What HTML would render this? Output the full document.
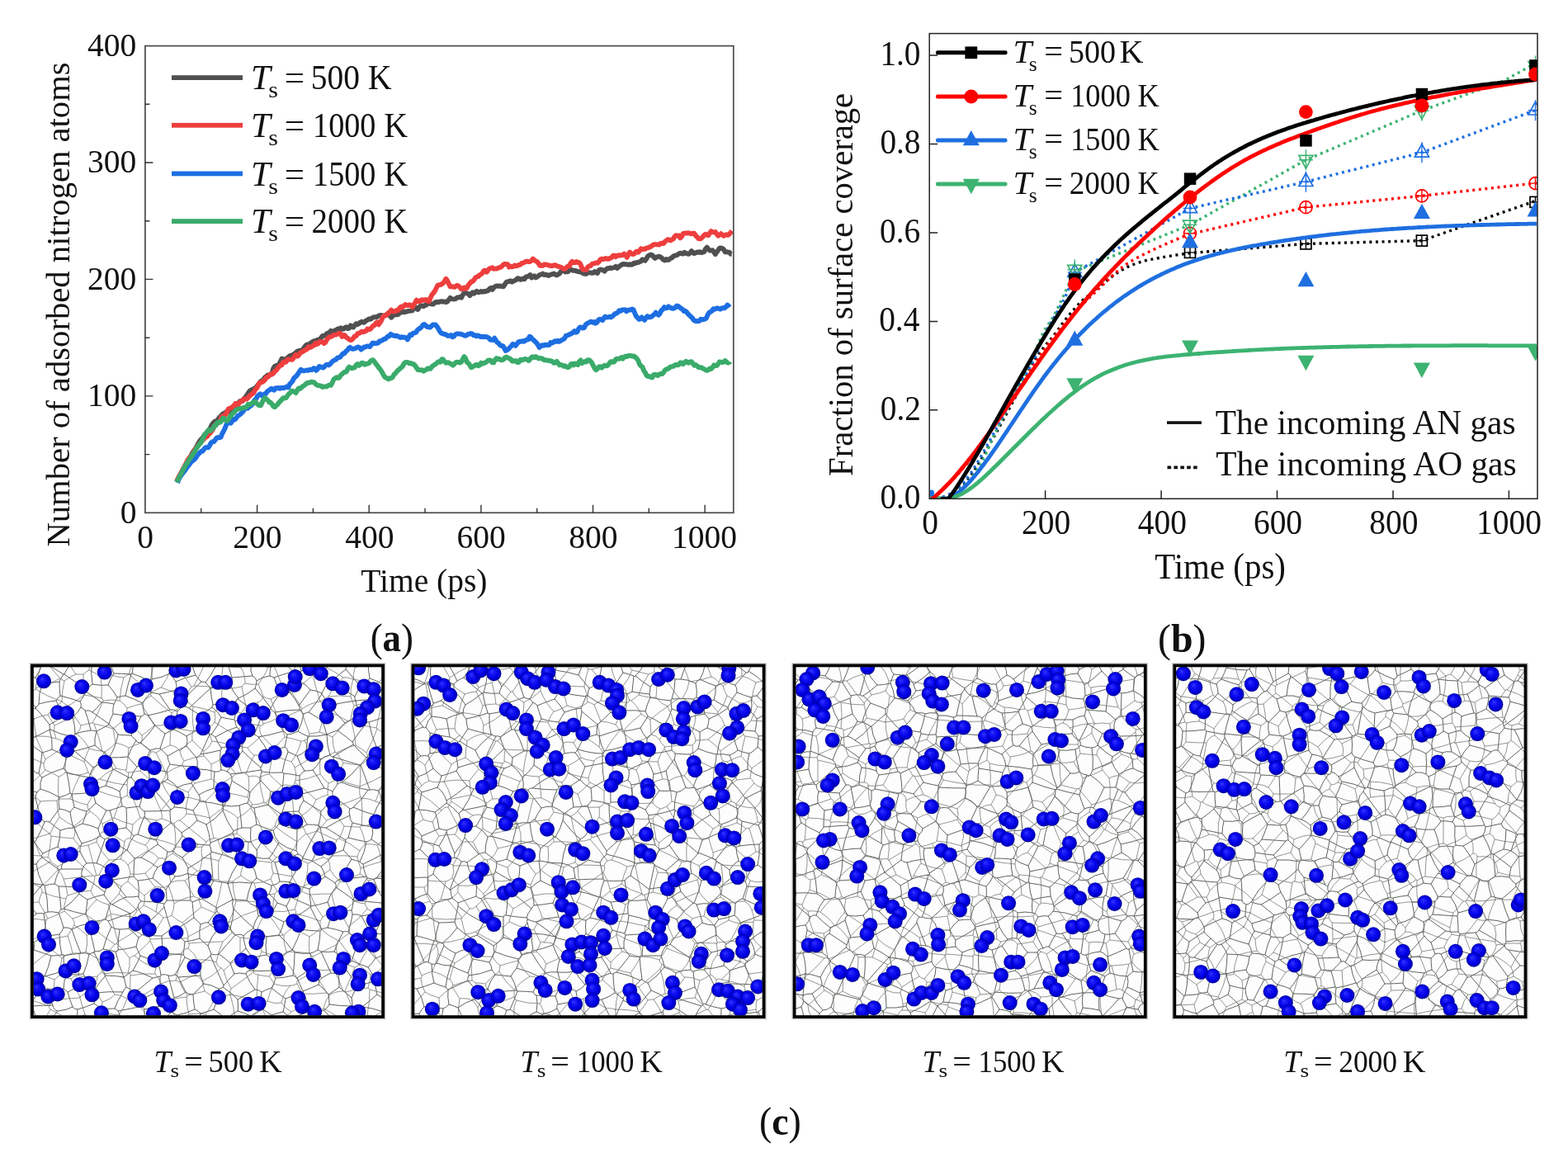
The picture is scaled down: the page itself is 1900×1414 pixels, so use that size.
<!DOCTYPE html><html><head><meta charset="utf-8"><style>
html,body{margin:0;padding:0;background:#fff;width:1900px;height:1414px;overflow:hidden}
svg{display:block}
text{font-family:'Liberation Serif', 'Times New Roman', serif;fill:#111}
.tl{font-size:36px}.al{font-size:38px}.yl{font-size:41px}.lg{font-size:40px}.sub{font-size:28px}
.tlb{font-size:37px}.alb{font-size:39px}.ylb{font-size:40px}.lgb{font-size:38px}.lgb2{font-size:40px}
.lc{font-size:34px}.subc{font-size:24px}.pl{font-size:40px}
</style></head><body>
<svg width="1900" height="1414" viewBox="0 0 1900 1414">
<rect width="1900" height="1414" fill="#fff"/>
<g id="pa">
<path d="M214.0,584.0L215.7,580.8L217.4,577.5L219.1,574.4L220.8,571.3L222.5,567.9L224.2,565.2L225.9,561.9L227.6,558.7L229.3,556.0L231.0,553.4L232.7,549.5L234.4,546.9L236.1,544.6L237.8,542.3L239.5,538.6L241.2,535.7L242.9,533.1L244.6,531.5L246.3,529.4L248.0,526.5L249.7,525.7L251.4,523.8L253.1,521.2L254.8,518.7L256.5,515.1L258.2,512.9L259.9,510.9L261.6,510.1L263.3,509.3L265.0,506.8L266.7,505.0L268.4,503.2L270.1,501.4L271.8,500.6L273.5,499.7L275.2,498.0L276.9,498.4L278.6,499.0L280.3,496.9L282.0,493.9L283.7,491.6L285.4,491.1L287.1,491.7L288.8,488.8L290.5,486.1L292.2,485.9L293.9,486.0L295.6,483.1L297.3,481.1L299.0,479.1L300.7,476.3L302.4,473.8L304.1,472.8L305.8,471.9L307.5,471.3L309.2,470.2L310.9,468.5L312.6,466.3L314.3,464.5L316.0,461.9L317.7,461.6L319.4,459.6L321.1,457.2L322.8,456.0L324.5,454.5L326.2,454.2L327.9,453.8L329.6,451.8L331.3,446.3L333.0,443.7L334.7,443.1L336.4,442.5L338.1,441.3L339.8,438.0L341.5,434.6L343.2,435.2L344.9,435.9L346.6,434.9L348.3,433.9L350.0,432.1L351.7,430.9L353.4,430.5L355.1,429.8L356.8,428.7L358.5,427.2L360.2,425.7L361.9,425.3L363.6,424.6L365.3,424.6L367.0,423.5L368.7,421.0L370.4,418.7L372.1,417.5L373.8,417.5L375.5,416.5L377.2,415.1L378.9,414.2L380.6,413.1L382.3,413.0L384.0,411.9L385.7,412.1L387.4,410.9L389.1,409.3L390.8,407.0L392.5,407.0L394.2,406.6L395.9,404.2L397.6,403.5L399.3,402.7L401.0,400.9L402.7,401.9L404.4,402.0L406.1,400.2L407.8,399.8L409.5,398.4L411.2,398.1L412.9,397.3L414.6,399.0L416.3,398.6L418.0,397.0L419.7,396.3L421.4,398.1L423.1,397.7L424.8,394.3L426.5,396.0L428.2,396.6L429.9,394.2L431.6,392.2L433.3,393.1L435.0,392.0L436.7,390.4L438.4,389.7L440.1,390.8L441.8,390.4L443.5,388.5L445.2,387.9L446.9,386.4L448.6,386.9L450.3,385.9L452.0,384.5L453.7,384.1L455.4,384.4L457.1,383.8L458.8,382.5L460.5,382.0L462.2,382.0L463.9,382.4L465.6,382.4L467.3,382.3L469.0,380.6L470.7,379.1L472.4,382.7L474.1,384.7L475.8,382.9L477.5,381.6L479.2,381.4L480.9,381.4L482.6,380.8L484.3,379.1L486.0,378.5L487.7,378.0L489.4,378.3L491.1,377.8L492.8,377.6L494.5,376.9L496.2,376.9L497.9,376.6L499.6,376.3L501.3,372.2L503.0,372.0L504.7,374.2L506.4,374.9L508.1,371.8L509.8,370.5L511.5,370.5L513.2,371.1L514.9,369.8L516.6,369.5L518.3,368.0L520.0,366.7L521.7,367.9L523.4,368.6L525.1,368.6L526.8,366.7L528.5,365.7L530.2,366.3L531.9,366.0L533.6,365.4L535.3,365.1L537.0,365.7L538.7,365.4L540.4,366.2L542.1,365.3L543.8,363.2L545.5,360.9L547.2,362.1L548.9,362.4L550.6,362.5L552.3,362.0L554.0,360.5L555.7,360.4L557.4,359.9L559.1,360.6L560.8,357.2L562.5,355.1L564.2,355.0L565.9,355.4L567.6,356.1L569.3,358.2L571.0,355.9L572.7,354.3L574.4,355.6L576.1,353.9L577.8,352.8L579.5,354.4L581.2,354.0L582.9,352.9L584.6,353.7L586.3,353.0L588.0,353.3L589.7,352.5L591.4,352.3L593.1,350.0L594.8,348.9L596.5,351.0L598.2,348.6L599.9,347.2L601.6,346.4L603.3,346.5L605.0,346.7L606.7,346.5L608.4,347.0L610.1,347.2L611.8,344.4L613.5,341.9L615.2,341.2L616.9,340.8L618.6,340.2L620.3,341.6L622.0,340.6L623.7,339.8L625.4,339.2L627.1,337.3L628.8,337.4L630.5,338.8L632.2,338.3L633.9,337.5L635.6,338.2L637.3,335.5L639.0,335.2L640.7,334.4L642.4,333.0L644.1,336.5L645.8,335.7L647.5,334.3L649.2,336.4L650.9,335.6L652.6,334.1L654.3,332.8L656.0,332.5L657.7,331.6L659.4,333.1L661.1,332.7L662.8,333.1L664.5,334.0L666.2,333.2L667.9,332.7L669.6,332.2L671.3,331.4L673.0,332.7L674.7,333.4L676.4,332.5L678.1,331.3L679.8,328.9L681.5,327.7L683.2,327.7L684.9,329.5L686.6,329.1L688.3,329.2L690.0,327.1L691.7,326.5L693.4,327.2L695.1,327.9L696.8,327.9L698.5,328.4L700.2,329.0L701.9,329.3L703.6,329.0L705.3,330.5L707.0,331.4L708.7,331.9L710.4,331.8L712.1,330.6L713.8,330.4L715.5,330.4L717.2,330.9L718.9,330.6L720.6,329.0L722.3,330.4L724.0,331.0L725.7,327.4L727.4,326.5L729.1,326.6L730.8,327.4L732.5,328.6L734.2,326.6L735.9,325.1L737.6,325.3L739.3,324.4L741.0,325.0L742.7,324.5L744.4,324.1L746.1,322.9L747.8,324.9L749.5,323.5L751.2,322.2L752.9,321.1L754.6,320.0L756.3,319.9L758.0,320.4L759.7,320.3L761.4,320.9L763.1,320.1L764.8,320.8L766.5,320.4L768.2,318.7L769.9,319.0L771.6,317.9L773.3,318.0L775.0,317.3L776.7,316.6L778.4,314.4L780.1,314.8L781.8,315.8L783.5,313.1L785.2,310.3L786.9,309.3L788.6,308.5L790.3,309.0L792.0,311.4L793.7,312.9L795.4,311.5L797.1,311.2L798.8,310.7L800.5,311.4L802.2,312.9L803.9,314.7L805.6,315.5L807.3,314.0L809.0,315.1L810.7,314.7L812.4,313.0L814.1,312.5L815.8,310.5L817.5,309.6L819.2,309.6L820.9,308.7L822.6,307.4L824.3,306.6L826.0,307.1L827.7,307.6L829.4,305.7L831.1,306.8L832.8,307.3L834.5,307.9L836.2,306.7L837.9,304.0L839.6,306.3L841.3,307.1L843.0,306.2L844.7,305.5L846.4,305.8L848.1,305.1L849.8,306.1L851.5,305.6L853.2,305.2L854.9,301.6L856.6,299.7L858.3,301.7L860.0,303.5L861.7,303.4L863.4,303.2L865.1,305.6L866.8,308.1L868.5,305.5L870.2,303.2L871.9,300.7L873.6,300.4L875.3,301.1L877.0,302.2L878.7,305.4L880.4,305.2L882.1,305.6L883.8,305.8L885.5,307.7L886.8,307.8" fill="none" stroke="#505050" stroke-width="5.9" stroke-linejoin="round" stroke-linecap="butt"/>
<path d="M214.0,583.0L215.7,579.7L217.4,576.4L219.1,573.6L220.8,570.1L222.5,566.9L224.2,564.0L225.9,560.5L227.6,557.1L229.3,554.7L231.0,553.2L232.7,551.5L234.4,548.1L236.1,544.9L237.8,543.0L239.5,540.3L241.2,538.3L242.9,536.9L244.6,534.4L246.3,532.7L248.0,530.8L249.7,529.8L251.4,528.4L253.1,526.0L254.8,524.7L256.5,522.5L258.2,519.5L259.9,516.3L261.6,513.9L263.3,512.9L265.0,511.9L266.7,510.6L268.4,505.0L270.1,504.0L271.8,503.4L273.5,502.1L275.2,498.7L276.9,495.3L278.6,494.7L280.3,494.2L282.0,492.6L283.7,491.3L285.4,488.9L287.1,490.7L288.8,489.9L290.5,487.2L292.2,486.5L293.9,485.1L295.6,483.3L297.3,483.5L299.0,483.5L300.7,481.5L302.4,479.8L304.1,478.3L305.8,477.2L307.5,475.6L309.2,472.1L310.9,470.6L312.6,467.8L314.3,463.8L316.0,463.4L317.7,462.9L319.4,461.9L321.1,460.1L322.8,457.0L324.5,456.9L326.2,455.2L327.9,453.3L329.6,453.6L331.3,452.4L333.0,449.8L334.7,448.8L336.4,446.4L338.1,444.3L339.8,442.5L341.5,442.3L343.2,438.4L344.9,438.9L346.6,438.7L348.3,435.5L350.0,435.5L351.7,435.6L353.4,435.8L355.1,434.9L356.8,431.7L358.5,429.9L360.2,431.6L361.9,430.6L363.6,427.7L365.3,426.8L367.0,425.9L368.7,424.8L370.4,423.8L372.1,423.0L373.8,420.2L375.5,421.1L377.2,420.4L378.9,419.2L380.6,418.4L382.3,415.5L384.0,417.1L385.7,416.2L387.4,413.9L389.1,414.1L390.8,414.1L392.5,416.1L394.2,415.0L395.9,411.9L397.6,409.3L399.3,408.4L401.0,408.0L402.7,407.0L404.4,406.0L406.1,405.7L407.8,405.4L409.5,404.5L411.2,403.4L412.9,404.8L414.6,408.0L416.3,405.9L418.0,406.4L419.7,408.9L421.4,409.8L423.1,411.4L424.8,412.2L426.5,411.7L428.2,409.7L429.9,407.3L431.6,407.0L433.3,404.2L435.0,403.9L436.7,402.9L438.4,401.7L440.1,402.2L441.8,401.6L443.5,400.9L445.2,398.6L446.9,399.3L448.6,398.9L450.3,396.9L452.0,394.7L453.7,394.1L455.4,391.6L457.1,390.4L458.8,393.3L460.5,390.9L462.2,388.0L463.9,384.1L465.6,382.5L467.3,382.1L469.0,381.0L470.7,379.5L472.4,377.6L474.1,375.7L475.8,377.2L477.5,377.6L479.2,377.0L480.9,375.8L482.6,376.0L484.3,373.2L486.0,371.6L487.7,372.5L489.4,370.7L491.1,369.0L492.8,369.8L494.5,370.2L496.2,369.2L497.9,369.9L499.6,372.1L501.3,369.3L503.0,366.8L504.7,363.7L506.4,364.9L508.1,365.6L509.8,364.0L511.5,363.2L513.2,363.9L514.9,363.2L516.6,363.1L518.3,364.8L520.0,365.0L521.7,360.7L523.4,357.0L525.1,355.1L526.8,352.9L528.5,349.5L530.2,346.0L531.9,345.2L533.6,345.1L535.3,344.2L537.0,343.1L538.7,340.8L540.4,337.8L542.1,340.2L543.8,343.8L545.5,347.3L547.2,347.1L548.9,347.4L550.6,347.9L552.3,346.6L554.0,345.8L555.7,346.7L557.4,348.3L559.1,350.4L560.8,349.9L562.5,348.4L564.2,350.0L565.9,348.6L567.6,345.3L569.3,343.5L571.0,341.1L572.7,341.1L574.4,339.2L576.1,336.4L577.8,335.5L579.5,334.9L581.2,333.1L582.9,332.3L584.6,330.8L586.3,327.9L588.0,327.8L589.7,329.6L591.4,327.4L593.1,325.4L594.8,325.0L596.5,324.3L598.2,325.8L599.9,325.6L601.6,325.6L603.3,325.0L605.0,324.1L606.7,323.8L608.4,322.4L610.1,320.5L611.8,319.8L613.5,320.1L615.2,320.3L616.9,323.7L618.6,322.6L620.3,323.3L622.0,322.9L623.7,321.4L625.4,322.3L627.1,321.8L628.8,321.1L630.5,320.6L632.2,318.9L633.9,318.6L635.6,317.8L637.3,316.7L639.0,316.6L640.7,317.2L642.4,316.8L644.1,315.6L645.8,313.5L647.5,315.3L649.2,316.3L650.9,317.2L652.6,319.3L654.3,321.7L656.0,321.5L657.7,321.8L659.4,320.5L661.1,320.4L662.8,320.9L664.5,321.1L666.2,322.0L667.9,321.9L669.6,322.2L671.3,321.2L673.0,321.2L674.7,322.3L676.4,322.7L678.1,323.3L679.8,323.9L681.5,324.8L683.2,325.9L684.9,325.7L686.6,323.9L688.3,322.4L690.0,322.2L691.7,318.5L693.4,316.8L695.1,318.4L696.8,318.1L698.5,317.1L700.2,318.1L701.9,318.1L703.6,320.6L705.3,325.2L707.0,326.9L708.7,326.6L710.4,326.8L712.1,323.6L713.8,322.4L715.5,322.1L717.2,320.0L718.9,319.4L720.6,319.0L722.3,318.4L724.0,318.7L725.7,317.3L727.4,314.5L729.1,313.7L730.8,314.2L732.5,313.7L734.2,312.9L735.9,313.8L737.6,313.9L739.3,312.6L741.0,312.4L742.7,309.9L744.4,309.5L746.1,311.1L747.8,310.0L749.5,309.2L751.2,309.5L752.9,309.3L754.6,309.2L756.3,307.5L758.0,309.0L759.7,311.8L761.4,308.5L763.1,305.5L764.8,307.2L766.5,308.0L768.2,307.9L769.9,305.8L771.6,304.5L773.3,305.7L775.0,304.0L776.7,301.2L778.4,302.1L780.1,301.8L781.8,301.8L783.5,300.4L785.2,300.2L786.9,299.5L788.6,298.8L790.3,297.5L792.0,296.3L793.7,296.3L795.4,296.4L797.1,296.3L798.8,296.5L800.5,295.0L802.2,294.8L803.9,295.1L805.6,292.9L807.3,291.6L809.0,290.1L810.7,290.4L812.4,291.4L814.1,290.4L815.8,289.6L817.5,286.5L819.2,285.2L820.9,285.8L822.6,285.5L824.3,288.3L826.0,286.7L827.7,283.1L829.4,282.7L831.1,282.4L832.8,282.6L834.5,282.2L836.2,282.8L837.9,283.4L839.6,282.6L841.3,282.8L843.0,285.5L844.7,287.1L846.4,289.1L848.1,289.4L849.8,288.7L851.5,287.1L853.2,285.0L854.9,283.8L856.6,284.5L858.3,285.2L860.0,282.4L861.7,280.2L863.4,281.4L865.1,281.4L866.8,281.0L868.5,283.6L870.2,285.7L871.9,284.6L873.6,283.1L875.3,284.6L877.0,285.8L878.7,284.7L880.4,284.3L882.1,284.9L883.8,283.7L885.5,281.5L886.8,279.6" fill="none" stroke="#ee3e3e" stroke-width="5.9" stroke-linejoin="round" stroke-linecap="butt"/>
<path d="M215.0,585.0L216.7,580.3L218.4,577.7L220.1,575.1L221.8,573.0L223.5,570.7L225.2,568.4L226.9,565.9L228.6,563.9L230.3,561.6L232.0,559.4L233.7,558.2L235.4,556.7L237.1,554.9L238.8,552.2L240.5,550.2L242.2,548.4L243.9,546.8L245.6,546.5L247.3,544.1L249.0,542.3L250.7,542.3L252.4,542.3L254.1,539.7L255.8,536.5L257.5,535.3L259.2,535.1L260.9,532.9L262.6,530.6L264.3,529.9L266.0,530.3L267.7,529.5L269.4,525.2L271.1,522.1L272.8,518.5L274.5,514.2L276.2,512.2L277.9,512.1L279.6,512.8L281.3,510.4L283.0,507.9L284.7,508.4L286.4,506.4L288.1,503.7L289.8,503.0L291.5,501.7L293.2,500.0L294.9,498.3L296.6,494.9L298.3,494.7L300.0,494.8L301.7,493.2L303.4,491.9L305.1,490.6L306.8,488.5L308.5,484.8L310.2,483.5L311.9,480.1L313.6,478.5L315.3,477.3L317.0,479.3L318.7,479.1L320.4,477.3L322.1,477.0L323.8,474.2L325.5,473.2L327.2,472.1L328.9,470.7L330.6,472.0L332.3,472.7L334.0,470.1L335.7,470.3L337.4,470.0L339.1,470.8L340.8,470.0L342.5,469.9L344.2,470.1L345.9,469.2L347.6,468.5L349.3,469.5L351.0,465.5L352.7,463.9L354.4,461.9L356.1,458.2L357.8,456.7L359.5,455.2L361.2,452.8L362.9,450.1L364.6,447.7L366.3,448.7L368.0,449.4L369.7,449.0L371.4,448.5L373.1,449.0L374.8,448.0L376.5,448.0L378.2,448.0L379.9,446.2L381.6,446.7L383.3,448.8L385.0,447.0L386.7,444.0L388.4,444.3L390.1,445.3L391.8,445.5L393.5,443.8L395.2,442.0L396.9,441.6L398.6,442.4L400.3,440.9L402.0,438.7L403.7,437.3L405.4,436.3L407.1,435.7L408.8,433.6L410.5,433.2L412.2,432.6L413.9,430.5L415.6,428.4L417.3,428.3L419.0,425.9L420.7,424.6L422.4,422.0L424.1,420.9L425.8,422.5L427.5,422.9L429.2,422.4L430.9,422.1L432.6,420.9L434.3,420.4L436.0,421.5L437.7,423.5L439.4,422.2L441.1,420.5L442.8,420.5L444.5,419.5L446.2,419.4L447.9,420.1L449.6,418.3L451.3,415.8L453.0,415.7L454.7,416.1L456.4,416.0L458.1,415.6L459.8,413.4L461.5,413.3L463.2,412.3L464.9,411.0L466.6,410.8L468.3,409.3L470.0,407.4L471.7,407.3L473.4,404.9L475.1,405.7L476.8,406.7L478.5,407.1L480.2,406.6L481.9,407.2L483.6,408.2L485.3,409.1L487.0,408.2L488.7,408.8L490.4,408.7L492.1,409.3L493.8,411.5L495.5,408.1L497.2,405.4L498.9,406.1L500.6,403.7L502.3,403.4L504.0,402.8L505.7,400.2L507.4,398.6L509.1,397.6L510.8,396.2L512.5,393.7L514.2,392.9L515.9,394.6L517.6,396.0L519.3,396.2L521.0,396.7L522.7,395.3L524.4,393.5L526.1,393.4L527.8,393.5L529.5,395.6L531.2,398.2L532.9,401.5L534.6,403.6L536.3,404.1L538.0,404.9L539.7,405.0L541.4,406.2L543.1,407.0L544.8,406.6L546.5,406.1L548.2,408.3L549.9,407.7L551.6,405.5L553.3,404.4L555.0,404.4L556.7,404.7L558.4,404.7L560.1,405.3L561.8,406.1L563.5,406.8L565.2,406.3L566.9,405.0L568.6,404.8L570.3,404.0L572.0,404.4L573.7,406.3L575.4,405.9L577.1,407.4L578.8,406.4L580.5,407.0L582.2,408.2L583.9,407.9L585.6,408.2L587.3,408.0L589.0,408.0L590.7,408.6L592.4,409.5L594.1,411.7L595.8,411.7L597.5,412.0L599.2,409.7L600.9,412.5L602.6,415.0L604.3,415.9L606.0,418.2L607.7,419.0L609.4,419.2L611.1,421.8L612.8,425.0L614.5,424.1L616.2,422.9L617.9,420.9L619.6,419.4L621.3,417.0L623.0,417.3L624.7,418.8L626.4,416.7L628.1,414.5L629.8,413.7L631.5,413.9L633.2,413.1L634.9,413.7L636.6,412.6L638.3,411.7L640.0,411.4L641.7,407.8L643.4,408.5L645.1,411.1L646.8,412.1L648.5,414.0L650.2,415.5L651.9,418.0L653.6,420.9L655.3,419.3L657.0,418.1L658.7,418.7L660.4,417.7L662.1,418.0L663.8,418.1L665.5,417.9L667.2,415.1L668.9,415.6L670.6,414.6L672.3,413.2L674.0,413.9L675.7,412.8L677.4,413.9L679.1,413.1L680.8,412.0L682.5,411.1L684.2,410.0L685.9,406.7L687.6,406.4L689.3,405.5L691.0,404.9L692.7,403.9L694.4,402.8L696.1,401.2L697.8,402.7L699.5,402.0L701.2,398.2L702.9,396.4L704.6,396.7L706.3,397.6L708.0,396.9L709.7,393.3L711.4,392.0L713.1,391.2L714.8,390.2L716.5,389.7L718.2,390.7L719.9,390.1L721.6,391.8L723.3,390.8L725.0,387.8L726.7,386.7L728.4,387.2L730.1,388.1L731.8,385.4L733.5,383.6L735.2,384.5L736.9,384.4L738.6,383.6L740.3,384.5L742.0,383.2L743.7,381.7L745.4,380.0L747.1,379.7L748.8,378.3L750.5,376.2L752.2,376.8L753.9,375.4L755.6,375.4L757.3,375.1L759.0,377.2L760.7,376.1L762.4,375.4L764.1,375.5L765.8,374.5L767.5,375.2L769.2,379.4L770.9,383.2L772.6,384.9L774.3,387.0L776.0,386.5L777.7,384.5L779.4,386.2L781.1,387.8L782.8,385.0L784.5,383.1L786.2,384.4L787.9,384.2L789.6,383.7L791.3,382.0L793.0,380.8L794.7,378.7L796.4,380.7L798.1,381.7L799.8,379.6L801.5,376.0L803.2,374.8L804.9,372.1L806.6,373.5L808.3,373.0L810.0,371.4L811.7,372.5L813.4,373.2L815.1,373.9L816.8,373.4L818.5,372.5L820.2,370.5L821.9,371.0L823.6,372.5L825.3,373.7L827.0,374.8L828.7,377.1L830.4,376.8L832.1,378.3L833.8,380.5L835.5,382.0L837.2,383.8L838.9,385.2L840.6,387.9L842.3,388.8L844.0,389.4L845.7,389.0L847.4,389.0L849.1,386.8L850.8,387.3L852.5,387.0L854.2,386.7L855.9,385.4L857.6,381.4L859.3,378.7L861.0,377.8L862.7,376.8L864.4,374.2L866.1,374.8L867.8,373.7L869.5,373.3L871.2,374.2L872.9,374.6L874.6,373.4L876.3,373.0L878.0,373.2L879.7,371.8L881.4,369.5L883.1,371.0L884.1,372.3" fill="none" stroke="#1d6ee2" stroke-width="5.9" stroke-linejoin="round" stroke-linecap="butt"/>
<path d="M214.0,584.0L215.7,580.9L217.4,577.7L219.1,574.7L220.8,571.4L222.5,568.0L224.2,565.0L225.9,562.3L227.6,559.6L229.3,556.7L231.0,554.5L232.7,552.0L234.4,549.5L236.1,546.7L237.8,543.5L239.5,541.3L241.2,538.7L242.9,537.1L244.6,534.2L246.3,530.5L248.0,526.9L249.7,524.8L251.4,522.5L253.1,520.9L254.8,522.0L256.5,520.4L258.2,518.9L259.9,515.9L261.6,515.4L263.3,512.0L265.0,511.1L266.7,511.7L268.4,509.9L270.1,506.6L271.8,507.0L273.5,509.3L275.2,510.1L276.9,507.8L278.6,504.9L280.3,503.4L282.0,500.7L283.7,499.6L285.4,497.1L287.1,496.3L288.8,495.5L290.5,495.4L292.2,494.6L293.9,494.8L295.6,493.7L297.3,493.8L299.0,492.7L300.7,489.8L302.4,490.3L304.1,489.7L305.8,488.1L307.5,487.3L309.2,486.5L310.9,488.8L312.6,490.2L314.3,491.4L316.0,491.3L317.7,487.6L319.4,484.1L321.1,481.9L322.8,483.6L324.5,484.8L326.2,487.5L327.9,487.7L329.6,489.6L331.3,492.7L333.0,493.1L334.7,491.4L336.4,490.1L338.1,487.6L339.8,486.0L341.5,484.0L343.2,482.1L344.9,482.5L346.6,482.0L348.3,479.5L350.0,477.3L351.7,476.0L353.4,473.8L355.1,474.0L356.8,474.5L358.5,476.0L360.2,472.9L361.9,470.4L363.6,471.0L365.3,469.5L367.0,468.0L368.7,467.0L370.4,465.5L372.1,464.0L373.8,463.8L375.5,463.5L377.2,462.8L378.9,463.0L380.6,463.3L382.3,465.1L384.0,466.5L385.7,467.1L387.4,467.3L389.1,467.6L390.8,469.1L392.5,468.4L394.2,468.4L395.9,468.5L397.6,467.2L399.3,466.4L401.0,466.8L402.7,463.6L404.4,459.6L406.1,458.4L407.8,457.2L409.5,458.1L411.2,457.4L412.9,454.5L414.6,453.2L416.3,451.5L418.0,450.9L419.7,450.4L421.4,446.7L423.1,444.6L424.8,445.9L426.5,446.0L428.2,445.8L429.9,445.2L431.6,442.4L433.3,441.0L435.0,442.9L436.7,441.6L438.4,439.7L440.1,439.9L441.8,441.7L443.5,441.1L445.2,440.6L446.9,440.2L448.6,438.0L450.3,436.6L452.0,436.2L453.7,438.2L455.4,440.8L457.1,442.7L458.8,445.3L460.5,447.1L462.2,449.6L463.9,452.8L465.6,455.9L467.3,457.7L469.0,458.1L470.7,459.4L472.4,458.2L474.1,458.2L475.8,457.0L477.5,453.7L479.2,452.4L480.9,450.1L482.6,448.4L484.3,447.0L486.0,445.4L487.7,444.1L489.4,440.6L491.1,439.2L492.8,438.8L494.5,439.1L496.2,440.3L497.9,440.0L499.6,441.1L501.3,441.2L503.0,443.0L504.7,445.5L506.4,448.0L508.1,448.2L509.8,448.4L511.5,448.3L513.2,449.8L514.9,448.6L516.6,447.9L518.3,446.3L520.0,446.9L521.7,446.7L523.4,444.2L525.1,442.7L526.8,441.7L528.5,440.7L530.2,439.1L531.9,438.1L533.6,438.7L535.3,435.2L537.0,435.5L538.7,438.3L540.4,439.7L542.1,439.2L543.8,439.5L545.5,440.4L547.2,441.3L548.9,442.6L550.6,441.0L552.3,439.1L554.0,438.7L555.7,438.9L557.4,439.5L559.1,438.6L560.8,435.0L562.5,432.1L564.2,434.1L565.9,439.1L567.6,439.9L569.3,442.4L571.0,445.3L572.7,444.6L574.4,443.4L576.1,442.3L577.8,441.7L579.5,443.2L581.2,442.5L582.9,439.7L584.6,440.7L586.3,440.0L588.0,439.4L589.7,438.5L591.4,436.6L593.1,436.4L594.8,436.6L596.5,439.2L598.2,439.3L599.9,436.0L601.6,434.1L603.3,435.2L605.0,434.8L606.7,436.0L608.4,436.3L610.1,435.6L611.8,433.4L613.5,432.5L615.2,433.4L616.9,434.3L618.6,434.9L620.3,437.3L622.0,437.7L623.7,437.1L625.4,437.3L627.1,439.1L628.8,438.9L630.5,435.8L632.2,436.3L633.9,436.0L635.6,435.0L637.3,435.0L639.0,435.9L640.7,437.0L642.4,435.0L644.1,433.0L645.8,432.2L647.5,433.2L649.2,432.1L650.9,433.0L652.6,434.4L654.3,434.2L656.0,434.0L657.7,434.9L659.4,436.3L661.1,436.2L662.8,436.6L664.5,437.0L666.2,436.9L667.9,437.6L669.6,438.1L671.3,439.8L673.0,439.5L674.7,438.0L676.4,440.1L678.1,442.4L679.8,442.0L681.5,442.5L683.2,443.9L684.9,443.3L686.6,444.7L688.3,445.1L690.0,444.3L691.7,441.4L693.4,440.8L695.1,442.4L696.8,440.4L698.5,440.6L700.2,442.0L701.9,438.3L703.6,436.4L705.3,440.1L707.0,439.0L708.7,437.9L710.4,438.6L712.1,436.2L713.8,436.2L715.5,437.5L717.2,439.6L718.9,443.1L720.6,446.4L722.3,448.2L724.0,446.9L725.7,444.4L727.4,444.3L729.1,445.6L730.8,444.0L732.5,442.7L734.2,443.2L735.9,443.0L737.6,441.5L739.3,438.8L741.0,438.0L742.7,438.9L744.4,438.2L746.1,435.2L747.8,434.6L749.5,434.7L751.2,434.5L752.9,433.1L754.6,434.7L756.3,432.4L758.0,431.7L759.7,432.2L761.4,431.0L763.1,431.0L764.8,431.1L766.5,431.8L768.2,431.5L769.9,432.9L771.6,434.3L773.3,436.8L775.0,441.4L776.7,443.5L778.4,444.5L780.1,448.9L781.8,451.4L783.5,454.9L785.2,456.0L786.9,455.9L788.6,457.1L790.3,457.5L792.0,454.2L793.7,453.8L795.4,454.4L797.1,455.1L798.8,453.4L800.5,453.0L802.2,453.1L803.9,451.4L805.6,448.9L807.3,447.5L809.0,446.9L810.7,446.1L812.4,444.4L814.1,444.2L815.8,443.9L817.5,442.5L819.2,441.9L820.9,442.4L822.6,442.0L824.3,439.4L826.0,439.4L827.7,441.1L829.4,439.6L831.1,437.8L832.8,438.9L834.5,439.8L836.2,438.4L837.9,438.3L839.6,440.4L841.3,442.7L843.0,442.0L844.7,443.4L846.4,445.0L848.1,445.2L849.8,445.1L851.5,446.4L853.2,447.2L854.9,448.4L856.6,448.8L858.3,448.4L860.0,446.4L861.7,447.0L863.4,445.3L865.1,442.4L866.8,443.1L868.5,443.0L870.2,441.0L871.9,438.4L873.6,438.9L875.3,439.1L877.0,438.5L878.7,437.0L880.4,438.8L882.1,439.6L883.8,439.0L884.1,438.1" fill="none" stroke="#3aab6a" stroke-width="5.9" stroke-linejoin="round" stroke-linecap="butt"/>
<rect x="175.9" y="55.6" width="712.9" height="565.7" fill="none" stroke="#4a4a4a" stroke-width="1.7"/>
<path d="M243.7,621.3V615.8M311.6,621.3V611.8M379.4,621.3V615.8M447.2,621.3V611.8M515.0,621.3V615.8M582.9,621.3V611.8M650.7,621.3V615.8M718.5,621.3V611.8M786.3,621.3V615.8M854.1,621.3V611.8M175.9,550.6H181.4M175.9,479.9H185.4M175.9,409.2H181.4M175.9,338.4H185.4M175.9,267.7H181.4M175.9,197.0H185.4M175.9,126.3H181.4" stroke="#333" stroke-width="1.4" fill="none"/>
<text x="166.32" y="664.00" font-size="40.90" textLength="19.75" lengthAdjust="spacingAndGlyphs">0</text>
<text x="282.22" y="664.00" font-size="40.90" textLength="59.26" lengthAdjust="spacingAndGlyphs">200</text>
<text x="418.26" y="664.00" font-size="40.90" textLength="59.26" lengthAdjust="spacingAndGlyphs">400</text>
<text x="553.52" y="664.00" font-size="40.90" textLength="59.26" lengthAdjust="spacingAndGlyphs">600</text>
<text x="689.17" y="664.00" font-size="40.90" textLength="59.26" lengthAdjust="spacingAndGlyphs">800</text>
<text x="813.95" y="664.00" font-size="40.90" textLength="79.02" lengthAdjust="spacingAndGlyphs">1000</text>
<text x="145.63" y="633.60" font-size="40.90" textLength="19.75" lengthAdjust="spacingAndGlyphs">0</text>
<text x="106.12" y="492.18" font-size="40.90" textLength="59.26" lengthAdjust="spacingAndGlyphs">100</text>
<text x="106.12" y="350.75" font-size="40.90" textLength="59.26" lengthAdjust="spacingAndGlyphs">200</text>
<text x="106.12" y="209.33" font-size="40.90" textLength="59.26" lengthAdjust="spacingAndGlyphs">300</text>
<text x="106.12" y="67.90" font-size="40.90" textLength="59.26" lengthAdjust="spacingAndGlyphs">400</text>
<text x="437.31" y="716.70" font-size="41.10" textLength="153.08" lengthAdjust="spacingAndGlyphs">Time (ps)</text>
<text transform="translate(83.60,0) rotate(-90)" x="-662.62" y="0" font-size="40.60" textLength="587.29" lengthAdjust="spacingAndGlyphs">Number of adsorbed nitrogen atoms</text>
<rect x="208" y="91.2" width="86" height="5.8" fill="#505050"/>
<text x="304.01" y="108.40" font-size="41.80" textLength="23.76" lengthAdjust="spacingAndGlyphs" font-style="italic">T</text>
<text x="325.30" y="118.20" font-size="26.70" textLength="11.68" lengthAdjust="spacingAndGlyphs">s</text>
<text x="344.75" y="108.40" font-size="41.80" textLength="24.28" lengthAdjust="spacingAndGlyphs">=</text>
<text x="376.73" y="108.40" font-size="41.80" textLength="59.14" lengthAdjust="spacingAndGlyphs">500</text>
<text x="445.80" y="108.40" font-size="41.80" textLength="28.89" lengthAdjust="spacingAndGlyphs">K</text>
<rect x="208" y="148.9" width="86" height="5.8" fill="#ee3e3e"/>
<text x="304.01" y="166.10" font-size="41.80" textLength="23.76" lengthAdjust="spacingAndGlyphs" font-style="italic">T</text>
<text x="325.30" y="175.90" font-size="26.70" textLength="11.68" lengthAdjust="spacingAndGlyphs">s</text>
<text x="344.75" y="166.10" font-size="41.80" textLength="24.28" lengthAdjust="spacingAndGlyphs">=</text>
<text x="379.07" y="166.10" font-size="41.80" textLength="76.26" lengthAdjust="spacingAndGlyphs">1000</text>
<text x="465.30" y="166.10" font-size="41.80" textLength="28.89" lengthAdjust="spacingAndGlyphs">K</text>
<rect x="208" y="207.5" width="86" height="5.8" fill="#1d6ee2"/>
<text x="304.01" y="224.70" font-size="41.80" textLength="23.76" lengthAdjust="spacingAndGlyphs" font-style="italic">T</text>
<text x="325.30" y="234.50" font-size="26.70" textLength="11.68" lengthAdjust="spacingAndGlyphs">s</text>
<text x="344.75" y="224.70" font-size="41.80" textLength="24.28" lengthAdjust="spacingAndGlyphs">=</text>
<text x="379.07" y="224.70" font-size="41.80" textLength="76.26" lengthAdjust="spacingAndGlyphs">1500</text>
<text x="465.30" y="224.70" font-size="41.80" textLength="28.89" lengthAdjust="spacingAndGlyphs">K</text>
<rect x="208" y="265.2" width="86" height="5.8" fill="#3aab6a"/>
<text x="304.01" y="282.40" font-size="41.80" textLength="23.76" lengthAdjust="spacingAndGlyphs" font-style="italic">T</text>
<text x="325.30" y="292.20" font-size="26.70" textLength="11.68" lengthAdjust="spacingAndGlyphs">s</text>
<text x="344.75" y="282.40" font-size="41.80" textLength="24.28" lengthAdjust="spacingAndGlyphs">=</text>
<text x="377.54" y="282.40" font-size="41.80" textLength="77.81" lengthAdjust="spacingAndGlyphs">2000</text>
<text x="465.30" y="282.40" font-size="41.80" textLength="28.89" lengthAdjust="spacingAndGlyphs">K</text>
</g>
<g id="pb">
<defs><clipPath id="cb"><rect x="1126.9" y="40.6" width="736.1" height="563.7"/></clipPath></defs>
<g clip-path="url(#cb)">
<path d="M1127.0,604.0 C1129.2,603.9 1134.7,604.9 1140.0,603.5 C1145.3,602.1 1152.6,600.5 1159.0,595.5 C1165.4,590.5 1170.8,584.6 1178.2,573.8 C1185.6,563.0 1195.1,545.6 1203.6,530.6 C1212.1,515.6 1220.6,499.4 1229.1,483.5 C1237.6,467.6 1246.6,448.0 1254.6,435.1 C1262.6,422.2 1270.4,415.0 1277.0,406.4 C1283.6,397.8 1288.3,390.4 1294.0,383.5 C1299.7,376.6 1306.0,369.6 1310.9,364.8 C1315.9,360.0 1316.7,360.2 1323.7,354.6 C1330.7,349.0 1343.8,337.0 1353.0,331.0 C1362.2,325.0 1369.5,321.7 1378.8,318.5 C1388.0,315.3 1398.0,313.8 1408.5,311.8 C1419.0,309.8 1436.4,307.5 1442.0,306.6 L1582.4,295.4 L1722.9,291.6 L1862.0,243.0" fill="none" stroke="#000000" stroke-width="3.4" stroke-dasharray="3.0 4.6"/>
<path d="M1127.0,604.0 C1128.8,603.0 1130.9,604.3 1137.9,597.9 C1144.9,591.5 1158.2,578.1 1168.8,565.4 C1179.4,552.7 1190.5,537.2 1201.3,521.5 C1212.1,505.8 1223.0,487.6 1233.8,471.1 C1244.6,454.6 1255.3,437.3 1266.3,422.3 C1277.3,407.3 1287.9,394.2 1300.0,381.0 C1312.1,367.8 1328.0,353.1 1338.7,343.0 C1349.4,332.9 1354.8,327.1 1364.0,320.7 C1373.2,314.3 1383.8,309.3 1393.7,304.4 C1403.6,299.4 1415.4,294.5 1423.4,291.0 C1431.5,287.5 1438.9,284.8 1442.0,283.6 L1582.4,251.2 L1722.9,237.3 L1862.0,221.8" fill="none" stroke="#ff0000" stroke-width="3.4" stroke-dasharray="3.0 4.6"/>
<path d="M1127.0,604.0 C1130.8,603.3 1142.5,603.1 1150.0,600.0 C1157.5,596.9 1165.0,592.4 1171.8,585.3 C1178.6,578.2 1185.6,566.6 1190.9,557.3 C1196.2,548.0 1200.2,536.5 1203.6,529.3 C1207.0,522.1 1206.9,522.5 1211.3,514.0 C1215.7,505.4 1223.5,491.0 1230.0,478.0 C1236.5,465.0 1244.3,448.5 1250.0,436.0 C1255.7,423.5 1259.7,411.9 1264.2,403.0 C1268.7,394.1 1272.8,390.4 1277.0,382.6 C1281.2,374.8 1285.5,365.2 1289.7,356.3 C1293.9,347.4 1300.2,333.6 1302.3,329.0 L1442.0,272.4 L1582.4,193.8 L1722.9,134.0 L1822.0,98.0 L1862.0,76.0" fill="none" stroke="#3cb371" stroke-width="3.4" stroke-dasharray="3.0 4.6"/>
<path d="M1127.0,604.0 C1130.8,603.2 1142.0,603.8 1150.0,599.0 C1158.0,594.2 1165.2,588.7 1175.0,575.0 C1184.8,561.3 1197.6,536.5 1208.7,516.6 C1219.8,496.7 1234.2,469.5 1241.8,455.5 C1249.4,441.5 1250.5,441.1 1254.6,432.5 C1258.7,423.9 1260.4,415.8 1266.3,404.0 C1272.2,392.2 1283.7,374.3 1289.7,362.0 C1295.7,349.7 1300.2,335.3 1302.3,330.0 L1442.0,252.4 L1582.4,220.2 L1722.9,184.8 L1862.0,133.0" fill="none" stroke="#1f6fe0" stroke-width="3.4" stroke-dasharray="3.0 4.6"/>
<rect x="1435.5" y="299.4" width="13.0" height="13.0" fill="#fff" fill-opacity="0" stroke="#000000" stroke-width="1.7"/><path d="M1442.0,299.4V312.4M1435.5,305.9H1448.5" stroke="#000000" stroke-width="1.4"/>
<rect x="1575.9" y="288.9" width="13.0" height="13.0" fill="#fff" fill-opacity="0" stroke="#000000" stroke-width="1.7"/><path d="M1582.4,288.9V301.9M1575.9,295.4H1588.9" stroke="#000000" stroke-width="1.4"/>
<rect x="1716.4" y="285.1" width="13.0" height="13.0" fill="#fff" fill-opacity="0" stroke="#000000" stroke-width="1.7"/><path d="M1722.9,285.1V298.1M1716.4,291.6H1729.4" stroke="#000000" stroke-width="1.4"/>
<rect x="1854.0" y="238.4" width="13.0" height="13.0" fill="#fff" fill-opacity="0" stroke="#000000" stroke-width="1.7"/><path d="M1860.5,238.4V251.4M1854.0,244.9H1867.0" stroke="#000000" stroke-width="1.4"/>
<circle cx="1442.0" cy="282.8" r="7.5" fill="none" stroke="#ff0000" stroke-width="1.7"/><path d="M1442.0,275.3V290.3M1434.5,282.8H1449.5" stroke="#ff0000" stroke-width="1.4"/>
<circle cx="1582.4" cy="251.2" r="7.5" fill="none" stroke="#ff0000" stroke-width="1.7"/><path d="M1582.4,243.7V258.7M1574.9,251.2H1589.9" stroke="#ff0000" stroke-width="1.4"/>
<circle cx="1722.9" cy="237.3" r="7.5" fill="none" stroke="#ff0000" stroke-width="1.7"/><path d="M1722.9,229.8V244.8M1715.4,237.3H1730.4" stroke="#ff0000" stroke-width="1.4"/>
<circle cx="1860.5" cy="222.1" r="7.5" fill="none" stroke="#ff0000" stroke-width="1.7"/><path d="M1860.5,214.6V229.6M1853.0,222.1H1868.0" stroke="#ff0000" stroke-width="1.4"/>
<polygon points="1302.3,319.7 1310.8,335.3 1293.8,335.3" fill="none" stroke="#1f6fe0" stroke-width="1.7"/><path d="M1302.3,317.5V342.5M1293.8,330.0H1310.8" stroke="#1f6fe0" stroke-width="1.4"/>
<polygon points="1442.0,242.1 1450.5,257.7 1433.5,257.7" fill="none" stroke="#1f6fe0" stroke-width="1.7"/><path d="M1442.0,239.9V264.9M1433.5,252.4H1450.5" stroke="#1f6fe0" stroke-width="1.4"/>
<polygon points="1582.4,209.9 1590.9,225.5 1573.9,225.5" fill="none" stroke="#1f6fe0" stroke-width="1.7"/><path d="M1582.4,207.7V232.7M1573.9,220.2H1590.9" stroke="#1f6fe0" stroke-width="1.4"/>
<polygon points="1722.9,174.5 1731.4,190.1 1714.4,190.1" fill="none" stroke="#1f6fe0" stroke-width="1.7"/><path d="M1722.9,172.3V197.3M1714.4,184.8H1731.4" stroke="#1f6fe0" stroke-width="1.4"/>
<polygon points="1860.5,123.4 1869.0,139.0 1852.0,139.0" fill="none" stroke="#1f6fe0" stroke-width="1.7"/><path d="M1860.5,121.2V146.2M1852.0,133.7H1869.0" stroke="#1f6fe0" stroke-width="1.4"/>
<polygon points="1302.3,337.0 1310.8,321.4 1293.8,321.4" fill="none" stroke="#3cb371" stroke-width="1.7"/><path d="M1302.3,314.2V339.2M1293.8,326.7H1310.8" stroke="#3cb371" stroke-width="1.4"/>
<polygon points="1442.0,282.7 1450.5,267.1 1433.5,267.1" fill="none" stroke="#3cb371" stroke-width="1.7"/><path d="M1442.0,259.9V284.9M1433.5,272.4H1450.5" stroke="#3cb371" stroke-width="1.4"/>
<polygon points="1582.4,204.0 1590.9,188.4 1573.9,188.4" fill="none" stroke="#3cb371" stroke-width="1.7"/><path d="M1582.4,181.2V206.2M1573.9,193.7H1590.9" stroke="#3cb371" stroke-width="1.4"/>
<polygon points="1722.9,144.3 1731.4,128.7 1714.4,128.7" fill="none" stroke="#3cb371" stroke-width="1.7"/><path d="M1722.9,121.5V146.5M1714.4,134.0H1731.4" stroke="#3cb371" stroke-width="1.4"/>
<polygon points="1860.5,90.3 1869.0,74.7 1852.0,74.7" fill="none" stroke="#3cb371" stroke-width="1.7"/><path d="M1860.5,67.5V92.5M1852.0,80.0H1869.0" stroke="#3cb371" stroke-width="1.4"/>
<path d="M1135.0,604.3L1152.0,603.6L1154.5,602.0L1157.0,600.2L1159.5,598.3L1162.0,596.2L1164.5,594.1L1167.0,591.8L1169.5,589.3L1172.0,586.8L1174.5,584.1L1177.0,581.3L1179.5,578.5L1182.0,575.5L1184.5,572.5L1187.0,569.3L1189.5,566.1L1192.0,562.8L1194.5,559.4L1197.0,556.0L1199.5,552.5L1202.0,549.0L1204.5,545.4L1207.0,541.8L1209.5,538.2L1212.0,534.5L1214.5,530.8L1217.0,527.0L1219.5,523.3L1222.0,519.6L1224.5,515.8L1227.0,512.0L1229.5,508.3L1232.0,504.5L1234.5,500.8L1237.0,497.0L1239.5,493.3L1242.0,489.6L1244.5,485.9L1247.0,482.2L1249.5,478.6L1252.0,474.9L1254.5,471.4L1257.0,467.8L1259.5,464.3L1262.0,460.8L1264.5,457.4L1267.0,454.0L1269.5,450.7L1272.0,447.4L1274.5,444.2L1277.0,441.0L1279.5,437.9L1282.0,434.8L1284.5,431.8L1287.0,428.8L1289.5,425.9L1292.0,423.0L1294.5,420.1L1297.0,417.3L1299.5,414.6L1302.0,411.9L1304.5,409.2L1307.0,406.6L1309.5,404.0L1312.0,401.5L1314.5,399.0L1317.0,396.5L1319.5,394.1L1322.0,391.8L1324.5,389.4L1327.0,387.2L1329.5,384.9L1332.0,382.7L1334.5,380.5L1337.0,378.4L1339.5,376.3L1342.0,374.3L1344.5,372.2L1347.0,370.3L1349.5,368.3L1352.0,366.4L1354.5,364.5L1357.0,362.7L1359.5,360.9L1362.0,359.1L1364.5,357.4L1367.0,355.7L1369.5,354.0L1372.0,352.4L1374.5,350.8L1377.0,349.2L1379.5,347.6L1382.0,346.1L1384.5,344.6L1387.0,343.2L1389.5,341.7L1392.0,340.3L1394.5,339.0L1397.0,337.6L1399.5,336.3L1402.0,335.0L1404.5,333.8L1407.0,332.5L1409.5,331.3L1412.0,330.1L1414.5,329.0L1417.0,327.9L1419.5,326.7L1422.0,325.7L1424.5,324.6L1427.0,323.6L1429.5,322.6L1432.0,321.6L1434.5,320.6L1437.0,319.6L1439.5,318.7L1442.0,317.8L1444.5,316.9L1447.0,316.1L1449.5,315.2L1452.0,314.4L1454.5,313.6L1457.0,312.8L1459.5,312.0L1462.0,311.2L1464.5,310.5L1467.0,309.8L1469.5,309.1L1472.0,308.4L1474.5,307.7L1477.0,307.1L1479.5,306.4L1482.0,305.8L1484.5,305.2L1487.0,304.6L1489.5,304.0L1492.0,303.4L1494.5,302.8L1497.0,302.3L1499.5,301.7L1502.0,301.2L1504.5,300.7L1507.0,300.1L1509.5,299.6L1512.0,299.1L1514.5,298.7L1517.0,298.2L1519.5,297.7L1522.0,297.3L1524.5,296.8L1527.0,296.4L1529.5,295.9L1532.0,295.5L1534.5,295.1L1537.0,294.6L1539.5,294.2L1542.0,293.8L1544.5,293.4L1547.0,293.0L1549.5,292.6L1552.0,292.2L1554.5,291.8L1557.0,291.4L1559.5,291.0L1562.0,290.7L1564.5,290.3L1567.0,289.9L1569.5,289.6L1572.0,289.2L1574.5,288.9L1577.0,288.5L1579.5,288.2L1582.0,287.9L1584.5,287.5L1587.0,287.2L1589.5,286.9L1592.0,286.6L1594.5,286.3L1597.0,286.0L1599.5,285.7L1602.0,285.4L1604.5,285.1L1607.0,284.8L1609.5,284.5L1612.0,284.2L1614.5,283.9L1617.0,283.6L1619.5,283.4L1622.0,283.1L1624.5,282.9L1627.0,282.6L1629.5,282.3L1632.0,282.1L1634.5,281.8L1637.0,281.6L1639.5,281.4L1642.0,281.1L1644.5,280.9L1647.0,280.7L1649.5,280.4L1652.0,280.2L1654.5,280.0L1657.0,279.8L1659.5,279.6L1662.0,279.4L1664.5,279.2L1667.0,279.0L1669.5,278.8L1672.0,278.6L1674.5,278.4L1677.0,278.2L1679.5,278.0L1682.0,277.9L1684.5,277.7L1687.0,277.5L1689.5,277.3L1692.0,277.2L1694.5,277.0L1697.0,276.9L1699.5,276.7L1702.0,276.5L1704.5,276.4L1707.0,276.2L1709.5,276.1L1712.0,276.0L1714.5,275.8L1717.0,275.7L1719.5,275.5L1722.0,275.4L1724.5,275.3L1727.0,275.2L1729.5,275.0L1732.0,274.9L1734.5,274.8L1737.0,274.7L1739.5,274.6L1742.0,274.4L1744.5,274.3L1747.0,274.2L1749.5,274.1L1752.0,274.0L1754.5,273.9L1757.0,273.8L1759.5,273.7L1762.0,273.6L1764.5,273.5L1767.0,273.4L1769.5,273.3L1772.0,273.3L1774.5,273.2L1777.0,273.1L1779.5,273.0L1782.0,272.9L1784.5,272.8L1787.0,272.8L1789.5,272.7L1792.0,272.6L1794.5,272.5L1797.0,272.5L1799.5,272.4L1802.0,272.3L1804.5,272.3L1807.0,272.2L1809.5,272.1L1812.0,272.1L1814.5,272.0L1817.0,272.0L1819.5,271.9L1822.0,271.8L1824.5,271.8L1827.0,271.7L1829.5,271.7L1832.0,271.6L1834.5,271.6L1837.0,271.5L1839.5,271.5L1842.0,271.4L1844.5,271.4L1847.0,271.3L1849.5,271.3L1852.0,271.2L1854.5,271.2L1857.0,271.2L1859.5,271.1L1862.0,271.1" fill="none" stroke="#1f6fe0" stroke-width="4.8" stroke-linejoin="round"/>
<path d="M1127.0,600.3L1129.5,601.4L1132.0,602.3L1134.5,603.0L1137.0,603.6L1139.5,604.0L1142.0,604.2L1144.5,604.2L1147.0,604.1L1149.5,603.8L1152.0,603.4L1154.5,602.7L1157.0,602.0L1159.5,601.1L1162.0,600.0L1164.5,598.8L1167.0,597.5L1169.5,596.0L1172.0,594.5L1174.5,592.8L1177.0,591.0L1179.5,589.1L1182.0,587.1L1184.5,585.1L1187.0,582.9L1189.5,580.7L1192.0,578.5L1194.5,576.2L1197.0,573.8L1199.5,571.4L1202.0,569.0L1204.5,566.6L1207.0,564.2L1209.5,561.7L1212.0,559.2L1214.5,556.7L1217.0,554.3L1219.5,551.8L1222.0,549.3L1224.5,546.8L1227.0,544.2L1229.5,541.7L1232.0,539.2L1234.5,536.7L1237.0,534.2L1239.5,531.7L1242.0,529.2L1244.5,526.7L1247.0,524.2L1249.5,521.8L1252.0,519.3L1254.5,516.9L1257.0,514.4L1259.5,512.0L1262.0,509.6L1264.5,507.2L1267.0,504.9L1269.5,502.6L1272.0,500.2L1274.5,498.0L1277.0,495.7L1279.5,493.5L1282.0,491.3L1284.5,489.1L1287.0,486.9L1289.5,484.8L1292.0,482.8L1294.5,480.7L1297.0,478.7L1299.5,476.8L1302.0,474.8L1304.5,473.0L1307.0,471.1L1309.5,469.3L1312.0,467.6L1314.5,465.9L1317.0,464.3L1319.5,462.7L1322.0,461.1L1324.5,459.6L1327.0,458.2L1329.5,456.8L1332.0,455.5L1334.5,454.2L1337.0,452.9L1339.5,451.7L1342.0,450.6L1344.5,449.5L1347.0,448.4L1349.5,447.4L1352.0,446.4L1354.5,445.4L1357.0,444.5L1359.5,443.7L1362.0,442.8L1364.5,442.0L1367.0,441.3L1369.5,440.5L1372.0,439.8L1374.5,439.2L1377.0,438.5L1379.5,437.9L1382.0,437.4L1384.5,436.8L1387.0,436.3L1389.5,435.8L1392.0,435.3L1394.5,434.8L1397.0,434.4L1399.5,434.0L1402.0,433.6L1404.5,433.2L1407.0,432.9L1409.5,432.6L1412.0,432.2L1414.5,431.9L1417.0,431.6L1419.5,431.4L1422.0,431.1L1424.5,430.8L1427.0,430.6L1429.5,430.4L1432.0,430.1L1434.5,429.9L1437.0,429.7L1439.5,429.5L1442.0,429.3L1444.5,429.1L1447.0,428.9L1449.5,428.7L1452.0,428.5L1454.5,428.3L1457.0,428.1L1459.5,427.9L1462.0,427.7L1464.5,427.5L1467.0,427.4L1469.5,427.2L1472.0,427.0L1474.5,426.8L1477.0,426.6L1479.5,426.5L1482.0,426.3L1484.5,426.1L1487.0,426.0L1489.5,425.8L1492.0,425.7L1494.5,425.5L1497.0,425.4L1499.5,425.2L1502.0,425.1L1504.5,424.9L1507.0,424.8L1509.5,424.6L1512.0,424.5L1514.5,424.3L1517.0,424.2L1519.5,424.1L1522.0,423.9L1524.5,423.8L1527.0,423.7L1529.5,423.6L1532.0,423.4L1534.5,423.3L1537.0,423.2L1539.5,423.1L1542.0,423.0L1544.5,422.9L1547.0,422.7L1549.5,422.6L1552.0,422.5L1554.5,422.4L1557.0,422.3L1559.5,422.2L1562.0,422.1L1564.5,422.0L1567.0,421.9L1569.5,421.8L1572.0,421.7L1574.5,421.7L1577.0,421.6L1579.5,421.5L1582.0,421.4L1584.5,421.3L1587.0,421.2L1589.5,421.1L1592.0,421.1L1594.5,421.0L1597.0,420.9L1599.5,420.8L1602.0,420.8L1604.5,420.7L1607.0,420.6L1609.5,420.6L1612.0,420.5L1614.5,420.4L1617.0,420.4L1619.5,420.3L1622.0,420.3L1624.5,420.2L1627.0,420.1L1629.5,420.1L1632.0,420.0L1634.5,420.0L1637.0,419.9L1639.5,419.9L1642.0,419.8L1644.5,419.8L1647.0,419.7L1649.5,419.7L1652.0,419.6L1654.5,419.6L1657.0,419.6L1659.5,419.5L1662.0,419.5L1664.5,419.4L1667.0,419.4L1669.5,419.4L1672.0,419.3L1674.5,419.3L1677.0,419.3L1679.5,419.2L1682.0,419.2L1684.5,419.2L1687.0,419.2L1689.5,419.1L1692.0,419.1L1694.5,419.1L1697.0,419.1L1699.5,419.0L1702.0,419.0L1704.5,419.0L1707.0,419.0L1709.5,419.0L1712.0,418.9L1714.5,418.9L1717.0,418.9L1719.5,418.9L1722.0,418.9L1724.5,418.9L1727.0,418.9L1729.5,418.8L1732.0,418.8L1734.5,418.8L1737.0,418.8L1739.5,418.8L1742.0,418.8L1744.5,418.8L1747.0,418.8L1749.5,418.8L1752.0,418.8L1754.5,418.8L1757.0,418.8L1759.5,418.7L1762.0,418.7L1764.5,418.7L1767.0,418.7L1769.5,418.7L1772.0,418.7L1774.5,418.7L1777.0,418.7L1779.5,418.7L1782.0,418.7L1784.5,418.7L1787.0,418.7L1789.5,418.7L1792.0,418.7L1794.5,418.7L1797.0,418.7L1799.5,418.7L1802.0,418.7L1804.5,418.8L1807.0,418.8L1809.5,418.8L1812.0,418.8L1814.5,418.8L1817.0,418.8L1819.5,418.8L1822.0,418.8L1824.5,418.8L1827.0,418.8L1829.5,418.8L1832.0,418.8L1834.5,418.8L1837.0,418.8L1839.5,418.8L1842.0,418.8L1844.5,418.8L1847.0,418.8L1849.5,418.8L1852.0,418.8L1854.5,418.9L1857.0,418.9L1859.5,418.9L1862.0,418.9" fill="none" stroke="#3cb371" stroke-width="4.8" stroke-linejoin="round"/>
<path d="M1129.0,604.3L1131.5,602.7L1134.0,600.6L1136.5,598.4L1139.0,596.1L1141.5,593.8L1144.0,591.3L1146.5,588.8L1149.0,586.3L1151.5,583.6L1154.0,580.9L1156.5,578.1L1159.0,575.3L1161.5,572.4L1164.0,569.4L1166.5,566.4L1169.0,563.3L1171.5,560.2L1174.0,557.1L1176.5,553.9L1179.0,550.7L1181.5,547.4L1184.0,544.1L1186.5,540.7L1189.0,537.4L1191.5,534.0L1194.0,530.5L1196.5,527.1L1199.0,523.6L1201.5,520.2L1204.0,516.6L1206.5,513.1L1209.0,509.6L1211.5,506.0L1214.0,502.5L1216.5,498.9L1219.0,495.3L1221.5,491.7L1224.0,488.1L1226.5,484.5L1229.0,480.9L1231.5,477.3L1234.0,473.7L1236.5,470.1L1239.0,466.4L1241.5,462.8L1244.0,459.2L1246.5,455.6L1249.0,452.0L1251.5,448.4L1254.0,444.9L1256.5,441.3L1259.0,437.8L1261.5,434.2L1264.0,430.7L1266.5,427.2L1269.0,423.7L1271.5,420.2L1274.0,416.8L1276.5,413.4L1279.0,410.0L1281.5,406.6L1284.0,403.3L1286.5,399.9L1289.0,396.6L1291.5,393.4L1294.0,390.1L1296.5,386.9L1299.0,383.7L1301.5,380.6L1304.0,377.4L1306.5,374.3L1309.0,371.2L1311.5,368.2L1314.0,365.1L1316.5,362.2L1319.0,359.2L1321.5,356.2L1324.0,353.3L1326.5,350.4L1329.0,347.6L1331.5,344.8L1334.0,342.0L1336.5,339.2L1339.0,336.5L1341.5,333.8L1344.0,331.1L1346.5,328.4L1349.0,325.8L1351.5,323.2L1354.0,320.6L1356.5,318.0L1359.0,315.5L1361.5,312.9L1364.0,310.4L1366.5,308.0L1369.0,305.5L1371.5,303.0L1374.0,300.6L1376.5,298.2L1379.0,295.8L1381.5,293.4L1384.0,291.1L1386.5,288.7L1389.0,286.4L1391.5,284.0L1394.0,281.7L1396.5,279.4L1399.0,277.1L1401.5,274.8L1404.0,272.6L1406.5,270.3L1409.0,268.1L1411.5,265.9L1414.0,263.6L1416.5,261.4L1419.0,259.3L1421.5,257.1L1424.0,254.9L1426.5,252.8L1429.0,250.7L1431.5,248.6L1434.0,246.5L1436.5,244.4L1439.0,242.4L1441.5,240.3L1444.0,238.3L1446.5,236.3L1449.0,234.3L1451.5,232.4L1454.0,230.4L1456.5,228.5L1459.0,226.6L1461.5,224.8L1464.0,222.9L1466.5,221.1L1469.0,219.3L1471.5,217.5L1474.0,215.7L1476.5,214.0L1479.0,212.3L1481.5,210.6L1484.0,208.9L1486.5,207.3L1489.0,205.7L1491.5,204.1L1494.0,202.5L1496.5,201.0L1499.0,199.5L1501.5,198.0L1504.0,196.5L1506.5,195.1L1509.0,193.7L1511.5,192.4L1514.0,191.0L1516.5,189.7L1519.0,188.4L1521.5,187.1L1524.0,185.9L1526.5,184.6L1529.0,183.4L1531.5,182.2L1534.0,181.1L1536.5,179.9L1539.0,178.8L1541.5,177.7L1544.0,176.6L1546.5,175.5L1549.0,174.4L1551.5,173.4L1554.0,172.3L1556.5,171.3L1559.0,170.3L1561.5,169.3L1564.0,168.3L1566.5,167.4L1569.0,166.4L1571.5,165.5L1574.0,164.5L1576.5,163.6L1579.0,162.7L1581.5,161.7L1584.0,160.8L1586.5,159.9L1589.0,159.0L1591.5,158.1L1594.0,157.2L1596.5,156.3L1599.0,155.5L1601.5,154.6L1604.0,153.7L1606.5,152.8L1609.0,151.9L1611.5,151.1L1614.0,150.2L1616.5,149.4L1619.0,148.5L1621.5,147.7L1624.0,146.8L1626.5,146.0L1629.0,145.2L1631.5,144.4L1634.0,143.6L1636.5,142.8L1639.0,142.0L1641.5,141.2L1644.0,140.4L1646.5,139.7L1649.0,138.9L1651.5,138.2L1654.0,137.5L1656.5,136.7L1659.0,136.0L1661.5,135.3L1664.0,134.6L1666.5,134.0L1669.0,133.3L1671.5,132.6L1674.0,131.9L1676.5,131.3L1679.0,130.7L1681.5,130.0L1684.0,129.4L1686.5,128.8L1689.0,128.2L1691.5,127.6L1694.0,127.0L1696.5,126.4L1699.0,125.8L1701.5,125.2L1704.0,124.6L1706.5,124.1L1709.0,123.5L1711.5,123.0L1714.0,122.4L1716.5,121.9L1719.0,121.3L1721.5,120.8L1724.0,120.3L1726.5,119.8L1729.0,119.3L1731.5,118.7L1734.0,118.2L1736.5,117.7L1739.0,117.3L1741.5,116.8L1744.0,116.3L1746.5,115.8L1749.0,115.3L1751.5,114.9L1754.0,114.4L1756.5,113.9L1759.0,113.5L1761.5,113.0L1764.0,112.6L1766.5,112.1L1769.0,111.7L1771.5,111.2L1774.0,110.8L1776.5,110.4L1779.0,109.9L1781.5,109.5L1784.0,109.1L1786.5,108.7L1789.0,108.2L1791.5,107.8L1794.0,107.4L1796.5,107.0L1799.0,106.6L1801.5,106.2L1804.0,105.8L1806.5,105.4L1809.0,104.9L1811.5,104.5L1814.0,104.1L1816.5,103.7L1819.0,103.3L1821.5,102.9L1824.0,102.5L1826.5,102.1L1829.0,101.7L1831.5,101.3L1834.0,100.9L1836.5,100.5L1839.0,100.1L1841.5,99.7L1844.0,99.3L1846.5,98.9L1849.0,98.5L1851.5,98.1L1854.0,97.7L1856.5,97.3L1859.0,96.9L1861.5,96.5" fill="none" stroke="#ff0000" stroke-width="4.8" stroke-linejoin="round"/>
<path d="M1140.0,604.3L1149.3,604.3L1151.8,600.9L1154.3,597.4L1156.8,593.8L1159.3,590.1L1161.8,586.3L1164.3,582.4L1166.8,578.5L1169.3,574.6L1171.8,570.5L1174.3,566.5L1176.8,562.3L1179.3,558.2L1181.8,553.9L1184.3,549.7L1186.8,545.4L1189.3,541.0L1191.8,536.7L1194.3,532.3L1196.8,527.9L1199.3,523.4L1201.8,519.0L1204.3,514.5L1206.8,510.1L1209.3,505.6L1211.8,501.1L1214.3,496.6L1216.8,492.2L1219.3,487.7L1221.8,483.2L1224.3,478.8L1226.8,474.4L1229.3,469.9L1231.8,465.5L1234.3,461.2L1236.8,456.8L1239.3,452.4L1241.8,448.1L1244.3,443.8L1246.8,439.5L1249.3,435.2L1251.8,430.9L1254.3,426.7L1256.8,422.5L1259.3,418.3L1261.8,414.1L1264.3,410.0L1266.8,405.9L1269.3,401.8L1271.8,397.7L1274.3,393.7L1276.8,389.7L1279.3,385.8L1281.8,381.9L1284.3,378.0L1286.8,374.3L1289.3,370.5L1291.8,366.9L1294.3,363.3L1296.8,359.7L1299.3,356.3L1301.8,352.9L1304.3,349.5L1306.8,346.2L1309.3,343.0L1311.8,339.9L1314.3,336.8L1316.8,333.7L1319.3,330.7L1321.8,327.8L1324.3,324.9L1326.8,322.1L1329.3,319.3L1331.8,316.6L1334.3,313.9L1336.8,311.3L1339.3,308.7L1341.8,306.1L1344.3,303.6L1346.8,301.1L1349.3,298.7L1351.8,296.3L1354.3,293.9L1356.8,291.6L1359.3,289.3L1361.8,287.0L1364.3,284.8L1366.8,282.6L1369.3,280.4L1371.8,278.2L1374.3,276.1L1376.8,274.0L1379.3,271.9L1381.8,269.8L1384.3,267.7L1386.8,265.7L1389.3,263.6L1391.8,261.6L1394.3,259.6L1396.8,257.6L1399.3,255.6L1401.8,253.6L1404.3,251.7L1406.8,249.7L1409.3,247.7L1411.8,245.7L1414.3,243.8L1416.8,241.8L1419.3,239.8L1421.8,237.8L1424.3,235.8L1426.8,233.8L1429.3,231.8L1431.8,229.8L1434.3,227.7L1436.8,225.7L1439.3,223.7L1441.8,221.7L1444.3,219.7L1446.8,217.8L1449.3,215.8L1451.8,213.8L1454.3,211.9L1456.8,210.0L1459.3,208.1L1461.8,206.3L1464.3,204.4L1466.8,202.6L1469.3,200.9L1471.8,199.1L1474.3,197.5L1476.8,195.8L1479.3,194.2L1481.8,192.6L1484.3,191.0L1486.8,189.5L1489.3,188.0L1491.8,186.5L1494.3,185.1L1496.8,183.6L1499.3,182.3L1501.8,180.9L1504.3,179.6L1506.8,178.3L1509.3,177.0L1511.8,175.7L1514.3,174.5L1516.8,173.3L1519.3,172.1L1521.8,171.0L1524.3,169.8L1526.8,168.7L1529.3,167.6L1531.8,166.6L1534.3,165.5L1536.8,164.5L1539.3,163.5L1541.8,162.5L1544.3,161.5L1546.8,160.5L1549.3,159.6L1551.8,158.7L1554.3,157.8L1556.8,156.9L1559.3,156.0L1561.8,155.1L1564.3,154.3L1566.8,153.5L1569.3,152.6L1571.8,151.8L1574.3,151.0L1576.8,150.2L1579.3,149.4L1581.8,148.7L1584.3,147.9L1586.8,147.1L1589.3,146.4L1591.8,145.7L1594.3,144.9L1596.8,144.2L1599.3,143.5L1601.8,142.8L1604.3,142.0L1606.8,141.3L1609.3,140.6L1611.8,139.9L1614.3,139.2L1616.8,138.6L1619.3,137.9L1621.8,137.2L1624.3,136.5L1626.8,135.9L1629.3,135.2L1631.8,134.5L1634.3,133.9L1636.8,133.2L1639.3,132.6L1641.8,132.0L1644.3,131.3L1646.8,130.7L1649.3,130.1L1651.8,129.5L1654.3,128.9L1656.8,128.3L1659.3,127.7L1661.8,127.1L1664.3,126.5L1666.8,125.9L1669.3,125.3L1671.8,124.7L1674.3,124.2L1676.8,123.6L1679.3,123.0L1681.8,122.5L1684.3,121.9L1686.8,121.4L1689.3,120.9L1691.8,120.3L1694.3,119.8L1696.8,119.3L1699.3,118.8L1701.8,118.2L1704.3,117.7L1706.8,117.2L1709.3,116.7L1711.8,116.2L1714.3,115.8L1716.8,115.3L1719.3,114.8L1721.8,114.3L1724.3,113.9L1726.8,113.4L1729.3,113.0L1731.8,112.5L1734.3,112.1L1736.8,111.6L1739.3,111.2L1741.8,110.8L1744.3,110.3L1746.8,109.9L1749.3,109.5L1751.8,109.1L1754.3,108.7L1756.8,108.3L1759.3,107.9L1761.8,107.5L1764.3,107.2L1766.8,106.8L1769.3,106.4L1771.8,106.0L1774.3,105.7L1776.8,105.3L1779.3,105.0L1781.8,104.6L1784.3,104.3L1786.8,104.0L1789.3,103.6L1791.8,103.3L1794.3,103.0L1796.8,102.7L1799.3,102.4L1801.8,102.1L1804.3,101.8L1806.8,101.5L1809.3,101.2L1811.8,100.9L1814.3,100.7L1816.8,100.4L1819.3,100.1L1821.8,99.9L1824.3,99.6L1826.8,99.4L1829.3,99.1L1831.8,98.9L1834.3,98.7L1836.8,98.4L1839.3,98.2L1841.8,98.0L1844.3,97.8L1846.8,97.6L1849.3,97.4L1851.8,97.2L1854.3,97.0L1856.8,96.8L1859.3,96.7L1861.8,96.5" fill="none" stroke="#000000" stroke-width="4.8" stroke-linejoin="round"/>
<polygon points="1302.3,476.7 1312.3,458.3 1292.3,458.3" fill="#3cb371"/>
<polygon points="1442.0,430.8 1452.0,412.4 1432.0,412.4" fill="#3cb371"/>
<polygon points="1582.4,449.2 1592.4,430.8 1572.4,430.8" fill="#3cb371"/>
<polygon points="1722.9,457.9 1732.9,439.5 1712.9,439.5" fill="#3cb371"/>
<polygon points="1860.5,437.4 1870.5,419.0 1850.5,419.0" fill="#3cb371"/>
<polygon points="1302.3,400.4 1312.3,418.8 1292.3,418.8" fill="#1f6fe0"/>
<polygon points="1442.0,281.9 1452.0,300.3 1432.0,300.3" fill="#1f6fe0"/>
<polygon points="1582.4,328.9 1592.4,347.3 1572.4,347.3" fill="#1f6fe0"/>
<polygon points="1722.9,246.7 1732.9,265.1 1712.9,265.1" fill="#1f6fe0"/>
<polygon points="1860.5,244.1 1870.5,262.5 1850.5,262.5" fill="#1f6fe0"/>
<rect x="1295.0" y="331.2" width="14.5" height="14.5" fill="#000000"/>
<rect x="1434.8" y="209.4" width="14.5" height="14.5" fill="#000000"/>
<rect x="1575.2" y="163.1" width="14.5" height="14.5" fill="#000000"/>
<rect x="1715.7" y="106.8" width="14.5" height="14.5" fill="#000000"/>
<rect x="1853.2" y="72.2" width="14.5" height="14.5" fill="#000000"/>
<circle cx="1302.3" cy="344.5" r="8.4" fill="#ff0000"/>
<circle cx="1442.0" cy="239.0" r="8.4" fill="#ff0000"/>
<circle cx="1582.4" cy="135.6" r="8.4" fill="#ff0000"/>
<circle cx="1722.9" cy="128.0" r="8.4" fill="#ff0000"/>
<circle cx="1860.5" cy="90.0" r="8.4" fill="#ff0000"/>
<ellipse cx="1129" cy="597.5" rx="3" ry="4" fill="#1f6fe0"/>
</g>
<rect x="1126.2" y="40.6" width="736.8" height="563.7" fill="none" stroke="#222" stroke-width="1.5"/>
<path d="M1266.6,604.3V594.3M1407.1,604.3V594.3M1547.5,604.3V594.3M1688.0,604.3V594.3M1828.4,604.3V594.3M1126.2,496.8H1136.2M1126.2,389.4H1136.2M1126.2,281.9H1136.2M1126.2,174.5H1136.2M1126.2,67.0H1136.2" stroke="#222" stroke-width="1.5" fill="none"/>
<text x="1117.33" y="647.00" font-size="41.50" textLength="19.73" lengthAdjust="spacingAndGlyphs">0</text>
<text x="1238.04" y="647.00" font-size="41.50" textLength="59.20" lengthAdjust="spacingAndGlyphs">200</text>
<text x="1378.87" y="647.00" font-size="41.50" textLength="59.20" lengthAdjust="spacingAndGlyphs">400</text>
<text x="1518.92" y="647.00" font-size="41.50" textLength="59.20" lengthAdjust="spacingAndGlyphs">600</text>
<text x="1659.36" y="647.00" font-size="41.50" textLength="59.20" lengthAdjust="spacingAndGlyphs">800</text>
<text x="1788.95" y="647.00" font-size="41.50" textLength="78.93" lengthAdjust="spacingAndGlyphs">1000</text>
<text x="1066.40" y="616.10" font-size="41.50" textLength="49.07" lengthAdjust="spacingAndGlyphs">0.0</text>
<text x="1066.79" y="508.64" font-size="41.50" textLength="49.07" lengthAdjust="spacingAndGlyphs">0.2</text>
<text x="1065.22" y="401.18" font-size="41.50" textLength="49.07" lengthAdjust="spacingAndGlyphs">0.4</text>
<text x="1066.00" y="293.72" font-size="41.50" textLength="49.07" lengthAdjust="spacingAndGlyphs">0.6</text>
<text x="1066.40" y="186.26" font-size="41.50" textLength="49.07" lengthAdjust="spacingAndGlyphs">0.8</text>
<text x="1066.40" y="78.80" font-size="41.50" textLength="49.07" lengthAdjust="spacingAndGlyphs">1.0</text>
<text x="1399.18" y="701.20" font-size="43.70" textLength="158.77" lengthAdjust="spacingAndGlyphs">Time (ps)</text>
<text transform="translate(1033.20,0) rotate(-90)" x="-576.92" y="0" font-size="42.60" textLength="464.08" lengthAdjust="spacingAndGlyphs">Fraction of surface coverage</text>
<rect x="1134" y="61.3" width="86.5" height="5" rx="2" fill="#000000"/>
<rect x="1169.4" y="56.4" width="14.8" height="14.8" fill="#000000"/>
<text x="1227.64" y="76.10" font-size="39.20" textLength="22.75" lengthAdjust="spacingAndGlyphs" font-style="italic">T</text>
<text x="1246.88" y="85.90" font-size="25.00" textLength="9.92" lengthAdjust="spacingAndGlyphs">s</text>
<text x="1265.38" y="76.10" font-size="39.20" textLength="22.77" lengthAdjust="spacingAndGlyphs">=</text>
<text x="1294.92" y="76.10" font-size="39.20" textLength="57.11" lengthAdjust="spacingAndGlyphs">500</text>
<text x="1356.40" y="76.10" font-size="39.20" textLength="28.99" lengthAdjust="spacingAndGlyphs">K</text>
<rect x="1134" y="114.4" width="86.5" height="5" rx="2" fill="#ff0000"/>
<circle cx="1176.8" cy="116.9" r="8.5" fill="#ff0000"/>
<text x="1227.64" y="129.20" font-size="39.20" textLength="22.75" lengthAdjust="spacingAndGlyphs" font-style="italic">T</text>
<text x="1246.88" y="139.00" font-size="25.00" textLength="9.92" lengthAdjust="spacingAndGlyphs">s</text>
<text x="1265.38" y="129.20" font-size="39.20" textLength="22.77" lengthAdjust="spacingAndGlyphs">=</text>
<text x="1297.23" y="129.20" font-size="39.20" textLength="72.62" lengthAdjust="spacingAndGlyphs">1000</text>
<text x="1378.41" y="129.20" font-size="39.20" textLength="26.23" lengthAdjust="spacingAndGlyphs">K</text>
<rect x="1134" y="167.5" width="86.5" height="5" rx="2" fill="#1f6fe0"/>
<polygon points="1176.8,157.9 1186.8,176.3 1166.8,176.3" fill="#1f6fe0"/>
<text x="1227.64" y="182.30" font-size="39.20" textLength="22.75" lengthAdjust="spacingAndGlyphs" font-style="italic">T</text>
<text x="1246.88" y="192.10" font-size="25.00" textLength="9.92" lengthAdjust="spacingAndGlyphs">s</text>
<text x="1265.38" y="182.30" font-size="39.20" textLength="22.77" lengthAdjust="spacingAndGlyphs">=</text>
<text x="1297.23" y="182.30" font-size="39.20" textLength="72.62" lengthAdjust="spacingAndGlyphs">1500</text>
<text x="1378.41" y="182.30" font-size="39.20" textLength="26.23" lengthAdjust="spacingAndGlyphs">K</text>
<rect x="1134" y="220.6" width="86.5" height="5" rx="2" fill="#3cb371"/>
<polygon points="1176.8,235.2 1186.8,216.8 1166.8,216.8" fill="#3cb371"/>
<text x="1227.64" y="235.40" font-size="39.20" textLength="22.75" lengthAdjust="spacingAndGlyphs" font-style="italic">T</text>
<text x="1246.88" y="245.20" font-size="25.00" textLength="9.92" lengthAdjust="spacingAndGlyphs">s</text>
<text x="1265.38" y="235.40" font-size="39.20" textLength="22.77" lengthAdjust="spacingAndGlyphs">=</text>
<text x="1295.72" y="235.40" font-size="39.20" textLength="74.17" lengthAdjust="spacingAndGlyphs">2000</text>
<text x="1378.41" y="235.40" font-size="39.20" textLength="26.23" lengthAdjust="spacingAndGlyphs">K</text>
<rect x="1414" y="510.3" width="42" height="3.6" fill="#111"/>
<path d="M1414.5,566.3H1454" stroke="#111" stroke-width="3.8" stroke-dasharray="4.6 3.3"/>
<text x="1472.87" y="525.80" font-size="41.80" textLength="363.65" lengthAdjust="spacingAndGlyphs">The incoming AN gas</text>
<text x="1473.17" y="576.20" font-size="41.80" textLength="364.45" lengthAdjust="spacingAndGlyphs">The incoming AO gas</text>
</g>
<defs><radialGradient id="ag" cx="0.5" cy="0.5" r="0.5" fx="0.36" fy="0.33"><stop offset="0" stop-color="#3535ff"/><stop offset="0.45" stop-color="#0a0af2"/><stop offset="0.8" stop-color="#0000d6"/><stop offset="1" stop-color="#000090"/></radialGradient><filter id="soft" x="-2%" y="-2%" width="104%" height="104%"><feGaussianBlur stdDeviation="0.55"/></filter></defs>
<g id="pc">
<clipPath id="cp0"><rect x="40.6" y="808.1" width="421.8" height="422.3"/></clipPath>
<rect x="40.6" y="808.1" width="421.8" height="422.3" fill="#fcfdfc"/>
<g clip-path="url(#cp0)"><g filter="url(#soft)">
<path d="M479 924Q468 914 458 905M458 905Q465 902 473 899M250 999Q254 1011 255 1021M250 999Q244 996 239 994M240 1023Q230 1019 221 1013M240 1023Q248 1024 254 1024M221 1013Q220 1010 220 1009M220 1009Q232 1002 239 994M254 1024Q256 1021 255 1021M431 1224Q439 1233 446 1244M431 1224Q431 1223 431 1224M413 1245Q423 1234 431 1224M35 1157Q39 1153 41 1151M54 1183Q59 1172 62 1158M54 1183Q51 1185 49 1188M32 1176Q43 1183 49 1188M41 1151Q53 1155 62 1158M77 1158Q77 1165 78 1175M77 1158Q78 1156 75 1157M78 1175Q68 1180 54 1183M75 1157Q70 1158 62 1158M30 1124Q36 1133 41 1142M41 1151Q42 1147 41 1142M240 1023Q231 1030 221 1039M221 1013Q214 1023 209 1031M209 1031Q214 1036 221 1039M234 982Q222 978 211 978M234 982Q238 977 242 971M242 971Q243 966 241 963M241 963Q236 956 232 949M211 978Q213 965 215 954M232 949Q223 950 215 954M484 1008Q476 1021 467 1030M467 1030Q466 1032 467 1033M474 1043Q471 1037 467 1033M396 890Q384 893 373 892M396 890Q396 903 400 915M373 892Q372 902 371 909M400 915Q393 916 389 920M371 909Q382 914 389 920M396 890Q393 880 391 874M396 890Q402 887 409 885M409 885Q414 879 418 876M418 876Q408 865 400 856M391 874Q395 863 400 856M396 890Q398 891 396 890M400 915Q402 917 403 917M403 917Q415 910 428 902M409 885Q420 893 427 899M427 899Q429 902 428 902M457 1205Q464 1210 469 1212M457 1205Q449 1212 439 1220M439 1220Q451 1221 464 1226M464 1226Q466 1222 469 1217M481 1177Q466 1182 455 1187M454 1189Q453 1187 455 1187M454 1189Q455 1197 457 1205M431 1224Q435 1222 439 1220M460 1244Q463 1235 464 1226M411 1244Q402 1233 392 1224M431 1224Q427 1221 427 1219M427 1219Q412 1219 399 1217M399 1217Q397 1222 392 1224M427 1219Q427 1215 426 1209M454 1189Q444 1192 433 1194M426 1209Q430 1200 433 1194M357 1154Q365 1156 376 1155M357 1154Q358 1152 354 1151M354 1151Q360 1140 365 1126M388 1128Q375 1128 365 1126M388 1128Q388 1138 385 1151M376 1155Q381 1154 385 1151M81 1181Q92 1181 101 1180M81 1181Q78 1179 78 1175M77 1158Q88 1156 98 1155M98 1155Q103 1154 108 1156M101 1180Q106 1168 108 1156M81 1181Q77 1188 77 1198M49 1188Q51 1190 53 1197M77 1198Q68 1199 57 1198M53 1197Q53 1198 57 1198M193 1009Q183 998 175 989M193 1009Q193 1012 189 1018M189 1018Q178 1016 167 1011M175 989Q170 1000 167 1011M207 997Q213 1002 220 1009M207 997Q199 1004 193 1009M209 1031Q206 1033 203 1032M189 1018Q192 1022 191 1023M191 1023Q197 1027 203 1032M242 971Q257 972 271 976M241 963Q249 958 259 955M259 955Q267 966 271 976M207 997Q206 989 206 982M234 982Q237 988 239 994M211 978Q211 979 207 981M206 982Q208 980 207 981M175 989Q176 986 175 983M206 982Q190 983 175 983M215 954Q211 949 203 944M203 944Q196 950 185 955M207 981Q195 966 185 955M137 932Q131 943 128 952M137 932Q145 936 156 942M156 942Q150 949 145 959M128 952Q136 954 145 959M131 921Q122 924 113 930M131 921Q134 926 137 932M112 958Q111 949 108 942M112 958Q119 955 128 952M113 930Q110 935 108 942M232 949Q235 940 241 932M259 955Q259 945 260 935M241 932Q252 932 260 935M437 927Q439 924 444 918M437 927Q442 940 448 957M472 940Q458 927 445 917M472 945Q467 951 458 958M448 957Q452 956 458 958M445 917Q446 918 444 918M436 927Q438 926 437 927M436 927Q419 922 404 917M404 917Q404 917 403 917M428 902Q435 910 444 918M458 905Q459 905 456 905M456 905Q451 909 445 917M458 958Q462 962 462 969M470 973Q464 971 462 969M467 1030Q460 1023 450 1017M436 1044Q442 1033 444 1020M436 1044Q437 1046 440 1047M467 1033Q453 1041 440 1047M450 1017Q448 1019 444 1020M454 1131Q460 1121 464 1110M454 1131Q472 1133 487 1133M464 1110Q479 1114 496 1121M453 1132Q462 1144 472 1153M453 1132Q455 1131 454 1131M371 909Q366 914 360 916M389 920Q385 928 379 933M379 933Q374 934 369 934M360 916Q363 925 369 934M373 892Q365 889 361 886M361 886Q353 890 348 890M349 911Q356 914 360 916M349 911Q349 907 345 905M345 905Q347 897 348 890M464 829Q471 821 476 811M464 829Q466 832 465 831M465 831Q472 837 480 841M465 831Q461 839 457 845M468 867Q462 858 457 845M456 905Q450 891 447 875M468 867Q459 872 447 875M427 899Q435 887 445 875M447 875Q447 874 445 875M418 876Q428 870 435 867M445 875Q439 871 435 867M338 1021Q332 1014 331 1006M338 1021Q332 1032 326 1040M331 1006Q329 1006 329 1006M311 1030Q318 1017 329 1006M311 1030Q312 1033 311 1039M326 1040Q318 1041 311 1039M388 1128Q389 1126 390 1126M365 1126Q359 1117 356 1112M356 1112Q367 1106 376 1099M376 1099Q382 1111 390 1126M405 1153Q398 1154 389 1153M405 1153Q409 1141 416 1129M416 1129Q408 1126 397 1124M385 1151Q386 1151 389 1153M390 1126Q394 1124 397 1124M463 1107Q465 1109 464 1110M463 1107Q450 1107 438 1110M453 1132Q453 1134 451 1133M438 1110Q444 1122 451 1133M352 1087Q350 1078 351 1069M352 1087Q365 1093 377 1098M377 1098Q377 1098 377 1098M377 1098Q375 1088 375 1077M375 1077Q364 1075 351 1069M338 1021Q347 1028 359 1031M326 1040Q329 1043 333 1045M333 1045Q346 1042 361 1035M359 1031Q361 1032 361 1035M339 1068Q337 1057 333 1045M339 1068Q345 1068 351 1069M367 1040Q359 1055 351 1069M367 1040Q366 1038 367 1039M361 1035Q365 1036 367 1039M311 1030Q306 1024 304 1020M289 1045Q286 1043 286 1041M289 1045Q297 1047 304 1046M286 1041Q286 1029 288 1021M311 1039Q307 1041 304 1046M304 1020Q295 1019 288 1021M254 1024Q256 1028 256 1032M255 1021Q270 1016 282 1009M256 1032Q272 1036 286 1041M282 1009Q283 1014 288 1021M328 959Q337 960 342 959M328 959Q322 952 316 946M342 959Q343 947 344 937M317 935Q315 939 316 946M317 935Q328 937 342 936M342 936Q343 936 344 937M303 960Q293 953 281 946M303 960Q308 954 316 946M316 933Q297 936 279 938M316 933Q318 932 317 935M279 938Q282 941 281 946M349 911Q344 923 342 936M363 940Q354 938 344 937M363 940Q364 938 369 934M331 1006Q335 1003 338 998M359 1031Q360 1020 360 1005M338 998Q348 1003 360 1005M139 1222Q141 1223 143 1225M139 1222Q142 1213 149 1202M164 1202Q159 1199 153 1196M164 1202Q166 1206 171 1211M149 1202Q150 1199 153 1196M143 1225Q159 1222 173 1219M171 1211Q171 1214 173 1219M174 1245Q176 1233 175 1223M150 1243Q148 1235 143 1225M175 1223Q173 1220 173 1219M208 1226Q205 1221 204 1218M208 1226Q195 1240 180 1251M175 1223Q190 1219 204 1218M357 1154Q357 1168 355 1182M378 1173Q379 1164 376 1155M378 1173Q370 1178 360 1185M360 1185Q356 1182 355 1182M398 1205Q394 1199 386 1193M398 1205Q403 1202 411 1196M411 1196Q411 1186 410 1179M386 1193Q386 1187 390 1185M390 1185Q396 1181 401 1179M410 1179Q407 1180 401 1179M399 1217Q399 1211 398 1205M426 1209Q420 1204 411 1196M433 1194Q426 1185 419 1174M419 1174Q416 1176 410 1179M378 1173Q384 1178 390 1185M360 1185Q363 1192 367 1201M367 1201Q375 1198 386 1193M389 1153Q395 1166 401 1179M405 1153Q415 1161 423 1166M423 1166Q420 1169 419 1174M18 1214Q28 1217 39 1216M39 1216Q41 1216 40 1212M40 1212Q31 1201 22 1189M40 1219Q38 1217 39 1216M40 1219Q53 1218 64 1218M64 1218Q59 1208 57 1198M53 1197Q45 1203 40 1212M43 1231Q28 1238 17 1245M43 1231Q45 1236 49 1237M40 1219Q40 1223 43 1231M161 1176Q154 1181 150 1184M161 1176Q167 1166 170 1158M150 1184Q148 1185 150 1184M150 1184Q144 1170 140 1153M170 1158Q167 1152 165 1147M165 1147Q153 1150 143 1151M140 1153Q143 1153 143 1151M164 1202Q176 1193 185 1185M185 1185Q171 1178 161 1176M153 1196Q152 1191 150 1184M139 1222Q130 1222 123 1223M123 1223Q123 1234 124 1244M30 1124Q36 1114 44 1107M44 1107Q38 1099 33 1092M33 1092Q42 1084 51 1072M51 1072Q37 1071 23 1066M197 793Q189 797 184 805M184 805Q175 800 164 796M197 793Q201 801 208 809M208 809Q208 812 206 816M206 816Q197 821 184 823M184 805Q184 813 184 823M183 839Q182 834 182 825M183 839Q188 840 193 841M193 841Q202 839 213 836M213 836Q215 832 213 826M206 816Q209 820 213 826M184 823Q183 825 182 825M29 823Q37 820 43 821M52 802Q48 814 43 821M23 831Q32 844 43 857M47 853Q45 857 43 857M47 853Q47 839 51 829M43 821Q46 827 51 829M68 849Q56 850 47 853M68 849Q71 844 73 843M51 829Q62 827 72 826M73 843Q72 836 72 826M52 802Q64 809 77 817M72 826Q73 823 77 817M81 791Q84 800 85 806M85 806Q80 811 78 817M78 817Q77 817 77 817M85 806Q99 803 108 803M179 867Q193 864 206 860M179 867Q177 865 175 865M183 839Q176 846 173 852M206 860Q199 850 193 841M173 852Q173 858 175 865M68 849Q74 859 76 867M43 858Q53 868 60 878M43 858Q44 859 43 857M60 878Q67 875 76 867M43 858Q36 861 32 864M60 878Q60 882 61 884M61 884Q60 885 60 884M32 891Q35 892 36 896M60 884Q49 890 36 896M208 809Q219 803 231 800M183 955Q177 958 175 959M183 955Q181 945 180 932M175 959Q166 951 159 942M159 942Q161 935 166 929M166 929Q168 929 174 926M180 932Q179 929 174 926M175 983Q171 981 169 977M169 977Q172 966 175 959M185 955Q184 956 183 955M203 944Q204 941 202 935M202 935Q193 933 180 932M153 979Q152 977 148 977M153 979Q162 978 169 977M148 977Q146 966 145 959M156 942Q156 942 159 942M464 1089Q457 1077 453 1066M464 1089Q474 1085 485 1080M489 1067Q471 1066 456 1064M456 1064Q454 1063 453 1066M463 1107Q464 1101 462 1094M462 1094Q464 1093 464 1089M474 1043Q464 1052 456 1064M440 1047Q440 1053 444 1062M453 1066Q450 1064 445 1064M444 1062Q446 1063 445 1064M426 1041Q432 1043 436 1044M426 1041Q419 1053 411 1066M444 1062Q428 1064 411 1066M474 999Q466 997 455 997M462 969Q456 978 453 987M453 987Q453 991 455 997M450 1017Q453 1010 451 1002M455 997Q453 999 451 1002M476 807Q462 803 449 800M448 822Q446 811 446 801M448 822Q455 824 464 829M448 822Q443 828 436 831M436 831Q429 822 419 811M419 811Q419 807 421 802M355 814Q348 806 339 796M355 814Q360 814 363 816M363 816Q362 816 365 813M357 781Q361 799 365 813M434 1139Q436 1138 438 1139M434 1139Q431 1152 426 1164M438 1139Q445 1151 455 1161M426 1164Q438 1169 446 1172M446 1172Q451 1167 455 1161M438 1110Q434 1107 427 1108M427 1108Q426 1116 422 1129M422 1129Q426 1135 434 1139M451 1133Q443 1137 438 1139M423 1166Q426 1166 426 1164M416 1129Q418 1128 422 1129M471 1154Q464 1158 455 1161M455 1187Q450 1178 446 1172M329 1006Q318 1002 311 999M304 1020Q303 1011 304 1003M311 999Q308 1000 304 1003M325 975Q332 981 340 986M325 975Q316 977 308 979M338 998Q337 992 340 986M311 999Q310 991 308 979M303 960Q303 966 300 973M325 975Q327 967 328 959M308 979Q304 978 300 973M255 1034Q257 1050 258 1066M255 1034Q242 1044 228 1052M258 1066Q243 1060 228 1059M228 1052Q227 1056 228 1058M228 1058Q228 1060 228 1059M276 1070Q281 1056 289 1045M276 1070Q268 1069 259 1067M256 1032Q256 1034 255 1034M259 1067Q257 1068 258 1066M221 1039Q226 1048 228 1052M245 1089Q240 1090 233 1093M245 1089Q253 1080 259 1067M233 1093Q234 1094 231 1091M231 1091Q230 1074 228 1059M329 1073Q319 1069 311 1064M329 1073Q329 1078 326 1083M326 1083Q318 1091 310 1098M305 1070Q307 1067 311 1064M305 1070Q301 1079 299 1091M299 1091Q303 1096 310 1098M339 1068Q336 1072 329 1073M304 1046Q310 1055 311 1064M276 1070Q275 1072 276 1070M276 1070Q290 1068 305 1070M276 1070Q279 1081 282 1090M282 1090Q290 1090 299 1091M347 1098Q342 1096 336 1094M347 1098Q350 1104 352 1112M336 1094Q331 1102 329 1109M329 1109Q337 1114 344 1117M344 1117Q348 1113 352 1112M352 1087Q351 1091 347 1098M351 1069Q349 1069 351 1069M326 1083Q332 1088 336 1094M356 1112Q354 1113 352 1112M376 1099Q377 1099 377 1098M313 1110Q313 1103 310 1098M313 1110Q321 1108 329 1109M338 1133Q347 1141 354 1151M338 1133Q342 1125 344 1117M354 1151Q356 1150 354 1151M340 986Q339 987 342 984M372 999Q366 1003 360 1005M372 999Q367 989 362 983M362 983Q353 983 342 984M342 959Q345 962 348 964M342 984Q345 975 348 964M363 940Q363 949 363 960M348 964Q357 961 363 960M236 1223Q226 1228 214 1230M236 1223Q241 1225 243 1228M243 1228Q242 1234 242 1238M215 1242Q213 1237 214 1230M208 1226Q210 1227 214 1230M196 1134Q196 1144 198 1155M196 1134Q187 1135 176 1131M176 1131Q172 1132 168 1136M168 1136Q166 1142 165 1147M170 1158Q181 1162 190 1165M190 1165Q194 1160 198 1155M224 1141Q223 1151 222 1157M224 1141Q218 1136 212 1127M212 1127Q210 1127 207 1126M207 1126Q200 1131 196 1134M198 1155Q211 1156 222 1157M234 1205Q234 1212 236 1223M234 1205Q240 1199 247 1192M259 1223Q251 1226 243 1228M259 1223Q264 1212 265 1198M265 1198Q256 1193 247 1192M323 1135Q321 1146 323 1157M323 1135Q329 1134 338 1133M354 1151Q342 1158 330 1163M323 1157Q328 1160 330 1163M235 1112Q222 1121 212 1127M235 1112Q239 1115 243 1120M224 1141Q233 1140 242 1137M243 1120Q241 1128 242 1137M282 1090Q280 1091 282 1090M245 1089Q256 1096 263 1100M263 1100Q273 1095 282 1090M323 1135Q316 1129 307 1125M298 1149Q301 1154 306 1160M298 1149Q295 1140 295 1134M306 1160Q316 1158 323 1157M295 1134Q299 1129 307 1125M313 1110Q309 1115 307 1124M282 1090Q281 1097 283 1101M283 1101Q295 1114 307 1124M307 1125Q306 1124 307 1124M259 1223Q268 1229 274 1235M274 1235Q275 1241 274 1243M265 1198Q268 1198 270 1196M288 1211Q281 1203 270 1196M288 1211Q289 1220 288 1225M274 1235Q279 1230 288 1225M171 1211Q181 1207 192 1200M204 1218Q204 1217 204 1217M204 1217Q196 1207 192 1200M185 1185Q189 1184 194 1183M192 1200Q195 1191 194 1183M190 1165Q194 1171 195 1181M194 1183Q195 1183 195 1181M288 1225Q295 1227 304 1231M304 1231Q303 1238 305 1244M353 1233Q353 1244 352 1250M353 1233Q364 1230 376 1225M380 1238Q379 1232 380 1228M380 1228Q377 1227 376 1225M346 1210Q356 1207 367 1202M346 1210Q345 1218 343 1226M367 1202Q372 1212 376 1225M343 1226Q349 1231 353 1233M392 1224Q385 1226 380 1228M367 1201Q368 1203 367 1202M77 1198Q81 1201 82 1202M101 1180Q104 1186 104 1189M82 1202Q92 1198 104 1189M149 1202Q131 1201 116 1203M123 1223Q118 1218 114 1216M114 1216Q114 1211 116 1203M128 1182Q121 1190 116 1197M128 1182Q140 1182 150 1184M116 1203Q117 1201 116 1197M108 1156Q113 1154 114 1154M114 1154Q121 1169 128 1182M104 1189Q111 1193 116 1197M70 1225Q81 1224 88 1220M70 1225Q65 1231 60 1237M88 1220Q90 1223 94 1223M94 1223Q93 1236 94 1245M64 1218Q65 1224 70 1225M82 1202Q84 1210 88 1220M114 1216Q102 1221 94 1223M112 958Q111 959 111 960M81 936Q94 940 108 942M81 936Q84 950 85 961M85 961Q86 962 87 962M87 962Q98 962 111 960M85 984Q86 982 90 978M85 984Q86 993 89 1003M89 1003Q90 1001 90 1003M90 1003Q94 1000 100 998M90 978Q99 982 105 983M100 998Q103 991 105 983M87 962Q88 969 90 978M111 960Q115 966 116 973M105 983Q110 980 116 973M100 998Q111 1000 119 1004M116 973Q124 979 129 982M119 1004Q123 993 129 982M148 977Q142 979 133 982M133 982Q131 982 129 982M167 1067Q169 1075 168 1086M167 1067Q163 1064 162 1062M168 1086Q162 1087 153 1087M153 1087Q145 1077 137 1066M162 1062Q148 1064 137 1066M41 1142Q49 1136 56 1133M44 1107Q48 1106 53 1107M53 1107Q55 1121 56 1133M75 1157Q72 1145 72 1132M56 1133Q64 1134 72 1132M98 1155Q92 1141 87 1126M87 1126Q82 1123 77 1124M72 1132Q75 1129 77 1124M51 1072Q53 1071 52 1072M52 1072Q46 1061 44 1047M44 1047Q35 1047 27 1049M114 1154Q112 1153 115 1153M87 1126Q96 1121 107 1119M107 1119Q111 1135 115 1153M140 1153Q131 1151 125 1150M125 1150Q122 1153 115 1153M182 825Q171 820 160 816M162 796Q162 808 160 816M152 843Q163 847 173 852M152 843Q154 832 159 817M159 817Q158 816 160 816M137 865Q155 868 171 868M137 865Q136 860 138 853M152 843Q148 843 142 845M175 865Q173 868 171 868M142 845Q141 848 138 853M123 801Q119 803 111 804M123 801Q128 800 133 803M111 804Q110 816 112 829M133 803Q136 811 138 816M138 816Q133 823 131 830M131 830Q121 831 112 829M108 803Q110 805 111 804M152 787Q142 795 133 803M78 817Q90 825 105 836M105 836Q107 832 112 829M159 817Q148 816 138 816M142 845Q137 836 131 830M143 890Q140 906 132 918M143 890Q150 891 159 891M165 897Q158 908 155 917M165 897Q160 893 159 891M155 917Q145 918 132 918M132 877Q131 876 132 878M132 877Q133 873 137 865M171 868Q164 880 159 891M132 878Q139 882 143 890M166 929Q160 923 155 917M174 926Q177 920 182 909M170 900Q178 906 182 909M170 900Q166 900 165 897M179 867Q184 873 188 879M188 879Q180 890 170 900M131 921Q133 917 132 918M132 918Q133 917 132 918M188 879Q195 885 200 889M182 909Q190 906 194 907M194 907Q197 897 200 889M206 860Q211 859 215 862M215 862Q213 874 211 884M211 884Q207 885 200 889M428 1091Q426 1089 428 1090M428 1091Q428 1098 426 1103M428 1090Q419 1083 407 1075M426 1103Q414 1104 403 1104M407 1075Q400 1083 397 1093M397 1093Q399 1101 403 1104M462 1094Q443 1092 428 1091M445 1064Q437 1076 428 1090M427 1108Q427 1106 426 1103M406 1070Q408 1073 407 1075M406 1070Q407 1067 411 1066M397 1124Q400 1115 403 1104M377 1098Q388 1096 397 1093M375 1077Q384 1069 394 1062M394 1062Q401 1066 406 1070M448 957Q448 958 446 957M453 987Q441 984 428 978M446 957Q439 969 428 978M436 927Q427 939 414 948M446 957Q432 955 414 948M404 917Q406 934 409 950M414 948Q412 948 409 950M405 1034Q398 1026 392 1018M405 1034Q398 1044 389 1050M392 1018Q385 1030 378 1043M389 1050Q384 1047 378 1043M426 1041Q421 1035 416 1030M394 1062Q393 1056 389 1050M416 1030Q411 1032 405 1034M367 1040Q374 1042 378 1043M444 1020Q433 1018 422 1015M451 1002Q439 1000 427 997M427 997Q424 1007 422 1015M416 1030Q418 1023 419 1018M422 1015Q419 1017 419 1018M215 862Q219 857 223 856M244 883Q243 875 242 866M244 883Q234 886 226 892M242 866Q235 862 229 858M226 892Q218 887 211 884M223 856Q226 856 229 858M213 836Q216 843 222 847M223 856Q221 851 222 847M355 814Q342 817 332 821M332 821Q336 831 339 841M363 816Q363 821 364 826M339 841Q346 838 351 839M364 826Q358 831 351 839M436 831Q434 836 430 844M419 811Q409 818 402 826M402 826Q416 835 430 844M400 856Q402 857 400 855M435 867Q433 860 431 849M400 855Q414 851 431 849M457 845Q443 849 431 849M430 844Q429 846 431 849M431 849Q429 850 431 849M387 804Q389 797 391 793M387 804Q395 817 400 826M400 826Q402 827 402 826M365 813Q376 809 387 804M283 1007Q286 1005 293 1003M283 1007Q275 996 270 982M293 1003Q292 991 290 976M290 976Q280 978 272 976M270 982Q271 977 271 977M271 977Q273 976 272 976M282 1009Q282 1008 283 1007M304 1003Q300 1003 293 1003M250 999Q261 993 270 982M300 973Q297 973 290 976M281 946Q277 961 272 976M271 976Q270 978 271 977M279 938Q279 937 275 935M260 935Q265 936 268 933M275 935Q270 932 268 933M212 1062Q205 1071 201 1078M212 1062Q206 1053 198 1047M201 1078Q193 1070 185 1064M185 1064Q187 1056 191 1051M191 1051Q194 1049 198 1047M202 1091Q202 1086 201 1078M202 1091Q216 1091 231 1091M228 1058Q220 1062 212 1062M203 1032Q202 1041 198 1047M171 1039Q182 1044 191 1051M171 1039Q166 1039 163 1040M167 1067Q178 1066 185 1064M163 1040Q162 1051 162 1062M171 1039Q180 1030 191 1023M284 1180Q276 1188 271 1194M284 1180Q281 1173 279 1167M271 1194Q262 1174 255 1158M279 1167Q273 1161 265 1156M265 1156Q262 1158 256 1156M256 1156Q256 1157 255 1158M247 1192Q245 1189 243 1182M243 1182Q242 1175 244 1167M244 1167Q251 1162 255 1158M270 1196Q271 1194 271 1194M298 1149Q289 1157 279 1167M285 1133Q292 1131 295 1134M285 1133Q275 1144 265 1156M222 1157Q224 1158 224 1160M224 1160Q233 1165 244 1167M242 1137Q247 1142 252 1146M252 1146Q254 1151 256 1156M298 1180Q302 1190 309 1199M298 1180Q298 1177 302 1176M302 1176Q316 1177 330 1176M309 1199Q314 1199 317 1202M317 1202Q322 1199 329 1197M329 1197Q332 1193 334 1185M334 1185Q331 1183 330 1176M288 1211Q299 1205 309 1199M284 1180Q290 1178 298 1180M306 1160Q305 1169 302 1176M330 1163Q331 1169 330 1176M317 1222Q310 1227 304 1231M317 1222Q315 1211 317 1202M346 1210Q337 1204 329 1197M343 1226Q338 1227 329 1230M317 1222Q322 1225 329 1230M355 1182Q344 1185 334 1185M264 1126Q258 1124 252 1118M264 1126Q271 1126 279 1126M279 1126Q280 1125 279 1125M279 1125Q272 1115 263 1104M252 1118Q258 1109 263 1104M243 1120Q250 1117 252 1118M252 1146Q256 1134 264 1126M285 1133Q282 1129 279 1126M283 1101Q283 1112 279 1125M263 1100Q262 1102 263 1104M235 1112Q234 1103 233 1093M212 1181Q208 1183 204 1182M212 1181Q214 1181 216 1184M204 1182Q207 1195 211 1209M216 1184Q221 1194 225 1202M225 1202Q219 1207 211 1209M224 1160Q219 1170 212 1181M195 1181Q201 1180 204 1182M243 1182Q231 1183 216 1184M204 1217Q207 1214 211 1209M234 1205Q228 1205 225 1202M329 1230Q331 1236 329 1244M171 1092Q167 1095 167 1099M171 1092Q185 1092 199 1095M167 1099Q172 1109 178 1119M178 1119Q189 1110 199 1099M199 1099Q198 1096 199 1095M202 1091Q200 1095 199 1095M168 1086Q167 1088 171 1092M207 1126Q202 1111 199 1099M176 1131Q177 1126 178 1119M153 1087Q146 1089 136 1096M167 1099Q164 1104 158 1107M136 1096Q148 1102 158 1107M140 1005Q135 1011 131 1016M140 1005Q145 1004 153 1003M131 1016Q142 1024 153 1030M153 1003Q158 1008 162 1013M162 1013Q157 1020 154 1030M154 1030Q155 1031 153 1030M153 979Q154 990 153 1003M133 982Q136 992 140 1005M167 1011Q165 1011 162 1013M163 1040Q158 1034 154 1030M137 1066Q137 1065 135 1066M127 1051Q133 1059 135 1066M127 1051Q141 1042 153 1030M122 1013Q124 1015 127 1017M122 1013Q112 1019 99 1022M127 1017Q122 1032 117 1046M97 1032Q96 1027 99 1022M97 1032Q101 1040 105 1046M105 1046Q110 1045 117 1046M119 1004Q119 1007 122 1013M131 1016Q129 1015 127 1017M90 1003Q94 1014 99 1022M127 1051Q124 1048 117 1046M58 1105Q63 1104 71 1106M58 1105Q58 1090 54 1073M54 1073Q61 1071 66 1071M74 1102Q74 1102 71 1106M74 1102Q73 1088 71 1074M71 1074Q70 1073 66 1071M53 1107Q56 1105 58 1105M77 1124Q75 1116 71 1106M52 1072Q54 1072 54 1073M77 1101Q89 1105 104 1108M77 1101Q74 1102 74 1102M104 1108Q107 1112 108 1117M107 1119Q106 1117 108 1117M77 1032Q72 1028 70 1026M77 1032Q77 1044 74 1053M70 1026Q62 1029 52 1034M74 1053Q74 1053 72 1054M72 1054Q62 1047 51 1039M52 1034Q49 1037 51 1039M89 1003Q82 1003 73 1006M73 1006Q73 1015 70 1026M97 1032Q86 1030 77 1032M100 1053Q101 1048 105 1046M100 1053Q87 1053 74 1053M44 1047Q45 1043 51 1039M66 1071Q68 1062 72 1054M32 1020Q38 1021 42 1021M42 1021Q46 1027 52 1034M36 995Q44 993 51 993M17 979Q31 972 43 967M43 967Q46 981 51 993M85 961Q80 964 72 966M85 984Q79 981 72 980M72 966Q70 972 72 980M73 1006Q68 1003 60 996M72 980Q66 988 60 996M42 1021Q49 1009 54 996M51 993Q52 993 54 996M60 996Q56 994 54 996M106 1090Q102 1088 96 1083M106 1090Q115 1086 126 1084M126 1084Q127 1082 127 1081M127 1081Q113 1070 99 1061M96 1083Q95 1080 93 1075M93 1075Q96 1068 99 1061M77 1101Q88 1093 96 1083M104 1108Q105 1098 106 1090M108 1117Q116 1117 128 1114M134 1095Q130 1104 128 1114M134 1095Q128 1088 126 1084M135 1066Q129 1073 127 1081M134 1095Q135 1095 136 1096M100 1053Q98 1057 99 1061M71 1074Q82 1074 93 1075M123 851Q115 845 104 838M123 851Q118 858 112 863M104 838Q101 845 97 850M97 850Q99 853 98 857M98 857Q101 858 103 861M112 863Q109 860 103 861M105 836Q106 835 104 838M138 853Q129 851 123 851M132 877Q123 871 112 863M73 843Q85 846 97 850M76 867Q82 867 88 869M88 869Q94 864 98 857M89 893Q89 893 91 889M89 893Q90 900 89 910M91 889Q101 886 110 885M90 910Q88 909 89 910M90 910Q101 908 115 903M115 903Q114 894 117 886M117 886Q113 885 110 885M61 884Q73 890 89 893M88 869Q91 879 91 889M103 861Q107 871 110 885M113 930Q103 920 90 910M132 918Q125 911 115 903M132 878Q123 883 117 886M36 896Q37 900 37 901M37 901Q33 909 25 916M60 884Q64 895 63 908M37 901Q42 906 51 912M63 908Q55 911 51 912M89 910Q84 915 81 916M63 908Q73 913 81 916M81 936Q81 934 77 931M77 931Q80 922 81 916M332 821Q330 820 327 819M339 841Q333 848 328 858M309 834Q320 846 328 858M309 834Q311 829 311 825M327 819Q317 820 311 825M339 796Q335 803 328 809M327 819Q327 812 328 809M206 926Q203 920 203 916M206 926Q222 929 239 929M203 916Q213 910 226 904M226 904Q232 911 238 918M239 929Q240 922 238 918M202 935Q203 930 206 926M194 907Q197 909 203 916M241 932Q240 929 239 929M226 892Q228 897 226 904M243 914Q241 916 238 918M243 914Q249 901 254 890M254 890Q250 887 244 883M243 914Q255 912 267 909M267 909Q266 922 268 933M428 978Q427 980 424 980M427 997Q423 992 424 988M424 980Q422 985 424 988M419 1018Q408 1011 395 1003M424 988Q408 995 395 1003M392 1018Q389 1011 388 1002M395 1003Q392 1003 388 1002M367 1039Q375 1021 387 1001M388 1002Q385 1000 387 1001M372 999Q380 999 386 1000M386 1000Q386 1002 387 1001M213 826Q223 821 237 818M222 847Q233 837 244 826M244 826Q240 822 237 818M237 818Q234 812 232 801M255 834Q268 831 279 829M255 834Q255 833 255 834M255 834Q252 830 249 827M249 827Q256 818 262 806M279 829Q282 825 281 821M281 821Q278 811 276 804M276 804Q269 805 265 803M265 803Q264 804 262 806M288 847Q289 845 289 846M288 847Q286 847 286 850M289 846Q282 839 279 829M286 850Q273 851 258 854M258 854Q256 845 255 834M242 866Q251 862 257 857M229 858Q242 846 255 834M257 857Q257 856 258 854M244 826Q248 826 249 827M232 801Q248 805 262 806M309 834Q299 842 289 846M311 825Q310 821 306 819M306 819Q293 820 281 821M250 780Q257 791 265 803M376 836Q368 847 362 855M376 836Q382 836 390 840M390 841Q390 839 390 840M390 841Q384 851 374 863M374 863Q372 863 368 865M368 865Q366 864 363 860M363 860Q364 858 362 855M364 826Q371 829 376 836M351 839Q358 846 362 855M400 826Q393 831 390 840M400 855Q396 850 390 841M391 874Q383 868 374 863M361 886Q366 877 368 865M348 890Q345 886 343 886M343 886Q337 875 333 863M333 863Q349 860 363 860M328 858Q328 860 328 859M333 863Q332 863 328 859M345 905Q335 909 325 912M343 886Q326 891 313 893M313 893Q321 903 325 912M316 933Q316 933 316 930M275 935Q286 920 294 910M316 930Q305 921 294 910M316 930Q322 920 325 912M267 909Q269 909 268 906M268 906Q280 903 293 904M294 910Q294 908 293 904M286 850Q287 860 284 872M257 857Q264 862 268 869M268 869Q277 871 284 872M254 890Q256 889 256 890M268 869Q264 880 256 890M268 906Q263 899 261 893M256 890Q258 891 261 893M135 1123Q132 1118 131 1116M135 1123Q138 1126 145 1126M131 1116Q144 1111 157 1107M145 1126Q152 1126 156 1125M156 1125Q159 1116 157 1107M125 1150Q128 1137 135 1123M128 1114Q130 1115 131 1116M143 1151Q143 1137 145 1126M158 1107Q159 1108 157 1107M168 1136Q161 1129 156 1125M41 934Q30 934 20 938M41 934Q43 937 47 937M47 937Q47 939 51 942M51 942Q48 948 49 956M49 956Q48 956 45 960M45 960Q34 958 24 953M25 916Q33 923 41 934M51 912Q50 925 47 937M77 931Q63 935 51 942M72 966Q60 959 49 956M43 967Q43 962 45 960M304 807Q311 803 314 797M304 807Q296 800 285 795M328 809Q322 804 314 797M306 819Q303 813 304 807M276 804Q279 800 285 795M403 959Q402 961 404 966M403 959Q400 957 393 955M404 966Q397 975 389 983M393 955Q381 958 366 962M389 983Q380 978 368 970M368 970Q367 967 366 962M409 950Q407 953 403 959M424 980Q415 972 404 966M379 933Q387 944 393 955M386 1000Q388 994 389 983M363 960Q364 962 366 962M362 983Q363 976 368 970M308 890Q301 890 298 892M308 890Q314 877 318 864M311 863Q316 864 318 864M311 863Q298 869 285 874M298 892Q293 888 287 881M285 874Q285 878 287 881M313 893Q310 890 308 890M293 904Q296 899 298 892M328 859Q322 861 318 864M288 847Q299 855 311 863M284 872Q284 873 285 874M261 893Q274 885 287 881" fill="none" stroke="#454a44" stroke-width="1.0" stroke-opacity="0.85"/>
<path d="M485 867Q475 875 465 886M465 886Q471 889 474 895M465 886Q460 887 457 883M474 895Q469 908 465 924M446 918Q456 921 465 924M446 918Q446 917 444 912M457 883Q452 897 444 912M38 1016Q25 1025 17 1033M38 1016Q37 1015 40 1016M40 1016Q44 1025 49 1037M49 1037Q37 1036 20 1036M49 1037Q52 1039 58 1039M61 1044Q46 1052 27 1064M61 1044Q61 1039 58 1039M32 997Q37 1009 38 1016M32 997Q36 995 41 992M40 1016Q48 1014 60 1010M60 1010Q49 1003 41 992M61 1223Q58 1220 60 1219M61 1223Q55 1231 53 1242M60 1219Q42 1213 29 1209M26 1092Q39 1094 47 1093M47 1093Q54 1105 58 1113M58 1113Q55 1114 56 1115M25 1110Q41 1114 56 1115M465 924Q468 929 472 933M157 1208Q161 1212 165 1211M157 1208Q157 1210 154 1210M144 1230Q150 1222 154 1210M144 1230Q147 1235 150 1241M177 1233Q164 1235 150 1241M177 1233Q180 1233 178 1230M178 1230Q170 1222 165 1211M185 1248Q179 1239 177 1233M216 1238Q210 1225 199 1216M178 1230Q187 1222 199 1216M464 820Q479 830 494 836M464 820Q462 826 456 828M456 828Q456 840 458 848M484 852Q472 852 463 852M463 852Q459 852 458 848M457 883Q458 883 456 882M456 882Q459 868 463 852M388 920Q383 920 380 916M388 920Q387 929 388 938M388 938Q374 944 358 946M358 946Q360 940 357 930M380 916Q367 925 357 930M331 914Q342 920 353 923M331 914Q332 910 332 906M332 906Q339 900 345 893M353 923Q361 913 365 898M345 893Q355 895 365 898M380 916Q373 908 369 897M353 923Q357 928 357 930M365 898Q366 898 369 897M456 882Q439 880 426 874M444 912Q438 907 431 903M431 903Q430 890 426 874M429 855Q445 852 458 848M429 855Q425 866 425 873M425 873Q426 872 426 874M329 916Q329 925 326 938M329 916Q320 915 308 915M308 915Q302 926 298 938M326 938Q322 938 314 942M314 942Q310 939 301 941M301 941Q301 939 298 938M331 914Q331 913 329 916M332 906Q324 899 317 891M300 906Q307 901 317 891M300 906Q302 911 308 915M345 893Q343 883 340 872M340 872Q337 870 336 870M315 879Q314 888 317 891M315 879Q319 880 319 877M319 877Q328 875 336 870M464 820Q463 814 465 812M465 812Q475 809 485 803M61 1044Q67 1048 70 1050M70 1050Q70 1054 70 1054M29 1068Q41 1070 49 1075M70 1054Q62 1064 49 1075M47 1093Q48 1087 51 1081M49 1075Q52 1079 51 1081M58 1113Q67 1110 78 1104M51 1081Q65 1087 80 1089M78 1104Q77 1097 80 1089M70 1054Q76 1059 77 1065M77 1065Q81 1076 82 1085M82 1085Q80 1087 80 1089M70 1050Q79 1045 89 1039M77 1065Q96 1063 113 1061M113 1061Q102 1051 89 1039M89 1016Q92 1010 90 1001M89 1016Q75 1015 62 1013M90 1001Q82 998 72 990M72 990Q64 1001 61 1010M62 1013Q60 1010 61 1010M58 1039Q61 1027 62 1013M89 1039Q92 1034 96 1025M96 1025Q91 1019 89 1016M60 1010Q58 1010 61 1010M223 922Q219 917 218 910M223 922Q236 917 247 916M218 910Q223 904 233 897M233 897Q241 906 247 910M247 916Q246 915 247 910M236 949Q227 938 221 927M236 949Q247 946 256 944M221 927Q221 924 223 922M256 926Q256 936 256 944M256 926Q252 921 247 916M207 967Q199 956 196 947M207 967Q216 968 228 966M228 966Q230 965 228 960M228 960Q213 953 197 946M196 947Q197 949 197 946M228 966Q228 967 228 966M228 966Q238 969 249 971M249 971Q257 963 266 953M266 953Q263 954 265 951M236 949Q231 956 228 960M265 951Q259 945 256 944M221 927Q210 931 201 937M201 937Q200 944 197 946M61 1223Q76 1231 89 1238M56 1115Q55 1123 53 1132M34 1140Q42 1138 53 1132M181 1136Q192 1124 198 1112M181 1136Q181 1134 182 1138M182 1138Q206 1136 228 1137M228 1137Q227 1138 228 1135M208 1109Q205 1112 198 1112M208 1109Q214 1115 221 1118M228 1135Q227 1125 221 1118M364 1251Q368 1239 373 1228M373 1228Q379 1228 381 1229M391 1254Q387 1239 381 1229M479 1216Q464 1226 452 1232M452 1232Q458 1242 463 1254M392 1222Q385 1225 381 1229M392 1222Q409 1230 422 1243M477 1208Q462 1202 448 1199M452 1232Q449 1230 445 1230M448 1199Q448 1216 445 1230M422 1243Q426 1240 430 1233M430 1233Q437 1232 445 1230M373 1228Q369 1224 366 1223M366 1223Q357 1223 353 1226M353 1226Q344 1234 338 1244M239 1163Q253 1162 262 1166M239 1163Q239 1170 237 1181M237 1181Q242 1183 245 1189M245 1189Q259 1182 268 1173M268 1173Q263 1171 262 1166M270 1141Q247 1141 229 1143M270 1141Q264 1154 262 1166M228 1149Q230 1145 229 1143M228 1149Q236 1155 239 1163M165 1211Q181 1201 195 1193M199 1216Q200 1215 199 1215M199 1215Q195 1206 195 1193M216 1238Q224 1232 229 1229M229 1229Q226 1218 226 1208M199 1215Q211 1209 226 1208M248 1201Q246 1194 245 1189M248 1201Q237 1204 227 1206M237 1181Q229 1184 218 1190M218 1190Q220 1197 227 1206M270 1141Q275 1137 281 1130M281 1130Q280 1126 276 1118M228 1137Q227 1142 229 1143M228 1135Q249 1124 267 1114M276 1118Q273 1114 267 1114M221 1118Q232 1109 244 1099M244 1099Q251 1102 260 1106M260 1106Q263 1108 267 1114M319 877Q313 863 312 851M336 870Q333 858 328 847M312 851Q317 850 319 844M328 847Q322 846 319 844M49 971Q60 970 69 970M49 971Q43 966 41 964M55 933Q46 942 35 952M55 933Q63 936 71 941M71 941Q70 952 71 968M69 970Q70 969 71 968M41 964Q37 961 37 958M35 952Q35 957 37 958M41 992Q43 982 49 971M72 990Q69 981 69 970M-3 1000Q17 980 41 964M-40 986Q1 974 37 958M190 950Q186 956 185 958M190 950Q194 950 196 947M207 967Q203 973 195 982M185 958Q188 968 195 982M340 872Q351 866 365 860M369 897Q375 895 375 889M375 889Q369 874 365 860M293 937Q286 918 283 902M293 937Q289 937 286 938M286 938Q278 928 271 917M271 917Q277 911 281 903M281 903Q280 905 283 902M285 901Q294 906 300 906M285 901Q285 903 283 902M298 938Q296 935 293 937M270 960Q285 962 300 966M270 960Q266 955 266 953M300 966Q303 956 301 941M265 951Q277 945 286 938M256 926Q264 923 271 917M257 898Q254 906 247 910M257 898Q268 899 281 903M465 812Q460 806 456 799M181 1136Q174 1134 164 1128M164 1128Q164 1122 160 1111M160 1111Q165 1108 166 1103M198 1112Q195 1108 189 1105M189 1105Q180 1099 174 1097M174 1097Q171 1101 166 1103M82 1085Q94 1080 110 1079M113 1061Q112 1060 115 1062M115 1062Q115 1070 110 1079M160 1111Q147 1110 134 1107M134 1107Q133 1100 131 1096M166 1103Q155 1092 144 1083M131 1096Q138 1091 144 1083M90 1001Q101 993 109 983M109 983Q105 979 106 975M71 968Q76 968 85 968M85 968Q98 974 106 975M164 1128Q154 1135 143 1141M134 1107Q134 1108 134 1108M143 1141Q138 1124 134 1108M182 1138Q182 1138 182 1140M182 1140Q172 1150 163 1158M163 1158Q160 1158 157 1161M157 1161Q150 1150 141 1143M143 1141Q140 1144 141 1143M155 1179Q158 1171 157 1161M155 1179Q140 1177 126 1180M121 1163Q121 1170 124 1178M121 1163Q132 1154 139 1144M141 1143Q139 1146 139 1144M126 1180Q125 1180 124 1178M157 1208Q158 1193 158 1182M154 1210Q146 1205 139 1205M158 1182Q159 1179 155 1179M126 1180Q132 1193 139 1205M88 1113Q95 1111 103 1107M88 1113Q91 1118 90 1121M90 1121Q98 1126 105 1133M103 1107Q112 1115 121 1118M105 1133Q111 1133 117 1128M121 1118Q118 1123 117 1128M78 1104Q83 1109 88 1113M110 1079Q111 1084 117 1090M117 1090Q108 1099 103 1107M82 1134Q85 1128 90 1121M82 1134Q71 1136 60 1139M60 1139Q59 1134 53 1132M117 1090Q123 1094 131 1096M134 1108Q128 1111 121 1118M121 1163Q113 1159 104 1153M104 1153Q107 1143 105 1133M139 1144Q127 1136 117 1128M26 1185Q29 1181 36 1176M34 1165Q36 1167 37 1171M36 1176Q37 1176 37 1171M60 1139Q60 1146 63 1151M37 1171Q51 1159 63 1151M208 1109Q211 1101 211 1095M189 1105Q191 1088 195 1075M211 1095Q209 1086 204 1073M195 1075Q200 1076 204 1073M366 1223Q365 1215 365 1204M392 1222Q394 1212 399 1206M365 1204Q379 1205 396 1203M399 1206Q399 1205 396 1203M365 1204Q364 1198 360 1192M361 1188Q359 1189 360 1192M361 1188Q372 1183 381 1175M396 1203Q386 1188 381 1175M416 1201Q411 1188 405 1175M416 1201Q406 1201 399 1206M381 1175Q381 1176 381 1175M405 1175Q391 1176 381 1175M313 1181Q309 1182 307 1178M313 1181Q311 1196 311 1213M307 1178Q294 1188 280 1198M280 1198Q278 1203 279 1205M311 1213Q297 1208 279 1205M324 1213Q333 1217 341 1215M324 1213Q327 1201 332 1192M341 1215Q344 1202 352 1194M332 1192Q344 1196 352 1194M313 1181Q321 1183 326 1183M326 1183Q329 1186 332 1192M311 1213Q314 1215 318 1218M318 1218Q319 1214 324 1213M360 1192Q354 1195 352 1194M353 1226Q347 1223 341 1215M326 1183Q335 1173 340 1160M361 1188Q354 1172 342 1160M342 1160Q342 1160 340 1160M288 1244Q302 1233 318 1223M318 1223Q320 1228 325 1236M318 1218Q320 1221 318 1223M467 1143Q473 1131 475 1122M467 1143Q476 1154 485 1168M464 1171Q455 1162 450 1149M464 1171Q472 1169 485 1168M450 1149Q457 1148 467 1143M480 1198Q466 1190 454 1180M464 1171Q460 1176 454 1180M455 971Q447 967 438 967M455 971Q459 972 466 976M438 967Q440 983 438 1001M438 1001Q450 1000 459 996M459 996Q462 986 466 976M455 971Q462 954 467 938M466 976Q466 979 468 976M291 1160Q299 1169 307 1176M291 1160Q291 1147 291 1136M307 1176Q312 1166 317 1153M317 1153Q315 1142 307 1136M291 1136Q301 1138 307 1136M307 1178Q309 1178 307 1176M271 1176Q274 1188 280 1198M271 1176Q279 1167 291 1160M281 1130Q286 1133 291 1136M271 1176Q268 1172 268 1173M340 1160Q329 1157 317 1153M213 1188Q203 1188 195 1192M213 1188Q218 1170 220 1155M195 1192Q194 1188 188 1180M188 1180Q187 1178 189 1173M189 1173Q191 1168 193 1159M220 1155Q204 1158 193 1159M218 1190Q213 1188 213 1188M195 1193Q196 1190 195 1192M227 1206Q227 1209 226 1208M228 1149Q221 1150 220 1155M158 1182Q174 1179 188 1180M163 1158Q174 1168 189 1173M182 1140Q186 1151 193 1159M342 1160Q346 1156 347 1153M379 1159Q379 1168 381 1175M379 1159Q377 1159 375 1155M375 1155Q360 1153 347 1153M276 1118Q276 1116 277 1118M260 1106Q266 1086 269 1068M269 1068Q273 1068 282 1068M282 1068Q282 1079 286 1092M277 1118Q283 1106 286 1092M383 969Q372 958 357 948M383 969Q381 974 379 977M379 977Q374 983 363 990M357 948Q357 952 352 952M352 952Q355 969 356 986M363 990Q362 990 356 986M358 946Q357 946 357 948M326 938Q332 944 341 952M341 952Q345 950 352 952M396 994Q391 1001 384 1007M396 994Q388 985 379 977M371 1010Q372 1011 372 1011M371 1010Q366 1001 363 990M384 1007Q377 1009 372 1011M396 994Q403 990 409 990M409 990Q414 997 417 1001M384 1007Q394 1012 408 1018M408 1018Q408 1016 411 1016M411 1016Q415 1008 417 1001M409 990Q408 985 411 976M438 967Q438 969 437 966M438 1001Q438 1000 436 1002M436 1002Q426 1002 417 1001M437 966Q422 972 411 976M383 969Q390 965 397 963M411 976Q403 971 397 963M388 938Q393 945 398 949M398 949Q397 954 397 963M27 916Q42 919 53 925M43 892Q50 907 55 920M43 892Q31 899 22 908M53 925Q55 921 55 920M55 933Q52 927 53 925M19 824Q30 830 38 837M35 844Q34 842 38 837M-15 874Q13 871 41 871M35 844Q40 859 41 871M43 892Q42 891 44 892M44 892Q42 884 41 871M41 871Q43 871 41 871M102 842Q92 850 83 855M102 842Q101 832 101 817M78 825Q86 819 92 817M78 825Q75 837 75 850M83 855Q79 854 75 850M101 817Q96 817 92 817M75 850Q74 851 75 850M38 837Q40 838 43 835M43 835Q57 844 75 850M41 871Q50 867 58 866M58 866Q67 857 75 850M257 898Q255 893 252 884M252 884Q243 887 235 885M233 897Q232 890 234 886M234 886Q235 883 235 885M201 937Q195 923 189 912M218 910Q214 904 206 903M206 903Q197 907 189 912M234 886Q219 884 206 881M206 903Q207 889 206 881M190 950Q178 943 170 934M170 934Q179 921 183 911M189 912Q185 910 183 911M185 958Q174 961 161 967M195 982Q197 989 196 992M196 992Q191 993 190 994M190 994Q182 992 170 991M161 967Q166 978 170 991M158 1016Q152 1015 151 1020M158 1016Q160 1009 161 999M124 998Q129 996 138 991M124 998Q126 1005 125 1008M151 1020Q139 1012 125 1008M138 991Q150 997 161 999M182 1015Q185 1006 190 994M182 1015Q181 1019 176 1024M158 1016Q166 1021 176 1024M161 999Q167 993 170 991M78 901Q85 895 93 889M78 901Q75 896 68 895M66 879Q64 886 68 895M66 879Q77 873 91 869M93 889Q98 884 98 879M91 869Q94 873 98 879M77 905Q77 904 78 901M77 905Q69 911 55 920M44 892Q57 891 68 895M58 866Q61 871 66 879M83 855Q88 864 91 869M71 941Q76 940 79 936M85 968Q89 955 97 939M79 936Q87 939 97 939M77 905Q80 911 80 912M79 936Q79 923 80 912M108 907Q104 915 102 923M108 907Q117 910 124 910M127 911Q124 910 124 910M127 911Q117 926 110 938M102 923Q105 930 107 936M110 938Q108 939 107 936M93 889Q103 897 108 907M80 912Q90 918 102 923M112 876Q105 877 98 879M112 876Q112 875 114 877M114 877Q120 893 124 910M137 883Q139 893 140 900M137 883Q125 879 114 877M127 911Q136 906 140 900M127 911Q129 912 127 911M97 939Q101 938 107 936M403 893Q411 883 422 874M403 893Q397 890 387 887M387 887Q390 874 396 861M422 874Q409 866 396 861M431 903Q421 905 408 912M408 912Q404 912 406 911M406 911Q403 904 403 893M425 873Q425 873 422 874M388 920Q398 916 406 911M375 889Q383 888 387 887M80 797Q85 808 92 817M101 817Q104 814 108 812M108 812Q108 803 110 792M187 800Q184 815 180 834M180 834Q168 828 156 817M156 817Q159 808 161 803M354 840Q367 829 379 818M354 840Q360 848 366 859M366 859Q375 852 388 850M379 818Q383 835 388 850M365 860Q363 861 366 859M396 861Q393 856 388 850M388 850Q387 849 388 850M132 1042Q122 1032 117 1020M132 1042Q124 1049 120 1060M120 1060Q117 1061 117 1061M117 1061Q112 1043 107 1024M107 1024Q112 1022 117 1020M151 1020Q150 1031 146 1041M146 1041Q138 1042 132 1042M125 1008Q118 1011 117 1020M115 1062Q115 1060 117 1061M147 1074Q146 1079 144 1083M147 1074Q134 1066 120 1060M96 1025Q100 1026 107 1024M109 983Q118 988 124 998M285 901Q284 894 286 891M252 884Q256 880 260 875M260 875Q275 885 286 891M315 879Q307 878 296 876M312 851Q305 851 298 856M298 856Q297 858 292 864M292 864Q296 868 296 876M296 876Q289 882 286 891M106 975Q111 964 118 958M110 938Q111 940 117 946M117 946Q117 953 118 958M138 991Q142 977 148 967M118 958Q133 964 148 967M161 967Q156 967 154 964M154 964Q148 967 148 967M124 1178Q120 1179 118 1183M118 1183Q118 1189 113 1198M139 1205Q134 1211 124 1214M113 1198Q119 1205 124 1214M144 1230Q133 1228 122 1228M124 1214Q123 1221 122 1228M118 1242Q117 1238 116 1232M89 1238Q94 1233 103 1229M103 1229Q107 1233 116 1232M122 1228Q121 1228 116 1232M60 1219Q62 1215 63 1213M36 1176Q51 1181 66 1187M66 1187Q66 1202 63 1213M103 1229Q99 1218 97 1209M63 1213Q82 1209 97 1209M113 1198Q106 1201 97 1208M97 1209Q97 1206 97 1208M300 966Q304 972 306 975M314 942Q316 959 320 972M306 975Q314 975 320 972M341 952Q331 962 322 973M320 972Q319 974 322 973M356 986Q346 987 338 990M322 973Q330 980 338 990M270 960Q272 969 269 980M249 971Q252 982 254 991M254 991Q262 985 269 980M306 975Q303 975 304 979M304 979Q296 987 288 991M269 980Q281 984 288 991M269 1068Q265 1068 265 1066M282 1068Q285 1065 292 1061M295 1048Q291 1057 292 1061M295 1048Q283 1042 270 1033M265 1066Q264 1053 265 1043M270 1033Q267 1040 265 1043M211 1095Q221 1088 235 1086M204 1073Q206 1073 207 1069M207 1069Q216 1066 224 1067M224 1067Q228 1075 235 1086M244 1099Q242 1094 241 1089M265 1066Q262 1065 257 1066M257 1066Q249 1078 241 1089M241 1089Q237 1087 235 1086M174 1097Q176 1093 175 1085M147 1074Q152 1069 155 1068M175 1085Q163 1076 155 1068M195 1075Q189 1074 188 1075M175 1085Q180 1080 188 1075M454 1180Q452 1180 449 1181M450 1149Q446 1147 446 1149M446 1149Q439 1161 435 1169M435 1169Q444 1177 449 1181M448 1199Q446 1196 446 1197M449 1181Q448 1189 446 1197M430 1233Q427 1220 419 1202M446 1197Q431 1198 419 1202M416 1201Q419 1202 418 1201M418 1201Q418 1200 419 1202M407 1145Q408 1157 411 1168M407 1145Q410 1141 410 1140M411 1140Q421 1155 435 1169M411 1140Q409 1140 410 1140M411 1168Q422 1168 430 1172M430 1172Q434 1170 435 1169M405 1175Q408 1171 411 1168M379 1159Q391 1153 407 1145M446 1149Q438 1141 435 1135M423 1131Q428 1133 435 1135M423 1131Q416 1135 411 1140M435 1169Q435 1167 435 1169M418 1201Q424 1187 430 1172M279 1205Q283 1218 285 1234M279 1205Q270 1208 260 1210M285 1234Q269 1231 250 1232M260 1210Q256 1220 249 1229M249 1229Q249 1228 250 1232M288 1244Q287 1239 285 1234M279 1205Q278 1207 279 1205M248 1201Q255 1205 260 1210M254 1243Q250 1237 250 1232M229 1229Q241 1227 249 1229M400 1054Q384 1065 368 1074M400 1054Q400 1045 397 1041M397 1041Q393 1039 392 1039M392 1039Q380 1042 373 1046M373 1046Q373 1062 368 1074M372 1011Q383 1024 392 1039M408 1018Q404 1027 402 1037M402 1037Q400 1039 397 1041M435 1135Q448 1125 461 1113M461 1113Q465 1115 472 1114M459 996Q468 1008 472 1015M436 953Q436 953 436 953M436 953Q438 940 436 927M436 953Q424 950 409 944M436 927Q423 926 416 924M416 924Q413 932 409 944M467 938Q452 947 436 953M437 966Q435 962 436 953M446 918Q442 925 436 927M398 949Q403 947 409 944M408 912Q410 916 416 924M49 808Q45 823 43 834M49 808Q51 802 56 801M43 834Q58 830 73 822M56 801Q63 812 73 822M21 807Q33 810 49 808M43 835Q44 834 43 834M78 825Q75 824 73 822M325 809Q315 804 302 798M325 809Q320 820 313 829M297 828Q305 830 313 829M297 828Q297 817 292 809M292 809Q297 802 302 798M319 844Q317 837 313 829M293 832Q295 842 298 856M293 832Q295 829 297 828M270 807Q270 806 266 802M270 807Q281 808 292 809M328 847Q335 845 343 837M325 809Q330 805 332 807M332 807Q340 824 343 837M354 840Q352 841 351 838M379 818Q382 814 380 810M380 810Q379 810 377 806M377 806Q370 804 359 801M351 838Q354 821 359 801M351 838Q347 839 343 837M171 853Q164 854 154 858M171 853Q181 868 187 879M172 891Q178 887 187 879M172 891Q161 880 152 870M152 870Q154 864 154 858M206 881Q208 880 204 877M204 877Q194 880 187 879M183 911Q176 905 171 900M171 900Q173 897 172 891M137 883Q147 875 152 870M171 900Q163 903 156 906M140 900Q150 902 156 906M150 821Q146 833 145 849M150 821Q142 821 133 817M122 820Q127 819 133 817M122 820Q124 835 123 846M145 849Q135 847 125 849M125 849Q125 846 123 846M156 817Q155 817 150 821M133 797Q135 806 133 817M108 812Q117 816 122 820M102 842Q115 844 123 846M112 876Q121 860 125 849M154 858Q150 852 145 849M429 855Q426 848 425 844M388 850Q396 846 398 844M425 844Q411 842 398 844M293 832Q278 835 269 835M292 864Q279 861 270 854M269 835Q268 847 270 854M270 807Q268 823 268 834M269 835Q268 836 268 834M251 796Q245 814 235 831M268 834Q251 831 235 831M260 875Q262 870 260 863M260 863Q265 856 270 854M235 885Q232 868 234 856M260 863Q248 858 234 856M141 931Q148 933 153 933M141 931Q129 935 121 944M121 944Q140 950 154 951M153 933Q152 936 156 936M156 936Q155 942 154 951M127 911Q136 921 141 931M156 906Q155 922 153 933M117 946Q119 943 121 944M154 964Q155 959 154 951M170 934Q164 935 156 936M72 1182Q79 1185 86 1186M72 1182Q73 1172 75 1161M75 1161Q80 1156 88 1155M95 1182Q89 1182 86 1186M95 1182Q98 1168 96 1155M88 1155Q93 1155 96 1155M66 1187Q68 1185 72 1182M97 1208Q90 1195 86 1186M63 1151Q67 1154 75 1161M82 1134Q86 1145 88 1155M118 1183Q104 1185 95 1182M104 1153Q101 1155 96 1155M182 1015Q199 1019 213 1024M196 992Q203 994 211 998M213 1024Q213 1011 211 998M245 1039Q243 1030 245 1026M245 1039Q244 1049 242 1055M239 1055Q239 1056 242 1055M239 1055Q222 1042 209 1034M245 1026Q231 1028 213 1026M209 1034Q212 1029 213 1026M265 1043Q256 1040 245 1039M257 1066Q249 1060 242 1055M224 1067Q233 1061 239 1055M200 1041Q205 1056 207 1069M200 1041Q204 1037 209 1034M155 1048Q165 1038 179 1031M155 1048Q158 1055 158 1059M158 1059Q169 1060 176 1058M176 1058Q185 1051 192 1040M179 1031Q187 1033 192 1040M176 1024Q180 1026 179 1031M146 1041Q151 1042 155 1048M155 1068Q155 1066 158 1059M188 1075Q181 1067 176 1058M200 1041Q198 1039 192 1040M213 1024Q211 1026 213 1026M402 1083Q403 1092 408 1103M402 1083Q388 1083 376 1084M408 1103Q399 1105 391 1111M391 1111Q382 1099 376 1084M430 1092Q422 1101 413 1105M430 1092Q438 1095 442 1095M442 1095Q445 1100 445 1101M445 1101Q435 1114 422 1123M422 1123Q416 1112 413 1105M419 1068Q417 1069 412 1068M419 1068Q426 1082 430 1092M412 1068Q408 1077 402 1083M408 1103Q408 1106 413 1105M423 1131Q425 1126 422 1123M461 1113Q453 1105 445 1101M475 1081Q470 1072 464 1060M473 1083Q463 1080 451 1079M464 1060Q455 1066 446 1067M451 1079Q446 1072 446 1067M471 1049Q468 1057 464 1060M442 1095Q444 1088 451 1079M419 1068Q428 1062 436 1059M436 1059Q443 1062 446 1067M433 1038Q434 1044 437 1052M433 1038Q434 1033 436 1031M437 1052Q447 1048 462 1044M436 1031Q439 1026 442 1023M462 1044Q461 1032 457 1024M457 1024Q450 1022 442 1023M402 1037Q417 1036 433 1038M412 1068Q404 1061 400 1054M436 1059Q437 1056 437 1052M411 1016Q424 1021 436 1031M471 1049Q465 1046 462 1044M436 1002Q442 1014 442 1023M472 1015Q464 1017 457 1024M307 1136Q307 1135 308 1136M347 1153Q343 1142 344 1133M344 1133Q344 1133 343 1133M308 1136Q324 1135 343 1133M277 1118Q294 1108 314 1102M286 1092Q297 1091 311 1093M314 1102Q314 1100 311 1093M308 1136Q313 1121 320 1108M314 1102Q316 1104 320 1108M343 1133Q335 1121 325 1107M320 1108Q322 1107 325 1107M329 1045Q332 1042 335 1039M329 1045Q312 1043 300 1042M335 1039Q324 1029 313 1016M300 1042Q300 1033 301 1021M301 1021Q306 1019 313 1016M295 1048Q297 1046 300 1042M287 1010Q278 1012 264 1017M287 1010Q293 1015 301 1021M270 1033Q266 1025 264 1017M304 979Q314 993 319 1009M288 991Q288 1002 287 1010M319 1009Q316 1011 313 1016M346 1033Q335 1022 326 1007M346 1033Q347 1031 352 1033M352 1033Q358 1028 360 1020M352 1033Q355 1031 352 1033M360 1020Q344 1010 333 1001M333 1001Q331 1003 326 1007M319 1009Q323 1008 326 1007M335 1039Q338 1038 346 1033M371 1010Q366 1014 360 1020M373 1046Q362 1042 352 1033M338 990Q334 995 333 1001M456 799Q442 804 430 809M423 790Q425 801 430 809M456 828Q444 826 428 823M430 809Q428 817 428 823M425 844Q424 833 428 823M428 823Q430 821 428 823M229 799Q221 805 216 813M235 831Q232 833 232 832M232 832Q226 821 216 813M195 796Q202 804 207 810M207 810Q210 809 216 813M259 1016Q253 1016 250 1020M259 1016Q256 1003 254 991M250 1020Q236 1009 218 994M254 991Q241 987 226 986M226 986Q224 990 218 994M264 1017Q261 1014 259 1016M245 1026Q249 1022 250 1020M254 991Q255 993 254 991M211 998Q215 993 218 994M228 966Q224 977 226 986M355 1124Q358 1117 358 1107M355 1124Q367 1131 375 1135M358 1107Q373 1110 388 1116M375 1135Q382 1131 388 1125M388 1125Q388 1118 388 1116M375 1155Q374 1145 375 1135M344 1133Q348 1128 355 1124M410 1140Q398 1134 388 1125M391 1111Q390 1113 388 1116M292 1061Q299 1067 308 1070M311 1093Q313 1092 313 1087M308 1070Q310 1077 313 1087M325 1107Q326 1104 331 1104M358 1107Q360 1104 357 1102M357 1102Q343 1106 331 1104M313 1087Q322 1084 333 1083M331 1104Q330 1093 333 1083M332 807Q330 805 333 806M355 799Q344 800 333 806M333 806Q331 790 325 780M403 832Q408 828 416 821M403 832Q392 824 381 810M416 821Q406 814 396 809M381 810Q388 807 396 809M398 844Q401 840 403 832M428 823Q420 820 416 821M380 810Q383 810 381 810M415 787Q403 797 396 809M387 779Q381 791 377 806M227 850Q227 845 227 843M227 850Q219 857 208 864M227 843Q213 840 195 833M208 864Q195 854 183 843M195 833Q188 836 183 839M183 839Q182 839 183 843M234 856Q230 853 227 850M232 832Q227 838 227 843M204 877Q208 870 208 864M207 810Q203 823 195 833M171 853Q176 846 183 843M180 834Q183 839 183 839M336 1080Q347 1083 362 1083M336 1080Q331 1073 328 1065M331 1058Q344 1060 354 1062M331 1058Q330 1060 328 1065M354 1062Q359 1072 366 1078M362 1083Q364 1083 366 1080M366 1078Q364 1078 366 1080M357 1102Q361 1091 362 1083M333 1083Q333 1082 336 1080M308 1070Q319 1070 328 1065M329 1045Q329 1052 331 1058M352 1033Q353 1050 354 1062M368 1074Q367 1077 366 1078M376 1084Q373 1084 366 1080" fill="none" stroke="#5f645c" stroke-width="0.9" stroke-opacity="0.75"/>
<circle cx="53.0" cy="825.3" r="9.0" fill="url(#ag)"/>
<circle cx="99.3" cy="832.1" r="9.0" fill="url(#ag)"/>
<circle cx="126.7" cy="814.6" r="9.0" fill="url(#ag)"/>
<circle cx="167.0" cy="835.9" r="9.0" fill="url(#ag)"/>
<circle cx="176.9" cy="830.6" r="9.0" fill="url(#ag)"/>
<circle cx="213.4" cy="812.4" r="9.0" fill="url(#ag)"/>
<circle cx="222.5" cy="810.8" r="9.0" fill="url(#ag)"/>
<circle cx="219.5" cy="840.5" r="9.0" fill="url(#ag)"/>
<circle cx="218.7" cy="848.9" r="9.0" fill="url(#ag)"/>
<circle cx="69.7" cy="863.3" r="9.0" fill="url(#ag)"/>
<circle cx="81.1" cy="864.1" r="9.0" fill="url(#ag)"/>
<circle cx="156.4" cy="870.9" r="9.0" fill="url(#ag)"/>
<circle cx="158.6" cy="880.0" r="9.0" fill="url(#ag)"/>
<circle cx="207.3" cy="875.5" r="9.0" fill="url(#ag)"/>
<circle cx="218.7" cy="873.9" r="9.0" fill="url(#ag)"/>
<circle cx="246.1" cy="870.9" r="9.0" fill="url(#ag)"/>
<circle cx="246.1" cy="882.3" r="9.0" fill="url(#ag)"/>
<circle cx="85.7" cy="899.0" r="9.0" fill="url(#ag)"/>
<circle cx="81.1" cy="908.9" r="9.0" fill="url(#ag)"/>
<circle cx="127.5" cy="923.4" r="9.0" fill="url(#ag)"/>
<circle cx="176.1" cy="924.9" r="9.0" fill="url(#ag)"/>
<circle cx="186.8" cy="930.2" r="9.0" fill="url(#ag)"/>
<circle cx="233.9" cy="937.0" r="9.0" fill="url(#ag)"/>
<circle cx="110.0" cy="950.0" r="9.0" fill="url(#ag)"/>
<circle cx="111.5" cy="956.1" r="9.0" fill="url(#ag)"/>
<circle cx="165.5" cy="960.6" r="9.0" fill="url(#ag)"/>
<circle cx="171.6" cy="952.2" r="9.0" fill="url(#ag)"/>
<circle cx="179.2" cy="959.1" r="9.0" fill="url(#ag)"/>
<circle cx="185.2" cy="951.5" r="9.0" fill="url(#ag)"/>
<circle cx="214.9" cy="965.9" r="9.0" fill="url(#ag)"/>
<circle cx="42.3" cy="990.3" r="9.0" fill="url(#ag)"/>
<circle cx="134.3" cy="1004.7" r="9.0" fill="url(#ag)"/>
<circle cx="188.3" cy="1004.7" r="9.0" fill="url(#ag)"/>
<circle cx="264.2" cy="826.8" r="9.0" fill="url(#ag)"/>
<circle cx="273.3" cy="826.8" r="9.0" fill="url(#ag)"/>
<circle cx="341.7" cy="835.9" r="9.0" fill="url(#ag)"/>
<circle cx="356.9" cy="829.8" r="9.0" fill="url(#ag)"/>
<circle cx="357.7" cy="820.0" r="9.0" fill="url(#ag)"/>
<circle cx="375.2" cy="810.1" r="9.0" fill="url(#ag)"/>
<circle cx="388.8" cy="816.2" r="9.0" fill="url(#ag)"/>
<circle cx="403.3" cy="828.3" r="9.0" fill="url(#ag)"/>
<circle cx="414.7" cy="833.6" r="9.0" fill="url(#ag)"/>
<circle cx="441.3" cy="831.4" r="9.0" fill="url(#ag)"/>
<circle cx="452.7" cy="835.2" r="9.0" fill="url(#ag)"/>
<circle cx="454.2" cy="849.6" r="9.0" fill="url(#ag)"/>
<circle cx="445.1" cy="857.2" r="9.0" fill="url(#ag)"/>
<circle cx="436.7" cy="864.8" r="9.0" fill="url(#ag)"/>
<circle cx="436.0" cy="872.4" r="9.0" fill="url(#ag)"/>
<circle cx="270.2" cy="854.2" r="9.0" fill="url(#ag)"/>
<circle cx="280.9" cy="858.0" r="9.0" fill="url(#ag)"/>
<circle cx="306.7" cy="860.3" r="9.0" fill="url(#ag)"/>
<circle cx="318.9" cy="864.1" r="9.0" fill="url(#ag)"/>
<circle cx="296.1" cy="872.4" r="9.0" fill="url(#ag)"/>
<circle cx="300.7" cy="884.6" r="9.0" fill="url(#ag)"/>
<circle cx="289.3" cy="893.7" r="9.0" fill="url(#ag)"/>
<circle cx="282.4" cy="902.8" r="9.0" fill="url(#ag)"/>
<circle cx="281.6" cy="913.5" r="9.0" fill="url(#ag)"/>
<circle cx="276.3" cy="921.1" r="9.0" fill="url(#ag)"/>
<circle cx="343.2" cy="873.2" r="9.0" fill="url(#ag)"/>
<circle cx="353.1" cy="878.5" r="9.0" fill="url(#ag)"/>
<circle cx="398.7" cy="854.2" r="9.0" fill="url(#ag)"/>
<circle cx="395.7" cy="868.6" r="9.0" fill="url(#ag)"/>
<circle cx="321.9" cy="916.5" r="9.0" fill="url(#ag)"/>
<circle cx="332.6" cy="912.0" r="9.0" fill="url(#ag)"/>
<circle cx="382.8" cy="904.4" r="9.0" fill="url(#ag)"/>
<circle cx="378.2" cy="914.2" r="9.0" fill="url(#ag)"/>
<circle cx="401.8" cy="928.7" r="9.0" fill="url(#ag)"/>
<circle cx="410.1" cy="937.8" r="9.0" fill="url(#ag)"/>
<circle cx="455.7" cy="913.5" r="9.0" fill="url(#ag)"/>
<circle cx="452.7" cy="924.1" r="9.0" fill="url(#ag)"/>
<circle cx="269.5" cy="956.1" r="9.0" fill="url(#ag)"/>
<circle cx="270.2" cy="963.7" r="9.0" fill="url(#ag)"/>
<circle cx="337.1" cy="966.7" r="9.0" fill="url(#ag)"/>
<circle cx="347.8" cy="962.1" r="9.0" fill="url(#ag)"/>
<circle cx="358.4" cy="959.9" r="9.0" fill="url(#ag)"/>
<circle cx="403.3" cy="972.8" r="9.0" fill="url(#ag)"/>
<circle cx="405.6" cy="983.4" r="9.0" fill="url(#ag)"/>
<circle cx="346.3" cy="992.5" r="9.0" fill="url(#ag)"/>
<circle cx="358.4" cy="995.6" r="9.0" fill="url(#ag)"/>
<circle cx="321.9" cy="1014.5" r="9.0" fill="url(#ag)"/>
<circle cx="455.7" cy="995.6" r="9.0" fill="url(#ag)"/>
<circle cx="136.6" cy="1024.3" r="9.0" fill="url(#ag)"/>
<circle cx="228.6" cy="1023.6" r="9.0" fill="url(#ag)"/>
<circle cx="77.3" cy="1036.5" r="9.0" fill="url(#ag)"/>
<circle cx="85.7" cy="1035.0" r="9.0" fill="url(#ag)"/>
<circle cx="135.8" cy="1054.7" r="9.0" fill="url(#ag)"/>
<circle cx="128.2" cy="1067.7" r="9.0" fill="url(#ag)"/>
<circle cx="205.0" cy="1051.7" r="9.0" fill="url(#ag)"/>
<circle cx="247.6" cy="1063.1" r="9.0" fill="url(#ag)"/>
<circle cx="248.4" cy="1079.8" r="9.0" fill="url(#ag)"/>
<circle cx="96.3" cy="1072.2" r="9.0" fill="url(#ag)"/>
<circle cx="190.6" cy="1085.1" r="9.0" fill="url(#ag)"/>
<circle cx="111.5" cy="1123.9" r="9.0" fill="url(#ag)"/>
<circle cx="164.7" cy="1119.4" r="9.0" fill="url(#ag)"/>
<circle cx="173.8" cy="1116.3" r="9.0" fill="url(#ag)"/>
<circle cx="180.7" cy="1126.2" r="9.0" fill="url(#ag)"/>
<circle cx="213.4" cy="1130.0" r="9.0" fill="url(#ag)"/>
<circle cx="53.7" cy="1134.6" r="9.0" fill="url(#ag)"/>
<circle cx="59.0" cy="1144.4" r="9.0" fill="url(#ag)"/>
<circle cx="129.8" cy="1160.4" r="9.0" fill="url(#ag)"/>
<circle cx="129.8" cy="1168.0" r="9.0" fill="url(#ag)"/>
<circle cx="187.5" cy="1163.4" r="9.0" fill="url(#ag)"/>
<circle cx="195.9" cy="1155.1" r="9.0" fill="url(#ag)"/>
<circle cx="235.4" cy="1171.1" r="9.0" fill="url(#ag)"/>
<circle cx="79.6" cy="1176.4" r="9.0" fill="url(#ag)"/>
<circle cx="89.5" cy="1170.3" r="9.0" fill="url(#ag)"/>
<circle cx="44.6" cy="1186.3" r="9.0" fill="url(#ag)"/>
<circle cx="46.1" cy="1198.4" r="9.0" fill="url(#ag)"/>
<circle cx="58.3" cy="1207.5" r="9.0" fill="url(#ag)"/>
<circle cx="69.7" cy="1204.5" r="9.0" fill="url(#ag)"/>
<circle cx="96.3" cy="1193.1" r="9.0" fill="url(#ag)"/>
<circle cx="107.7" cy="1191.6" r="9.0" fill="url(#ag)"/>
<circle cx="111.5" cy="1205.3" r="9.0" fill="url(#ag)"/>
<circle cx="163.2" cy="1207.5" r="9.0" fill="url(#ag)"/>
<circle cx="169.3" cy="1212.1" r="9.0" fill="url(#ag)"/>
<circle cx="195.1" cy="1201.5" r="9.0" fill="url(#ag)"/>
<circle cx="198.2" cy="1212.1" r="9.0" fill="url(#ag)"/>
<circle cx="205.8" cy="1218.2" r="9.0" fill="url(#ag)"/>
<circle cx="122.9" cy="1227.3" r="9.0" fill="url(#ag)"/>
<circle cx="186.0" cy="1228.1" r="9.0" fill="url(#ag)"/>
<circle cx="277.1" cy="1024.3" r="9.0" fill="url(#ag)"/>
<circle cx="287.0" cy="1023.6" r="9.0" fill="url(#ag)"/>
<circle cx="293.1" cy="1040.3" r="9.0" fill="url(#ag)"/>
<circle cx="302.2" cy="1043.3" r="9.0" fill="url(#ag)"/>
<circle cx="387.3" cy="1028.1" r="9.0" fill="url(#ag)"/>
<circle cx="398.7" cy="1027.4" r="9.0" fill="url(#ag)"/>
<circle cx="346.3" cy="1040.3" r="9.0" fill="url(#ag)"/>
<circle cx="356.9" cy="1046.4" r="9.0" fill="url(#ag)"/>
<circle cx="420.0" cy="1060.1" r="9.0" fill="url(#ag)"/>
<circle cx="380.5" cy="1064.6" r="9.0" fill="url(#ag)"/>
<circle cx="315.1" cy="1084.4" r="9.0" fill="url(#ag)"/>
<circle cx="318.9" cy="1095.0" r="9.0" fill="url(#ag)"/>
<circle cx="322.7" cy="1104.1" r="9.0" fill="url(#ag)"/>
<circle cx="346.3" cy="1079.8" r="9.0" fill="url(#ag)"/>
<circle cx="355.4" cy="1079.1" r="9.0" fill="url(#ag)"/>
<circle cx="437.5" cy="1082.9" r="9.0" fill="url(#ag)"/>
<circle cx="447.4" cy="1077.5" r="9.0" fill="url(#ag)"/>
<circle cx="266.4" cy="1116.3" r="9.0" fill="url(#ag)"/>
<circle cx="268.0" cy="1122.4" r="9.0" fill="url(#ag)"/>
<circle cx="355.4" cy="1116.3" r="9.0" fill="url(#ag)"/>
<circle cx="361.5" cy="1120.9" r="9.0" fill="url(#ag)"/>
<circle cx="404.1" cy="1107.2" r="9.0" fill="url(#ag)"/>
<circle cx="412.4" cy="1105.7" r="9.0" fill="url(#ag)"/>
<circle cx="452.7" cy="1114.8" r="9.0" fill="url(#ag)"/>
<circle cx="458.8" cy="1108.7" r="9.0" fill="url(#ag)"/>
<circle cx="312.1" cy="1134.6" r="9.0" fill="url(#ag)"/>
<circle cx="310.5" cy="1142.2" r="9.0" fill="url(#ag)"/>
<circle cx="432.9" cy="1139.1" r="9.0" fill="url(#ag)"/>
<circle cx="436.0" cy="1145.2" r="9.0" fill="url(#ag)"/>
<circle cx="448.1" cy="1131.5" r="9.0" fill="url(#ag)"/>
<circle cx="452.7" cy="1145.2" r="9.0" fill="url(#ag)"/>
<circle cx="293.1" cy="1163.4" r="9.0" fill="url(#ag)"/>
<circle cx="304.5" cy="1165.7" r="9.0" fill="url(#ag)"/>
<circle cx="334.9" cy="1161.9" r="9.0" fill="url(#ag)"/>
<circle cx="337.1" cy="1174.1" r="9.0" fill="url(#ag)"/>
<circle cx="375.2" cy="1169.5" r="9.0" fill="url(#ag)"/>
<circle cx="379.7" cy="1180.9" r="9.0" fill="url(#ag)"/>
<circle cx="416.2" cy="1161.9" r="9.0" fill="url(#ag)"/>
<circle cx="411.7" cy="1172.6" r="9.0" fill="url(#ag)"/>
<circle cx="436.0" cy="1181.7" r="9.0" fill="url(#ag)"/>
<circle cx="433.7" cy="1192.3" r="9.0" fill="url(#ag)"/>
<circle cx="458.0" cy="1186.3" r="9.0" fill="url(#ag)"/>
<circle cx="264.9" cy="1208.3" r="9.0" fill="url(#ag)"/>
<circle cx="300.7" cy="1216.7" r="9.0" fill="url(#ag)"/>
<circle cx="313.6" cy="1215.9" r="9.0" fill="url(#ag)"/>
<circle cx="361.5" cy="1209.1" r="9.0" fill="url(#ag)"/>
<circle cx="366.0" cy="1219.7" r="9.0" fill="url(#ag)"/>
<circle cx="381.2" cy="1225.8" r="9.0" fill="url(#ag)"/>
<circle cx="434.5" cy="1225.8" r="9.0" fill="url(#ag)"/>
<circle cx="426.9" cy="1227.3" r="9.0" fill="url(#ag)"/>
</g></g>
<rect x="36.4" y="803.9" width="430.2" height="430.7" fill="none" stroke="#cfcfcf" stroke-width="1.6"/>
<rect x="38.9" y="806.4" width="425.2" height="425.7" fill="none" stroke="#000" stroke-width="3.8"/>
<text x="186.39" y="1298.60" font-size="38.20" textLength="20.73" lengthAdjust="spacingAndGlyphs" font-style="italic">T</text>
<text x="206.60" y="1304.80" font-size="23.00" textLength="10.67" lengthAdjust="spacingAndGlyphs">s</text>
<text x="223.19" y="1298.60" font-size="38.20" textLength="22.62" lengthAdjust="spacingAndGlyphs">=</text>
<text x="252.51" y="1298.60" font-size="38.20" textLength="54.64" lengthAdjust="spacingAndGlyphs">500</text>
<text x="313.95" y="1298.60" font-size="38.20" textLength="27.61" lengthAdjust="spacingAndGlyphs">K</text>
<clipPath id="cp1"><rect x="502.1" y="808.1" width="421.8" height="422.3"/></clipPath>
<rect x="502.1" y="808.1" width="421.8" height="422.3" fill="#fcfdfc"/>
<g clip-path="url(#cp1)"><g filter="url(#soft)">
<path d="M926 1076Q928 1083 930 1090M926 1076Q930 1069 937 1060M836 914Q842 912 846 907M836 914Q842 927 847 937M847 937Q859 933 866 929M846 907Q857 912 868 914M868 914Q868 922 866 929M918 905Q913 911 908 913M918 905Q919 898 919 892M887 885Q888 884 888 883M887 885Q890 899 894 909M888 883Q900 885 915 886M919 892Q918 890 915 886M894 909Q901 912 908 913M906 932Q905 921 908 913M906 932Q914 939 925 942M937 920Q926 912 918 905M925 942Q932 937 937 934M931 890Q924 892 919 892M875 890Q870 902 869 914M875 890Q880 886 887 885M884 915Q876 913 869 914M884 915Q891 912 894 909M884 915Q888 927 894 938M894 938Q899 934 906 932M751 867Q747 864 740 863M751 867Q751 874 754 883M754 883Q741 887 726 892M724 878Q733 870 740 863M724 878Q723 882 723 890M723 890Q726 891 726 892M930 1090Q928 1096 923 1099M925 1110Q939 1110 951 1107M925 1110Q926 1109 924 1108M924 1108Q924 1102 923 1099M899 1133Q900 1124 897 1118M899 1133Q906 1134 909 1139M925 1110Q929 1119 929 1126M909 1139Q918 1131 929 1126M924 1108Q912 1113 897 1118M926 1076Q916 1074 905 1074M905 1074Q903 1079 900 1089M923 1099Q913 1095 900 1089M948 973Q934 967 923 959M925 942Q924 950 922 958M922 958Q923 959 923 959M862 1261Q851 1246 843 1231M843 1231Q841 1234 838 1234M838 1234Q834 1237 829 1243M803 1226Q792 1230 781 1232M803 1226Q806 1222 807 1216M807 1216Q809 1215 807 1210M807 1210Q800 1204 789 1200M789 1200Q779 1212 772 1220M772 1220Q772 1224 775 1227M781 1232Q778 1230 775 1227M781 1246Q782 1240 781 1232M809 1241Q805 1235 803 1226M838 1234Q823 1223 807 1216M749 1244Q761 1234 775 1227M743 1240Q748 1225 755 1212M755 1212Q764 1216 772 1220M885 1192Q884 1203 884 1218M885 1192Q883 1191 883 1190M855 1217Q862 1205 865 1193M855 1217Q864 1220 874 1222M874 1222Q879 1222 884 1218M883 1190Q873 1192 865 1193M873 1242Q874 1232 874 1222M855 1217Q853 1215 852 1217M843 1231Q845 1224 850 1219M852 1217Q850 1219 850 1219M807 1210Q810 1208 812 1207M850 1219Q831 1213 812 1207M897 1228Q909 1228 919 1226M897 1228Q898 1237 899 1244M919 1226Q922 1233 923 1244M890 1220Q892 1224 897 1228M890 1220Q889 1219 884 1218M934 1212Q925 1220 919 1226M879 1147Q891 1156 906 1165M879 1147Q878 1148 880 1144M899 1133Q889 1138 880 1144M909 1139Q914 1147 915 1156M915 1156Q913 1162 906 1165M885 1192Q898 1192 913 1193M884 1176Q885 1183 883 1190M884 1176Q893 1173 903 1170M903 1170Q907 1183 913 1193M890 1220Q903 1208 917 1196M913 1193Q915 1195 917 1196M933 1207Q929 1203 925 1199M925 1199Q923 1196 921 1196M917 1196Q920 1195 921 1196M765 951Q766 960 766 971M765 951Q764 949 761 945M766 971Q754 972 740 972M761 945Q753 949 741 950M741 950Q739 960 740 972M648 993Q652 985 656 979M648 993Q658 1005 672 1014M656 979Q661 977 669 977M669 977Q676 980 683 985M672 1014Q674 1014 673 1014M673 1014Q679 1005 682 994M683 985Q683 990 682 994M685 985Q685 987 683 985M685 985Q699 995 713 1007M713 1007Q710 1014 703 1017M703 1017Q691 1006 682 994M619 1081Q623 1077 626 1071M619 1081Q616 1084 615 1085M600 1078Q607 1081 615 1085M600 1078Q598 1068 598 1059M598 1059Q600 1059 600 1056M626 1071Q612 1063 600 1056M626 1071Q627 1069 627 1071M627 1071Q630 1060 630 1049M600 1056Q602 1052 602 1044M602 1044Q608 1043 614 1041M630 1049Q623 1046 614 1041M846 907Q849 899 848 887M875 890Q866 886 857 882M869 914Q868 913 868 914M848 887Q852 884 857 882M887 948Q881 957 874 964M887 948Q887 947 887 946M887 946Q883 944 875 941M874 964Q867 957 860 951M860 951Q866 945 875 941M872 969Q883 974 894 980M872 969Q872 966 874 964M894 980Q900 975 903 967M903 967Q896 956 887 948M894 938Q891 944 887 946M903 967Q905 966 904 967M922 958Q915 961 904 967M866 929Q870 935 875 941M695 978Q705 978 712 976M695 978Q689 981 685 985M719 1005Q718 1006 713 1007M719 1005Q718 1002 720 1002M720 1002Q717 989 712 976M716 955Q717 962 717 970M716 955Q724 951 732 946M732 946Q738 946 741 950M740 972Q739 974 738 974M738 974Q729 971 717 970M872 969Q864 974 859 978M894 980Q895 986 892 991M859 978Q859 984 861 987M861 987Q868 995 874 999M874 999Q883 996 892 991M791 948Q796 953 799 958M791 948Q791 943 792 938M792 938Q799 937 807 934M799 958Q805 959 812 958M807 934Q810 947 812 958M791 948Q779 948 765 951M766 971Q767 972 770 977M799 958Q790 970 782 981M770 977Q775 977 782 981M703 1017Q703 1018 701 1020M673 1014Q680 1020 686 1024M686 1024Q693 1021 701 1020M735 1031Q735 1031 735 1035M735 1031Q726 1017 719 1005M727 1045Q731 1038 735 1035M727 1045Q721 1045 713 1042M701 1020Q709 1031 713 1042M766 838Q775 840 787 841M766 838Q767 829 768 819M768 819Q768 820 770 819M770 819Q778 826 788 832M788 832Q788 835 787 841M781 804Q776 813 770 819M781 804Q783 804 789 803M788 832Q796 824 803 812M789 803Q796 806 803 812M726 826Q737 827 746 829M726 826Q720 832 714 834M736 857Q723 851 712 843M736 857Q743 847 748 833M748 833Q745 832 746 829M714 834Q712 839 712 843M759 841Q760 850 758 861M759 841Q751 836 748 833M758 861Q754 866 751 867M740 863Q737 860 736 857M759 841Q761 841 766 838M768 819Q763 817 755 815M755 815Q750 822 746 829M701 818Q707 825 714 834M701 818Q704 808 710 797M726 826Q727 816 729 809M729 809Q720 802 710 797M679 793Q674 804 673 812M701 818Q688 814 673 812M792 938Q789 929 785 923M761 945Q763 938 762 933M762 933Q772 927 785 923M818 913Q815 909 814 909M818 913Q819 915 817 920M817 920Q811 928 807 934M785 923Q788 919 790 913M814 909Q803 912 790 913M836 914Q828 914 818 913M835 880Q841 883 848 887M835 880Q823 884 815 888M814 909Q813 899 815 888M681 884Q691 882 699 884M681 884Q678 881 677 875M677 875Q681 868 684 863M699 884Q704 875 705 862M684 863Q694 859 704 858M705 862Q704 859 704 858M724 878Q716 871 705 862M707 893Q715 893 723 890M707 893Q704 889 699 884M672 847Q680 855 684 863M672 847Q674 844 677 838M710 844Q692 842 677 838M710 844Q707 852 704 858M710 844Q709 842 712 843M485 976Q493 980 503 984M501 1002Q501 994 503 984M501 1002Q493 1003 484 1008M754 883Q754 885 756 886M756 886Q759 893 759 901M726 892Q728 903 732 910M759 901Q758 903 757 904M732 910Q745 908 757 904M759 901Q770 903 782 904M762 933Q760 930 760 930M790 913Q787 908 782 904M757 904Q760 918 760 930M640 958Q647 967 656 979M640 958Q640 955 645 955M669 977Q670 967 675 957M675 957Q661 957 645 955M949 997Q939 1007 924 1015M948 979Q935 986 924 991M924 1015Q922 1007 919 1000M919 1000Q922 997 924 991M924 991Q924 993 924 991M924 1019Q934 1024 948 1027M924 1019Q926 1018 924 1015M923 959Q923 973 924 991M904 967Q916 979 924 991M899 995Q894 991 892 991M899 995Q909 997 919 1000M776 1188Q776 1186 778 1187M776 1188Q764 1199 754 1210M754 1210Q757 1209 755 1212M789 1200Q787 1195 785 1191M778 1187Q783 1191 785 1191M807 1146Q799 1134 786 1125M807 1146Q803 1151 801 1158M786 1125Q782 1128 778 1132M801 1158Q790 1158 778 1158M778 1132Q780 1146 778 1158M778 1187Q776 1173 775 1159M785 1191Q797 1183 805 1172M805 1172Q804 1165 801 1158M775 1159Q775 1160 778 1158M776 1188Q762 1181 747 1178M775 1159Q770 1160 763 1158M747 1178Q754 1170 763 1158M758 1133Q769 1132 778 1132M758 1133Q755 1141 756 1149M756 1149Q759 1153 763 1158M745 1203Q739 1208 729 1211M745 1203Q743 1190 743 1180M743 1180Q741 1181 740 1179M740 1179Q727 1183 717 1190M725 1211Q725 1212 729 1211M725 1211Q719 1202 714 1193M714 1193Q715 1191 717 1190M743 1240Q735 1224 729 1211M754 1210Q751 1206 745 1203M747 1178Q745 1178 743 1180M725 1211Q716 1218 708 1228M708 1228Q719 1236 732 1246M897 1118Q895 1112 890 1109M900 1089Q894 1090 891 1095M891 1095Q891 1102 890 1109M884 1176Q882 1173 877 1170M865 1193Q861 1182 853 1175M853 1175Q856 1173 854 1174M854 1174Q864 1174 877 1170M879 1147Q880 1149 878 1150M903 1170Q903 1166 906 1165M878 1150Q879 1159 877 1170M819 1179Q818 1191 813 1205M819 1179Q826 1175 837 1175M813 1205Q829 1202 842 1196M842 1196Q841 1185 840 1177M837 1175Q838 1178 840 1177M812 1207Q814 1206 813 1205M805 1172Q813 1174 819 1179M812 1144Q822 1152 835 1160M812 1144Q811 1146 807 1146M835 1160Q837 1167 837 1175M852 1217Q847 1205 842 1196M853 1175Q847 1174 840 1177M940 1149Q934 1154 927 1160M929 1164Q927 1161 927 1160M915 1156Q920 1159 927 1160M921 1196Q925 1181 929 1164M925 1199Q933 1186 944 1174M709 1193Q704 1199 698 1201M709 1193Q710 1191 714 1193M708 1228Q709 1227 708 1228M708 1228Q703 1221 698 1213M698 1213Q700 1208 698 1201M708 1228Q700 1234 696 1239M709 1193Q701 1185 697 1177M717 1190Q713 1176 709 1164M697 1177Q702 1170 709 1164M600 1078Q590 1083 583 1089M615 1085Q615 1099 613 1109M583 1089Q588 1098 596 1110M613 1109Q611 1108 610 1111M596 1110Q601 1109 610 1111M568 1182Q568 1180 567 1179M568 1182Q581 1181 596 1175M593 1166Q596 1171 596 1175M593 1166Q584 1164 573 1162M573 1162Q570 1170 567 1179M488 1229Q497 1230 508 1228M508 1228Q511 1240 512 1249M583 1089Q579 1088 577 1086M598 1059Q586 1061 577 1065M577 1065Q578 1075 577 1086M555 1098Q555 1094 555 1094M555 1098Q569 1110 586 1118M586 1118Q592 1116 596 1110M577 1086Q568 1089 555 1094M594 1013Q607 1016 621 1021M594 1013Q593 1014 591 1014M602 1044Q595 1038 588 1033M621 1021Q616 1032 614 1041M591 1014Q588 1022 588 1033M643 1076Q634 1072 627 1071M643 1076Q649 1070 655 1067M630 1049Q638 1046 644 1044M655 1067Q655 1055 653 1043M644 1044Q648 1044 653 1043M764 1061Q759 1063 757 1067M764 1061Q776 1069 787 1078M757 1067Q759 1079 761 1090M761 1090Q762 1089 762 1091M762 1091Q773 1092 784 1090M784 1090Q786 1084 787 1078M812 1144Q816 1137 825 1127M787 1116Q786 1121 786 1125M787 1116Q789 1113 794 1107M825 1127Q823 1122 820 1114M820 1114Q811 1110 800 1106M794 1107Q796 1108 800 1106M731 1065Q732 1065 732 1067M731 1065Q730 1057 727 1045M732 1067Q743 1068 757 1067M735 1035Q752 1039 769 1045M764 1061Q765 1055 769 1046M769 1046Q767 1047 769 1045M860 951Q850 955 843 957M859 978Q854 977 852 973M852 973Q846 963 843 957M847 937Q842 947 840 954M843 957Q843 955 840 954M817 920Q825 938 831 954M840 954Q833 956 831 954M812 958Q816 958 820 960M831 954Q826 959 820 960M918 1048Q921 1036 920 1023M918 1048Q913 1051 910 1052M910 1052Q901 1048 895 1043M920 1023Q909 1023 896 1025M895 1043Q892 1033 892 1026M896 1025Q893 1026 892 1026M924 1019Q924 1019 920 1023M937 1060Q927 1054 918 1048M905 1074Q905 1072 903 1068M903 1068Q907 1060 910 1052M903 1068Q893 1064 886 1064M886 1064Q884 1061 884 1054M884 1054Q888 1047 895 1043M899 995Q898 1010 896 1025M874 999Q873 1003 872 1009M872 1009Q875 1017 881 1024M881 1024Q887 1024 892 1026M747 1020Q755 1017 766 1016M747 1020Q741 1009 739 996M766 1016Q760 1006 753 995M753 995Q745 997 739 995M739 996Q739 997 739 995M735 1031Q741 1026 747 1020M767 1016Q766 1015 766 1016M767 1016Q767 1016 769 1020M769 1020Q768 1033 769 1045M720 1002Q728 999 739 996M738 974Q738 984 739 995M770 977Q760 984 753 995M712 976Q714 974 717 970M910 845Q912 854 910 863M910 845Q911 843 917 843M917 843Q925 850 934 860M934 860Q927 867 917 871M917 871Q913 865 910 863M930 828Q928 828 927 829M927 829Q923 836 917 843M915 886Q917 877 917 871M888 883Q887 873 886 865M886 865Q897 865 910 863M857 882Q859 875 859 871M886 865Q883 861 882 858M859 871Q872 866 882 858M893 839Q886 847 882 857M893 839Q893 833 891 830M867 831Q868 839 865 848M867 831Q874 828 882 826M891 830Q885 829 882 826M865 848Q872 853 882 857M893 839Q903 843 910 845M882 857Q883 858 882 858M932 800Q920 801 911 805M927 829Q919 820 907 813M911 805Q909 810 907 813M911 805Q910 792 905 784M891 830Q896 824 904 815M907 813Q907 816 904 815M758 861Q769 860 782 862M787 841Q787 841 788 845M782 862Q784 853 788 845M818 823Q812 819 804 812M818 823Q818 836 814 847M803 812Q802 811 804 812M814 847Q813 847 813 849M788 845Q801 848 813 849M789 803Q788 790 788 781M804 812Q813 800 818 791M818 823Q820 823 825 823M825 823Q828 812 834 801M848 823Q845 824 843 828M848 823Q852 817 854 807M854 807Q852 802 847 801M825 823Q834 823 843 828M781 804Q771 799 758 791M755 815Q752 809 751 799M729 809Q733 804 738 800M672 847Q663 850 651 855M677 875Q664 874 656 871M656 871Q653 862 651 855M555 1098Q553 1108 551 1117M528 1094Q537 1091 548 1088M528 1094Q523 1100 517 1109M551 1117Q542 1118 532 1118M555 1094Q553 1092 548 1088M517 1109Q524 1115 532 1118M503 984Q503 982 507 981M507 981Q509 970 511 960M477 950Q489 950 503 951M511 960Q506 954 503 951M680 887Q682 900 684 913M680 887Q668 893 655 898M684 913Q682 914 678 918M678 918Q666 913 654 907M654 907Q656 904 655 898M681 884Q682 886 680 887M656 871Q652 877 649 885M655 898Q654 892 649 885M623 884Q635 866 646 851M623 884Q625 885 624 885M651 855Q650 853 646 851M649 885Q639 884 624 885M709 929Q703 920 697 912M709 929Q718 927 730 925M730 913Q730 917 730 924M730 913Q717 913 700 908M700 908Q698 912 697 912M730 925Q728 926 730 924M716 955Q709 952 703 945M732 946Q730 937 730 925M703 945Q705 939 709 929M732 910Q733 910 730 913M760 930Q747 926 730 924M707 893Q705 899 700 908M684 913Q692 911 697 912M692 952Q696 949 702 945M692 952Q683 951 677 953M702 945Q688 937 677 925M677 953Q671 944 669 940M669 940Q673 930 677 925M695 978Q693 966 692 952M703 945Q703 946 702 945M675 957Q678 955 677 953M678 918Q676 920 677 925M645 955Q656 946 668 940M668 940Q669 939 669 940M498 799Q496 802 492 808M604 952Q593 955 585 954M604 952Q605 940 611 931M588 927Q587 941 585 954M588 927Q589 928 592 926M592 926Q601 928 611 931M622 959Q616 969 609 981M622 959Q629 956 634 955M635 956Q629 976 624 995M635 956Q636 958 634 955M624 995Q615 986 609 981M601 1005Q615 1000 626 998M601 1005Q603 995 602 981M626 998Q623 997 624 995M602 981Q605 983 609 981M623 804Q617 800 607 799M623 804Q623 801 626 802M673 812Q674 810 673 812M646 800Q649 803 655 806M655 806Q664 809 673 812M677 838Q673 825 672 815M672 815Q671 812 673 812M498 799Q510 804 522 807M526 802Q523 805 522 807M787 1116Q774 1111 762 1109M758 1133Q756 1131 757 1131M757 1131Q761 1121 762 1109M762 1091Q760 1097 761 1107M784 1090Q789 1099 794 1107M762 1109Q761 1107 761 1107M715 1112Q721 1097 726 1087M715 1112Q728 1114 738 1119M738 1119Q743 1114 746 1109M746 1109Q743 1102 740 1093M740 1093Q733 1091 727 1086M727 1086Q726 1087 726 1087M703 1113Q706 1115 710 1115M703 1113Q698 1097 691 1083M710 1115Q713 1113 715 1112M691 1083Q692 1080 696 1079M696 1079Q709 1081 726 1087M742 1127Q741 1124 738 1119M742 1127Q748 1129 757 1131M761 1107Q753 1107 746 1109M761 1090Q752 1092 740 1093M732 1067Q728 1076 727 1086M731 1065Q715 1065 698 1066M696 1079Q698 1074 698 1066M861 987Q848 994 839 1003M872 1009Q860 1014 851 1018M839 1003Q844 1012 851 1018M880 1144Q873 1138 868 1133M868 1133Q868 1126 866 1121M890 1109Q882 1112 871 1114M866 1121Q869 1116 871 1114M886 1064Q879 1069 872 1076M891 1095Q881 1088 873 1083M872 1076Q874 1079 873 1083M871 1114Q864 1103 861 1095M873 1083Q868 1088 861 1095M851 1118Q857 1121 866 1121M851 1118Q849 1107 844 1096M861 1095Q851 1094 844 1096M825 1127Q832 1130 836 1130M840 1094Q840 1096 841 1094M840 1094Q836 1098 829 1104M820 1114Q825 1110 829 1104M836 1130Q843 1125 851 1118M841 1094Q841 1093 844 1096M862 1154Q861 1156 857 1161M862 1154Q855 1147 851 1142M857 1161Q852 1152 844 1146M851 1142Q849 1141 845 1143M844 1146Q846 1144 845 1143M854 1174Q854 1166 857 1161M878 1150Q870 1152 862 1154M868 1133Q858 1137 851 1142M835 1160Q839 1154 844 1146M836 1130Q840 1137 845 1143M676 1217Q675 1212 673 1207M676 1217Q686 1215 698 1213M698 1201Q688 1196 680 1192M673 1207Q677 1199 680 1192M697 1177Q686 1179 676 1178M680 1192Q677 1184 676 1178M657 1229Q659 1236 665 1248M657 1229Q667 1227 675 1222M665 1248Q673 1239 682 1234M675 1222Q678 1229 682 1234M676 1217Q674 1218 675 1222M650 1226Q655 1228 657 1229M650 1226Q652 1216 650 1206M673 1207Q663 1207 650 1206M696 1239Q689 1237 682 1234M710 1163Q707 1156 702 1153M710 1163Q719 1161 729 1160M729 1160Q729 1157 732 1151M702 1153Q701 1150 702 1143M731 1145Q720 1136 710 1131M731 1145Q732 1148 732 1151M710 1131Q706 1137 702 1143M740 1179Q736 1170 729 1160M709 1164Q709 1163 710 1163M756 1149Q743 1149 732 1151M710 1115Q709 1121 710 1131M742 1127Q737 1136 731 1145M578 1133Q587 1139 598 1146M578 1133Q581 1127 586 1118M610 1111Q610 1123 610 1136M598 1146Q604 1142 610 1136M567 1188Q566 1186 568 1182M567 1188Q554 1194 543 1199M543 1199Q540 1197 540 1196M567 1179Q556 1175 546 1170M540 1196Q541 1185 546 1170M546 1170Q545 1168 546 1170M565 1150Q557 1152 552 1155M565 1150Q568 1145 570 1136M570 1136Q563 1132 554 1124M554 1124Q547 1134 536 1143M552 1155Q543 1151 538 1146M536 1143Q538 1143 538 1146M573 1162Q569 1155 565 1150M546 1170Q550 1162 552 1155M593 1166Q596 1161 599 1153M578 1133Q573 1135 570 1136M599 1153Q598 1150 598 1146M551 1117Q552 1121 554 1124M532 1118Q528 1131 527 1140M527 1140Q533 1141 536 1143M529 1167Q536 1170 546 1170M529 1167Q533 1157 538 1146M540 1196Q532 1194 526 1191M529 1167Q527 1169 523 1168M526 1191Q523 1181 523 1168M488 1203Q492 1199 500 1195M508 1228Q511 1223 514 1220M514 1220Q512 1209 505 1198M500 1195Q501 1198 505 1198M527 1140Q527 1139 526 1140M526 1140Q521 1151 519 1166M523 1168Q520 1166 519 1166M544 1217Q540 1221 537 1222M544 1217Q548 1218 555 1221M537 1222Q535 1232 535 1241M555 1221Q558 1229 565 1240M543 1199Q542 1208 544 1217M514 1220Q526 1220 537 1222M526 1191Q516 1195 505 1198M621 1021Q625 1020 629 1023M621 1021Q624 1008 627 998M629 1023Q636 1021 646 1019M646 1019Q643 1009 642 997M642 997Q634 996 627 998M621 1021Q622 1021 621 1021M644 1044Q634 1034 629 1023M601 1005Q599 1007 594 1013M626 998Q626 999 627 998M655 1028Q653 1034 654 1043M655 1028Q652 1022 646 1019M653 1043Q653 1044 654 1043M648 993Q646 993 642 997M672 1014Q664 1021 655 1028M640 958Q638 955 635 956M674 1067Q686 1066 697 1064M674 1067Q678 1059 681 1046M681 1046Q681 1045 681 1046M681 1046Q689 1047 695 1052M695 1052Q696 1057 697 1064M675 1084Q683 1083 691 1083M675 1084Q672 1080 670 1074M670 1074Q674 1071 674 1067M698 1066Q699 1066 697 1064M655 1067Q664 1072 670 1074M654 1043Q668 1046 681 1046M686 1024Q682 1035 681 1046M713 1042Q704 1048 695 1052M829 1104Q821 1096 814 1087M800 1106Q806 1095 809 1089M814 1087Q812 1088 809 1089M840 1094Q831 1089 825 1080M814 1087Q821 1082 825 1080M769 1020Q781 1023 794 1024M769 1046Q779 1045 791 1046M794 1024Q797 1027 799 1029M799 1029Q795 1038 791 1046M852 973Q839 980 831 988M839 1003Q838 1001 837 1003M831 988Q836 994 837 1003M851 1018Q848 1027 846 1033M837 1003Q828 1007 820 1013M820 1013Q834 1023 846 1034M846 1034Q846 1035 846 1033M881 1024Q874 1033 867 1042M846 1033Q857 1037 867 1042M872 1076Q867 1071 859 1066M841 1094Q847 1081 850 1067M850 1067Q856 1065 859 1066M884 1054Q876 1047 868 1044M859 1066Q865 1057 868 1044M868 1044Q867 1043 867 1042M854 865Q852 856 852 850M854 865Q846 866 836 869M836 869Q833 866 834 864M834 864Q837 854 841 847M852 850Q850 847 844 845M844 845Q843 845 841 847M859 871Q857 868 854 865M865 848Q859 851 852 850M835 880Q835 875 836 869M815 888Q810 882 806 877M806 877Q812 868 814 859M814 859Q823 863 834 864M814 847Q826 846 841 847M814 859Q813 853 813 849M867 831Q856 827 848 823M843 828Q845 835 844 845M887 801Q880 804 875 811M862 804Q868 807 875 811M862 804Q868 789 873 777M904 815Q895 808 887 801M882 826Q880 817 875 811M854 807Q858 806 862 804M785 868Q793 871 802 877M785 868Q780 876 776 882M802 877Q793 886 784 895M776 882Q778 888 784 895M782 862Q783 863 785 868M806 877Q804 876 802 877M756 886Q765 885 776 882M782 904Q785 900 784 895M623 804Q624 808 624 812M595 808Q598 803 604 799M595 808Q600 818 608 832M624 812Q617 821 608 832M507 981Q516 981 527 984M527 984Q533 980 541 973M530 954Q522 957 511 960M530 954Q538 960 541 970M541 970Q542 971 541 973M553 934Q558 944 566 952M553 934Q543 938 535 940M535 940Q533 948 530 954M541 970Q553 963 566 952M541 973Q549 978 556 986M566 952Q569 954 574 956M574 956Q568 970 560 982M556 986Q556 985 560 982M583 956Q577 955 574 956M583 956Q585 965 589 976M560 982Q575 979 589 976M602 981Q595 979 590 978M591 1014Q586 1006 577 1001M577 1001Q585 987 590 978M604 952Q612 954 622 959M585 954Q585 956 583 956M590 978Q589 975 589 976M635 910Q641 909 649 911M635 910Q626 915 621 918M649 911Q647 918 647 927M647 927Q641 936 633 942M633 942Q628 933 620 927M621 918Q621 921 620 927M654 907Q653 910 649 911M624 885Q631 897 635 910M623 884Q621 884 620 884M620 884Q614 888 606 893M606 893Q607 898 611 907M611 907Q615 912 621 918M668 940Q656 934 647 927M634 955Q635 950 633 942M611 931Q615 930 620 927M592 926Q601 916 611 907M477 891Q490 891 500 890M500 890Q499 898 495 903M525 931Q517 938 507 941M525 931Q522 924 519 916M519 916Q515 915 510 916M510 916Q503 920 499 927M507 941Q504 935 499 927M535 940Q529 936 525 931M503 951Q503 947 507 941M551 908Q535 910 521 913M551 908Q554 921 555 930M521 913Q519 913 519 916M555 930Q553 934 553 934M465 930Q483 930 499 927M495 903Q504 908 510 916M518 827Q522 826 522 822M518 827Q521 839 525 852M522 822Q535 824 550 829M525 852Q528 852 534 849M534 849Q543 842 550 837M550 837Q550 834 550 829M522 807Q521 815 522 822M515 828Q507 823 496 821M515 828Q518 827 518 827M541 801Q548 812 554 825M554 825Q551 828 550 829M676 1178Q675 1177 675 1178M702 1153Q691 1158 678 1163M678 1163Q676 1169 675 1178M673 1136Q672 1142 670 1145M673 1136Q688 1140 702 1143M678 1163Q673 1153 670 1145M703 1113Q691 1114 681 1116M675 1084Q671 1090 670 1094M681 1116Q680 1114 677 1111M670 1094Q675 1102 677 1111M643 1076Q647 1089 647 1097M670 1094Q660 1096 647 1097M619 1081Q632 1090 644 1101M647 1097Q645 1098 644 1101M613 1109Q624 1111 638 1112M644 1101Q639 1107 638 1112M603 1219Q595 1223 585 1224M603 1219Q599 1210 596 1204M585 1224Q582 1216 575 1211M591 1198Q592 1201 596 1204M591 1198Q586 1202 579 1201M579 1201Q579 1207 575 1211M582 1241Q583 1232 585 1224M555 1221Q564 1214 575 1211M600 1181Q610 1182 619 1183M600 1181Q594 1188 591 1198M626 1200Q613 1200 596 1204M626 1200Q624 1190 619 1183M567 1188Q573 1196 579 1201M596 1175Q599 1179 600 1181M618 1223Q618 1224 614 1224M618 1223Q626 1229 637 1234M614 1224Q610 1238 603 1248M637 1234Q636 1237 637 1238M627 1201Q624 1210 618 1223M627 1201Q625 1198 626 1200M603 1219Q608 1220 614 1224M650 1226Q642 1229 637 1234M627 1201Q636 1201 646 1202M646 1202Q648 1206 650 1206M644 1131Q640 1124 639 1118M644 1131Q658 1131 673 1135M673 1135Q673 1134 673 1135M673 1135Q661 1125 649 1117M649 1117Q645 1116 639 1114M639 1118Q638 1117 639 1114M673 1136Q674 1135 673 1135M670 1145Q657 1150 646 1152M646 1152Q644 1140 644 1131M681 1116Q677 1126 673 1135M677 1111Q662 1112 649 1117M638 1112Q640 1112 639 1114M610 1136Q616 1137 624 1141M624 1141Q632 1128 639 1118M504 1171Q507 1170 514 1166M504 1171Q496 1163 491 1152M514 1166Q509 1153 502 1137M496 1140Q498 1139 502 1137M497 1181Q500 1188 500 1195M497 1181Q499 1177 504 1171M519 1166Q518 1165 514 1166M526 1140Q514 1136 505 1134M505 1134Q503 1134 502 1137M501 1002Q507 1006 511 1013M527 984Q531 993 532 1004M532 1004Q523 1008 511 1013M509 1029Q512 1023 512 1020M509 1029Q503 1031 494 1038M512 1020Q510 1018 511 1013M787 1078Q786 1077 787 1077M809 1089Q808 1080 803 1075M787 1077Q794 1076 803 1075M791 1046Q794 1048 793 1048M787 1077Q790 1063 793 1048M817 981Q819 981 818 982M817 981Q803 986 786 988M818 982Q815 997 813 1009M813 1009Q802 1001 788 997M786 988Q785 990 787 996M788 997Q786 996 787 996M820 960Q817 971 817 981M831 988Q825 986 818 982M782 981Q784 985 786 988M816 1014Q819 1013 820 1013M816 1014Q816 1011 813 1009M794 1024Q790 1011 788 997M811 1024Q806 1029 799 1029M811 1024Q814 1021 816 1014M767 1016Q778 1006 787 996M838 1058Q836 1052 837 1044M838 1058Q832 1063 823 1068M823 1068Q817 1068 811 1065M823 1041Q815 1048 807 1055M823 1041Q829 1044 837 1044M811 1065Q810 1059 807 1055M846 1034Q841 1040 837 1044M850 1067Q844 1061 838 1058M825 1080Q822 1073 823 1068M803 1075Q809 1071 811 1065M811 1024Q816 1031 823 1041M793 1048Q798 1051 807 1055M601 892Q597 892 596 890M601 892Q592 909 586 924M596 890Q585 898 576 909M576 909Q579 917 583 922M583 922Q584 924 586 924M588 927Q587 925 586 924M606 893Q603 891 601 892M555 930Q567 926 583 922M620 884Q616 870 615 859M615 859Q604 864 593 865M596 890Q597 890 595 890M593 865Q592 877 595 890M644 821Q647 827 649 834M644 821Q635 817 625 814M625 814Q630 831 635 845M649 834Q646 840 642 847M642 847Q640 847 635 845M655 806Q649 814 644 821M672 815Q659 824 649 834M624 812Q625 813 625 814M618 851Q627 848 635 845M618 851Q612 847 605 840M605 840Q605 837 608 832M646 851Q644 850 642 847M615 859Q615 856 618 851M510 1110Q506 1111 506 1114M510 1110Q508 1099 503 1089M506 1114Q494 1112 480 1108M503 1089Q496 1083 491 1078M517 1109Q514 1109 510 1110M505 1134Q505 1125 506 1114M528 1094Q523 1090 518 1083M518 1083Q510 1085 503 1089M498 1064Q494 1070 491 1078M498 1064Q507 1063 518 1063M518 1063Q519 1073 518 1083M488 1044Q492 1053 498 1064M503 885Q490 876 474 869M503 885Q509 882 513 881M513 881Q502 868 493 854M500 890Q502 887 503 885M515 828Q503 834 494 843M523 855Q526 855 525 852M523 855Q508 853 495 851M513 881Q515 883 516 881M523 855Q523 863 523 868M523 868Q518 873 516 881M521 913Q521 901 521 888M521 888Q518 884 516 881M565 798Q569 801 570 807M595 808Q594 807 591 810M591 810Q580 810 570 807M605 840Q595 841 586 839M591 810Q590 827 586 839M554 825Q559 822 562 821M570 807Q568 813 562 821M655 1184Q659 1183 661 1179M655 1184Q641 1177 626 1173M661 1179Q652 1168 644 1154M644 1154Q636 1154 632 1157M632 1157Q631 1160 628 1162M626 1173Q629 1167 628 1162M646 1202Q649 1195 655 1184M675 1178Q667 1177 661 1179M619 1183Q621 1179 626 1173M646 1152Q643 1152 644 1154M624 1141Q628 1150 632 1157M599 1153Q614 1159 628 1162M577 1065Q574 1064 572 1060M548 1088Q546 1084 546 1078M572 1060Q560 1069 546 1078M588 1033Q583 1033 580 1035M580 1035Q574 1039 566 1045M572 1060Q567 1054 566 1045M551 1034Q558 1025 563 1015M551 1034Q545 1021 541 1008M541 1006Q542 1008 541 1008M541 1006Q548 1004 558 998M563 1015Q564 1009 565 1001M558 998Q563 1000 565 1001M532 1004Q536 1005 541 1006M532 1025Q538 1016 541 1008M532 1025Q523 1021 512 1020M556 986Q559 991 558 998M577 1001Q570 1002 565 1001M580 1035Q572 1025 563 1015M593 865Q594 865 591 864M586 839Q585 841 585 840M591 864Q587 852 585 840M562 821Q573 831 584 840M585 840Q583 841 584 840M550 837Q559 845 564 854M584 840Q575 848 564 854M545 893Q543 880 541 871M545 893Q551 895 555 899M555 899Q555 899 557 898M557 898Q561 892 567 883M567 883Q565 877 565 871M541 871Q548 867 557 865M565 871Q562 869 561 865M557 865Q559 863 561 865M523 868Q534 869 541 871M521 888Q534 892 545 893M551 908Q551 903 555 899M576 909Q565 904 557 898M595 890Q580 887 567 883M591 864Q580 868 565 871M534 849Q546 857 557 865M564 854Q561 858 561 865M551 1039Q556 1040 559 1044M551 1039Q546 1041 541 1041M559 1044Q552 1060 545 1078M541 1041Q535 1046 528 1050M545 1078Q535 1070 525 1059M528 1050Q525 1057 525 1059M566 1045Q563 1043 559 1044M551 1034Q550 1038 551 1039M532 1025Q537 1034 541 1041M546 1078Q545 1079 545 1078M509 1029Q520 1039 528 1050M518 1063Q520 1062 525 1059" fill="none" stroke="#454a44" stroke-width="1.0" stroke-opacity="0.85"/>
<path d="M493 1073Q504 1076 514 1075M519 1041Q508 1040 500 1041M519 1041Q517 1054 519 1067M497 1043Q497 1044 500 1041M519 1067Q519 1073 514 1075M494 928Q503 938 511 952M465 923Q484 938 506 957M506 957Q510 953 511 952M494 928Q501 924 506 921M466 923Q481 910 502 898M502 898Q505 908 506 921M520 946Q513 949 511 952M520 946Q516 936 515 927M515 927Q512 924 506 921M505 959Q505 960 500 965M505 959Q508 958 506 957M500 965Q494 968 491 968M500 1041Q496 1023 491 1008M944 1222Q934 1235 924 1245M952 982Q939 977 923 967M943 1002Q929 999 918 996M918 996Q918 990 914 979M923 967Q921 975 914 979M948 942Q935 948 922 954M923 967Q925 963 922 954M532 1013Q528 1018 525 1025M532 1013Q526 1006 524 996M525 1025Q508 1015 493 1008M524 996Q518 995 513 993M493 1008Q503 998 513 993M519 1041Q520 1038 524 1037M524 1037Q526 1031 525 1025M505 959Q523 970 535 982M535 982Q528 987 524 996M500 965Q508 979 513 993M535 982Q538 977 543 978M543 978Q549 990 554 999M532 1013Q540 1011 551 1011M551 1011Q555 1007 554 999M543 978Q545 974 547 971M547 971Q560 980 573 988M554 999Q564 996 573 988M459 1125Q478 1117 498 1112M497 1137Q499 1125 504 1118M504 1118Q500 1113 498 1112M514 1075Q515 1082 521 1092M521 1092Q508 1097 492 1098M498 1112Q494 1103 492 1098M631 1019Q632 1026 631 1034M631 1019Q649 1022 664 1026M664 1026Q665 1033 664 1045M649 1059Q639 1045 631 1034M649 1059Q654 1057 655 1054M655 1054Q661 1049 664 1045M538 780Q535 794 537 807M509 793Q516 803 520 808M537 807Q529 807 520 808M487 805Q499 800 509 793M547 968Q561 965 571 963M547 968Q544 956 538 947M571 963Q569 954 569 946M569 946Q552 944 538 947M547 968Q545 969 547 971M520 946Q527 949 538 947M538 947Q538 949 538 947M573 988Q581 986 584 988M571 963Q582 968 590 973M590 973Q586 979 584 988M631 1019Q632 1020 631 1019M664 1026Q667 1024 671 1020M631 1019Q632 1010 629 1003M665 993Q670 1004 671 1020M665 993Q655 994 639 997M639 997Q633 999 629 1002M629 1002Q627 1000 629 1003M590 973Q592 971 597 968M629 1002Q622 987 615 971M584 990Q586 990 584 988M584 990Q608 997 627 1003M629 1003Q630 1004 627 1003M597 968Q608 967 615 971M525 1113Q541 1115 559 1113M525 1113Q524 1111 524 1112M524 1112Q523 1105 524 1095M560 1112Q558 1114 559 1113M560 1112Q550 1099 543 1091M524 1095Q530 1094 534 1090M543 1091Q541 1089 534 1090M504 1118Q513 1115 524 1112M521 1092Q522 1096 524 1095M519 1067Q529 1068 540 1068M540 1068Q538 1078 534 1090M554 1248Q553 1241 553 1235M553 1235Q548 1234 539 1234M539 1234Q537 1243 532 1254M532 1228Q512 1231 497 1238M532 1228Q536 1232 539 1234M577 1256Q578 1246 581 1235M553 1235Q552 1236 555 1234M555 1234Q569 1234 581 1235M607 1244Q599 1238 593 1234M593 1234Q588 1237 582 1234M581 1235Q582 1236 582 1234M577 1191Q582 1191 588 1192M577 1191Q577 1204 572 1212M572 1212Q576 1215 579 1221M579 1221Q583 1210 591 1199M591 1199Q589 1197 588 1192M557 1210Q555 1223 555 1234M557 1210Q567 1209 572 1212M582 1234Q579 1226 579 1221M604 1213Q597 1223 593 1234M604 1213Q597 1204 591 1199M769 780Q765 794 762 805M762 805Q750 803 740 805M741 782Q738 792 738 804M738 804Q738 805 740 805M766 812Q764 811 762 805M766 812Q762 823 755 831M755 831Q749 831 747 827M747 827Q742 817 740 805M607 1089Q616 1093 622 1101M607 1089Q612 1077 619 1066M622 1101Q635 1093 646 1087M619 1066Q618 1066 619 1065M619 1065Q630 1068 643 1072M643 1072Q644 1080 647 1085M647 1085Q645 1087 646 1087M649 1059Q646 1065 643 1072M631 1034Q622 1043 615 1051M615 1051Q616 1060 619 1065M604 1120Q609 1124 610 1123M604 1120Q599 1121 590 1121M610 1123Q608 1130 610 1132M576 1129Q585 1124 590 1121M576 1129Q589 1137 602 1143M602 1143Q608 1139 610 1132M735 1222Q725 1230 714 1240M735 1222Q723 1215 712 1208M712 1208Q709 1208 707 1210M707 1210Q707 1223 709 1233M714 1240Q711 1238 709 1233M683 1238Q697 1235 709 1233M604 1213Q613 1213 623 1208M623 1208Q623 1205 623 1199M588 1192Q597 1182 605 1177M623 1199Q612 1190 605 1177M663 1257Q663 1242 664 1229M683 1238Q681 1235 676 1230M664 1229Q670 1232 676 1230M707 1210Q702 1212 694 1209M676 1230Q685 1220 694 1209M908 1180Q906 1187 902 1195M908 1180Q904 1176 902 1168M897 1165Q900 1166 902 1168M897 1165Q885 1176 874 1187M874 1187Q890 1189 902 1195M883 1232Q874 1232 864 1231M883 1232Q887 1240 889 1244M864 1231Q858 1242 855 1254M858 1223Q860 1225 864 1231M858 1223Q857 1225 856 1223M856 1223Q842 1230 830 1237M678 1117Q681 1118 681 1117M678 1117Q667 1130 659 1142M681 1117Q677 1129 671 1144M659 1142Q665 1141 671 1144M617 1117Q612 1121 610 1123M617 1117Q629 1123 643 1126M610 1132Q617 1137 628 1145M628 1145Q638 1136 643 1126M657 1112Q669 1115 678 1117M657 1112Q651 1117 647 1126M659 1142Q656 1140 655 1142M655 1142Q651 1134 647 1126M617 1117Q618 1110 622 1101M657 1112Q654 1101 646 1087M647 1126Q646 1128 643 1126M671 1083Q660 1082 647 1085M671 1083Q676 1076 681 1071M655 1054Q670 1065 681 1071M681 1071Q681 1072 681 1071M664 1045Q675 1047 683 1051M681 1071Q680 1060 683 1051M671 1020Q683 1019 697 1021M697 1021Q699 1033 697 1045M683 1051Q691 1046 697 1045M753 1071Q764 1079 778 1083M753 1071Q756 1059 760 1050M778 1083Q773 1067 770 1050M760 1050Q767 1048 770 1050M781 1084Q784 1097 787 1113M781 1084Q778 1086 778 1083M778 1083Q766 1090 758 1096M787 1113Q787 1119 782 1122M752 1116Q765 1118 782 1122M752 1116Q757 1104 758 1096M782 1122Q780 1121 782 1122M909 943Q910 943 914 949M909 943Q901 944 893 945M914 949Q904 959 892 974M893 945Q886 949 882 955M882 955Q883 965 886 971M886 971Q888 971 892 974M914 979Q904 979 892 975M922 954Q916 952 914 949M892 975Q892 975 892 974M893 997Q895 986 892 975M893 997Q883 1001 877 1002M871 980Q873 992 871 1000M871 980Q879 975 886 971M877 1002Q875 1003 871 1000M806 905Q805 904 805 907M806 905Q800 900 799 896M799 896Q796 891 789 890M789 890Q780 897 771 899M771 899Q769 900 770 901M778 922Q773 912 770 901M778 922Q787 923 797 923M797 923Q799 915 805 907M865 949Q874 953 882 955M865 949Q855 952 848 960M871 980Q858 976 847 969M848 960Q848 962 847 969M865 949Q864 942 865 931M865 931Q852 925 841 919M841 919Q837 931 829 940M848 960Q837 949 829 940M803 944Q805 943 811 946M803 944Q800 933 797 923M805 907Q815 924 827 940M811 946Q817 941 827 940M806 905Q822 902 839 903M841 919Q839 912 839 903M829 940Q829 940 827 940M865 931Q871 926 876 922M893 945Q889 934 881 923M881 923Q877 922 876 922M707 784Q708 794 709 807M709 807Q697 810 690 810M677 796Q684 805 690 810M747 827Q741 828 733 832M738 804Q727 809 717 811M733 832Q727 823 717 811M709 807Q712 810 713 810M717 811Q713 811 713 810M788 872Q784 870 777 865M788 872Q788 879 789 890M771 899Q763 895 754 887M777 865Q764 875 754 887M728 874Q735 874 746 878M728 874Q725 866 720 854M720 854Q722 852 728 849M728 849Q744 851 759 851M759 851Q751 865 746 878M708 832Q709 823 713 810M708 832Q712 840 712 851M733 832Q730 838 728 849M712 851Q713 850 720 854M755 831Q760 840 763 849M763 849Q760 852 759 851M777 865Q773 856 765 849M754 887Q754 884 751 885M751 885Q750 883 746 878M765 849Q761 847 763 849M515 927Q522 916 529 908M529 908Q533 911 532 909M538 947Q544 934 547 926M532 909Q538 919 547 926M569 946Q573 940 580 932M597 968Q593 957 594 943M580 932Q586 937 594 943M518 855Q506 857 490 856M518 855Q519 840 516 830M516 830Q516 829 514 829M514 829Q499 826 488 821M537 807Q542 816 545 821M520 808Q519 817 514 829M545 823Q544 822 545 821M545 823Q532 827 516 830M502 898Q501 896 502 898M529 908Q523 904 521 898M521 898Q511 897 502 898M502 898Q498 892 497 887M597 1159Q600 1166 606 1170M597 1159Q581 1160 571 1156M577 1191Q576 1191 572 1188M605 1177Q605 1174 606 1170M572 1188Q571 1172 571 1156M532 1209Q521 1206 515 1202M532 1209Q539 1202 548 1196M545 1187Q548 1188 549 1194M545 1187Q536 1180 524 1177M515 1202Q510 1193 510 1185M548 1196Q548 1193 549 1194M524 1177Q519 1178 511 1182M510 1185Q512 1184 511 1182M532 1228Q533 1218 532 1209M495 1224Q507 1211 515 1202M557 1210Q553 1203 548 1196M489 1191Q501 1186 510 1185M572 1188Q559 1190 549 1194M524 1037Q536 1044 549 1048M551 1011Q557 1017 561 1020M561 1020Q557 1036 549 1048M540 1068Q542 1068 548 1064M548 1064Q551 1056 549 1049M549 1048Q549 1050 549 1049M555 1081Q554 1076 556 1073M555 1081Q564 1092 569 1101M556 1073Q568 1074 576 1072M576 1072Q579 1077 586 1083M577 1098Q574 1102 569 1101M577 1098Q581 1094 587 1089M586 1083Q586 1086 587 1088M587 1089Q589 1090 587 1088M543 1091Q550 1087 555 1081M548 1064Q550 1068 556 1073M560 1112Q565 1106 569 1101M549 1049Q564 1048 578 1050M578 1050Q577 1060 576 1072M564 1132Q561 1123 559 1113M564 1132Q571 1131 576 1129M590 1121Q583 1108 577 1098M604 1120Q597 1102 587 1089M598 1067Q607 1069 619 1066M598 1067Q592 1078 586 1083M607 1089Q599 1090 587 1088M770 901Q757 913 744 923M751 885Q739 899 731 913M731 913Q731 914 731 916M731 916Q735 918 742 923M742 923Q742 924 744 923M778 922Q777 925 771 933M744 923Q757 928 771 933M791 949Q783 946 775 948M791 949Q794 946 803 944M771 933Q774 939 775 948M696 1157Q699 1147 704 1137M696 1157Q695 1160 697 1160M704 1137Q707 1138 710 1136M733 1158Q729 1148 730 1142M733 1158Q722 1161 712 1165M710 1136Q718 1137 730 1142M697 1160Q703 1160 712 1165M733 1158Q736 1163 740 1166M740 1166Q740 1168 740 1173M712 1165Q719 1175 731 1185M740 1173Q734 1178 731 1185M697 1160Q698 1169 696 1173M696 1173Q709 1184 719 1195M719 1195Q725 1192 730 1187M730 1187Q730 1185 731 1185M684 1156Q678 1150 671 1144M684 1156Q674 1164 662 1168M655 1142Q654 1146 650 1153M662 1168Q658 1159 650 1153M623 1199Q631 1189 642 1183M606 1170Q618 1166 628 1164M642 1183Q633 1175 628 1164M628 1145Q629 1150 633 1157M650 1153Q643 1154 633 1157M597 1159Q602 1150 602 1143M628 1164Q630 1162 633 1157M656 1209Q669 1201 685 1196M656 1209Q653 1195 652 1185M660 1179Q655 1180 652 1185M660 1179Q670 1184 684 1190M684 1190Q685 1194 685 1196M662 1168Q659 1175 660 1179M642 1183Q646 1183 652 1185M696 1157Q688 1158 684 1156M696 1173Q692 1181 684 1190M712 1208Q717 1202 719 1195M694 1209Q692 1201 685 1196M749 1204Q759 1197 767 1193M749 1204Q741 1197 730 1187M740 1173Q752 1176 764 1179M764 1179Q768 1185 767 1193M808 1149Q804 1155 799 1163M808 1149Q820 1154 837 1160M837 1160Q833 1170 825 1177M799 1163Q798 1165 802 1168M825 1177Q812 1175 802 1168M943 1171Q936 1158 924 1148M924 1148Q935 1136 949 1127M940 1176Q923 1178 908 1180M902 1168Q913 1157 922 1147M924 1148Q923 1150 922 1147M897 1165Q895 1168 897 1165M913 1137Q915 1142 922 1147M913 1137Q904 1141 895 1143M895 1143Q896 1152 897 1165M861 1181Q860 1179 861 1174M861 1181Q864 1182 868 1187M861 1174Q862 1165 869 1157M868 1187Q871 1185 874 1187M897 1165Q884 1162 869 1157M884 1230Q886 1220 887 1215M884 1230Q900 1225 916 1223M887 1215Q894 1208 903 1200M903 1200Q912 1208 917 1212M916 1223Q916 1216 917 1212M858 1223Q865 1214 869 1202M869 1202Q878 1211 887 1215M883 1232Q881 1229 884 1230M921 1244Q919 1232 916 1223M869 1202Q867 1194 868 1187M902 1195Q902 1198 903 1200M933 1206Q926 1207 917 1212M699 1093Q710 1097 721 1103M699 1093Q694 1100 690 1103M721 1103Q708 1111 695 1123M690 1103Q690 1107 688 1116M688 1116Q690 1121 695 1123M704 1137Q701 1130 695 1123M727 1103Q725 1104 721 1103M727 1103Q730 1108 732 1109M732 1109Q720 1122 710 1136M671 1083Q682 1096 690 1103M681 1117Q683 1119 688 1116M729 1088Q717 1085 705 1077M729 1088Q734 1084 739 1080M739 1077Q739 1081 739 1080M739 1077Q737 1067 731 1057M731 1057Q718 1067 704 1076M705 1077Q706 1076 704 1076M704 1076Q706 1078 704 1076M727 1103Q728 1093 729 1088M699 1093Q704 1085 705 1077M751 1117Q740 1115 732 1109M751 1117Q753 1115 752 1116M758 1096Q747 1091 739 1080M753 1071Q747 1076 739 1077M778 1083Q780 1085 778 1083M736 1043Q738 1042 741 1042M736 1043Q733 1045 732 1049M732 1049Q734 1051 731 1057M741 1042Q749 1044 760 1050M732 1049Q718 1048 700 1048M700 1048Q700 1064 704 1076M681 1071Q693 1074 704 1076M697 1045Q697 1044 700 1048M754 1153Q749 1145 747 1133M754 1153Q763 1155 776 1160M775 1144Q778 1153 777 1159M775 1144Q759 1139 747 1132M747 1132Q747 1131 747 1133M776 1160Q776 1158 777 1159M740 1166Q747 1158 754 1153M730 1142Q738 1140 747 1133M764 1179Q772 1168 776 1160M809 1143Q808 1147 808 1149M809 1143Q796 1135 782 1122M782 1122Q780 1135 775 1144M799 1163Q789 1159 777 1159M751 1117Q748 1127 747 1132M774 1196Q771 1195 767 1193M774 1196Q788 1185 800 1174M800 1174Q802 1170 802 1168M741 1042Q747 1031 753 1018M770 1050Q771 1046 776 1045M753 1018Q761 1014 765 1014M765 1014Q772 1029 776 1045M791 1081Q788 1082 781 1084M791 1081Q793 1069 797 1057M797 1057Q795 1049 789 1042M776 1045Q781 1044 789 1042M797 1057Q807 1057 817 1059M817 1059Q824 1051 826 1044M826 1044Q813 1036 799 1030M789 1042Q794 1038 799 1030M903 892Q900 902 898 916M903 892Q915 893 927 898M928 899Q928 911 925 921M928 899Q926 897 927 898M898 916Q906 925 911 931M911 931Q917 926 925 921M948 938Q938 928 925 921M965 908Q947 903 928 899M937 876Q930 889 927 898M909 943Q910 936 911 931M881 923Q889 919 898 916M872 829Q866 834 855 843M872 829Q873 828 876 831M855 843Q861 852 870 863M876 831Q878 838 881 843M881 843Q878 854 870 863M839 903Q843 900 843 897M843 897Q852 897 858 896M876 922Q873 918 873 910M858 896Q868 903 873 910M903 892Q904 893 901 890M873 910Q888 899 901 890M521 898Q524 892 529 884M497 887Q511 876 521 864M529 884Q524 874 521 864M518 855Q521 856 521 858M521 858Q519 863 521 864M545 823Q543 825 546 828M521 858Q528 856 536 855M546 828Q543 840 536 855M550 779Q557 790 568 804M585 797Q578 802 568 804M545 821Q557 813 567 808M568 804Q568 808 567 808M724 879Q728 890 726 905M724 879Q713 880 703 886M726 905Q716 896 702 891M703 886Q702 886 702 891M728 874Q724 878 724 879M731 913Q730 910 726 905M698 858Q700 868 699 878M698 858Q707 856 712 851M699 878Q701 880 703 886M665 993Q667 990 671 984M697 1021Q696 1021 700 1019M671 984Q682 986 692 989M692 989Q694 1005 700 1019M736 1043Q725 1028 715 1017M700 1019Q709 1020 715 1017M741 1008Q749 1013 753 1018M741 1008Q728 1011 717 1015M717 1015Q718 1014 715 1017M611 922Q612 924 609 925M611 922Q611 914 612 908M609 925Q598 924 588 920M612 908Q609 903 603 898M603 898Q602 897 601 898M601 898Q595 911 588 920M547 926Q554 921 564 918M580 932Q580 931 578 929M564 918Q573 924 578 929M594 943Q598 941 604 937M604 937Q607 930 609 925M588 920Q583 926 578 929M564 1132Q565 1133 562 1137M525 1113Q526 1129 530 1143M562 1137Q547 1142 530 1143M571 1156Q570 1157 569 1155M562 1137Q566 1146 569 1155M545 1187Q547 1177 551 1167M569 1155Q562 1160 551 1167M524 1177Q529 1166 531 1156M551 1167Q542 1161 531 1156M494 1158Q499 1152 500 1144M494 1158Q500 1167 506 1171M506 1171Q516 1159 529 1146M500 1144Q512 1142 528 1145M528 1145Q530 1146 529 1146M497 1137Q498 1142 500 1144M511 1182Q509 1177 506 1171M531 1156Q531 1150 529 1146M530 1143Q532 1144 528 1145M626 1212Q622 1219 623 1230M626 1212Q638 1216 654 1216M623 1230Q634 1235 648 1237M654 1216Q658 1223 659 1227M659 1227Q655 1232 648 1237M623 1208Q624 1212 626 1212M616 1241Q621 1237 623 1230M656 1209Q656 1215 654 1216M664 1229Q662 1230 659 1227M573 1020Q579 1033 587 1042M573 1020Q580 1011 585 1004M596 1010Q599 1017 603 1028M596 1010Q591 1008 585 1004M603 1028Q601 1035 594 1041M594 1041Q593 1041 590 1042M590 1042Q587 1040 587 1042M561 1020Q565 1020 573 1020M578 1050Q580 1046 587 1042M584 990Q585 996 585 1004M631 1019Q618 1026 603 1028M627 1003Q614 1007 596 1010M615 1051Q603 1048 594 1041M598 1067Q594 1054 590 1042M742 923Q743 937 744 949M775 948Q768 951 766 956M766 956Q755 951 744 949M791 949Q793 959 791 973M791 973Q777 974 767 973M766 956Q767 965 767 973M741 1008Q741 1006 741 1001M768 992Q768 1000 767 1011M768 992Q766 985 762 983M741 1001Q747 991 753 983M765 1014Q767 1011 767 1011M762 983Q756 983 753 983M901 788Q917 796 934 805M898 800Q899 812 899 819M899 819Q907 821 916 827M916 827Q922 826 925 824M925 824Q929 817 933 814M942 851Q931 836 925 824M855 843Q847 846 837 852M870 865Q870 863 870 863M870 865Q857 863 843 864M837 852Q838 857 843 864M788 872Q798 863 809 856M799 896Q806 886 817 878M817 878Q815 867 809 856M843 897Q842 891 839 886M817 878Q829 881 839 886M870 865Q876 871 878 879M858 896Q867 889 878 879M839 886Q843 876 843 864M822 1213Q831 1209 842 1209M822 1213Q818 1210 816 1206M816 1206Q822 1194 830 1184M842 1209Q846 1198 848 1188M848 1188Q838 1183 830 1184M856 1223Q850 1215 842 1209M830 1237Q827 1233 823 1227M823 1227Q824 1219 822 1213M806 1204Q810 1203 816 1206M806 1204Q805 1189 800 1174M825 1177Q825 1182 830 1184M861 1181Q854 1186 848 1188M861 1174Q850 1168 837 1160M837 1160Q839 1160 837 1160M945 1007Q931 1018 919 1032M919 1032Q927 1039 940 1046M934 1077Q927 1073 924 1068M940 1046Q933 1059 924 1068M791 992Q793 1007 795 1017M791 992Q793 987 797 987M797 987Q808 995 817 1009M817 1009Q807 1013 799 1021M799 1021Q797 1021 795 1017M768 992Q779 993 791 992M767 1011Q781 1014 795 1017M791 973Q793 977 800 980M800 980Q796 985 797 987M767 973Q764 978 762 983M826 1044Q831 1045 832 1043M799 1030Q797 1023 799 1021M826 1006Q827 1008 833 1015M826 1006Q821 1008 817 1009M832 1043Q831 1031 833 1015M814 971Q827 975 841 977M814 971Q811 974 808 977M808 977Q815 990 826 1005M826 1005Q834 995 840 986M841 977Q840 982 840 986M847 969Q844 974 841 977M811 946Q813 958 814 971M800 980Q802 980 808 977M826 1006Q827 1004 826 1005M864 1004Q860 1012 859 1016M864 1004Q853 994 840 986M833 1015Q846 1017 859 1016M871 1000Q865 1004 864 1004M837 1160Q839 1150 842 1143M869 1157Q870 1153 868 1143M842 1143Q856 1142 868 1143M895 1143Q892 1140 885 1140M885 1140Q879 1142 869 1142M868 1143Q868 1145 869 1142M791 1081Q803 1084 815 1086M817 1059Q820 1067 819 1075M815 1086Q818 1079 819 1075M899 887Q895 885 894 882M899 887Q903 880 910 873M894 882Q893 867 896 852M910 873Q914 863 918 856M896 852Q905 852 911 848M918 856Q915 854 911 848M878 879Q884 883 894 882M901 890Q901 888 899 887M936 874Q923 874 910 873M881 843Q887 846 896 852M934 859Q928 859 918 856M876 831Q886 824 899 819M916 827Q912 837 911 848M690 810Q685 817 677 826M708 832Q694 831 682 832M682 832Q678 828 677 826M698 858Q690 856 687 855M682 832Q684 843 687 855M601 853Q591 853 585 855M601 853Q600 841 596 827M585 855Q582 848 577 838M596 827Q588 829 580 833M577 838Q580 834 580 833M594 797Q600 802 603 811M567 808Q572 822 580 833M601 823Q600 819 603 811M601 823Q598 824 596 827M546 828Q553 835 563 841M563 841Q572 838 577 838M731 916Q723 917 720 922M702 891Q697 896 695 900M695 900Q701 909 704 918M720 922Q710 921 704 918M744 949Q739 951 732 958M753 983Q742 977 732 973M732 958Q732 966 732 973M581 867Q585 874 586 879M581 867Q568 864 556 863M566 898Q574 891 586 889M566 898Q561 894 557 891M586 879Q585 883 586 889M557 891Q552 888 551 883M551 883Q551 876 554 864M556 863Q554 863 554 864M563 841Q558 852 556 863M585 855Q584 861 581 867M601 898Q592 895 586 889M564 918Q564 910 566 898M532 909Q546 900 557 891M529 884Q541 882 551 883M536 855Q545 860 554 864M872 829Q870 829 871 827M898 800Q888 802 879 804M871 827Q877 815 879 804M774 842Q786 846 795 845M774 842Q778 828 786 817M795 845Q797 832 795 815M786 817Q792 815 793 814M793 814Q794 816 795 815M765 849Q768 847 774 842M809 856Q809 855 809 856M809 856Q801 853 795 845M766 812Q778 815 786 817M794 793Q792 801 793 814M835 826Q833 818 828 807M835 826Q834 836 827 846M827 846Q827 848 823 846M823 846Q813 832 801 817M828 807Q813 812 801 817M837 852Q834 850 827 846M871 827Q868 822 862 820M862 820Q848 825 835 826M809 856Q814 851 823 846M795 815Q799 815 801 817M735 1222Q738 1221 746 1223M749 1204Q746 1213 746 1223M746 1223Q744 1224 746 1223M918 996Q913 998 908 1004M919 1032Q919 1033 916 1032M916 1032Q912 1016 908 1004M893 997Q898 999 904 1004M908 1004Q908 1003 904 1004M816 1137Q825 1135 831 1131M816 1137Q810 1125 806 1111M831 1131Q833 1122 839 1113M839 1113Q830 1107 820 1097M806 1111Q812 1101 820 1097M809 1143Q813 1139 816 1137M842 1143Q838 1135 831 1131M787 1113Q797 1111 806 1111M869 1142Q867 1135 867 1124M867 1124Q862 1115 853 1110M853 1110Q847 1110 839 1113M815 1086Q819 1088 819 1093M819 1093Q819 1094 820 1097M877 1002Q882 1010 888 1023M859 1016Q861 1024 864 1033M864 1033Q875 1030 888 1023M904 1004Q896 1011 888 1023M888 1023Q887 1024 888 1023M916 1032Q911 1035 905 1040M888 1023Q895 1034 905 1040M832 1043Q838 1044 847 1049M864 1033Q865 1038 863 1039M847 1049Q853 1044 863 1039M677 826Q670 825 657 825M687 855Q677 861 671 862M671 862Q661 852 655 837M655 837Q654 833 657 825M677 796Q667 810 654 821M654 821Q654 823 657 825M639 997Q642 983 646 968M615 971Q621 968 626 961M646 968Q635 967 626 961M671 984Q668 979 669 974M669 974Q664 970 656 967M646 968Q654 966 656 967M604 937Q616 941 630 947M626 961Q626 955 630 947M700 983Q708 994 719 1002M700 983Q703 978 705 977M705 977Q714 979 726 978M726 978Q727 985 726 990M726 990Q723 994 719 1002M692 989Q698 985 700 983M717 1015Q716 1011 719 1002M741 1001Q731 994 726 990M732 973Q729 978 726 978M700 962Q708 956 715 948M700 962Q690 956 682 955M688 937Q686 944 681 948M688 937Q702 941 713 943M713 943Q713 948 715 948M682 955Q682 952 681 948M732 958Q724 952 715 948M705 977Q702 967 700 962M669 974Q675 962 682 955M720 922Q715 935 713 943M704 918Q698 923 688 928M688 928Q690 930 688 937M862 820Q857 808 855 800M828 807Q827 805 830 802M781 1248Q778 1238 775 1226M804 1234Q806 1237 802 1238M804 1234Q800 1221 792 1211M775 1226Q781 1219 785 1212M792 1211Q786 1211 785 1212M823 1227Q813 1231 804 1234M806 1204Q800 1205 792 1211M774 1196Q777 1201 785 1212M746 1223Q762 1223 775 1226M746 1223Q746 1233 744 1243M902 1092Q894 1092 885 1094M902 1092Q909 1096 911 1103M885 1094Q882 1104 883 1115M883 1115Q890 1118 896 1119M896 1119Q902 1117 913 1117M911 1103Q913 1108 914 1115M913 1117Q912 1118 914 1115M932 1087Q919 1096 911 1103M924 1068Q919 1070 909 1067M909 1067Q905 1078 902 1092M885 1140Q892 1128 896 1119M867 1124Q875 1119 883 1115M913 1137Q912 1126 913 1117M942 1114Q928 1116 914 1115M873 1087Q868 1089 859 1094M873 1087Q875 1081 875 1074M875 1074Q862 1067 848 1059M859 1094Q853 1089 847 1081M847 1081Q848 1076 845 1066M845 1066Q848 1061 848 1059M853 1110Q854 1101 859 1094M885 1094Q880 1093 873 1087M819 1093Q835 1085 847 1081M819 1075Q833 1069 845 1066M847 1049Q849 1055 848 1059M876 1073Q876 1062 874 1048M876 1073Q890 1069 905 1062M874 1048Q887 1049 902 1049M905 1062Q905 1057 902 1049M863 1039Q868 1042 874 1048M875 1074Q875 1076 876 1073M909 1067Q907 1064 905 1062M905 1040Q904 1047 902 1049M619 838Q619 838 621 838M619 838Q614 847 605 854M621 838Q626 847 635 851M635 851Q634 860 634 873M605 854Q609 859 610 864M610 864Q617 871 626 874M626 874Q632 876 634 873M601 823Q611 829 619 838M601 853Q604 855 605 854M664 875Q667 867 671 862M664 875Q649 873 636 874M636 874Q637 875 634 873M655 837Q646 846 635 851M586 879Q600 873 610 864M603 898Q612 886 626 874M649 810Q641 802 630 798M649 810Q648 813 652 819M652 819Q642 819 631 824M631 824Q624 817 618 809M618 809Q624 802 630 798M657 788Q654 797 649 810M654 821Q651 818 652 819M621 838Q627 829 631 824M603 811Q611 812 618 809M695 900Q687 898 683 900M688 928Q680 925 675 917M675 917Q680 910 683 900M699 878Q685 883 669 884M683 900Q678 892 669 884M664 875Q665 879 669 884M669 884Q669 883 669 884M653 941Q646 941 635 939M653 941Q654 940 659 938M659 938Q661 929 664 919M634 935Q634 938 635 939M634 935Q636 920 639 909M664 919Q657 912 653 909M653 909Q648 910 639 909M639 909Q637 911 639 909M656 967Q655 956 653 941M630 947Q635 942 635 939M681 948Q672 946 659 938M675 917Q670 918 664 919M611 922Q623 927 634 935M612 908Q627 909 639 909M669 884Q659 895 653 909M636 874Q640 893 639 909M879 804Q872 800 870 793" fill="none" stroke="#5f645c" stroke-width="0.9" stroke-opacity="0.75"/>
<circle cx="507.1" cy="809.3" r="9.0" fill="url(#ag)"/>
<circle cx="528.4" cy="826.8" r="9.0" fill="url(#ag)"/>
<circle cx="537.5" cy="830.6" r="9.0" fill="url(#ag)"/>
<circle cx="545.1" cy="842.0" r="9.0" fill="url(#ag)"/>
<circle cx="573.3" cy="820.0" r="9.0" fill="url(#ag)"/>
<circle cx="582.4" cy="812.4" r="9.0" fill="url(#ag)"/>
<circle cx="598.4" cy="816.2" r="9.0" fill="url(#ag)"/>
<circle cx="631.8" cy="814.6" r="9.0" fill="url(#ag)"/>
<circle cx="639.4" cy="822.2" r="9.0" fill="url(#ag)"/>
<circle cx="647.8" cy="826.8" r="9.0" fill="url(#ag)"/>
<circle cx="664.5" cy="814.6" r="9.0" fill="url(#ag)"/>
<circle cx="662.2" cy="823.8" r="9.0" fill="url(#ag)"/>
<circle cx="672.9" cy="832.1" r="9.0" fill="url(#ag)"/>
<circle cx="682.7" cy="834.4" r="9.0" fill="url(#ag)"/>
<circle cx="513.2" cy="852.7" r="9.0" fill="url(#ag)"/>
<circle cx="505.6" cy="858.7" r="9.0" fill="url(#ag)"/>
<circle cx="613.6" cy="859.5" r="9.0" fill="url(#ag)"/>
<circle cx="621.2" cy="864.1" r="9.0" fill="url(#ag)"/>
<circle cx="637.9" cy="872.4" r="9.0" fill="url(#ag)"/>
<circle cx="637.9" cy="883.1" r="9.0" fill="url(#ag)"/>
<circle cx="648.5" cy="893.7" r="9.0" fill="url(#ag)"/>
<circle cx="657.7" cy="902.8" r="9.0" fill="url(#ag)"/>
<circle cx="650.8" cy="910.4" r="9.0" fill="url(#ag)"/>
<circle cx="683.5" cy="883.1" r="9.0" fill="url(#ag)"/>
<circle cx="694.9" cy="878.5" r="9.0" fill="url(#ag)"/>
<circle cx="706.3" cy="889.1" r="9.0" fill="url(#ag)"/>
<circle cx="528.4" cy="898.3" r="9.0" fill="url(#ag)"/>
<circle cx="539.1" cy="905.9" r="9.0" fill="url(#ag)"/>
<circle cx="551.2" cy="908.2" r="9.0" fill="url(#ag)"/>
<circle cx="589.2" cy="925.6" r="9.0" fill="url(#ag)"/>
<circle cx="595.3" cy="936.3" r="9.0" fill="url(#ag)"/>
<circle cx="593.8" cy="948.4" r="9.0" fill="url(#ag)"/>
<circle cx="584.7" cy="953.8" r="9.0" fill="url(#ag)"/>
<circle cx="673.6" cy="918.0" r="9.0" fill="url(#ag)"/>
<circle cx="666.8" cy="932.5" r="9.0" fill="url(#ag)"/>
<circle cx="677.4" cy="931.7" r="9.0" fill="url(#ag)"/>
<circle cx="631.8" cy="964.4" r="9.0" fill="url(#ag)"/>
<circle cx="685.8" cy="959.9" r="9.0" fill="url(#ag)"/>
<circle cx="612.8" cy="972.0" r="9.0" fill="url(#ag)"/>
<circle cx="607.5" cy="981.1" r="9.0" fill="url(#ag)"/>
<circle cx="618.9" cy="988.0" r="9.0" fill="url(#ag)"/>
<circle cx="612.8" cy="997.9" r="9.0" fill="url(#ag)"/>
<circle cx="564.1" cy="1000.1" r="9.0" fill="url(#ag)"/>
<circle cx="663.0" cy="1004.7" r="9.0" fill="url(#ag)"/>
<circle cx="726.7" cy="826.8" r="9.0" fill="url(#ag)"/>
<circle cx="737.3" cy="830.6" r="9.0" fill="url(#ag)"/>
<circle cx="747.2" cy="835.9" r="9.0" fill="url(#ag)"/>
<circle cx="748.0" cy="842.8" r="9.0" fill="url(#ag)"/>
<circle cx="741.9" cy="851.9" r="9.0" fill="url(#ag)"/>
<circle cx="750.3" cy="863.3" r="9.0" fill="url(#ag)"/>
<circle cx="798.1" cy="823.0" r="9.0" fill="url(#ag)"/>
<circle cx="808.8" cy="817.7" r="9.0" fill="url(#ag)"/>
<circle cx="883.3" cy="810.1" r="9.0" fill="url(#ag)"/>
<circle cx="882.5" cy="818.4" r="9.0" fill="url(#ag)"/>
<circle cx="828.6" cy="858.0" r="9.0" fill="url(#ag)"/>
<circle cx="827.8" cy="870.9" r="9.0" fill="url(#ag)"/>
<circle cx="845.3" cy="856.5" r="9.0" fill="url(#ag)"/>
<circle cx="853.6" cy="850.4" r="9.0" fill="url(#ag)"/>
<circle cx="807.3" cy="884.6" r="9.0" fill="url(#ag)"/>
<circle cx="816.4" cy="892.9" r="9.0" fill="url(#ag)"/>
<circle cx="828.6" cy="886.9" r="9.0" fill="url(#ag)"/>
<circle cx="826.3" cy="895.2" r="9.0" fill="url(#ag)"/>
<circle cx="892.4" cy="864.8" r="9.0" fill="url(#ag)"/>
<circle cx="900.8" cy="861.0" r="9.0" fill="url(#ag)"/>
<circle cx="893.2" cy="881.5" r="9.0" fill="url(#ag)"/>
<circle cx="884.1" cy="888.4" r="9.0" fill="url(#ag)"/>
<circle cx="741.9" cy="919.6" r="9.0" fill="url(#ag)"/>
<circle cx="751.8" cy="918.0" r="9.0" fill="url(#ag)"/>
<circle cx="763.2" cy="908.2" r="9.0" fill="url(#ag)"/>
<circle cx="773.8" cy="905.9" r="9.0" fill="url(#ag)"/>
<circle cx="786.0" cy="908.2" r="9.0" fill="url(#ag)"/>
<circle cx="840.7" cy="924.1" r="9.0" fill="url(#ag)"/>
<circle cx="842.2" cy="933.2" r="9.0" fill="url(#ag)"/>
<circle cx="874.9" cy="932.5" r="9.0" fill="url(#ag)"/>
<circle cx="887.1" cy="933.2" r="9.0" fill="url(#ag)"/>
<circle cx="871.9" cy="949.2" r="9.0" fill="url(#ag)"/>
<circle cx="875.7" cy="964.4" r="9.0" fill="url(#ag)"/>
<circle cx="861.2" cy="972.8" r="9.0" fill="url(#ag)"/>
<circle cx="746.5" cy="942.4" r="9.0" fill="url(#ag)"/>
<circle cx="740.4" cy="951.5" r="9.0" fill="url(#ag)"/>
<circle cx="784.5" cy="951.5" r="9.0" fill="url(#ag)"/>
<circle cx="785.2" cy="959.1" r="9.0" fill="url(#ag)"/>
<circle cx="757.1" cy="971.3" r="9.0" fill="url(#ag)"/>
<circle cx="765.5" cy="972.8" r="9.0" fill="url(#ag)"/>
<circle cx="717.6" cy="1001.7" r="9.0" fill="url(#ag)"/>
<circle cx="748.0" cy="995.6" r="9.0" fill="url(#ag)"/>
<circle cx="760.1" cy="994.1" r="9.0" fill="url(#ag)"/>
<circle cx="748.0" cy="1009.3" r="9.0" fill="url(#ag)"/>
<circle cx="782.9" cy="1010.8" r="9.0" fill="url(#ag)"/>
<circle cx="829.3" cy="984.9" r="9.0" fill="url(#ag)"/>
<circle cx="832.4" cy="997.1" r="9.0" fill="url(#ag)"/>
<circle cx="814.1" cy="1000.9" r="9.0" fill="url(#ag)"/>
<circle cx="823.2" cy="1013.1" r="9.0" fill="url(#ag)"/>
<circle cx="878.7" cy="1012.3" r="9.0" fill="url(#ag)"/>
<circle cx="889.4" cy="1015.4" r="9.0" fill="url(#ag)"/>
<circle cx="527.6" cy="1041.8" r="9.0" fill="url(#ag)"/>
<circle cx="538.3" cy="1041.0" r="9.0" fill="url(#ag)"/>
<circle cx="630.3" cy="1032.7" r="9.0" fill="url(#ag)"/>
<circle cx="640.2" cy="1036.5" r="9.0" fill="url(#ag)"/>
<circle cx="697.2" cy="1029.6" r="9.0" fill="url(#ag)"/>
<circle cx="706.3" cy="1034.2" r="9.0" fill="url(#ag)"/>
<circle cx="583.9" cy="1053.2" r="9.0" fill="url(#ag)"/>
<circle cx="577.1" cy="1063.1" r="9.0" fill="url(#ag)"/>
<circle cx="610.5" cy="1082.1" r="9.0" fill="url(#ag)"/>
<circle cx="619.6" cy="1078.3" r="9.0" fill="url(#ag)"/>
<circle cx="628.8" cy="1072.2" r="9.0" fill="url(#ag)"/>
<circle cx="676.7" cy="1069.2" r="9.0" fill="url(#ag)"/>
<circle cx="680.5" cy="1080.6" r="9.0" fill="url(#ag)"/>
<circle cx="694.1" cy="1075.3" r="9.0" fill="url(#ag)"/>
<circle cx="681.2" cy="1096.5" r="9.0" fill="url(#ag)"/>
<circle cx="691.9" cy="1101.9" r="9.0" fill="url(#ag)"/>
<circle cx="686.5" cy="1116.3" r="9.0" fill="url(#ag)"/>
<circle cx="507.1" cy="1101.1" r="9.0" fill="url(#ag)"/>
<circle cx="589.2" cy="1110.2" r="9.0" fill="url(#ag)"/>
<circle cx="598.4" cy="1120.1" r="9.0" fill="url(#ag)"/>
<circle cx="635.6" cy="1131.5" r="9.0" fill="url(#ag)"/>
<circle cx="630.3" cy="1143.7" r="9.0" fill="url(#ag)"/>
<circle cx="569.5" cy="1145.2" r="9.0" fill="url(#ag)"/>
<circle cx="578.6" cy="1152.0" r="9.0" fill="url(#ag)"/>
<circle cx="693.4" cy="1144.4" r="9.0" fill="url(#ag)"/>
<circle cx="704.8" cy="1141.4" r="9.0" fill="url(#ag)"/>
<circle cx="688.8" cy="1158.9" r="9.0" fill="url(#ag)"/>
<circle cx="700.2" cy="1171.1" r="9.0" fill="url(#ag)"/>
<circle cx="655.4" cy="1190.8" r="9.0" fill="url(#ag)"/>
<circle cx="660.7" cy="1199.9" r="9.0" fill="url(#ag)"/>
<circle cx="684.3" cy="1196.9" r="9.0" fill="url(#ag)"/>
<circle cx="579.3" cy="1202.2" r="9.0" fill="url(#ag)"/>
<circle cx="592.3" cy="1212.1" r="9.0" fill="url(#ag)"/>
<circle cx="603.7" cy="1206.8" r="9.0" fill="url(#ag)"/>
<circle cx="590.0" cy="1227.3" r="9.0" fill="url(#ag)"/>
<circle cx="523.8" cy="1222.7" r="9.0" fill="url(#ag)"/>
<circle cx="697.2" cy="1216.7" r="9.0" fill="url(#ag)"/>
<circle cx="776.9" cy="1031.2" r="9.0" fill="url(#ag)"/>
<circle cx="786.7" cy="1036.5" r="9.0" fill="url(#ag)"/>
<circle cx="752.5" cy="1084.4" r="9.0" fill="url(#ag)"/>
<circle cx="808.8" cy="1076.8" r="9.0" fill="url(#ag)"/>
<circle cx="817.9" cy="1066.1" r="9.0" fill="url(#ag)"/>
<circle cx="827.0" cy="1060.1" r="9.0" fill="url(#ag)"/>
<circle cx="855.9" cy="1057.8" r="9.0" fill="url(#ag)"/>
<circle cx="865.1" cy="1064.6" r="9.0" fill="url(#ag)"/>
<circle cx="906.1" cy="1047.1" r="9.0" fill="url(#ag)"/>
<circle cx="893.9" cy="1063.1" r="9.0" fill="url(#ag)"/>
<circle cx="921.3" cy="1082.9" r="9.0" fill="url(#ag)"/>
<circle cx="922.8" cy="1099.6" r="9.0" fill="url(#ag)"/>
<circle cx="731.2" cy="1105.7" r="9.0" fill="url(#ag)"/>
<circle cx="740.4" cy="1111.8" r="9.0" fill="url(#ag)"/>
<circle cx="794.3" cy="1105.7" r="9.0" fill="url(#ag)"/>
<circle cx="802.7" cy="1114.0" r="9.0" fill="url(#ag)"/>
<circle cx="798.1" cy="1123.9" r="9.0" fill="url(#ag)"/>
<circle cx="781.4" cy="1137.6" r="9.0" fill="url(#ag)"/>
<circle cx="791.3" cy="1145.2" r="9.0" fill="url(#ag)"/>
<circle cx="800.4" cy="1137.6" r="9.0" fill="url(#ag)"/>
<circle cx="865.1" cy="1102.6" r="9.0" fill="url(#ag)"/>
<circle cx="877.2" cy="1101.1" r="9.0" fill="url(#ag)"/>
<circle cx="830.1" cy="1122.4" r="9.0" fill="url(#ag)"/>
<circle cx="834.6" cy="1128.5" r="9.0" fill="url(#ag)"/>
<circle cx="731.2" cy="1133.8" r="9.0" fill="url(#ag)"/>
<circle cx="732.8" cy="1149.0" r="9.0" fill="url(#ag)"/>
<circle cx="716.0" cy="1142.2" r="9.0" fill="url(#ag)"/>
<circle cx="716.0" cy="1155.8" r="9.0" fill="url(#ag)"/>
<circle cx="714.5" cy="1169.5" r="9.0" fill="url(#ag)"/>
<circle cx="903.1" cy="1128.5" r="9.0" fill="url(#ag)"/>
<circle cx="900.0" cy="1140.6" r="9.0" fill="url(#ag)"/>
<circle cx="900.0" cy="1152.8" r="9.0" fill="url(#ag)"/>
<circle cx="881.0" cy="1157.4" r="9.0" fill="url(#ag)"/>
<circle cx="849.8" cy="1155.8" r="9.0" fill="url(#ag)"/>
<circle cx="846.8" cy="1165.0" r="9.0" fill="url(#ag)"/>
<circle cx="717.6" cy="1187.8" r="9.0" fill="url(#ag)"/>
<circle cx="719.1" cy="1198.4" r="9.0" fill="url(#ag)"/>
<circle cx="717.6" cy="1212.1" r="9.0" fill="url(#ag)"/>
<circle cx="763.2" cy="1199.9" r="9.0" fill="url(#ag)"/>
<circle cx="767.7" cy="1210.6" r="9.0" fill="url(#ag)"/>
<circle cx="814.9" cy="1190.8" r="9.0" fill="url(#ag)"/>
<circle cx="817.9" cy="1203.0" r="9.0" fill="url(#ag)"/>
<circle cx="810.3" cy="1215.1" r="9.0" fill="url(#ag)"/>
<circle cx="871.1" cy="1199.2" r="9.0" fill="url(#ag)"/>
<circle cx="881.8" cy="1200.7" r="9.0" fill="url(#ag)"/>
<circle cx="893.9" cy="1207.5" r="9.0" fill="url(#ag)"/>
<circle cx="906.1" cy="1209.1" r="9.0" fill="url(#ag)"/>
<circle cx="918.3" cy="1195.4" r="9.0" fill="url(#ag)"/>
<circle cx="887.9" cy="1216.7" r="9.0" fill="url(#ag)"/>
<circle cx="897.0" cy="1223.5" r="9.0" fill="url(#ag)"/>
</g></g>
<rect x="497.9" y="803.9" width="430.2" height="430.7" fill="none" stroke="#cfcfcf" stroke-width="1.6"/>
<rect x="500.4" y="806.4" width="425.2" height="425.7" fill="none" stroke="#000" stroke-width="3.8"/>
<text x="630.59" y="1298.60" font-size="38.20" textLength="20.73" lengthAdjust="spacingAndGlyphs" font-style="italic">T</text>
<text x="650.80" y="1304.80" font-size="23.00" textLength="10.67" lengthAdjust="spacingAndGlyphs">s</text>
<text x="667.39" y="1298.60" font-size="38.20" textLength="22.62" lengthAdjust="spacingAndGlyphs">=</text>
<text x="698.77" y="1298.60" font-size="38.20" textLength="69.52" lengthAdjust="spacingAndGlyphs">1000</text>
<text x="775.15" y="1298.60" font-size="38.20" textLength="27.61" lengthAdjust="spacingAndGlyphs">K</text>
<clipPath id="cp2"><rect x="964.3" y="808.1" width="421.8" height="422.3"/></clipPath>
<rect x="964.3" y="808.1" width="421.8" height="422.3" fill="#fcfdfc"/>
<g clip-path="url(#cp2)"><g filter="url(#soft)">
<path d="M1273 1086Q1264 1087 1251 1090M1273 1086Q1273 1082 1272 1075M1251 1090Q1248 1082 1247 1070M1247 1070Q1258 1071 1272 1075M1181 798Q1168 800 1159 805M1159 805Q1155 792 1152 776M1258 1111Q1255 1115 1253 1123M1258 1111Q1255 1106 1251 1106M1251 1106Q1242 1104 1233 1106M1253 1123Q1242 1129 1234 1138M1234 1138Q1234 1139 1232 1137M1232 1137Q1234 1120 1233 1106M1253 1123Q1257 1138 1264 1149M1234 1138Q1238 1146 1245 1154M1245 1154Q1249 1154 1257 1154M1264 1149Q1259 1149 1257 1154M1224 1092Q1209 1090 1195 1086M1224 1092Q1227 1097 1228 1103M1195 1086Q1193 1088 1194 1088M1228 1103Q1220 1110 1209 1116M1194 1088Q1203 1104 1209 1116M1224 1092Q1225 1086 1229 1081M1203 1062Q1201 1068 1195 1074M1203 1062Q1205 1063 1208 1064M1195 1086Q1196 1081 1195 1074M1208 1064Q1220 1073 1229 1081M1123 1245Q1130 1231 1136 1219M1136 1219Q1144 1229 1154 1237M1173 1227Q1175 1233 1180 1238M1173 1227Q1164 1233 1154 1237M1395 894Q1393 890 1390 890M1390 890Q1393 877 1399 862M1208 1064Q1219 1061 1227 1061M1229 1081Q1236 1074 1244 1070M1227 1061Q1236 1065 1244 1070M1251 1090Q1250 1098 1251 1106M1247 1070Q1248 1068 1246 1069M1228 1103Q1232 1104 1233 1106M1246 1069Q1244 1069 1244 1070M1390 890Q1388 890 1386 890M1384 891Q1385 891 1386 890M1384 891Q1376 902 1371 913M1371 913Q1384 915 1397 917M981 802Q980 808 981 817M967 824Q969 823 976 823M967 824Q961 821 955 816M981 817Q979 819 976 823M967 824Q961 833 953 846M1149 979Q1160 974 1169 967M1149 979Q1160 991 1173 1003M1169 967Q1179 970 1184 978M1184 978Q1177 991 1174 1003M1173 1003Q1175 1004 1174 1003M1173 1227Q1172 1224 1173 1220M1196 1242Q1204 1234 1211 1223M1211 1223Q1207 1216 1202 1208M1173 1220Q1189 1215 1202 1208M1273 1086Q1275 1090 1277 1098M1270 1110Q1273 1109 1276 1104M1270 1110Q1264 1109 1258 1111M1277 1098Q1278 1103 1276 1104M1221 1138Q1214 1130 1211 1123M1221 1138Q1217 1143 1214 1146M1211 1123Q1198 1135 1189 1147M1214 1146Q1207 1150 1202 1151M1189 1147Q1194 1148 1202 1151M1232 1137Q1226 1136 1221 1138M1209 1116Q1209 1115 1209 1117M1209 1117Q1211 1122 1211 1123M1245 1154Q1236 1165 1231 1173M1231 1173Q1223 1159 1214 1146M1187 1147Q1189 1149 1189 1147M1187 1147Q1186 1136 1182 1125M1182 1125Q1182 1123 1182 1123M1209 1117Q1194 1120 1182 1123M1271 1222Q1277 1215 1283 1210M1271 1222Q1272 1233 1274 1242M1283 1210Q1290 1221 1300 1232M1300 1232Q1291 1242 1280 1250M1250 1242Q1249 1236 1246 1231M1271 1222Q1265 1220 1256 1219M1256 1219Q1250 1227 1246 1231M1226 1243Q1228 1237 1227 1229M1246 1231Q1237 1229 1227 1229M1211 1223Q1220 1224 1224 1226M1224 1226Q1224 1229 1227 1229M1271 1147Q1282 1155 1292 1165M1271 1147Q1275 1138 1280 1131M1287 1131Q1285 1132 1280 1131M1287 1131Q1295 1144 1305 1157M1305 1157Q1299 1159 1292 1165M1270 1110Q1277 1122 1280 1131M1264 1149Q1269 1146 1271 1147M1276 1104Q1290 1105 1305 1110M1304 1123Q1306 1115 1305 1110M1304 1123Q1295 1129 1287 1131M1310 1155Q1312 1142 1313 1132M1310 1155Q1309 1155 1305 1157M1313 1132Q1308 1127 1304 1123M1310 1155Q1311 1158 1316 1157M1316 1157Q1319 1167 1322 1176M1289 1174Q1289 1168 1292 1165M1289 1174Q1298 1181 1310 1189M1322 1176Q1315 1182 1310 1189M1406 1108Q1390 1107 1374 1110M1374 1110Q1375 1109 1374 1110M1374 1110Q1375 1108 1377 1103M1404 1082Q1389 1092 1377 1103M1366 1110Q1371 1109 1374 1110M1366 1110Q1357 1101 1351 1091M1351 1091Q1361 1083 1373 1079M1377 1103Q1373 1092 1373 1079M952 1234Q964 1238 975 1242M953 1225Q961 1224 971 1220M975 1242Q975 1232 971 1220M1194 1088Q1186 1092 1180 1099M1182 1123Q1179 1119 1176 1114M1180 1099Q1178 1105 1176 1114M1182 1125Q1170 1133 1158 1139M1158 1139Q1153 1132 1151 1127M1151 1127Q1156 1119 1162 1115M1176 1114Q1168 1114 1162 1115M952 1025Q955 1021 961 1020M961 1020Q962 1012 963 1007M944 1004Q955 1007 963 1007M993 1009Q982 1004 971 997M993 1009Q996 1005 998 1002M998 1002Q998 992 999 982M971 997Q968 989 967 983M967 983Q979 977 991 973M999 982Q994 978 991 973M1019 977Q1024 981 1028 983M1019 977Q1009 981 999 982M1027 1000Q1029 990 1028 983M1027 1000Q1011 1001 998 1002M959 978Q963 979 967 983M963 1007Q965 1001 971 997M992 959Q1004 960 1017 961M992 959Q990 964 991 973M1019 977Q1020 968 1017 961M1149 979Q1145 978 1139 979M1173 1003Q1162 1007 1148 1012M1148 1012Q1139 1004 1134 995M1134 995Q1136 985 1139 979M1386 798Q1388 807 1386 815M1398 821Q1393 817 1386 815M1297 937Q1290 927 1281 921M1297 937Q1289 946 1281 955M1281 955Q1275 941 1273 927M1281 921Q1278 923 1273 927M1278 900Q1270 900 1262 902M1278 900Q1280 905 1284 909M1252 915Q1258 907 1262 902M1252 915Q1251 923 1252 928M1284 909Q1283 913 1281 921M1252 928Q1261 927 1273 927M1219 928Q1217 932 1215 936M1219 928Q1234 929 1250 932M1250 932Q1252 939 1251 948M1215 936Q1214 942 1213 952M1246 954Q1247 952 1251 948M1246 954Q1235 957 1220 960M1220 960Q1218 955 1213 952M1252 928Q1252 928 1250 932M1281 955Q1280 956 1280 956M1251 948Q1266 954 1279 957M1280 956Q1281 956 1279 957M1387 937Q1392 930 1397 923M1387 937Q1388 939 1388 938M1388 938Q1390 943 1394 947M1394 947Q1389 963 1384 977M1384 977Q1396 976 1411 975M1252 915Q1245 909 1235 904M1262 902Q1257 895 1251 886M1251 886Q1242 894 1235 904M1236 796Q1225 800 1217 805M1217 805Q1212 800 1208 797M1254 803Q1240 813 1228 823M1254 803Q1254 798 1251 796M1217 805Q1220 813 1220 818M1228 823Q1224 819 1220 818M953 846Q961 853 965 857M965 857Q960 864 958 872M1136 1219Q1136 1218 1136 1219M1136 1219Q1141 1215 1143 1214M1173 1220Q1174 1220 1171 1218M1143 1214Q1158 1215 1171 1218M1179 1190Q1191 1198 1203 1206M1179 1190Q1181 1182 1186 1177M1186 1177Q1186 1178 1186 1176M1186 1176Q1199 1179 1209 1180M1210 1181Q1210 1182 1209 1180M1210 1181Q1208 1190 1205 1202M1205 1202Q1204 1206 1203 1206M1202 1208Q1202 1206 1203 1206M1167 1196Q1169 1207 1171 1218M1167 1196Q1172 1195 1179 1190M1187 1147Q1188 1146 1186 1148M1186 1148Q1185 1162 1186 1176M1202 1151Q1205 1163 1209 1180M1230 1176Q1231 1174 1231 1173M1230 1176Q1218 1179 1210 1181M1238 1203Q1230 1216 1224 1226M1238 1203Q1223 1204 1205 1202M1284 1209Q1281 1204 1279 1197M1284 1209Q1296 1204 1312 1203M1289 1174Q1286 1176 1281 1182M1310 1189Q1311 1195 1312 1203M1279 1197Q1280 1191 1281 1182M1312 1203Q1313 1202 1312 1203M1277 1098Q1288 1091 1302 1081M1305 1110Q1309 1108 1310 1104M1310 1104Q1310 1097 1313 1092M1313 1092Q1308 1089 1302 1081M1284 1064Q1279 1069 1272 1075M1284 1064Q1292 1069 1299 1073M1302 1081Q1300 1079 1299 1073M1263 1175Q1266 1176 1265 1177M1263 1175Q1251 1179 1237 1183M1265 1177Q1259 1185 1253 1198M1237 1183Q1240 1190 1242 1200M1242 1200Q1244 1199 1246 1201M1246 1201Q1250 1199 1253 1198M1257 1154Q1259 1165 1263 1175M1281 1182Q1272 1181 1265 1177M1230 1176Q1234 1178 1237 1183M1279 1197Q1265 1196 1253 1198M1238 1203Q1241 1201 1242 1200M1256 1219Q1252 1209 1246 1201M1284 1209Q1282 1208 1283 1210M1322 1176Q1329 1178 1339 1183M1332 1204Q1323 1202 1312 1203M1332 1204Q1331 1204 1333 1203M1339 1183Q1335 1194 1333 1203M1404 1210Q1397 1211 1385 1216M1392 1198Q1388 1202 1381 1203M1385 1216Q1383 1210 1381 1203M1408 1233Q1400 1239 1390 1241M1390 1241Q1386 1234 1379 1223M1379 1223Q1381 1217 1385 1216M1365 1220Q1374 1223 1379 1223M1365 1220Q1363 1216 1360 1210M1366 1196Q1361 1203 1360 1210M1366 1196Q1373 1199 1381 1203M1326 1088Q1322 1079 1318 1066M1326 1088Q1320 1089 1313 1092M1299 1073Q1302 1068 1307 1066M1307 1066Q1312 1067 1318 1066M1415 1036Q1402 1044 1390 1055M1395 1023Q1385 1032 1379 1043M1379 1043Q1385 1049 1390 1055M1373 1079Q1374 1077 1375 1075M1375 1075Q1386 1074 1395 1070M1390 1055Q1393 1063 1395 1070M1365 1220Q1362 1228 1359 1233M1359 1233Q1371 1244 1382 1257M996 1154Q996 1144 999 1138M996 1154Q984 1154 974 1154M974 1154Q975 1140 978 1127M999 1138Q989 1133 978 1127M1113 1242Q1110 1237 1104 1232M1104 1232Q1089 1242 1076 1249M1136 1219Q1131 1215 1128 1213M1104 1232Q1105 1231 1103 1227M1103 1227Q1116 1221 1128 1213M1186 1148Q1174 1150 1166 1154M1186 1177Q1173 1171 1162 1169M1162 1169Q1165 1163 1166 1154M1158 1139Q1157 1143 1158 1147M1166 1154Q1161 1151 1158 1147M973 1155Q977 1169 976 1180M973 1155Q972 1155 974 1154M996 1154Q1002 1158 1006 1164M1006 1164Q1006 1165 1006 1165M1006 1165Q998 1175 994 1184M994 1184Q983 1180 976 1180M956 1184Q968 1183 976 1180M973 1155Q965 1156 958 1153M976 1180Q976 1179 976 1180M1174 1003Q1176 1002 1175 1004M1148 1012Q1147 1020 1147 1026M1147 1026Q1150 1029 1153 1034M1175 1018Q1176 1012 1175 1004M1175 1018Q1175 1023 1172 1029M1153 1034Q1163 1031 1172 1029M1203 1043Q1202 1051 1203 1062M1203 1043Q1192 1042 1184 1041M1195 1074Q1181 1070 1169 1066M1169 1066Q1173 1059 1175 1051M1184 1041Q1181 1046 1175 1051M968 953Q963 947 955 939M968 953Q977 950 987 950M980 932Q981 941 987 950M980 932Q969 934 958 936M959 978Q962 971 964 962M964 962Q937 949 912 937M992 959Q989 956 989 951M989 951Q988 951 987 950M968 953Q964 959 964 962M1113 923Q1110 926 1109 929M1113 923Q1126 928 1138 931M1109 929Q1115 939 1119 948M1138 931Q1140 935 1143 937M1143 937Q1140 946 1137 952M1119 948Q1130 951 1137 952M1169 967Q1171 960 1170 955M1170 955Q1154 955 1137 954M1139 979Q1139 978 1137 975M1137 975Q1136 963 1137 954M1299 889Q1301 880 1300 872M1299 889Q1289 890 1280 889M1300 872Q1288 872 1277 872M1280 889Q1280 881 1277 872M1308 897Q1314 886 1318 877M1308 897Q1302 895 1299 889M1318 877Q1315 870 1314 867M1314 867Q1306 868 1300 872M1382 795Q1373 801 1361 810M1375 821Q1378 818 1386 815M1375 821Q1369 817 1361 811M1361 810Q1361 810 1361 811M1359 840Q1358 856 1359 868M1359 840Q1365 840 1373 837M1373 837Q1382 841 1389 848M1369 867Q1363 868 1359 868M1369 867Q1380 860 1389 852M1389 852Q1387 850 1389 848M1345 833Q1354 837 1359 840M1345 833Q1345 827 1344 822M1375 821Q1374 828 1373 837M1344 822Q1351 817 1361 811M1397 838Q1394 845 1389 848M1386 890Q1376 878 1369 867M1399 862Q1392 859 1389 852M1316 860Q1327 861 1340 862M1316 860Q1315 855 1313 847M1315 843Q1314 843 1313 847M1315 843Q1330 838 1344 834M1344 834Q1341 849 1340 862M1345 833Q1345 834 1344 834M1314 830Q1325 823 1335 813M1314 830Q1315 837 1315 843M1335 813Q1339 818 1344 822M1352 872Q1345 866 1340 862M1352 872Q1356 868 1359 868M1278 900Q1278 893 1280 889M1284 909Q1292 910 1303 908M1308 897Q1310 900 1309 903M1309 903Q1307 907 1303 908M1297 937Q1304 938 1308 935M1303 908Q1304 920 1308 935M1318 877Q1325 881 1336 889M1323 906Q1315 906 1309 903M1323 906Q1327 906 1330 903M1330 903Q1332 896 1336 889M1352 872Q1349 877 1350 883M1314 867Q1315 864 1316 860M1336 889Q1344 886 1350 883M1384 891Q1372 892 1357 892M1357 892Q1352 887 1350 883M1278 965Q1279 961 1279 957M1278 965Q1287 973 1298 984M1280 956Q1294 960 1308 963M1307 986Q1301 986 1298 984M1307 986Q1311 984 1314 980M1308 963Q1310 970 1314 980M1308 935Q1312 939 1317 939M1308 963Q1311 951 1317 939M1307 986Q1305 994 1306 998M1340 991Q1342 991 1341 995M1340 991Q1332 985 1325 979M1341 995Q1329 1005 1320 1014M1325 979Q1321 977 1314 980M1306 998Q1312 1006 1320 1014M1306 998Q1298 1005 1292 1010M1312 1026Q1315 1024 1320 1019M1312 1026Q1303 1024 1291 1024M1320 1014Q1320 1017 1320 1019M1291 1024Q1290 1015 1292 1010M1298 984Q1287 988 1274 996M1292 1010Q1284 1002 1274 996M1355 956Q1348 971 1344 987M1355 956Q1359 960 1363 960M1363 960Q1367 966 1375 975M1344 987Q1361 980 1375 975M1228 903Q1225 896 1227 886M1228 903Q1220 907 1214 914M1214 914Q1203 909 1194 905M1219 883Q1224 885 1227 886M1219 883Q1205 890 1193 893M1193 893Q1192 898 1194 904M1194 905Q1193 906 1194 904M1239 877Q1233 880 1227 886M1239 877Q1246 879 1250 881M1250 881Q1251 885 1251 886M1235 904Q1232 905 1228 903M1219 928Q1218 920 1214 914M1160 892Q1158 900 1159 908M1160 892Q1161 892 1161 889M1161 889Q1177 890 1191 891M1191 891Q1194 894 1193 893M1160 909Q1161 908 1159 908M1160 909Q1178 907 1194 904M1314 830Q1309 821 1306 816M1306 816Q1298 816 1289 819M1313 847Q1300 847 1288 843M1289 819Q1291 832 1288 843M1239 877Q1237 869 1234 862M1219 883Q1216 872 1214 864M1234 862Q1223 864 1214 864M1193 827Q1193 835 1192 844M1193 827Q1202 830 1207 829M1207 829Q1210 840 1210 849M1192 844Q1198 853 1204 859M1210 849Q1208 855 1205 859M1204 859Q1203 860 1205 859M1185 801Q1184 811 1184 822M1184 822Q1188 823 1193 827M1220 818Q1214 821 1207 829M1228 823Q1235 832 1238 838M1238 838Q1225 845 1210 849M1178 844Q1187 843 1192 844M1178 844Q1181 858 1184 868M1190 870Q1186 867 1184 868M1190 870Q1196 864 1204 859M1191 891Q1189 882 1190 870M1214 864Q1208 862 1205 859M1113 923Q1114 919 1113 912M1144 910Q1140 921 1138 931M1144 910Q1140 906 1134 901M1113 912Q1123 907 1134 901M1160 892Q1146 892 1135 893M1144 910Q1153 911 1159 908M1134 901Q1135 895 1135 893M971 857Q980 862 988 869M971 857Q978 846 982 836M988 869Q992 864 999 856M999 856Q997 850 996 845M982 836Q990 842 996 845M976 823Q979 830 982 836M965 857Q967 859 971 857M1164 926Q1160 932 1158 935M1164 926Q1176 924 1185 925M1158 935Q1166 944 1171 952M1185 925Q1186 929 1186 931M1186 931Q1185 940 1185 946M1171 952Q1178 950 1185 946M1143 937Q1148 935 1158 935M1160 909Q1163 918 1164 926M1194 905Q1189 915 1185 925M1170 955Q1171 954 1171 952M1137 954Q1138 955 1137 952M1215 936Q1200 933 1186 931M1200 953Q1207 953 1213 952M1200 953Q1191 951 1185 946M1184 978Q1184 976 1186 977M1186 977Q1193 965 1200 953M1336 1231Q1335 1239 1337 1244M1336 1231Q1335 1228 1332 1224M1332 1224Q1324 1222 1312 1221M1317 1244Q1314 1238 1307 1232M1307 1232Q1310 1228 1312 1221M1360 1210Q1359 1209 1356 1210M1356 1210Q1346 1221 1336 1231M1359 1233Q1350 1238 1337 1244M1332 1204Q1331 1215 1332 1224M1333 1203Q1343 1208 1356 1210M1312 1203Q1311 1213 1312 1221M1300 1232Q1303 1234 1307 1232M1392 1198Q1388 1188 1387 1178M1397 1174Q1391 1175 1387 1178M1359 1116Q1355 1125 1351 1131M1359 1116Q1348 1113 1336 1109M1351 1131Q1343 1133 1339 1132M1339 1132Q1334 1131 1332 1127M1332 1127Q1330 1122 1331 1117M1336 1109Q1333 1112 1331 1117M1338 1087Q1337 1085 1340 1085M1338 1087Q1335 1097 1336 1109M1366 1110Q1365 1114 1359 1116M1340 1085Q1348 1090 1351 1091M1316 1157Q1323 1154 1333 1153M1313 1132Q1322 1130 1332 1127M1333 1153Q1338 1144 1339 1132M1310 1104Q1319 1110 1331 1117M1338 1087Q1331 1087 1326 1088M1383 978Q1379 978 1376 975M1383 978Q1383 981 1384 988M1376 975Q1364 990 1352 1006M1384 988Q1377 995 1371 1004M1371 1004Q1362 1008 1354 1009M1352 1006Q1353 1008 1354 1009M1388 938Q1375 948 1363 960M1384 977Q1382 976 1383 978M1375 975Q1374 974 1376 975M1398 1008Q1393 1000 1384 988M1340 991Q1342 989 1344 987M1341 995Q1347 1001 1352 1006M1394 1018Q1388 1017 1385 1016M1385 1016Q1379 1008 1371 1004M1354 1014Q1356 1011 1354 1009M1354 1014Q1356 1019 1358 1023M1358 1023Q1373 1020 1385 1016M1329 1024Q1326 1022 1320 1019M1329 1024Q1342 1021 1354 1014M1343 1068Q1350 1067 1361 1064M1343 1068Q1340 1064 1337 1058M1337 1058Q1336 1053 1336 1050M1361 1064Q1368 1053 1373 1043M1338 1046Q1337 1047 1336 1050M1338 1046Q1348 1038 1359 1033M1359 1033Q1367 1037 1373 1043M1340 1085Q1342 1075 1343 1068M1375 1075Q1367 1071 1361 1064M1318 1066Q1326 1060 1337 1058M1307 1066Q1310 1058 1312 1047M1312 1047Q1313 1044 1315 1045M1315 1045Q1325 1048 1336 1050M1379 1043Q1374 1041 1373 1043M1329 1024Q1335 1035 1338 1046M1315 1045Q1314 1034 1312 1026M1358 1023Q1359 1028 1359 1033M1021 1030Q1034 1028 1043 1028M1021 1030Q1024 1015 1029 1003M1043 1028Q1046 1018 1051 1012M1029 1003Q1038 1007 1049 1007M1051 1012Q1051 1008 1049 1007M958 1067Q962 1075 965 1082M958 1067Q960 1065 964 1062M965 1082Q978 1081 990 1083M990 1083Q989 1067 986 1055M986 1055Q976 1059 964 1062M952 1036Q958 1038 964 1041M964 1062Q965 1050 964 1041M964 1123Q971 1121 976 1121M964 1123Q957 1110 953 1100M976 1121Q980 1117 982 1111M982 1111Q971 1102 962 1094M953 1100Q957 1096 962 1094M949 1132Q955 1127 964 1123M978 1127Q978 1123 976 1121M965 1082Q963 1087 962 1094M999 1090Q994 1085 990 1083M999 1090Q992 1098 989 1109M989 1109Q985 1108 982 1111M1017 1240Q1016 1236 1017 1231M1017 1231Q1030 1228 1043 1224M1044 1240Q1043 1233 1043 1224M1151 1127Q1145 1127 1136 1127M1136 1127Q1133 1140 1129 1149M1158 1147Q1145 1148 1130 1152M1129 1149Q1131 1152 1130 1152M1107 1145Q1103 1155 1100 1165M1107 1145Q1115 1145 1122 1146M1129 1165Q1129 1157 1130 1152M1129 1165Q1118 1169 1106 1171M1122 1146Q1125 1146 1129 1149M1106 1171Q1102 1167 1100 1165M1131 1188Q1134 1180 1134 1172M1131 1188Q1139 1193 1146 1200M1134 1172Q1145 1175 1156 1175M1156 1175Q1158 1183 1162 1193M1162 1193Q1156 1198 1146 1200M1143 1214Q1144 1207 1146 1200M1128 1213Q1124 1207 1120 1198M1120 1198Q1126 1195 1131 1188M1162 1169Q1159 1172 1156 1175M1129 1165Q1131 1171 1134 1172M1167 1196Q1166 1193 1162 1193M1006 1165Q1017 1172 1025 1179M994 1184Q996 1188 996 1194M1025 1179Q1019 1193 1014 1204M1014 1204Q1012 1204 1012 1204M1012 1204Q1004 1198 996 1194M1047 1185Q1037 1180 1026 1179M1047 1185Q1049 1169 1048 1158M1026 1179Q1032 1167 1036 1157M1048 1158Q1043 1155 1036 1157M1077 1160Q1064 1174 1051 1189M1077 1160Q1069 1154 1059 1149M1059 1149Q1054 1154 1048 1158M1051 1189Q1049 1189 1047 1185M1006 1164Q1015 1157 1025 1148M1025 1148Q1032 1152 1036 1157M1025 1179Q1024 1181 1026 1179M1153 1034Q1154 1037 1152 1039M1172 1029Q1176 1036 1184 1041M1175 1051Q1165 1044 1152 1039M1152 1039Q1153 1040 1152 1039M967 884Q977 884 985 887M967 884Q959 889 952 895M985 887Q983 899 982 910M955 909Q964 909 972 912M972 912Q979 910 982 911M982 911Q982 910 982 910M958 872Q961 880 967 884M989 882Q986 884 985 887M989 882Q987 877 988 869M958 936Q966 923 972 912M980 932Q980 920 982 911M981 817Q990 817 1000 819M996 845Q1001 834 1009 826M1000 819Q1004 822 1009 826M1000 819Q1005 811 1007 802M999 856Q1004 856 1008 855M1008 855Q1021 849 1030 846M1030 846Q1032 846 1031 843M1009 826Q1015 826 1021 827M1031 843Q1026 836 1021 827M1021 827Q1027 814 1031 801M1147 1026Q1132 1027 1120 1028M1120 1028Q1118 1033 1120 1041M1152 1039Q1140 1050 1126 1058M1120 1041Q1122 1049 1126 1058M1068 1022Q1059 1017 1051 1012M1068 1022Q1068 1012 1069 1001M1049 1007Q1055 1000 1060 991M1069 1001Q1066 997 1060 991M1027 1000Q1028 1001 1029 1003M1054 976Q1057 981 1061 985M1054 976Q1046 978 1036 979M1036 979Q1033 980 1028 983M1060 991Q1061 988 1061 985M1104 986Q1094 986 1087 985M1104 986Q1112 979 1116 971M1084 982Q1086 983 1087 985M1084 982Q1086 974 1089 962M1093 959Q1091 960 1089 962M1093 959Q1100 960 1107 962M1107 962Q1111 967 1116 971M1134 995Q1127 999 1118 1004M1118 1004Q1109 996 1104 986M1137 975Q1127 973 1116 971M1054 976Q1057 969 1056 958M1056 958Q1056 959 1060 956M1060 956Q1073 958 1089 962M1061 985Q1071 984 1084 982M1109 929Q1101 932 1091 937M1091 937Q1093 950 1093 959M1119 948Q1112 955 1107 962M1069 1001Q1075 1005 1084 1006M1087 985Q1086 990 1088 995M1084 1006Q1086 1002 1088 995M1118 1004Q1118 1008 1114 1011M1088 995Q1103 1003 1114 1011M1120 1028Q1114 1025 1112 1019M1112 1019Q1111 1015 1114 1011M1361 810Q1360 806 1357 798M1306 816Q1306 814 1308 811M1281 805Q1283 811 1285 816M1281 805Q1285 794 1290 785M1289 819Q1287 819 1285 816M1308 811Q1299 798 1290 785M1254 803Q1254 806 1257 806M1281 805Q1267 804 1257 806M1371 913Q1370 912 1369 913M1387 937Q1378 934 1373 931M1369 913Q1373 920 1373 931M1357 892Q1359 900 1358 910M1369 913Q1363 912 1358 910M1330 903Q1340 912 1348 917M1358 910Q1353 914 1348 917M1312 1047Q1298 1044 1283 1043M1291 1024Q1287 1030 1281 1033M1281 1033Q1283 1039 1283 1043M1284 1064Q1282 1057 1282 1048M1246 1069Q1247 1063 1248 1056M1282 1048Q1264 1053 1248 1056M1282 1048Q1281 1045 1283 1043M1234 862Q1240 852 1244 845M1238 838Q1242 841 1244 842M1244 845Q1242 843 1244 842M1250 881Q1258 874 1269 868M1244 845Q1257 855 1269 868M1277 872Q1276 871 1275 869M1288 843Q1285 843 1284 845M1284 845Q1280 858 1275 869M1269 868Q1273 869 1275 869M1257 809Q1262 817 1268 825M1257 809Q1250 825 1245 841M1268 825Q1267 832 1267 835M1245 841Q1254 840 1267 835M1257 806Q1256 809 1257 809M1285 816Q1275 820 1268 825M1244 842Q1245 840 1245 841M1284 845Q1277 840 1267 835M1113 912Q1111 911 1109 909M1135 893Q1134 890 1134 890M1109 909Q1114 897 1116 889M1134 890Q1123 891 1116 889M1110 864Q1102 875 1093 883M1110 864Q1118 863 1121 865M1093 883Q1106 886 1115 887M1121 865Q1119 876 1115 887M1184 822Q1175 829 1169 834M1178 844Q1172 841 1169 835M1169 834Q1168 836 1169 835M1159 805Q1158 809 1155 808M1132 784Q1145 795 1155 808M1169 834Q1158 827 1150 820M1155 808Q1151 814 1150 820M989 951Q1001 941 1013 929M982 910Q998 916 1009 921M1013 929Q1013 924 1009 921M1091 937Q1092 936 1088 935M1060 956Q1061 949 1065 939M1088 935Q1075 938 1065 939M1017 961Q1020 958 1025 951M1036 979Q1033 964 1031 953M1031 953Q1029 950 1025 951M1056 958Q1050 954 1041 951M1031 953Q1035 954 1041 951M1013 929Q1015 931 1014 930M1025 951Q1019 939 1014 930M1342 1159Q1353 1155 1365 1149M1342 1159Q1344 1170 1345 1179M1345 1179Q1356 1183 1366 1183M1365 1149Q1367 1151 1368 1150M1368 1150Q1370 1164 1373 1177M1366 1183Q1371 1179 1373 1177M1333 1153Q1337 1154 1342 1159M1351 1131Q1358 1139 1365 1149M1339 1183Q1343 1180 1345 1179M1366 1196Q1368 1189 1366 1183M1387 1178Q1379 1178 1373 1177M1386 1131Q1376 1141 1370 1148M1386 1131Q1390 1133 1396 1133M1370 1148Q1388 1156 1403 1160M1374 1110Q1380 1120 1386 1131M1368 1150Q1369 1150 1370 1148M990 1053Q1005 1048 1021 1042M990 1053Q1004 1062 1014 1069M1021 1042Q1020 1043 1021 1042M1021 1042Q1021 1053 1017 1067M1017 1067Q1014 1069 1014 1069M1091 1073Q1082 1065 1072 1057M1091 1073Q1098 1069 1105 1065M1105 1065Q1102 1056 1099 1045M1099 1045Q1095 1045 1092 1042M1072 1057Q1084 1048 1092 1042M1120 1041Q1108 1042 1099 1045M1112 1019Q1103 1019 1095 1023M1092 1042Q1093 1031 1095 1023M1068 1022Q1069 1022 1070 1024M1084 1006Q1083 1011 1085 1019M1070 1024Q1078 1022 1085 1019M1085 1019Q1089 1021 1095 1023M1049 1037Q1043 1043 1037 1050M1049 1037Q1058 1039 1065 1041M1065 1041Q1068 1047 1072 1057M1072 1057Q1066 1060 1060 1065M1060 1065Q1054 1066 1048 1067M1037 1050Q1040 1057 1046 1065M1046 1065Q1048 1066 1048 1067M1020 1031Q1022 1035 1021 1042M1020 1031Q1021 1030 1021 1030M1043 1028Q1044 1031 1049 1037M1021 1042Q1029 1047 1037 1050M1070 1024Q1066 1031 1065 1041M1072 1057Q1073 1056 1072 1057M1017 1067Q1032 1066 1046 1065M1014 1069Q1012 1080 1012 1087M1012 1087Q1014 1090 1017 1090M1017 1090Q1031 1084 1043 1080M1043 1080Q1047 1072 1048 1067M989 1053Q997 1040 1005 1026M989 1053Q989 1053 988 1053M988 1053Q981 1045 978 1033M993 1014Q986 1022 979 1028M993 1014Q1000 1021 1005 1026M979 1028Q977 1032 978 1033M1020 1031Q1011 1030 1005 1026M990 1053Q989 1051 989 1053M999 1090Q1006 1090 1012 1087M986 1055Q986 1053 988 1053M964 1041Q972 1039 978 1033M961 1020Q969 1024 979 1028M993 1009Q993 1012 993 1014M1074 1221Q1074 1223 1070 1225M1074 1221Q1074 1209 1072 1197M1070 1225Q1058 1222 1045 1222M1072 1197Q1062 1195 1052 1191M1052 1191Q1047 1201 1042 1211M1042 1211Q1045 1214 1045 1222M1098 1219Q1099 1223 1103 1227M1098 1219Q1086 1222 1074 1221M1074 1246Q1071 1234 1070 1225M1043 1224Q1042 1221 1045 1222M1014 1204Q1029 1208 1042 1211M1051 1189Q1050 1191 1052 1191M1017 1231Q1010 1225 1007 1220M1007 1220Q1009 1214 1012 1204M1104 1179Q1094 1180 1083 1185M1104 1179Q1105 1186 1108 1198M1101 1203Q1106 1200 1108 1198M1101 1203Q1089 1197 1080 1193M1080 1193Q1083 1190 1083 1185M1106 1171Q1107 1176 1104 1179M1100 1165Q1090 1161 1078 1160M1078 1160Q1081 1171 1083 1185M1078 1160Q1076 1158 1078 1160M1120 1198Q1116 1197 1108 1198M1098 1219Q1101 1211 1101 1203M1072 1197Q1075 1195 1080 1193M1077 1160Q1076 1160 1078 1160M993 1228Q995 1226 997 1224M993 1228Q984 1220 974 1213M997 1224Q989 1216 984 1204M984 1204Q977 1204 973 1206M974 1213Q972 1211 973 1206M973 1206Q974 1207 973 1206M985 1244Q991 1236 993 1228M1007 1220Q1003 1224 997 1224M971 1220Q972 1218 974 1213M996 1194Q991 1199 984 1204M976 1180Q974 1192 973 1206M948 1201Q960 1203 973 1206M1024 1115Q1028 1127 1031 1136M1024 1115Q1017 1120 1006 1124M1006 1124Q1006 1129 1005 1131M1005 1131Q1016 1138 1026 1145M1026 1145Q1027 1139 1031 1136M989 1109Q998 1118 1006 1124M1027 1109Q1024 1111 1024 1115M1027 1109Q1023 1101 1017 1090M999 1138Q1001 1132 1005 1131M1025 1148Q1026 1148 1026 1145M1059 1149Q1057 1141 1056 1135M1031 1136Q1043 1134 1056 1135M1056 1135Q1055 1134 1056 1135M1027 1109Q1035 1111 1046 1109M1056 1135Q1052 1122 1046 1109M1043 1080Q1047 1089 1053 1102M1046 1109Q1048 1107 1053 1102M1064 1086Q1062 1075 1060 1065M1064 1086Q1061 1095 1054 1101M1054 1101Q1052 1101 1053 1102M1107 1145Q1099 1139 1095 1135M1122 1146Q1116 1131 1111 1118M1111 1118Q1104 1127 1095 1135M1078 1160Q1085 1148 1093 1135M1056 1135Q1067 1129 1079 1122M1079 1122Q1087 1127 1093 1135M1095 1135Q1094 1136 1093 1135M1126 1058Q1128 1059 1126 1060M1105 1065Q1115 1061 1125 1060M1125 1060Q1123 1060 1126 1060M1063 830Q1056 823 1050 812M1063 830Q1055 837 1046 843M1050 812Q1046 829 1042 842M1046 843Q1044 844 1042 842M1055 852Q1052 848 1046 843M1055 852Q1066 856 1073 859M1073 859Q1080 852 1084 846M1084 846Q1083 836 1079 828M1079 828Q1070 830 1063 830M1031 843Q1037 841 1042 842M1049 802Q1048 809 1050 812M1335 813Q1331 808 1329 800M1308 811Q1319 807 1327 800M1356 938Q1350 931 1347 923M1356 938Q1354 946 1352 954M1347 923Q1334 929 1324 933M1352 954Q1343 954 1338 954M1338 954Q1331 945 1321 939M1324 933Q1323 936 1321 939M1373 931Q1366 932 1356 938M1348 917Q1347 921 1347 923M1355 956Q1355 957 1352 954M1323 906Q1325 919 1324 933M1325 979Q1333 966 1338 954M1317 939Q1320 941 1321 939M1165 841Q1149 843 1135 848M1165 841Q1162 852 1159 867M1155 869Q1159 869 1159 867M1155 869Q1146 866 1137 867M1135 848Q1135 856 1134 864M1137 867Q1137 864 1134 864M1184 868Q1172 867 1159 867M1169 835Q1167 837 1165 841M1161 889Q1158 880 1155 869M1134 890Q1136 877 1137 867M1121 865Q1126 863 1134 864M1115 887Q1117 887 1116 889M1150 820Q1144 822 1136 824M1135 848Q1135 840 1132 835M1132 835Q1133 829 1136 824M1110 864Q1107 857 1100 849M1100 849Q1106 844 1110 837M1132 835Q1121 835 1110 837M989 882Q1002 884 1011 886M1008 855Q1011 865 1016 873M1011 886Q1013 880 1016 873M1030 846Q1031 855 1033 865M1016 873Q1024 869 1033 865M1065 939Q1063 937 1062 934M1041 951Q1041 939 1044 930M1062 934Q1055 931 1044 930M1014 930Q1028 929 1039 924M1044 930Q1042 925 1039 924M1088 935Q1086 928 1082 919M1062 934Q1061 921 1065 912M1082 919Q1073 918 1065 912M1109 909Q1102 904 1095 900M1082 919Q1087 910 1095 900M1065 1104Q1072 1112 1079 1117M1065 1104Q1073 1098 1083 1089M1079 1117Q1088 1107 1096 1097M1096 1097Q1096 1094 1093 1089M1083 1089Q1088 1087 1092 1086M1092 1086Q1092 1087 1093 1089M1054 1101Q1059 1102 1065 1104M1079 1122Q1077 1121 1079 1117M1064 1086Q1074 1089 1083 1089M1111 1118Q1110 1116 1114 1111M1114 1111Q1104 1103 1096 1097M1091 1073Q1093 1080 1092 1086M1118 1084Q1122 1072 1125 1060M1118 1084Q1106 1085 1093 1089M1152 1039Q1158 1055 1162 1068M1126 1060Q1134 1067 1143 1074M1143 1074Q1152 1070 1162 1068M1180 1099Q1176 1094 1169 1090M1169 1066Q1164 1066 1162 1068M1169 1090Q1165 1081 1162 1068M1162 1068Q1161 1070 1162 1068M1122 1089Q1133 1085 1142 1084M1122 1089Q1122 1102 1117 1111M1128 1113Q1121 1113 1117 1111M1128 1113Q1138 1105 1145 1097M1142 1084Q1144 1089 1145 1097M1145 1097Q1146 1098 1145 1097M1118 1084Q1119 1088 1122 1089M1143 1074Q1144 1081 1142 1084M1114 1111Q1116 1112 1117 1111M1136 1127Q1134 1118 1128 1113M1162 1115Q1152 1108 1145 1097M1169 1090Q1156 1093 1145 1097M1186 977Q1198 983 1210 986M1220 960Q1221 968 1220 976M1220 976Q1215 981 1210 986M1175 1004Q1178 1003 1185 1005M1185 1005Q1199 995 1210 988M1210 986Q1210 988 1210 988M1136 824Q1133 818 1127 814M1110 837Q1108 833 1107 829M1127 814Q1118 823 1107 829M1009 921Q1012 911 1018 901M1039 924Q1041 921 1041 918M1041 918Q1029 910 1018 901M1011 886Q1014 889 1020 894M1018 901Q1019 897 1020 894M1225 1041Q1225 1041 1228 1040M1225 1041Q1216 1040 1205 1040M1228 1040Q1231 1035 1233 1027M1233 1027Q1225 1020 1213 1013M1205 1040Q1207 1032 1206 1027M1206 1027Q1208 1023 1207 1020M1207 1020Q1210 1018 1213 1013M1227 1061Q1225 1053 1225 1041M1248 1056Q1247 1053 1246 1049M1246 1049Q1235 1046 1228 1040M1203 1043Q1205 1040 1205 1040M1175 1018Q1192 1021 1206 1027M1185 1005Q1198 1013 1207 1020M1216 1008Q1211 999 1210 988M1216 1008Q1216 1010 1213 1013M1246 1049Q1252 1038 1258 1025M1233 1027Q1240 1023 1245 1017M1245 1017Q1253 1023 1258 1025M1281 1033Q1274 1029 1264 1024M1264 1024Q1260 1026 1258 1025M1274 996Q1271 996 1271 995M1264 1024Q1266 1009 1271 995M1099 818Q1108 812 1120 803M1099 818Q1092 818 1083 817M1083 799Q1081 805 1079 808M1079 808Q1080 814 1083 817M1120 800Q1119 800 1120 803M1127 814Q1124 809 1120 803M1107 829Q1105 825 1099 818M1084 846Q1091 846 1100 849M1079 828Q1080 823 1083 817M1049 802Q1065 807 1079 808M1065 912Q1062 910 1060 904M1041 918Q1046 912 1049 907M1060 904Q1055 907 1049 907M1239 1006Q1238 997 1237 985M1239 1006Q1241 1008 1241 1008M1241 1008Q1254 999 1266 989M1237 985Q1246 982 1252 978M1252 978Q1258 981 1265 984M1265 984Q1267 988 1266 989M1216 1008Q1227 1006 1239 1006M1220 976Q1227 981 1237 985M1245 1017Q1243 1011 1241 1008M1271 995Q1270 992 1266 989M1246 954Q1250 964 1252 978M1278 965Q1272 976 1265 984M1056 880Q1057 891 1062 900M1056 880Q1064 873 1073 865M1062 900Q1076 894 1090 890M1073 865Q1080 874 1091 885M1091 885Q1092 888 1090 890M1095 900Q1091 893 1090 890M1060 904Q1061 903 1062 900M1073 859Q1073 863 1073 865M1093 883Q1091 886 1091 885M1027 892Q1031 893 1036 897M1027 892Q1033 885 1039 874M1036 897Q1047 890 1055 880M1039 874Q1042 875 1045 875M1045 875Q1050 877 1055 880M1020 894Q1024 893 1027 892M1049 907Q1042 900 1036 897M1033 865Q1037 870 1039 874M1056 880Q1054 881 1055 880M1055 852Q1048 861 1045 875" fill="none" stroke="#454a44" stroke-width="1.0" stroke-opacity="0.85"/>
<path d="M964 1166Q948 1167 934 1164M964 1166Q966 1158 973 1150M973 1150Q974 1148 970 1142M953 1132Q963 1137 970 1142M1258 927Q1258 932 1253 939M1258 927Q1269 926 1284 925M1253 939Q1268 945 1281 954M1284 925Q1284 938 1286 951M1281 954Q1284 955 1286 951M1367 1008Q1370 1004 1370 998M1367 1008Q1374 1013 1381 1022M1397 1018Q1387 1020 1381 1022M1397 994Q1385 990 1375 986M1375 986Q1371 991 1370 998M1355 1012Q1345 1010 1339 1005M1355 1012Q1362 1009 1367 1008M1339 1005Q1341 999 1347 991M1370 998Q1360 992 1347 991M1381 1022Q1379 1031 1377 1040M1399 1055Q1390 1045 1377 1040M1392 880Q1386 864 1383 851M1383 851Q1393 848 1404 846M1244 948Q1246 945 1253 939M1244 948Q1247 960 1251 970M1251 970Q1257 970 1263 972M1281 954Q1279 956 1276 962M1276 962Q1268 966 1263 972M1286 951Q1295 954 1305 956M1305 956Q1296 969 1289 978M1276 962Q1283 968 1289 978M1244 805Q1250 804 1255 801M1244 805Q1235 798 1229 792M1263 972Q1269 982 1279 994M1289 978Q1290 984 1288 991M1288 991Q1281 995 1279 994M1338 1005Q1333 1014 1324 1022M1338 1005Q1330 992 1320 984M1307 1008Q1304 1002 1305 996M1307 1008Q1310 1014 1313 1018M1313 1018Q1319 1020 1324 1022M1320 984Q1311 989 1305 996M1330 1035Q1328 1027 1324 1022M1330 1035Q1321 1043 1307 1053M1307 1053Q1304 1046 1300 1035M1300 1035Q1304 1027 1313 1018M1323 975Q1316 966 1307 956M1323 975Q1321 977 1320 984M1305 956Q1308 954 1307 956M1288 991Q1298 994 1305 996M1375 986Q1375 982 1373 980M1401 970Q1395 965 1390 960M1373 980Q1381 971 1390 960M1587 913Q1488 936 1390 957M1390 960Q1392 960 1390 957M1336 933Q1325 939 1312 943M1336 933Q1341 939 1344 943M1312 943Q1312 952 1307 956M1323 975Q1335 972 1345 967M1345 967Q1346 954 1344 943M1339 1005Q1339 1005 1338 1005M1347 991Q1348 979 1346 968M1345 967Q1343 970 1346 968M1373 980Q1366 973 1355 970M1346 968Q1350 970 1355 970M972 871Q971 868 965 865M972 871Q974 878 972 887M965 865Q951 872 932 878M945 891Q953 891 964 893M972 887Q969 891 964 893M1218 878Q1218 865 1217 857M1218 878Q1229 868 1236 860M1236 860Q1227 857 1217 857M1245 861Q1247 868 1251 879M1245 861Q1241 858 1242 859M1216 882Q1217 881 1218 878M1216 882Q1219 887 1221 890M1221 890Q1231 891 1245 889M1242 859Q1239 859 1236 860M1251 879Q1246 883 1245 889M1323 811Q1321 822 1319 828M1323 811Q1316 803 1305 791M1291 801Q1290 813 1291 824M1291 824Q1305 826 1319 828M1336 933Q1334 932 1336 929M1312 943Q1308 934 1301 923M1336 929Q1333 920 1329 915M1329 915Q1318 914 1309 913M1309 913Q1305 920 1301 923M1284 925Q1285 923 1285 924M1285 924Q1291 925 1301 923M1252 913Q1252 910 1249 910M1252 913Q1266 903 1279 898M1249 910Q1247 899 1245 889M1251 879Q1265 882 1278 882M1278 882Q1278 893 1279 898M1323 888Q1316 894 1306 898M1323 888Q1327 899 1333 906M1329 915Q1329 908 1333 906M1309 913Q1308 906 1306 902M1306 898Q1308 899 1306 902M1285 924Q1282 911 1281 902M1306 902Q1295 902 1281 902M1258 927Q1255 919 1252 913M1279 898Q1279 900 1281 902M1073 875Q1071 874 1073 875M1073 875Q1073 884 1076 896M1104 906Q1092 906 1080 902M1104 906Q1107 907 1106 905M1095 871Q1085 874 1073 875M1095 871Q1103 883 1110 900M1076 896Q1079 897 1080 902M1110 900Q1106 903 1106 905M1396 826Q1389 822 1381 818M1400 800Q1390 810 1381 818M1383 851Q1379 852 1375 849M1375 849Q1373 834 1374 823M1374 823Q1377 820 1378 818M1381 818Q1382 818 1378 818M1261 1005Q1259 1011 1257 1020M1261 1005Q1271 1003 1276 998M1276 998Q1280 1010 1286 1022M1257 1020Q1267 1029 1275 1034M1275 1034Q1278 1033 1284 1029M1284 1029Q1283 1027 1286 1022M1251 970Q1244 981 1239 988M1239 988Q1248 994 1261 1005M1279 994Q1276 998 1276 998M1307 1008Q1295 1015 1286 1022M1300 1035Q1294 1032 1284 1029M1390 957Q1389 952 1387 948M1355 970Q1360 958 1369 948M1387 948Q1377 950 1369 948M1494 900Q1440 916 1389 930M1387 948Q1390 939 1389 930M1344 943Q1352 939 1357 940M1357 940Q1361 942 1369 948M973 1150Q984 1155 999 1161M970 1142Q979 1134 986 1130M998 1131Q992 1130 986 1130M998 1131Q1001 1148 1003 1161M999 1161Q1002 1160 1003 1161M1040 1160Q1039 1155 1034 1153M1040 1160Q1049 1159 1057 1160M1034 1153Q1048 1144 1061 1131M1057 1160Q1060 1151 1064 1138M1061 1131Q1062 1133 1064 1138M945 1071Q956 1066 965 1059M934 1044Q949 1046 960 1049M965 1059Q965 1052 960 1049M982 1066Q990 1065 995 1060M982 1066Q980 1066 976 1062M995 1060Q997 1054 997 1050M976 1062Q979 1046 978 1033M997 1050Q988 1041 978 1033M1047 854Q1031 854 1019 851M1047 854Q1048 851 1047 852M1047 852Q1036 839 1026 825M1026 825Q1022 825 1020 825M1018 826Q1018 823 1020 825M1018 826Q1017 834 1011 844M1019 851Q1013 849 1011 844M972 871Q982 868 993 864M972 887Q980 890 989 892M993 864Q996 870 1002 879M989 892Q994 888 1002 879M993 864Q996 858 996 849M996 849Q1004 845 1011 844M1019 851Q1021 866 1019 883M1002 879Q1012 880 1019 883M1047 854Q1049 861 1050 870M1050 870Q1048 874 1047 874M1047 874Q1035 881 1022 885M1022 885Q1022 882 1019 883M1078 800Q1073 802 1067 807M1054 801Q1062 804 1067 807M1026 825Q1034 820 1045 817M1015 803Q1019 815 1020 825M1054 801Q1051 807 1045 817M1047 852Q1050 848 1056 842M1045 817Q1050 831 1056 842M996 800Q991 805 987 813M987 813Q976 805 965 793M985 819Q986 817 987 813M985 819Q1003 822 1018 826M985 819Q980 824 975 830M975 830Q968 819 958 810M958 810Q964 802 965 793M1171 1037Q1171 1048 1170 1057M1171 1037Q1187 1039 1199 1041M1170 1057Q1177 1064 1187 1068M1187 1068Q1191 1061 1198 1057M1198 1057Q1198 1048 1200 1043M1199 1041Q1200 1044 1200 1043M1359 914Q1355 908 1353 901M1359 914Q1365 916 1374 920M1353 901Q1365 897 1376 887M1376 887Q1377 902 1380 912M1380 912Q1378 914 1378 919M1374 920Q1377 920 1378 919M1336 929Q1349 924 1359 914M1348 898Q1351 899 1353 901M1348 898Q1342 902 1333 906M1357 940Q1368 928 1374 920M1428 884Q1406 898 1380 912M1392 880Q1384 883 1377 884M1377 884Q1376 883 1376 887M1389 930Q1383 923 1378 919M1348 898Q1345 889 1345 877M1377 884Q1366 878 1358 866M1345 877Q1351 872 1358 866M1323 888Q1322 882 1326 877M1345 877Q1336 875 1326 877M1375 849Q1368 854 1358 861M1358 866Q1357 865 1358 861M1345 832Q1352 844 1355 857M1345 832Q1334 830 1322 833M1322 833Q1323 841 1320 853M1320 853Q1336 854 1355 857M1374 823Q1362 826 1351 825M1345 832Q1347 827 1351 825M1358 861Q1359 861 1355 857M1255 801Q1267 813 1277 827M1291 824Q1292 822 1291 824M1277 827Q1282 827 1291 824M1240 825Q1241 814 1244 805M1240 825Q1256 830 1267 834M1277 827Q1271 833 1267 834M1240 825Q1235 829 1235 830M1245 861Q1258 858 1266 850M1242 859Q1237 846 1235 830M1267 834Q1268 839 1266 850M1050 870Q1064 873 1073 875M1047 874Q1052 887 1053 901M1076 896Q1066 898 1054 902M1053 901Q1054 899 1054 902M1080 902Q1074 910 1070 921M1054 902Q1055 913 1055 921M1070 921Q1064 921 1055 921M1104 906Q1101 916 1099 930M1099 930Q1089 929 1079 932M1070 921Q1073 926 1079 932M1106 940Q1104 934 1099 930M1106 940Q1097 951 1092 961M1092 961Q1083 960 1078 959M1078 959Q1075 957 1070 951M1079 932Q1077 940 1070 951M1229 792Q1215 797 1203 804M1203 804Q1198 804 1191 801M1235 830Q1226 829 1216 831M1203 804Q1210 817 1216 831M1078 800Q1093 806 1103 809M1103 809Q1108 804 1115 800M1370 798Q1358 802 1346 810M1338 802Q1343 805 1346 810M1378 818Q1377 810 1370 798M1351 825Q1351 818 1346 810M1323 811Q1332 807 1338 802M1319 828Q1318 832 1322 833M1201 1239Q1191 1235 1178 1234M1178 1234Q1172 1243 1169 1251M1398 1175Q1393 1177 1384 1177M1384 1177Q1384 1192 1381 1206M1381 1206Q1397 1203 1413 1198M1377 1211Q1392 1218 1408 1224M1377 1211Q1377 1213 1376 1211M1376 1211Q1376 1214 1374 1219M1374 1219Q1375 1226 1377 1229M1377 1229Q1387 1234 1398 1243M1381 1206Q1380 1207 1377 1211M1337 1233Q1358 1224 1374 1219M1337 1233Q1343 1242 1351 1255M1365 1255Q1369 1242 1377 1229M1204 1237Q1205 1223 1200 1204M1200 1204Q1206 1204 1211 1199M1223 1236Q1224 1233 1228 1227M1228 1227Q1228 1218 1228 1210M1228 1210Q1217 1206 1211 1199M1320 1142Q1318 1157 1319 1169M1320 1142Q1328 1140 1340 1143M1319 1169Q1330 1165 1343 1167M1340 1143Q1343 1153 1343 1167M1384 1177Q1376 1173 1372 1166M1376 1211Q1366 1204 1360 1200M1360 1200Q1364 1185 1368 1168M1372 1166Q1370 1166 1368 1168M1353 1199Q1355 1197 1360 1200M1353 1199Q1352 1185 1347 1170M1368 1168Q1355 1170 1347 1170M1305 1058Q1306 1058 1305 1058M1305 1058Q1306 1054 1307 1053M1275 1034Q1273 1038 1272 1046M1272 1046Q1287 1051 1305 1058M1007 1090Q1001 1095 994 1105M1007 1090Q996 1082 981 1078M994 1105Q985 1103 979 1104M981 1078Q976 1085 972 1096M979 1104Q976 1102 974 1100M972 1096Q972 1100 974 1100M998 1131Q1004 1128 1011 1121M986 1130Q980 1115 979 1104M1011 1121Q1005 1112 994 1105M954 1092Q963 1095 972 1096M982 1066Q982 1071 981 1078M965 1059Q970 1058 976 1062M953 1132Q966 1114 974 1100M966 1021Q968 1018 972 1020M966 1021Q958 1021 955 1017M975 1018Q974 1021 972 1020M975 1018Q977 1003 976 993M976 993Q967 987 957 986M960 1049Q965 1033 966 1021M978 1033Q974 1027 972 1020M995 1016Q983 1015 975 1018M995 1016Q997 1034 1000 1046M1000 1046Q1000 1050 997 1050M965 865Q966 862 965 858M996 849Q988 843 977 835M965 858Q973 847 977 835M975 830Q977 828 975 831M977 835Q975 835 975 831M964 893Q967 904 971 917M944 924Q952 926 960 924M971 917Q965 919 960 924M946 948Q960 948 971 947M960 924Q967 937 971 947M992 914Q1008 906 1023 902M992 914Q991 914 990 918M991 921Q990 917 990 918M991 921Q1007 924 1020 929M1020 929Q1023 920 1028 916M1028 916Q1025 909 1025 906M1023 902Q1024 906 1025 906M989 892Q992 903 992 914M1022 885Q1022 892 1023 902M971 917Q982 918 990 918M1053 901Q1041 903 1025 906M1049 926Q1051 923 1055 921M1049 926Q1039 920 1028 916M1229 1009Q1228 1014 1224 1018M1229 1009Q1240 1017 1254 1022M1224 1018Q1229 1029 1233 1039M1233 1039Q1239 1034 1245 1033M1254 1022Q1249 1026 1245 1033M1239 988Q1234 991 1231 990M1231 990Q1232 1001 1229 1009M1257 1020Q1257 1020 1254 1022M1230 1047Q1230 1041 1233 1039M1230 1047Q1217 1046 1200 1043M1205 1020Q1212 1017 1224 1018M1205 1020Q1203 1033 1199 1041M1272 1046Q1272 1048 1267 1052M1267 1052Q1257 1042 1245 1033M1326 877Q1328 877 1326 876M1320 853Q1316 856 1317 856M1326 876Q1321 866 1317 856M1306 898Q1303 887 1296 882M1326 876Q1310 877 1296 882M1163 899Q1166 903 1171 906M1163 899Q1155 907 1144 912M1144 912Q1157 925 1174 935M1171 906Q1172 920 1175 933M1175 933Q1174 932 1174 935M1123 896Q1134 905 1144 912M1123 896Q1114 898 1110 900M1106 905Q1122 920 1135 936M1144 912Q1140 923 1136 936M1135 936Q1135 938 1136 936M1106 940Q1109 939 1108 941M1135 936Q1120 940 1108 941M1098 970Q1098 964 1092 961M1098 970Q1106 965 1119 963M1108 941Q1114 950 1119 963M1197 906Q1196 915 1196 921M1197 906Q1208 905 1215 904M1215 904Q1219 911 1224 917M1196 921Q1198 922 1199 925M1199 925Q1209 928 1221 928M1224 917Q1225 921 1221 928M1196 906Q1184 907 1171 906M1196 906Q1197 906 1197 906M1175 933Q1184 927 1196 921M1221 890Q1217 897 1215 904M1249 910Q1239 915 1224 917M1171 950Q1171 945 1174 935M1171 950Q1184 952 1200 951M1200 951Q1201 940 1199 925M1200 951Q1201 950 1202 952M1202 952Q1214 943 1224 938M1224 938Q1222 931 1221 928M1244 948Q1243 949 1241 947M1241 947Q1233 941 1224 938M1217 857Q1212 855 1205 851M1216 831Q1215 836 1208 839M1205 851Q1209 845 1208 839M1179 826Q1195 831 1208 839M1179 826Q1178 833 1176 841M1205 851Q1205 856 1200 856M1176 841Q1190 846 1200 856M1216 882Q1202 875 1193 873M1200 856Q1195 865 1193 873M1196 906Q1195 888 1191 874M1193 873Q1192 874 1191 874M1067 807Q1074 814 1077 825M1103 809Q1100 813 1096 821M1096 821Q1086 824 1077 825M1056 842Q1067 840 1073 837M1077 825Q1077 829 1073 837M1073 875Q1076 859 1078 843M1078 843Q1075 840 1073 837M1176 841Q1171 847 1166 853M1191 874Q1180 874 1166 875M1166 853Q1167 861 1166 875M1163 899Q1166 888 1166 875M1166 875Q1164 874 1166 875M1155 821Q1169 824 1179 825M1155 821Q1153 815 1153 808M1153 808Q1162 804 1171 799M1179 825Q1186 813 1190 801M1144 795Q1148 799 1153 808M1179 826Q1181 827 1179 825M1058 1247Q1056 1243 1059 1235M1059 1235Q1045 1233 1034 1230M1034 1230Q1034 1241 1033 1256M1090 1237Q1090 1234 1088 1230M1070 1226Q1079 1228 1088 1230M1070 1226Q1063 1231 1059 1235M999 1161Q989 1173 974 1185M1003 1161Q1002 1160 1004 1162M1004 1162Q1005 1167 1007 1176M1007 1176Q1001 1185 998 1195M998 1195Q986 1190 974 1185M948 1218Q956 1209 962 1201M919 1177Q938 1186 962 1198M962 1201Q963 1201 962 1198M964 1166Q969 1178 971 1186M962 1198Q966 1192 971 1186M971 1186Q973 1183 974 1185M1030 1151Q1032 1154 1034 1153M1030 1151Q1018 1156 1004 1162M1040 1160Q1040 1167 1039 1178M1007 1176Q1013 1180 1021 1185M1039 1178Q1028 1180 1021 1185M1065 1186Q1057 1189 1049 1193M1065 1186Q1071 1191 1075 1200M1075 1200Q1068 1206 1062 1215M1062 1215Q1054 1212 1045 1206M1049 1193Q1045 1197 1045 1206M1182 1120Q1192 1117 1202 1111M1182 1120Q1180 1127 1179 1133M1179 1133Q1180 1133 1180 1135M1180 1135Q1193 1138 1208 1138M1208 1138Q1208 1124 1204 1112M1204 1112Q1203 1113 1202 1111M1176 1111Q1176 1099 1179 1087M1176 1111Q1180 1115 1182 1120M1198 1089Q1192 1085 1186 1084M1198 1089Q1200 1102 1202 1111M1186 1084Q1182 1088 1179 1087M1155 1186Q1166 1181 1177 1180M1155 1186Q1148 1174 1145 1159M1145 1157Q1147 1158 1145 1159M1145 1157Q1144 1159 1146 1156M1146 1156Q1164 1157 1179 1159M1177 1180Q1180 1171 1179 1159M1213 1141Q1212 1141 1208 1138M1213 1141Q1207 1151 1204 1160M1180 1135Q1179 1148 1181 1157M1181 1157Q1190 1159 1204 1160M1148 1110Q1141 1111 1130 1112M1148 1110Q1151 1123 1152 1134M1130 1112Q1127 1121 1126 1131M1126 1131Q1139 1135 1148 1139M1148 1139Q1149 1136 1152 1134M1176 1111Q1162 1108 1149 1107M1149 1107Q1150 1107 1148 1110M1179 1133Q1168 1135 1152 1134M1114 1136Q1105 1129 1095 1124M1114 1136Q1122 1135 1126 1131M1095 1124Q1102 1113 1112 1100M1112 1100Q1120 1107 1130 1112M1114 1136Q1116 1144 1117 1153M1145 1157Q1129 1156 1117 1153M1146 1156Q1147 1146 1148 1139M1179 1159Q1178 1156 1181 1157M1179 1087Q1171 1084 1165 1083M1149 1107Q1149 1106 1149 1105M1165 1083Q1155 1094 1149 1105M1170 1057Q1163 1065 1156 1071M1187 1068Q1185 1074 1186 1084M1165 1083Q1160 1079 1156 1071M1112 1100Q1113 1095 1111 1091M1111 1091Q1124 1089 1134 1083M1149 1105Q1140 1095 1134 1083M1335 1232Q1333 1219 1333 1205M1335 1232Q1331 1231 1332 1233M1332 1233Q1317 1229 1305 1227M1333 1205Q1330 1204 1325 1198M1305 1227Q1304 1222 1302 1213M1302 1213Q1312 1206 1321 1197M1325 1198Q1324 1196 1321 1197M1337 1233Q1336 1230 1335 1232M1353 1199Q1344 1201 1333 1205M1315 1258Q1324 1245 1332 1233M1292 1244Q1300 1236 1305 1227M1346 1170Q1345 1171 1347 1170M1346 1170Q1335 1182 1325 1198M1093 1196Q1103 1189 1114 1183M1093 1196Q1084 1185 1075 1171M1114 1183Q1109 1176 1106 1165M1106 1165Q1094 1161 1085 1161M1085 1161Q1078 1167 1076 1169M1075 1171Q1073 1171 1076 1169M1065 1186Q1068 1178 1075 1171M1075 1200Q1082 1204 1091 1203M1091 1203Q1091 1202 1093 1196M1145 1159Q1132 1170 1120 1186M1117 1153Q1114 1160 1106 1165M1120 1186Q1117 1186 1114 1183M1084 1151Q1085 1154 1085 1161M1084 1151Q1091 1136 1095 1124M1095 1124Q1095 1122 1095 1124M1084 1151Q1073 1147 1064 1138M1057 1160Q1064 1163 1076 1169M1039 1178Q1045 1183 1049 1193M1088 1230Q1090 1225 1093 1224M1127 1245Q1124 1237 1121 1227M1121 1227Q1108 1223 1093 1224M1091 1203Q1094 1212 1094 1217M1062 1215Q1068 1221 1070 1226M1094 1217Q1095 1219 1093 1224M1155 1186Q1155 1187 1152 1192M1120 1186Q1123 1190 1123 1190M1152 1192Q1136 1189 1123 1190M1121 1227Q1125 1223 1128 1214M1094 1217Q1107 1210 1122 1205M1128 1214Q1127 1211 1122 1205M1123 1190Q1121 1197 1122 1205M1318 1170Q1316 1181 1316 1190M1318 1170Q1307 1166 1298 1164M1316 1190Q1312 1186 1303 1186M1303 1186Q1295 1184 1289 1177M1298 1164Q1296 1168 1289 1177M1319 1169Q1318 1170 1318 1170M1343 1167Q1342 1166 1346 1170M1321 1197Q1319 1194 1316 1190M1302 1213Q1295 1210 1287 1208M1287 1208Q1296 1196 1303 1186M1276 1206Q1279 1194 1279 1180M1276 1206Q1282 1207 1287 1208M1279 1180Q1282 1178 1289 1177M1268 1156Q1273 1166 1275 1177M1268 1156Q1282 1146 1295 1140M1295 1140Q1298 1153 1298 1164M1275 1177Q1276 1181 1279 1180M1320 1142Q1318 1142 1315 1138M1315 1138Q1318 1129 1325 1115M1340 1143Q1343 1140 1345 1139M1343 1111Q1336 1114 1325 1115M1343 1111Q1344 1112 1343 1111M1343 1111Q1344 1127 1345 1139M1377 1040Q1377 1042 1374 1042M1399 1056Q1389 1063 1378 1072M1378 1072Q1370 1069 1366 1065M1366 1065Q1371 1054 1374 1042M1355 1012Q1350 1026 1346 1039M1374 1042Q1361 1043 1346 1039M1330 1035Q1334 1036 1343 1040M1343 1040Q1343 1039 1346 1039M1392 1089Q1385 1090 1381 1086M1381 1086Q1373 1090 1368 1094M1392 1104Q1386 1112 1378 1120M1368 1094Q1366 1103 1364 1108M1378 1120Q1371 1112 1364 1108M1378 1072Q1381 1078 1381 1086M1295 1140Q1297 1141 1295 1139M1315 1138Q1303 1138 1297 1137M1295 1139Q1296 1137 1297 1137M1268 1156Q1266 1154 1261 1153M1261 1153Q1255 1149 1252 1141M1295 1139Q1274 1133 1258 1127M1252 1141Q1254 1136 1258 1127M1235 1060Q1247 1060 1261 1064M1235 1060Q1230 1054 1230 1047M1267 1052Q1265 1059 1262 1063M1261 1064Q1259 1062 1262 1063M1305 1058Q1298 1063 1290 1073M1262 1063Q1275 1070 1290 1073M1341 1105Q1331 1098 1319 1088M1341 1105Q1346 1089 1348 1073M1342 1068Q1345 1067 1347 1071M1342 1068Q1335 1070 1323 1072M1323 1072Q1323 1078 1319 1088M1348 1073Q1349 1072 1347 1071M1343 1111Q1343 1109 1341 1105M1343 1111Q1356 1110 1364 1108M1368 1094Q1356 1085 1348 1073M1366 1065Q1356 1070 1347 1071M1343 1040Q1344 1053 1342 1068M1305 1058Q1313 1066 1323 1072M1081 1091Q1083 1105 1085 1120M1081 1091Q1068 1088 1059 1089M1059 1089Q1056 1088 1055 1091M1055 1091Q1057 1105 1058 1116M1085 1120Q1075 1118 1062 1120M1062 1120Q1059 1120 1058 1116M1095 1124Q1091 1122 1085 1120M1102 1080Q1107 1086 1111 1091M1102 1080Q1089 1086 1081 1091M1061 1131Q1060 1125 1062 1120M1028 1137Q1037 1127 1045 1120M1028 1137Q1021 1127 1013 1121M1045 1120Q1036 1114 1023 1106M1013 1121Q1017 1112 1023 1106M1030 1151Q1029 1146 1028 1137M1058 1116Q1050 1117 1045 1120M1011 1121Q1013 1123 1013 1121M1001 954Q1004 961 1007 968M1001 954Q998 951 991 946M1007 968Q993 973 980 977M991 946Q981 950 974 950M974 950Q970 958 967 968M967 968Q973 973 980 977M1021 937Q1008 948 1001 954M1021 937Q1021 930 1020 929M991 921Q991 936 991 946M971 947Q971 951 974 950M956 973Q961 969 967 968M979 991Q980 983 980 977M979 991Q978 994 976 993M979 991Q992 991 1006 994M1007 968Q1011 969 1010 972M1010 972Q1010 983 1006 994M1005 1010Q998 1015 995 1016M1005 1010Q1004 1004 1007 996M1007 996Q1006 997 1006 994M1005 1010Q1010 1011 1014 1016M1007 996Q1020 995 1038 998M1038 998Q1038 1005 1041 1011M1041 1011Q1025 1016 1014 1016M1000 1046Q1013 1043 1021 1037M1014 1016Q1018 1028 1021 1037M1055 1091Q1045 1090 1039 1086M1023 1106Q1023 1099 1025 1089M1039 1086Q1034 1087 1025 1089M1007 1090Q1016 1090 1020 1086M1020 1086Q1023 1090 1025 1089M995 1060Q1003 1062 1012 1068M1020 1086Q1017 1075 1012 1068M1021 1037Q1027 1043 1036 1046M1012 1068Q1024 1055 1036 1046M1135 1019Q1137 1009 1138 999M1135 1019Q1151 1020 1165 1025M1138 999Q1151 996 1160 993M1165 1025Q1167 1026 1165 1024M1165 1024Q1169 1014 1167 1004M1160 993Q1163 998 1167 1004M1166 1032Q1157 1041 1145 1047M1166 1032Q1166 1026 1165 1025M1145 1047Q1137 1032 1129 1022M1129 1022Q1135 1021 1135 1019M1166 1032Q1167 1034 1171 1037M1201 1013Q1204 1015 1205 1020M1201 1013Q1183 1016 1165 1024M1201 1013Q1202 1006 1199 1002M1199 1002Q1193 1000 1189 997M1189 997Q1176 999 1167 1004M1107 1061Q1111 1053 1116 1046M1107 1061Q1125 1064 1142 1072M1116 1046Q1126 1051 1141 1053M1141 1053Q1145 1063 1146 1069M1146 1069Q1145 1069 1142 1072M1102 1080Q1100 1074 1100 1067M1100 1067Q1106 1066 1107 1061M1134 1083Q1136 1078 1142 1072M1145 1047Q1144 1052 1141 1053M1129 1022Q1123 1025 1114 1026M1114 1026Q1115 1036 1116 1046M1156 1071Q1152 1071 1146 1069M975 831Q963 834 953 836M965 858Q956 853 948 850M1292 854Q1281 851 1266 850M1292 854Q1294 859 1295 860M1295 860Q1294 867 1288 876M1266 850Q1274 863 1280 880M1280 880Q1285 876 1288 876M1291 824Q1292 841 1292 854M1266 850Q1267 850 1266 850M1317 856Q1307 859 1295 860M1296 882Q1295 878 1288 876M1278 882Q1277 879 1280 880M1131 972Q1132 972 1131 969M1131 972Q1144 975 1160 980M1131 969Q1136 958 1143 945M1143 945Q1155 948 1171 950M1171 950Q1170 957 1170 967M1160 980Q1167 973 1170 967M1124 986Q1133 995 1138 999M1124 986Q1128 978 1131 972M1160 993Q1162 988 1160 980M1136 936Q1141 939 1143 945M1119 963Q1126 965 1131 969M1144 912Q1143 910 1144 912M1171 950Q1170 950 1171 950M1187 980Q1188 991 1189 997M1187 980Q1181 973 1170 967M1201 975Q1206 981 1211 993M1201 975Q1203 971 1207 963M1207 963Q1215 964 1219 968M1219 968Q1227 978 1230 990M1230 990Q1220 989 1211 993M1187 980Q1193 975 1201 975M1199 1002Q1204 996 1211 993M1202 952Q1206 960 1207 963M1241 947Q1228 956 1219 968M1231 990Q1232 992 1230 990M1095 871Q1099 863 1103 860M1078 843Q1089 847 1102 852M1103 860Q1103 855 1102 852M1123 896Q1128 883 1135 872M1103 860Q1117 868 1135 872M1166 875Q1151 873 1135 872M1135 872Q1133 870 1135 872M998 1195Q997 1197 999 1200M962 1201Q969 1208 979 1218M999 1200Q989 1209 979 1218M968 1254Q978 1245 984 1233M992 1236Q988 1233 984 1233M956 1232Q968 1229 983 1231M979 1218Q979 1226 983 1231M983 1231Q982 1234 984 1233M1212 1188Q1228 1187 1246 1184M1212 1188Q1214 1184 1211 1178M1211 1178Q1212 1177 1212 1174M1212 1174Q1222 1171 1231 1167M1231 1167Q1235 1169 1243 1174M1243 1174Q1243 1176 1246 1182M1246 1182Q1246 1181 1246 1184M1228 1210Q1240 1206 1247 1200M1211 1199Q1212 1195 1212 1188M1247 1200Q1248 1190 1246 1184M1200 1204Q1192 1205 1188 1205M1188 1205Q1182 1190 1178 1180M1178 1180Q1195 1181 1211 1178M1177 1180Q1179 1181 1178 1180M1204 1160Q1206 1166 1212 1174M1213 1141Q1218 1139 1226 1139M1226 1139Q1230 1139 1233 1144M1233 1144Q1231 1154 1231 1167M1261 1153Q1254 1165 1243 1174M1252 1141Q1240 1143 1233 1144M1275 1177Q1258 1180 1246 1182M1252 1229Q1253 1235 1258 1239M1252 1229Q1259 1219 1261 1208M1258 1239Q1268 1232 1277 1230M1277 1230Q1274 1218 1275 1206M1261 1208Q1270 1208 1275 1206M1228 1227Q1240 1226 1252 1229M1247 1200Q1256 1202 1261 1208M1292 1244Q1287 1238 1277 1230M1276 1206Q1274 1206 1275 1206M1154 1202Q1153 1209 1148 1218M1154 1202Q1170 1207 1183 1209M1177 1231Q1161 1224 1149 1220M1177 1231Q1180 1221 1183 1209M1149 1220Q1150 1218 1148 1218M1152 1192Q1154 1196 1154 1202M1128 1214Q1137 1216 1148 1218M1188 1205Q1185 1206 1183 1209M1178 1234Q1179 1232 1177 1231M1142 1239Q1145 1228 1149 1220M1374 1156Q1372 1151 1367 1141M1374 1156Q1384 1153 1395 1149M1367 1141Q1372 1130 1378 1122M1378 1122Q1385 1123 1392 1128M1372 1166Q1372 1159 1374 1156M1345 1139Q1354 1140 1367 1141M1378 1120Q1378 1120 1378 1122M1204 1112Q1215 1110 1228 1110M1226 1139Q1226 1124 1228 1111M1228 1110Q1230 1112 1228 1111M1258 1127Q1256 1127 1258 1123M1258 1123Q1252 1117 1252 1110M1228 1111Q1238 1111 1252 1110M1290 1081Q1282 1086 1276 1096M1290 1081Q1298 1091 1309 1095M1276 1096Q1284 1104 1290 1114M1309 1095Q1306 1099 1307 1104M1307 1104Q1298 1109 1294 1116M1294 1116Q1291 1116 1290 1114M1261 1064Q1263 1079 1261 1094M1261 1094Q1268 1094 1276 1096M1290 1073Q1290 1079 1290 1081M1319 1088Q1315 1090 1309 1095M1258 1123Q1272 1119 1290 1114M1261 1094Q1261 1097 1259 1096M1259 1096Q1256 1103 1252 1110M1325 1115Q1318 1111 1307 1104M1297 1137Q1297 1126 1294 1116M1031 979Q1022 977 1011 972M1031 979Q1040 965 1052 953M1011 972Q1024 961 1041 948M1041 948Q1043 948 1047 948M1047 948Q1052 948 1052 952M1052 953Q1053 950 1052 952M1010 972Q1010 973 1011 972M1038 998Q1039 991 1041 987M1041 987Q1034 985 1031 979M1056 982Q1049 987 1041 987M1056 982Q1052 966 1052 953M1021 937Q1029 943 1041 948M1049 926Q1050 939 1047 948M1070 951Q1061 953 1052 952M1078 959Q1074 975 1069 989M1056 982Q1060 986 1069 989M1112 991Q1108 1005 1108 1017M1112 991Q1103 988 1099 983M1108 1017Q1092 1008 1073 1000M1099 983Q1086 987 1073 995M1073 995Q1071 996 1073 1000M1124 986Q1118 988 1112 991M1114 1026Q1110 1022 1110 1023M1110 1023Q1109 1021 1108 1017M1098 970Q1097 978 1099 983M1069 989Q1072 994 1073 995M1041 1011Q1044 1015 1049 1017M1073 1000Q1070 1002 1071 1003M1049 1017Q1059 1008 1071 1003M1106 1025Q1107 1022 1110 1023M1106 1025Q1090 1024 1077 1019M1077 1019Q1071 1010 1071 1003M1096 821Q1097 824 1098 825M1102 852Q1102 850 1105 847M1098 825Q1103 834 1105 847M1135 864Q1127 852 1123 839M1135 864Q1141 850 1149 841M1145 830Q1145 833 1149 841M1145 830Q1140 831 1130 829M1123 839Q1123 836 1128 831M1130 829Q1128 830 1128 831M1135 872Q1137 868 1135 864M1105 847Q1115 842 1123 839M1166 853Q1160 846 1149 841M1155 821Q1150 825 1145 830M1118 801Q1127 812 1130 829M1098 825Q1111 826 1128 831M1021 1201Q1030 1207 1041 1209M1021 1201Q1014 1206 1009 1206M1009 1206Q1011 1215 1010 1226M1010 1226Q1020 1228 1034 1229M1034 1229Q1035 1219 1041 1209M1021 1185Q1022 1195 1021 1201M1045 1206Q1042 1209 1041 1209M999 1200Q1006 1203 1009 1206M998 1236Q1002 1231 1010 1226M1034 1230Q1032 1231 1034 1229M1225 1094Q1230 1088 1238 1084M1225 1094Q1219 1090 1212 1083M1212 1083Q1216 1077 1215 1074M1215 1074Q1223 1068 1234 1061M1234 1061Q1238 1072 1238 1084M1228 1110Q1227 1100 1225 1094M1259 1096Q1250 1088 1238 1084M1198 1089Q1203 1084 1212 1083M1198 1057Q1208 1067 1215 1074M1235 1060Q1236 1061 1234 1061M1036 1046Q1035 1043 1039 1046M1049 1017Q1051 1026 1049 1036M1049 1036Q1043 1041 1039 1046M1039 1086Q1041 1066 1041 1051M1041 1051Q1040 1047 1039 1046M1076 1041Q1074 1040 1068 1041M1076 1041Q1076 1043 1077 1042M1068 1041Q1065 1054 1061 1066M1077 1042Q1082 1049 1086 1060M1086 1060Q1074 1064 1065 1071M1065 1071Q1065 1070 1061 1066M1077 1019Q1078 1028 1076 1041M1049 1036Q1058 1038 1068 1041M1106 1025Q1093 1032 1077 1042M1041 1051Q1049 1058 1061 1066M1100 1067Q1094 1064 1086 1060M1059 1089Q1063 1081 1065 1071" fill="none" stroke="#5f645c" stroke-width="0.9" stroke-opacity="0.75"/>
<circle cx="985.1" cy="815.4" r="9.0" fill="url(#ag)"/>
<circle cx="977.5" cy="823.0" r="9.0" fill="url(#ag)"/>
<circle cx="972.2" cy="835.9" r="9.0" fill="url(#ag)"/>
<circle cx="980.5" cy="847.3" r="9.0" fill="url(#ag)"/>
<circle cx="992.7" cy="844.3" r="9.0" fill="url(#ag)"/>
<circle cx="998.8" cy="852.7" r="9.0" fill="url(#ag)"/>
<circle cx="987.4" cy="860.3" r="9.0" fill="url(#ag)"/>
<circle cx="997.3" cy="867.9" r="9.0" fill="url(#ag)"/>
<circle cx="1051.2" cy="808.6" r="9.0" fill="url(#ag)"/>
<circle cx="1093.8" cy="826.8" r="9.0" fill="url(#ag)"/>
<circle cx="1095.3" cy="838.2" r="9.0" fill="url(#ag)"/>
<circle cx="1128.0" cy="828.3" r="9.0" fill="url(#ag)"/>
<circle cx="1141.7" cy="827.6" r="9.0" fill="url(#ag)"/>
<circle cx="1125.7" cy="840.5" r="9.0" fill="url(#ag)"/>
<circle cx="1130.3" cy="849.6" r="9.0" fill="url(#ag)"/>
<circle cx="1140.9" cy="853.4" r="9.0" fill="url(#ag)"/>
<circle cx="1156.1" cy="881.5" r="9.0" fill="url(#ag)"/>
<circle cx="1167.5" cy="881.5" r="9.0" fill="url(#ag)"/>
<circle cx="1008.7" cy="896.8" r="9.0" fill="url(#ag)"/>
<circle cx="1087.7" cy="893.7" r="9.0" fill="url(#ag)"/>
<circle cx="1096.8" cy="887.6" r="9.0" fill="url(#ag)"/>
<circle cx="1147.8" cy="901.3" r="9.0" fill="url(#ag)"/>
<circle cx="967.6" cy="904.4" r="9.0" fill="url(#ag)"/>
<circle cx="966.1" cy="923.4" r="9.0" fill="url(#ag)"/>
<circle cx="1060.4" cy="919.6" r="9.0" fill="url(#ag)"/>
<circle cx="1071.8" cy="923.4" r="9.0" fill="url(#ag)"/>
<circle cx="1128.8" cy="915.0" r="9.0" fill="url(#ag)"/>
<circle cx="1119.7" cy="924.1" r="9.0" fill="url(#ag)"/>
<circle cx="1136.4" cy="928.7" r="9.0" fill="url(#ag)"/>
<circle cx="1008.7" cy="945.4" r="9.0" fill="url(#ag)"/>
<circle cx="1002.6" cy="951.5" r="9.0" fill="url(#ag)"/>
<circle cx="1075.6" cy="974.3" r="9.0" fill="url(#ag)"/>
<circle cx="1071.0" cy="985.7" r="9.0" fill="url(#ag)"/>
<circle cx="972.2" cy="980.4" r="9.0" fill="url(#ag)"/>
<circle cx="1017.8" cy="980.4" r="9.0" fill="url(#ag)"/>
<circle cx="1128.8" cy="977.3" r="9.0" fill="url(#ag)"/>
<circle cx="1040.6" cy="997.1" r="9.0" fill="url(#ag)"/>
<circle cx="1044.4" cy="1006.2" r="9.0" fill="url(#ag)"/>
<circle cx="1101.4" cy="1012.3" r="9.0" fill="url(#ag)"/>
<circle cx="1005.6" cy="1016.9" r="9.0" fill="url(#ag)"/>
<circle cx="998.0" cy="1018.4" r="9.0" fill="url(#ag)"/>
<circle cx="1174.7" cy="1002.4" r="9.0" fill="url(#ag)"/>
<circle cx="1191.7" cy="836.7" r="9.0" fill="url(#ag)"/>
<circle cx="1232.0" cy="835.9" r="9.0" fill="url(#ag)"/>
<circle cx="1258.6" cy="826.0" r="9.0" fill="url(#ag)"/>
<circle cx="1268.5" cy="816.9" r="9.0" fill="url(#ag)"/>
<circle cx="1280.7" cy="813.1" r="9.0" fill="url(#ag)"/>
<circle cx="1282.2" cy="823.8" r="9.0" fill="url(#ag)"/>
<circle cx="1281.4" cy="833.6" r="9.0" fill="url(#ag)"/>
<circle cx="1351.4" cy="823.0" r="9.0" fill="url(#ag)"/>
<circle cx="1349.1" cy="834.4" r="9.0" fill="url(#ag)"/>
<circle cx="1324.0" cy="850.4" r="9.0" fill="url(#ag)"/>
<circle cx="1261.7" cy="861.8" r="9.0" fill="url(#ag)"/>
<circle cx="1273.8" cy="861.8" r="9.0" fill="url(#ag)"/>
<circle cx="1372.7" cy="870.9" r="9.0" fill="url(#ag)"/>
<circle cx="1194.0" cy="892.2" r="9.0" fill="url(#ag)"/>
<circle cx="1204.6" cy="889.9" r="9.0" fill="url(#ag)"/>
<circle cx="1278.4" cy="896.0" r="9.0" fill="url(#ag)"/>
<circle cx="1286.0" cy="897.5" r="9.0" fill="url(#ag)"/>
<circle cx="1270.8" cy="916.5" r="9.0" fill="url(#ag)"/>
<circle cx="1346.1" cy="892.2" r="9.0" fill="url(#ag)"/>
<circle cx="1352.9" cy="901.3" r="9.0" fill="url(#ag)"/>
<circle cx="1384.1" cy="908.9" r="9.0" fill="url(#ag)"/>
<circle cx="1220.6" cy="946.9" r="9.0" fill="url(#ag)"/>
<circle cx="1231.3" cy="942.4" r="9.0" fill="url(#ag)"/>
<circle cx="1381.8" cy="978.9" r="9.0" fill="url(#ag)"/>
<circle cx="1219.1" cy="992.5" r="9.0" fill="url(#ag)"/>
<circle cx="1225.2" cy="996.3" r="9.0" fill="url(#ag)"/>
<circle cx="1264.7" cy="992.5" r="9.0" fill="url(#ag)"/>
<circle cx="1274.6" cy="991.8" r="9.0" fill="url(#ag)"/>
<circle cx="1325.5" cy="995.6" r="9.0" fill="url(#ag)"/>
<circle cx="1333.9" cy="988.0" r="9.0" fill="url(#ag)"/>
<circle cx="1182.6" cy="1006.2" r="9.0" fill="url(#ag)"/>
<circle cx="1211.5" cy="1012.3" r="9.0" fill="url(#ag)"/>
<circle cx="1220.6" cy="1016.9" r="9.0" fill="url(#ag)"/>
<circle cx="1245.7" cy="1011.5" r="9.0" fill="url(#ag)"/>
<circle cx="1295.9" cy="1021.7" r="9.0" fill="url(#ag)"/>
<circle cx="996.5" cy="1044.8" r="9.0" fill="url(#ag)"/>
<circle cx="1042.1" cy="1050.9" r="9.0" fill="url(#ag)"/>
<circle cx="1038.3" cy="1061.6" r="9.0" fill="url(#ag)"/>
<circle cx="1140.9" cy="1030.4" r="9.0" fill="url(#ag)"/>
<circle cx="1150.8" cy="1035.7" r="9.0" fill="url(#ag)"/>
<circle cx="1066.4" cy="1081.3" r="9.0" fill="url(#ag)"/>
<circle cx="1068.7" cy="1092.0" r="9.0" fill="url(#ag)"/>
<circle cx="1081.6" cy="1098.8" r="9.0" fill="url(#ag)"/>
<circle cx="1090.0" cy="1107.2" r="9.0" fill="url(#ag)"/>
<circle cx="1084.7" cy="1116.3" r="9.0" fill="url(#ag)"/>
<circle cx="1109.0" cy="1083.6" r="9.0" fill="url(#ag)"/>
<circle cx="1119.7" cy="1088.9" r="9.0" fill="url(#ag)"/>
<circle cx="1166.8" cy="1091.2" r="9.0" fill="url(#ag)"/>
<circle cx="1163.0" cy="1102.6" r="9.0" fill="url(#ag)"/>
<circle cx="1054.3" cy="1120.9" r="9.0" fill="url(#ag)"/>
<circle cx="1050.5" cy="1131.5" r="9.0" fill="url(#ag)"/>
<circle cx="979.8" cy="1145.2" r="9.0" fill="url(#ag)"/>
<circle cx="988.9" cy="1145.2" r="9.0" fill="url(#ag)"/>
<circle cx="1136.4" cy="1133.0" r="9.0" fill="url(#ag)"/>
<circle cx="1137.1" cy="1144.4" r="9.0" fill="url(#ag)"/>
<circle cx="1106.0" cy="1149.8" r="9.0" fill="url(#ag)"/>
<circle cx="1115.9" cy="1156.6" r="9.0" fill="url(#ag)"/>
<circle cx="1017.8" cy="1177.9" r="9.0" fill="url(#ag)"/>
<circle cx="1033.0" cy="1180.9" r="9.0" fill="url(#ag)"/>
<circle cx="1072.5" cy="1187.0" r="9.0" fill="url(#ag)"/>
<circle cx="1082.4" cy="1178.7" r="9.0" fill="url(#ag)"/>
<circle cx="1160.7" cy="1183.2" r="9.0" fill="url(#ag)"/>
<circle cx="1168.3" cy="1190.8" r="9.0" fill="url(#ag)"/>
<circle cx="966.1" cy="1192.3" r="9.0" fill="url(#ag)"/>
<circle cx="1107.5" cy="1210.6" r="9.0" fill="url(#ag)"/>
<circle cx="1116.6" cy="1203.0" r="9.0" fill="url(#ag)"/>
<circle cx="1128.8" cy="1203.0" r="9.0" fill="url(#ag)"/>
<circle cx="1136.4" cy="1193.9" r="9.0" fill="url(#ag)"/>
<circle cx="1045.1" cy="1225.0" r="9.0" fill="url(#ag)"/>
<circle cx="1058.8" cy="1221.2" r="9.0" fill="url(#ag)"/>
<circle cx="1172.9" cy="1216.7" r="9.0" fill="url(#ag)"/>
<circle cx="1171.4" cy="1225.8" r="9.0" fill="url(#ag)"/>
<circle cx="1290.6" cy="1034.2" r="9.0" fill="url(#ag)"/>
<circle cx="1190.2" cy="1050.9" r="9.0" fill="url(#ag)"/>
<circle cx="1196.3" cy="1047.9" r="9.0" fill="url(#ag)"/>
<circle cx="1330.1" cy="1040.3" r="9.0" fill="url(#ag)"/>
<circle cx="1323.2" cy="1048.6" r="9.0" fill="url(#ag)"/>
<circle cx="1378.7" cy="1072.2" r="9.0" fill="url(#ag)"/>
<circle cx="1381.8" cy="1079.8" r="9.0" fill="url(#ag)"/>
<circle cx="1222.1" cy="1094.3" r="9.0" fill="url(#ag)"/>
<circle cx="1298.2" cy="1081.3" r="9.0" fill="url(#ag)"/>
<circle cx="1308.0" cy="1088.2" r="9.0" fill="url(#ag)"/>
<circle cx="1327.1" cy="1078.3" r="9.0" fill="url(#ag)"/>
<circle cx="1350.6" cy="1095.0" r="9.0" fill="url(#ag)"/>
<circle cx="1237.3" cy="1122.4" r="9.0" fill="url(#ag)"/>
<circle cx="1246.5" cy="1127.0" r="9.0" fill="url(#ag)"/>
<circle cx="1299.7" cy="1123.2" r="9.0" fill="url(#ag)"/>
<circle cx="1311.8" cy="1120.9" r="9.0" fill="url(#ag)"/>
<circle cx="1196.3" cy="1136.1" r="9.0" fill="url(#ag)"/>
<circle cx="1189.4" cy="1146.0" r="9.0" fill="url(#ag)"/>
<circle cx="1380.3" cy="1134.6" r="9.0" fill="url(#ag)"/>
<circle cx="1381.8" cy="1143.7" r="9.0" fill="url(#ag)"/>
<circle cx="1225.2" cy="1165.7" r="9.0" fill="url(#ag)"/>
<circle cx="1233.5" cy="1165.7" r="9.0" fill="url(#ag)"/>
<circle cx="1213.0" cy="1181.7" r="9.0" fill="url(#ag)"/>
<circle cx="1290.6" cy="1160.4" r="9.0" fill="url(#ag)"/>
<circle cx="1299.7" cy="1158.9" r="9.0" fill="url(#ag)"/>
<circle cx="1286.8" cy="1174.9" r="9.0" fill="url(#ag)"/>
<circle cx="1333.1" cy="1168.8" r="9.0" fill="url(#ag)"/>
<circle cx="1272.3" cy="1190.8" r="9.0" fill="url(#ag)"/>
<circle cx="1279.9" cy="1199.2" r="9.0" fill="url(#ag)"/>
<circle cx="1325.5" cy="1190.8" r="9.0" fill="url(#ag)"/>
<circle cx="1333.1" cy="1199.2" r="9.0" fill="url(#ag)"/>
<circle cx="1223.7" cy="1215.1" r="9.0" fill="url(#ag)"/>
<circle cx="1252.5" cy="1216.7" r="9.0" fill="url(#ag)"/>
<circle cx="1260.9" cy="1222.7" r="9.0" fill="url(#ag)"/>
</g></g>
<rect x="960.1" y="803.9" width="430.2" height="430.7" fill="none" stroke="#cfcfcf" stroke-width="1.6"/>
<rect x="962.6" y="806.4" width="425.2" height="425.7" fill="none" stroke="#000" stroke-width="3.8"/>
<text x="1117.39" y="1298.60" font-size="38.20" textLength="20.73" lengthAdjust="spacingAndGlyphs" font-style="italic">T</text>
<text x="1137.60" y="1304.80" font-size="23.00" textLength="10.67" lengthAdjust="spacingAndGlyphs">s</text>
<text x="1154.19" y="1298.60" font-size="38.20" textLength="22.62" lengthAdjust="spacingAndGlyphs">=</text>
<text x="1185.57" y="1298.60" font-size="38.20" textLength="69.52" lengthAdjust="spacingAndGlyphs">1500</text>
<text x="1261.95" y="1298.60" font-size="38.20" textLength="27.61" lengthAdjust="spacingAndGlyphs">K</text>
<clipPath id="cp3"><rect x="1425.0" y="808.1" width="421.8" height="422.3"/></clipPath>
<rect x="1425.0" y="808.1" width="421.8" height="422.3" fill="#fcfdfc"/>
<g clip-path="url(#cp3)"><g filter="url(#soft)">
<path d="M1425 1245Q1428 1237 1433 1229M1450 1257Q1441 1243 1433 1229M1622 1243Q1626 1237 1631 1229M1656 1250Q1646 1239 1633 1228M1631 1229Q1631 1228 1633 1228M1761 1244Q1773 1237 1786 1233M1786 1233Q1788 1243 1790 1249M1793 1065Q1797 1069 1803 1068M1793 1065Q1790 1077 1786 1092M1786 1092Q1790 1095 1789 1099M1807 1086Q1804 1076 1803 1068M1807 1086Q1800 1091 1794 1100M1794 1100Q1792 1101 1789 1099M1522 955Q1534 963 1546 971M1522 955Q1526 946 1528 939M1528 939Q1540 939 1550 941M1550 941Q1551 957 1551 971M1546 971Q1548 972 1551 971M1404 825Q1415 824 1429 821M1418 800Q1423 812 1429 821M1494 953Q1498 956 1500 957M1494 953Q1495 943 1497 935M1522 955Q1519 955 1516 959M1528 939Q1527 937 1526 937M1516 959Q1507 957 1500 957M1526 937Q1510 936 1497 935M1467 925Q1481 927 1493 928M1467 925Q1476 910 1484 894M1484 894Q1491 906 1498 919M1493 928Q1494 924 1498 919M1464 926Q1463 929 1464 928M1464 926Q1464 926 1467 925M1494 953Q1482 955 1472 960M1472 960Q1472 958 1470 959M1470 959Q1467 945 1464 928M1497 935Q1494 930 1493 928M1862 1083Q1853 1086 1847 1086M1871 1103Q1860 1105 1846 1107M1846 1107Q1848 1096 1847 1086M1856 1058Q1846 1065 1837 1071M1837 1071Q1837 1073 1837 1074M1847 1086Q1843 1082 1837 1074M1786 1233Q1787 1232 1787 1228M1787 1228Q1770 1226 1755 1226M1755 1226Q1752 1233 1753 1239M1787 1228Q1786 1225 1789 1224M1789 1224Q1794 1221 1803 1217M1823 1245Q1822 1238 1821 1233M1803 1217Q1813 1227 1821 1233M1846 1107Q1844 1109 1843 1111M1820 1089Q1828 1083 1837 1074M1820 1089Q1823 1101 1829 1115M1829 1115Q1837 1113 1843 1111M1787 1047Q1782 1037 1773 1025M1787 1047Q1797 1042 1807 1034M1773 1025Q1786 1017 1797 1012M1807 1034Q1803 1022 1797 1012M1773 1025Q1769 1025 1764 1024M1764 1024Q1762 1014 1763 1001M1797 1012Q1800 1007 1800 1002M1800 1002Q1800 1002 1799 1000M1799 1000Q1781 1002 1763 1001M1812 1062Q1820 1061 1829 1063M1812 1062Q1811 1047 1809 1035M1809 1035Q1810 1034 1810 1035M1810 1035Q1821 1043 1831 1051M1831 1051Q1830 1055 1829 1063M1837 1071Q1833 1069 1829 1063M1807 1086Q1814 1088 1820 1089M1803 1068Q1807 1064 1812 1062M1793 1065Q1786 1062 1783 1060M1787 1047Q1785 1053 1783 1060M1807 1034Q1809 1035 1809 1035M1669 1240Q1665 1233 1661 1225M1633 1228Q1633 1229 1635 1227M1661 1225Q1649 1226 1635 1227M1661 1225Q1665 1219 1666 1209M1635 1227Q1640 1212 1648 1198M1666 1209Q1667 1208 1666 1207M1666 1207Q1656 1204 1648 1198M1666 1043Q1667 1051 1666 1061M1666 1043Q1675 1039 1681 1036M1681 1036Q1687 1045 1694 1053M1666 1061Q1674 1063 1682 1065M1694 1053Q1688 1059 1682 1065M1685 1020Q1686 1019 1685 1021M1685 1020Q1695 1024 1706 1029M1685 1021Q1681 1030 1681 1036M1697 1053Q1704 1047 1712 1042M1697 1053Q1697 1055 1694 1053M1712 1042Q1707 1037 1706 1029M1712 1042Q1716 1041 1718 1042M1733 1034Q1726 1025 1717 1013M1733 1034Q1735 1036 1733 1035M1717 1013Q1713 1022 1706 1029M1733 1035Q1724 1039 1718 1042M1697 1053Q1703 1064 1712 1075M1718 1042Q1720 1055 1725 1070M1712 1075Q1720 1073 1725 1070M1794 1100Q1798 1106 1801 1114M1829 1115Q1829 1114 1825 1118M1801 1114Q1815 1115 1825 1118M1682 1065Q1684 1075 1685 1087M1712 1075Q1707 1079 1706 1085M1706 1085Q1696 1086 1688 1088M1688 1088Q1685 1089 1685 1087M1694 1119Q1693 1122 1692 1122M1694 1119Q1690 1105 1688 1088M1685 1087Q1676 1089 1667 1094M1667 1094Q1680 1108 1692 1122M1685 1021Q1674 1016 1663 1012M1651 1035Q1649 1030 1648 1025M1651 1035Q1658 1039 1666 1043M1648 1025Q1654 1019 1663 1012M1746 1156Q1754 1151 1766 1150M1746 1156Q1743 1154 1739 1156M1766 1150Q1766 1141 1769 1132M1767 1129Q1768 1130 1769 1132M1767 1129Q1759 1130 1752 1128M1752 1128Q1743 1135 1734 1142M1739 1156Q1737 1151 1734 1142M1643 1191Q1644 1190 1644 1192M1643 1191Q1638 1180 1637 1171M1644 1192Q1655 1182 1668 1175M1637 1171Q1645 1167 1651 1163M1651 1163Q1659 1164 1671 1163M1671 1163Q1668 1170 1668 1175M1666 1207Q1670 1201 1678 1192M1644 1192Q1645 1196 1648 1198M1668 1175Q1674 1183 1678 1192M1404 990Q1415 999 1425 1004M1425 1004Q1429 1010 1429 1019M1429 1019Q1422 1023 1416 1026M1456 992Q1457 998 1456 1005M1456 992Q1452 991 1451 990M1456 1005Q1454 1015 1449 1021M1448 1021Q1449 1021 1449 1021M1448 1021Q1437 1019 1429 1019M1451 990Q1441 992 1431 996M1431 996Q1427 1002 1425 1004M1410 1043Q1421 1047 1435 1051M1435 1051Q1441 1037 1448 1021M1470 959Q1454 960 1441 959M1464 928Q1454 934 1448 938M1448 938Q1446 947 1441 959M1413 915Q1421 908 1431 904M1431 933Q1427 936 1419 937M1431 933Q1440 922 1446 914M1431 904Q1440 910 1446 914M1464 926Q1460 921 1454 916M1448 938Q1438 937 1431 933M1454 916Q1450 916 1446 914M1400 892Q1414 886 1424 878M1415 867Q1419 873 1424 878M1428 879Q1432 882 1433 886M1428 879Q1427 880 1424 878M1433 886Q1433 894 1431 904M1550 941Q1556 937 1557 936M1579 954Q1581 951 1580 952M1579 954Q1566 961 1552 971M1552 971Q1552 970 1551 971M1580 952Q1578 948 1576 942M1557 936Q1565 939 1576 942M1610 938Q1596 937 1580 937M1610 938Q1603 946 1599 957M1599 957Q1590 952 1580 952M1580 937Q1577 938 1576 942M1623 983Q1618 989 1613 993M1623 983Q1631 991 1640 997M1613 993Q1617 1002 1618 1007M1640 997Q1635 1003 1633 1008M1618 1007Q1626 1009 1633 1008M1613 993Q1607 991 1602 990M1589 1012Q1589 1006 1588 1000M1589 1012Q1598 1014 1611 1018M1611 1018Q1615 1011 1618 1007M1588 1000Q1595 994 1602 990M1623 983Q1624 978 1626 975M1603 964Q1599 969 1598 976M1603 964Q1610 966 1618 966M1626 975Q1623 971 1618 966M1598 976Q1600 983 1602 990M1651 1035Q1646 1043 1639 1053M1666 1061Q1657 1065 1651 1071M1646 1068Q1649 1069 1651 1071M1646 1068Q1643 1062 1640 1058M1640 1058Q1640 1057 1639 1053M1638 912Q1639 904 1638 893M1638 912Q1626 920 1613 927M1638 893Q1628 896 1617 896M1617 896Q1609 908 1603 918M1603 918Q1610 924 1613 927M1613 935Q1615 931 1613 927M1613 935Q1613 939 1610 938M1590 914Q1586 925 1580 937M1590 914Q1598 915 1603 918M1677 958Q1666 957 1657 954M1677 958Q1685 954 1690 954M1688 932Q1688 941 1691 952M1688 932Q1675 928 1666 928M1666 928Q1663 939 1657 954M1690 954Q1692 952 1691 952M1691 991Q1699 977 1704 967M1691 991Q1685 988 1679 987M1677 958Q1679 974 1679 987M1704 967Q1705 965 1704 967M1690 954Q1698 961 1704 967M1688 932Q1692 927 1697 920M1697 920Q1708 926 1716 936M1691 952Q1703 944 1716 936M1417 845Q1421 842 1423 842M1429 821Q1431 822 1429 821M1429 821Q1428 832 1423 842M1437 863Q1431 871 1428 879M1437 863Q1437 858 1437 852M1423 842Q1428 848 1437 852M1546 971Q1535 981 1528 986M1528 986Q1529 988 1527 986M1516 959Q1517 967 1517 973M1527 986Q1522 978 1517 973M1746 1156Q1751 1165 1754 1176M1766 1150Q1768 1151 1768 1152M1768 1152Q1768 1164 1770 1174M1770 1174Q1762 1173 1754 1176M1782 1183Q1790 1179 1796 1175M1782 1183Q1795 1198 1806 1211M1796 1175Q1806 1188 1817 1198M1806 1211Q1814 1206 1817 1198M1768 1152Q1786 1158 1804 1160M1804 1160Q1799 1169 1796 1175M1778 1184Q1775 1179 1770 1174M1778 1184Q1781 1184 1782 1183M1789 1224Q1779 1210 1769 1199M1803 1217Q1805 1215 1806 1211M1778 1184Q1773 1192 1769 1199M1821 1233Q1831 1227 1838 1219M1846 1249Q1841 1235 1838 1219M1761 1045Q1770 1052 1778 1061M1761 1045Q1752 1050 1744 1056M1744 1056Q1745 1056 1743 1058M1743 1058Q1755 1064 1769 1071M1769 1071Q1773 1066 1778 1061M1783 1060Q1780 1062 1778 1061M1764 1024Q1761 1027 1761 1026M1761 1026Q1760 1036 1761 1045M1744 1026Q1753 1024 1761 1026M1744 1026Q1738 1031 1733 1034M1733 1035Q1738 1047 1744 1056M1725 1070Q1731 1071 1734 1071M1734 1071Q1738 1063 1743 1058M1786 1092Q1778 1083 1768 1074M1768 1074Q1770 1072 1769 1071M1736 978Q1740 988 1746 995M1736 978Q1730 983 1720 986M1720 986Q1719 993 1714 1002M1738 1005Q1743 1000 1746 995M1738 1005Q1727 1006 1716 1004M1716 1004Q1717 1003 1714 1002M1758 976Q1760 984 1763 990M1758 976Q1749 978 1736 978M1736 978Q1738 980 1736 978M1763 990Q1761 993 1760 996M1760 996Q1752 994 1746 995M1697 1001Q1694 997 1691 991M1697 1001Q1706 1004 1714 1002M1704 967Q1711 977 1720 986M1744 1026Q1743 1017 1738 1005M1763 1001Q1762 997 1760 996M1717 1013Q1717 1010 1716 1004M1697 1001Q1692 1012 1685 1020M1799 1000Q1795 990 1792 984M1763 990Q1773 986 1780 979M1780 979Q1785 982 1792 984M1860 976Q1851 971 1838 969M1862 952Q1852 950 1846 951M1838 969Q1844 960 1846 951M1856 930Q1850 932 1844 934M1846 951Q1843 942 1844 934M1822 1029Q1816 1031 1810 1035M1822 1029Q1825 1017 1825 1005M1800 1002Q1809 1000 1819 998M1825 1005Q1820 1003 1819 998M1852 1037Q1847 1036 1840 1038M1856 1033Q1849 1024 1846 1011M1831 1031Q1835 1033 1840 1038M1831 1031Q1834 1020 1839 1011M1839 1011Q1841 1010 1846 1011M1831 1051Q1837 1043 1840 1038M1854 1002Q1850 1005 1846 1011M1822 1029Q1825 1029 1831 1031M1825 1005Q1833 1008 1839 1011M1854 1002Q1843 992 1829 982M1819 998Q1823 991 1829 982M1631 1229Q1624 1221 1619 1216M1643 1191Q1631 1195 1619 1197M1619 1216Q1617 1206 1619 1197M1637 1171Q1634 1169 1630 1166M1651 1163Q1649 1152 1644 1141M1630 1166Q1636 1155 1644 1141M1768 1074Q1761 1081 1758 1087M1734 1071Q1739 1079 1742 1086M1742 1086Q1751 1087 1758 1087M1789 1099Q1776 1104 1767 1106M1758 1087Q1764 1095 1767 1106M1714 1111Q1719 1114 1725 1117M1714 1111Q1713 1104 1711 1093M1711 1093Q1724 1093 1739 1092M1725 1117Q1728 1115 1732 1114M1732 1114Q1732 1110 1736 1108M1736 1108Q1738 1100 1739 1092M1706 1085Q1710 1088 1711 1093M1694 1119Q1703 1117 1714 1111M1742 1086Q1742 1090 1739 1092M1767 1129Q1767 1118 1766 1110M1752 1128Q1741 1121 1732 1114M1766 1110Q1749 1109 1736 1108M1766 1110Q1766 1108 1767 1106M1667 1094Q1666 1096 1666 1094M1692 1122Q1692 1124 1690 1127M1678 1125Q1684 1126 1690 1127M1678 1125Q1668 1115 1658 1109M1666 1094Q1660 1102 1658 1109M1651 1071Q1652 1074 1653 1078M1666 1094Q1660 1088 1653 1078M1674 989Q1663 975 1652 959M1674 989Q1667 993 1661 996M1661 996Q1655 994 1652 990M1652 990Q1648 979 1646 970M1646 970Q1647 963 1652 959M1679 987Q1675 988 1674 989M1663 1012Q1664 1006 1661 996M1648 1025Q1647 1023 1645 1024M1640 997Q1646 994 1652 990M1633 1008Q1640 1017 1645 1024M1626 975Q1638 972 1646 970M1408 984Q1416 983 1424 981M1424 981Q1430 977 1436 972M1413 963Q1420 959 1426 954M1436 972Q1435 967 1437 961M1437 961Q1429 956 1426 954M1431 996Q1428 990 1424 981M1451 990Q1443 982 1436 972M1419 937Q1422 947 1426 954M1441 959Q1438 961 1437 961M1597 1198Q1607 1198 1618 1196M1597 1198Q1595 1202 1592 1205M1619 1216Q1608 1217 1597 1221M1619 1197Q1618 1195 1618 1196M1592 1205Q1595 1214 1597 1221M1599 1238Q1598 1231 1595 1227M1595 1227Q1596 1222 1597 1221M1474 1054Q1468 1050 1459 1043M1474 1054Q1479 1042 1483 1030M1483 1029Q1482 1028 1483 1030M1483 1029Q1469 1029 1459 1030M1459 1030Q1460 1035 1459 1043M1444 1063Q1451 1055 1459 1043M1444 1063Q1444 1063 1444 1066M1444 1066Q1458 1068 1475 1069M1478 1064Q1479 1065 1475 1069M1478 1064Q1477 1057 1474 1054M1435 1051Q1437 1059 1444 1063M1449 1021Q1454 1026 1459 1030M1622 941Q1633 936 1641 930M1622 941Q1622 942 1626 947M1626 947Q1640 949 1654 955M1641 930Q1647 944 1654 955M1654 955Q1654 955 1654 955M1613 935Q1618 936 1622 941M1642 917Q1640 924 1641 930M1642 917Q1639 916 1638 912M1603 964Q1600 959 1599 957M1618 966Q1623 956 1626 947M1652 959Q1652 958 1654 955M1642 917Q1652 921 1664 924M1666 928Q1664 924 1664 924M1657 954Q1655 955 1654 955M1611 1019Q1623 1026 1632 1029M1611 1019Q1609 1029 1607 1039M1632 1029Q1628 1034 1622 1044M1607 1039Q1613 1042 1616 1044M1622 1044Q1619 1045 1616 1044M1611 1018Q1610 1019 1611 1019M1645 1024Q1639 1028 1632 1029M1639 1053Q1631 1049 1622 1044M1609 1074Q1608 1074 1606 1072M1609 1074Q1610 1069 1614 1065M1593 1043Q1598 1056 1606 1072M1593 1043Q1600 1040 1607 1039M1614 1065Q1615 1053 1616 1044M1614 1065Q1628 1063 1640 1058M1577 993Q1585 984 1589 976M1577 993Q1571 991 1564 989M1563 986Q1565 987 1564 989M1563 986Q1572 978 1580 971M1580 971Q1586 975 1589 976M1588 1000Q1583 995 1577 993M1598 976Q1595 976 1589 976M1528 986Q1533 994 1536 999M1552 971Q1558 978 1563 986M1536 999Q1549 1001 1558 999M1558 999Q1563 995 1564 989M1579 954Q1581 964 1580 971M1672 907Q1669 900 1663 890M1672 907Q1667 916 1664 924M1639 892Q1643 890 1645 889M1639 892Q1638 891 1638 893M1663 890Q1655 891 1645 889M1612 846Q1617 852 1626 858M1612 846Q1611 832 1614 820M1626 858Q1632 853 1638 850M1614 820Q1616 819 1614 820M1614 820Q1622 822 1626 824M1626 824Q1632 838 1638 850M1639 892Q1630 880 1622 869M1622 869Q1624 863 1626 858M1645 889Q1648 872 1651 856M1651 856Q1652 856 1650 852M1650 852Q1644 852 1638 850M1735 907Q1740 911 1748 912M1735 907Q1734 901 1737 892M1737 892Q1744 891 1749 886M1759 911Q1757 902 1755 889M1759 911Q1752 910 1748 912M1755 889Q1752 887 1749 886M1429 821Q1430 822 1429 821M1429 821Q1438 807 1448 790M1437 852Q1445 851 1449 847M1429 821Q1441 822 1452 823M1449 847Q1452 836 1452 823M1457 803Q1456 811 1452 822M1452 823Q1452 824 1452 822M1456 992Q1462 988 1471 980M1472 960Q1472 969 1473 977M1471 980Q1472 978 1473 977M1500 957Q1500 968 1498 981M1473 977Q1485 978 1498 981M1517 973Q1507 978 1499 982M1498 981Q1498 980 1499 982M1755 1226Q1753 1222 1752 1220M1769 1199Q1765 1199 1764 1201M1752 1220Q1756 1210 1764 1201M1666 1209Q1675 1213 1688 1218M1700 1191Q1690 1192 1678 1192M1700 1191Q1700 1193 1703 1197M1688 1218Q1696 1209 1703 1197M1690 1236Q1691 1232 1690 1230M1688 1218Q1690 1223 1690 1230M1788 1130Q1790 1130 1792 1127M1788 1130Q1796 1145 1804 1159M1792 1127Q1807 1135 1823 1146M1804 1159Q1808 1160 1809 1158M1809 1158Q1814 1153 1823 1146M1823 1146Q1821 1145 1823 1146M1769 1132Q1777 1130 1788 1130M1801 1114Q1797 1120 1792 1127M1804 1160Q1804 1161 1804 1159M1825 1118Q1824 1130 1825 1141M1825 1141Q1825 1142 1823 1146M1825 1196Q1821 1198 1817 1198M1825 1196Q1826 1189 1827 1183M1827 1183Q1818 1171 1809 1158M1758 976Q1759 969 1763 961M1780 979Q1776 972 1771 961M1763 961Q1769 960 1771 961M1838 969Q1837 969 1838 969M1827 926Q1820 933 1816 941M1827 926Q1834 928 1844 934M1816 941Q1827 956 1838 969M1792 984Q1797 973 1803 965M1829 982Q1828 981 1830 976M1803 965Q1817 969 1830 976M1830 976Q1832 973 1838 969M1597 1161Q1598 1170 1601 1175M1597 1161Q1608 1161 1622 1160M1601 1175Q1606 1176 1613 1177M1613 1177Q1619 1172 1625 1165M1625 1165Q1625 1161 1622 1160M1597 1198Q1595 1190 1593 1184M1618 1196Q1616 1186 1613 1177M1593 1184Q1595 1181 1601 1175M1630 1166Q1629 1164 1625 1165M1678 1125Q1667 1132 1658 1140M1690 1127Q1690 1133 1692 1139M1658 1140Q1667 1149 1673 1157M1692 1139Q1683 1146 1673 1157M1671 1163Q1673 1164 1672 1162M1700 1191Q1701 1182 1701 1177M1672 1162Q1685 1171 1701 1177M1645 1134Q1645 1137 1644 1141M1645 1134Q1654 1136 1658 1140M1672 1162Q1673 1159 1673 1157M1645 1134Q1643 1132 1641 1128M1658 1109Q1649 1115 1642 1119M1641 1128Q1640 1123 1642 1119M1478 1064Q1484 1063 1489 1061M1483 1030Q1487 1037 1492 1044M1492 1044Q1490 1054 1489 1061M1433 1229Q1435 1227 1434 1223M1458 1242Q1455 1234 1450 1228M1450 1228Q1444 1227 1434 1223M1412 1219Q1421 1220 1431 1217M1434 1223Q1433 1219 1431 1217M1411 1187Q1423 1195 1435 1207M1431 1217Q1432 1213 1435 1207M1411 1175Q1423 1180 1439 1182M1439 1182Q1439 1194 1436 1206M1435 1207Q1434 1206 1436 1206M1580 1228Q1573 1225 1564 1222M1580 1228Q1580 1234 1578 1244M1564 1222Q1561 1226 1559 1228M1559 1228Q1558 1239 1556 1246M1567 1204Q1566 1212 1564 1222M1567 1204Q1579 1204 1592 1205M1595 1227Q1587 1228 1580 1228M1567 1204Q1564 1199 1563 1198M1563 1198Q1557 1195 1548 1193M1534 1219Q1539 1204 1548 1193M1534 1219Q1547 1223 1559 1228M1461 1094Q1455 1100 1451 1106M1461 1094Q1453 1081 1443 1068M1451 1106Q1442 1098 1432 1092M1432 1092Q1435 1082 1439 1071M1439 1071Q1441 1071 1443 1068M1407 1068Q1423 1068 1439 1071M1406 1076Q1415 1085 1424 1095M1424 1095Q1426 1092 1432 1092M1444 1066Q1445 1066 1443 1068M1475 1069Q1475 1079 1477 1087M1461 1094Q1469 1092 1477 1088M1477 1087Q1478 1087 1477 1088M1459 1123Q1456 1116 1452 1112M1459 1123Q1469 1118 1481 1113M1452 1112Q1452 1107 1451 1106M1477 1088Q1479 1101 1481 1113M1427 1129Q1439 1120 1446 1114M1427 1129Q1421 1128 1411 1125M1446 1114Q1430 1114 1413 1111M1459 1123Q1460 1126 1459 1129M1452 1112Q1449 1112 1446 1114M1441 1141Q1450 1135 1459 1129M1441 1141Q1433 1136 1427 1129M1414 1158Q1425 1155 1437 1155M1441 1141Q1440 1149 1437 1155M1424 1095Q1419 1102 1413 1111M1843 795Q1849 800 1852 805M1868 892Q1860 886 1852 882M1852 882Q1854 870 1853 858M1877 826Q1858 827 1843 827M1852 805Q1845 817 1839 825M1839 825Q1840 825 1843 827M1843 827Q1849 834 1854 843M1852 857Q1851 857 1851 856M1851 856Q1851 850 1854 843M1713 839Q1701 837 1691 838M1713 839Q1717 830 1720 819M1720 819Q1714 815 1710 811M1710 811Q1700 816 1693 819M1691 838Q1688 832 1689 823M1689 823Q1693 822 1693 819M1740 816Q1745 809 1747 801M1740 816Q1729 817 1720 819M1710 811Q1708 800 1708 793M1693 819Q1690 805 1687 795M1710 890Q1703 888 1693 890M1710 890Q1711 898 1713 907M1693 890Q1693 901 1688 909M1713 907Q1704 914 1697 917M1697 917Q1694 915 1688 909M1728 913Q1731 911 1735 907M1728 913Q1719 908 1713 907M1718 880Q1713 885 1710 890M1718 880Q1727 886 1737 892M1697 920Q1697 919 1697 917M1728 913Q1729 924 1728 938M1716 936Q1723 935 1728 938M1672 907Q1679 910 1688 909M1706 866Q1713 871 1717 874M1706 866Q1708 852 1714 840M1717 874Q1725 868 1733 860M1714 840Q1722 846 1734 851M1734 851Q1732 855 1733 860M1718 880Q1719 876 1717 874M1749 886Q1749 879 1748 871M1748 871Q1741 864 1733 860M1740 816Q1741 818 1743 823M1743 823Q1745 831 1745 841M1745 841Q1740 848 1734 851M1713 839Q1713 839 1714 840M1620 869Q1607 864 1597 859M1620 869Q1609 876 1599 885M1597 859Q1591 867 1587 874M1587 874Q1587 879 1587 884M1599 885Q1592 886 1587 884M1612 846Q1603 851 1597 855M1597 855Q1596 857 1597 859M1622 869Q1620 870 1620 869M1617 896Q1609 890 1599 885M1684 880Q1686 870 1689 864M1684 880Q1676 883 1665 889M1665 889Q1665 877 1666 864M1666 864Q1675 862 1687 860M1687 860Q1687 863 1689 864M1693 890Q1690 886 1684 880M1706 866Q1696 865 1689 864M1663 890Q1662 888 1665 889M1651 856Q1657 862 1666 864M1685 846Q1671 844 1660 840M1685 846Q1685 852 1687 860M1660 840Q1654 847 1650 852M1685 846Q1689 841 1691 838M1561 816Q1552 821 1543 826M1561 816Q1562 807 1563 798M1543 826Q1539 813 1532 799M1604 802Q1608 811 1614 818M1614 818Q1626 803 1638 792M1585 803Q1583 818 1584 834M1584 834Q1598 828 1614 820M1614 820Q1615 819 1614 818M1661 802Q1665 805 1666 809M1666 812Q1662 818 1657 821M1666 812Q1667 809 1666 809M1639 794Q1644 807 1646 819M1646 819Q1651 820 1657 821M1682 793Q1672 803 1666 809M1660 840Q1658 831 1657 821M1689 823Q1678 819 1666 812M1626 824Q1637 821 1646 819M1804 843Q1804 849 1801 859M1804 843Q1816 844 1828 845M1801 859Q1810 866 1821 875M1821 875Q1826 864 1830 850M1828 845Q1830 848 1830 850M1822 880Q1836 870 1852 857M1822 880Q1822 877 1821 875M1851 856Q1841 853 1830 850M1835 826Q1835 825 1839 825M1835 826Q1832 836 1828 845M1745 841Q1754 844 1761 846M1748 871Q1755 866 1763 863M1761 846Q1763 854 1763 863M1755 889Q1763 886 1770 885M1770 885Q1770 875 1771 868M1763 863Q1768 864 1771 868M1770 885Q1775 891 1781 894M1788 865Q1787 863 1786 864M1788 865Q1788 874 1791 885M1791 885Q1785 888 1781 894M1771 868Q1779 865 1786 864M1506 998Q1506 996 1502 994M1506 998Q1505 1009 1506 1017M1502 994Q1494 996 1483 995M1506 1017Q1499 1018 1490 1020M1483 995Q1481 1002 1481 1010M1481 1010Q1486 1017 1490 1020M1527 986Q1515 992 1506 998M1499 982Q1502 990 1502 994M1536 999Q1533 1008 1529 1017M1519 1025Q1526 1023 1529 1017M1519 1025Q1514 1020 1506 1017M1471 980Q1478 989 1483 995M1456 1005Q1467 1007 1481 1010M1483 1029Q1485 1026 1490 1020M1752 1220Q1744 1219 1739 1218M1739 1218Q1731 1233 1723 1244M1690 1230Q1701 1221 1715 1215M1719 1245Q1716 1230 1715 1215M1703 1197Q1711 1199 1717 1204M1715 1215Q1715 1209 1717 1204M1743 1186Q1743 1189 1743 1189M1743 1186Q1741 1180 1735 1175M1743 1189Q1735 1195 1728 1204M1735 1175Q1729 1177 1726 1179M1726 1179Q1720 1190 1719 1204M1719 1204Q1723 1203 1728 1204M1754 1176Q1750 1182 1743 1186M1764 1201Q1755 1196 1743 1189M1739 1156Q1737 1159 1734 1161M1734 1161Q1734 1166 1735 1175M1739 1218Q1732 1213 1728 1204M1734 1161Q1724 1159 1710 1159M1710 1159Q1704 1167 1702 1176M1702 1176Q1715 1178 1726 1179M1701 1177Q1702 1175 1702 1176M1717 1204Q1717 1203 1719 1204M1838 1218Q1848 1222 1861 1226M1838 1218Q1839 1209 1836 1202M1836 1202Q1848 1198 1856 1196M1838 1219Q1840 1220 1838 1218M1825 1196Q1830 1200 1836 1202M1843 1111Q1849 1120 1858 1128M1825 1141Q1835 1139 1848 1140M1848 1140Q1854 1134 1858 1128M1842 1170Q1836 1162 1828 1151M1842 1170Q1851 1171 1860 1170M1828 1151Q1843 1154 1855 1154M1827 1183Q1836 1176 1842 1170M1823 1146Q1824 1150 1828 1151M1848 1140Q1852 1146 1855 1154M1759 911Q1766 915 1770 918M1781 894Q1779 900 1781 903M1781 903Q1774 910 1770 918M1756 956Q1761 940 1765 928M1756 956Q1744 957 1735 954M1765 928Q1752 929 1743 934M1743 934Q1739 938 1731 941M1731 941Q1732 946 1733 953M1735 954Q1733 954 1733 953M1736 978Q1737 967 1735 954M1763 961Q1761 957 1756 956M1748 912Q1744 921 1743 934M1770 918Q1770 920 1771 923M1771 923Q1770 926 1765 928M1728 938Q1728 938 1731 941M1704 967Q1720 959 1733 953M1812 943Q1808 954 1802 962M1812 943Q1799 936 1787 932M1802 962Q1793 956 1780 953M1780 953Q1779 941 1782 933M1787 932Q1786 934 1782 933M1816 941Q1812 940 1812 943M1803 965Q1803 962 1802 962M1771 961Q1774 957 1780 953M1771 923Q1776 928 1782 933M1781 903Q1795 906 1807 911M1807 911Q1795 921 1787 932M1581 1154Q1564 1157 1551 1163M1581 1154Q1578 1166 1577 1180M1551 1163Q1564 1171 1574 1182M1577 1180Q1577 1183 1574 1182M1593 1184Q1586 1182 1577 1180M1597 1161Q1592 1154 1585 1148M1585 1148Q1583 1150 1581 1154M1563 1198Q1568 1192 1574 1182M1694 1139Q1702 1145 1708 1154M1694 1139Q1710 1133 1725 1129M1708 1154Q1717 1145 1726 1134M1725 1129Q1724 1134 1726 1134M1710 1159Q1709 1156 1708 1154M1692 1139Q1694 1139 1694 1139M1725 1117Q1726 1125 1725 1129M1734 1142Q1729 1139 1726 1134M1619 1144Q1625 1138 1629 1133M1619 1144Q1603 1141 1591 1140M1629 1133Q1617 1126 1602 1119M1591 1140Q1595 1131 1597 1123M1602 1119Q1600 1122 1597 1123M1622 1160Q1620 1152 1619 1144M1641 1128Q1637 1132 1629 1133M1585 1148Q1585 1148 1585 1145M1585 1145Q1588 1144 1591 1140M1634 1096Q1635 1103 1634 1110M1634 1096Q1628 1090 1621 1081M1634 1110Q1621 1109 1609 1107M1609 1107Q1608 1097 1603 1089M1603 1089Q1606 1085 1610 1080M1610 1080Q1616 1079 1621 1081M1653 1078Q1644 1088 1634 1096M1642 1119Q1636 1115 1634 1110M1646 1068Q1632 1073 1621 1081M1602 1119Q1604 1114 1609 1107M1595 1090Q1587 1099 1580 1108M1595 1090Q1599 1091 1603 1089M1580 1108Q1589 1115 1597 1123M1609 1074Q1608 1078 1610 1080M1606 1072Q1595 1067 1580 1063M1595 1090Q1587 1085 1582 1083M1582 1083Q1581 1074 1580 1063M1489 1061Q1496 1065 1504 1065M1477 1087Q1493 1090 1505 1091M1504 1065Q1505 1076 1505 1091M1509 1110Q1509 1104 1510 1096M1509 1110Q1503 1113 1493 1118M1493 1118Q1487 1114 1481 1113M1505 1091Q1505 1094 1510 1096M1582 1083Q1571 1087 1558 1092M1580 1063Q1574 1057 1573 1053M1573 1053Q1562 1064 1549 1072M1549 1072Q1550 1077 1552 1081M1552 1081Q1555 1086 1558 1092M1477 1236Q1476 1233 1477 1229M1450 1228Q1460 1221 1470 1217M1477 1229Q1474 1224 1470 1217M1436 1206Q1449 1206 1463 1202M1470 1217Q1472 1216 1470 1212M1463 1202Q1468 1207 1470 1212M1462 1165Q1464 1174 1469 1181M1462 1165Q1455 1163 1447 1160M1440 1181Q1453 1180 1467 1182M1440 1181Q1442 1170 1441 1159M1467 1182Q1470 1183 1469 1181M1447 1160Q1444 1161 1441 1159M1475 1144Q1467 1155 1462 1165M1475 1144Q1470 1140 1467 1137M1467 1137Q1458 1149 1447 1160M1439 1182Q1438 1183 1440 1181M1463 1202Q1465 1192 1467 1182M1437 1155Q1440 1156 1441 1159M1467 1137Q1461 1132 1459 1129M1517 1119Q1513 1116 1509 1110M1517 1119Q1517 1123 1520 1128M1520 1128Q1516 1134 1513 1144M1493 1118Q1492 1126 1490 1137M1513 1144Q1502 1141 1490 1137M1475 1144Q1476 1146 1480 1144M1490 1137Q1485 1141 1480 1144M1485 1180Q1479 1181 1469 1181M1485 1180Q1487 1167 1487 1156M1480 1144Q1485 1151 1487 1156M1534 1219Q1530 1219 1530 1220M1530 1220Q1528 1230 1524 1242M1477 1229Q1487 1222 1501 1218M1504 1238Q1504 1230 1501 1218M1549 1163Q1550 1162 1551 1163M1549 1163Q1546 1165 1545 1165M1548 1193Q1544 1191 1541 1186M1545 1165Q1542 1174 1541 1186M1513 1144Q1516 1148 1517 1155M1487 1156Q1502 1156 1514 1159M1514 1159Q1514 1159 1517 1155M1486 1180Q1487 1178 1485 1180M1486 1180Q1499 1176 1510 1175M1514 1159Q1513 1169 1510 1175M1835 884Q1830 884 1823 882M1835 884Q1841 895 1845 906M1823 882Q1820 886 1817 889M1817 889Q1816 900 1815 909M1815 909Q1821 916 1826 922M1845 906Q1834 915 1826 922M1852 882Q1842 883 1835 884M1822 880Q1822 879 1823 882M1864 905Q1856 905 1845 906M1788 865Q1793 863 1801 859M1791 885Q1803 886 1817 889M1807 911Q1809 908 1815 909M1827 926Q1827 923 1826 922M1492 1044Q1506 1042 1519 1041M1504 1065Q1513 1058 1521 1054M1519 1041Q1520 1047 1521 1054M1519 1025Q1521 1030 1521 1033M1519 1041Q1521 1039 1521 1033M1516 1093Q1513 1096 1510 1096M1516 1093Q1524 1078 1536 1067M1521 1054Q1529 1059 1536 1067M1549 1072Q1545 1068 1539 1067M1516 1093Q1522 1095 1528 1096M1528 1096Q1540 1090 1552 1081M1539 1067Q1537 1066 1536 1067M1561 1018Q1561 1017 1558 1019M1561 1018Q1567 1025 1574 1029M1558 1019Q1550 1030 1543 1036M1574 1029Q1576 1037 1577 1042M1548 1042Q1546 1041 1543 1036M1548 1042Q1561 1041 1575 1044M1577 1042Q1575 1044 1575 1044M1558 999Q1561 1009 1561 1018M1529 1017Q1544 1018 1558 1019M1589 1012Q1582 1021 1574 1029M1521 1033Q1531 1035 1543 1036M1593 1043Q1586 1044 1577 1042M1539 1067Q1543 1054 1548 1042M1573 1053Q1573 1048 1575 1044M1575 845Q1566 842 1559 843M1575 845Q1577 841 1583 836M1559 843Q1560 830 1564 819M1564 819Q1573 827 1583 834M1583 836Q1585 836 1583 834M1597 855Q1589 846 1583 836M1587 874Q1580 866 1572 859M1572 859Q1572 853 1575 845M1561 816Q1564 818 1564 819M1584 834Q1583 835 1583 834M1543 826Q1539 831 1535 837M1559 843Q1554 844 1547 847M1547 847Q1542 844 1535 837M1514 811Q1522 825 1532 838M1514 811Q1516 806 1518 802M1535 837Q1535 837 1532 838M1486 809Q1484 815 1480 823M1486 809Q1499 812 1511 812M1480 823Q1491 827 1501 830M1511 812Q1508 822 1501 830M1481 796Q1482 802 1486 809M1452 822Q1464 826 1474 829M1474 829Q1476 825 1480 823M1514 811Q1514 810 1511 812M1505 846Q1502 840 1501 830M1505 846Q1514 844 1523 846M1523 846Q1528 840 1532 838M1557 936Q1555 928 1557 922M1590 914Q1588 913 1586 909M1557 922Q1560 919 1560 917M1560 917Q1572 914 1586 909M1587 884Q1584 887 1584 888M1584 888Q1585 897 1586 909M1526 937Q1527 934 1526 928M1557 922Q1545 918 1533 911M1533 911Q1528 918 1526 928M1498 919Q1503 920 1505 916M1526 928Q1516 922 1505 916M1474 829Q1476 835 1476 840M1505 846Q1500 848 1494 854M1476 840Q1484 847 1494 854M1449 847Q1455 850 1461 855M1476 840Q1468 850 1461 855M1512 873Q1502 868 1493 861M1512 873Q1519 867 1525 865M1525 865Q1524 854 1523 846M1494 854Q1494 858 1493 861M1823 797Q1821 802 1819 804M1789 791Q1798 800 1803 805M1803 805Q1811 806 1819 804M1835 826Q1829 823 1823 818M1823 818Q1821 812 1819 804M1804 843Q1803 838 1799 834M1823 818Q1810 825 1799 834M1766 825Q1767 835 1768 842M1766 825Q1773 819 1775 812M1775 812Q1781 820 1791 826M1768 842Q1772 842 1778 841M1778 841Q1785 837 1793 830M1793 830Q1790 827 1791 826M1743 823Q1756 825 1766 825M1761 846Q1763 843 1768 842M1772 803Q1774 808 1775 812M1803 805Q1796 817 1791 826M1786 864Q1783 851 1778 841M1799 834Q1798 833 1793 830M1562 1109Q1565 1118 1564 1131M1562 1109Q1559 1107 1558 1105M1558 1105Q1553 1106 1544 1109M1564 1131Q1559 1133 1555 1136M1543 1110Q1544 1108 1544 1109M1543 1110Q1540 1121 1539 1133M1555 1136Q1547 1136 1540 1135M1539 1133Q1541 1136 1540 1135M1585 1145Q1575 1139 1564 1131M1580 1108Q1573 1108 1562 1109M1558 1092Q1560 1100 1558 1105M1528 1096Q1537 1103 1544 1109M1549 1163Q1553 1150 1555 1136M1517 1119Q1532 1115 1543 1110M1520 1128Q1527 1130 1539 1133M1545 1165Q1540 1162 1533 1157M1533 1157Q1535 1146 1540 1135M1533 1157Q1523 1155 1517 1155M1530 1220Q1524 1216 1519 1212M1541 1186Q1537 1187 1532 1187M1519 1212Q1524 1201 1532 1187M1510 1175Q1511 1180 1514 1181M1514 1181Q1522 1182 1532 1187M1501 1217Q1506 1216 1512 1211M1501 1217Q1494 1210 1488 1205M1490 1194Q1491 1198 1488 1205M1490 1194Q1500 1197 1509 1198M1509 1198Q1509 1205 1512 1211M1501 1218Q1501 1217 1501 1217M1519 1212Q1514 1212 1512 1211M1470 1212Q1480 1210 1488 1205M1486 1180Q1487 1188 1490 1194M1514 1181Q1512 1188 1509 1198M1537 875Q1545 868 1551 861M1537 875Q1536 884 1538 890M1538 890Q1545 891 1555 892M1558 863Q1553 862 1551 861M1558 863Q1561 876 1565 887M1565 887Q1561 890 1555 892M1525 865Q1531 868 1537 875M1547 847Q1549 854 1551 861M1560 917Q1557 904 1555 892M1530 897Q1533 903 1533 911M1530 897Q1534 895 1538 890M1572 859Q1563 861 1558 863M1584 888Q1574 889 1565 887M1505 916Q1517 905 1528 897M1505 916Q1504 904 1504 891M1528 897Q1522 893 1513 889M1504 891Q1509 888 1513 889M1530 897Q1530 896 1528 897M1505 916Q1504 916 1505 916M1512 873Q1514 881 1513 889M1460 865Q1461 875 1460 884M1460 865Q1462 865 1461 862M1461 862Q1476 864 1490 866M1462 886Q1461 886 1460 884M1462 886Q1473 888 1484 890M1490 866Q1486 879 1484 889M1484 890Q1483 888 1484 889M1437 863Q1448 865 1460 865M1433 886Q1447 886 1460 884M1461 855Q1460 860 1461 862M1493 861Q1493 864 1490 866M1454 916Q1459 902 1462 886M1484 894Q1484 892 1484 890M1504 891Q1492 890 1484 889" fill="none" stroke="#454a44" stroke-width="1.0" stroke-opacity="0.85"/>
<path d="M1432 1097Q1428 1103 1426 1112M1432 1097Q1426 1090 1416 1078M1413 1114Q1422 1114 1426 1112M1432 1097Q1442 1092 1451 1087M1451 1087Q1456 1087 1462 1087M1462 1087Q1466 1098 1470 1105M1470 1105Q1450 1113 1432 1117M1432 1117Q1428 1115 1426 1112M1451 1087Q1445 1078 1440 1072M1416 1078Q1420 1071 1423 1062M1423 1062Q1426 1059 1426 1060M1440 1072Q1433 1065 1426 1060M1417 1030Q1421 1023 1420 1019M1420 1019Q1346 1006 1277 997M1423 1062Q1398 1054 1376 1046M1430 1052Q1428 1056 1426 1060M1430 1052Q1424 1039 1417 1030M1415 992Q1419 996 1423 999M1424 1014Q1425 1006 1423 999M1424 1014Q1421 1018 1420 1019M1830 788Q1836 798 1842 812M1868 810Q1855 812 1842 812M1846 1210Q1843 1211 1836 1212M1846 1210Q1847 1202 1845 1190M1815 1205Q1827 1210 1836 1212M1815 1205Q1814 1198 1814 1189M1845 1190Q1840 1186 1834 1183M1814 1189Q1824 1188 1834 1183M1807 1254Q1804 1243 1804 1229M1831 1242Q1827 1234 1819 1229M1819 1229Q1811 1227 1804 1229M1815 1205Q1808 1213 1801 1217M1836 1212Q1826 1222 1819 1229M1804 1229Q1805 1229 1803 1228M1801 1217Q1803 1222 1803 1228M1773 1256Q1778 1245 1782 1235M1803 1228Q1791 1233 1782 1235M1846 1210Q1848 1212 1852 1216M1845 1190Q1853 1183 1862 1176M1831 1172Q1834 1178 1834 1183M1831 1172Q1835 1163 1844 1151M1844 1151Q1852 1158 1862 1168M1838 1111Q1836 1106 1838 1102M1838 1111Q1825 1118 1811 1122M1803 1115Q1808 1120 1811 1122M1803 1115Q1805 1104 1812 1090M1812 1090Q1812 1092 1812 1089M1812 1089Q1824 1091 1833 1090M1833 1090Q1833 1096 1838 1102M1428 1243Q1424 1241 1418 1235M1462 1087Q1465 1083 1466 1079M1440 1072Q1447 1067 1455 1059M1455 1059Q1463 1069 1466 1079M1440 993Q1432 997 1423 999M1440 993Q1446 992 1450 986M1450 986Q1454 981 1455 972M1419 975Q1422 973 1424 966M1424 966Q1435 968 1445 965M1445 965Q1451 970 1455 972M1842 812Q1840 815 1839 818M1839 818Q1848 824 1858 832M1832 879Q1826 878 1825 874M1832 879Q1838 877 1840 877M1840 877Q1848 866 1855 853M1825 874Q1823 869 1821 869M1821 869Q1820 858 1818 846M1818 846Q1820 841 1824 837M1849 846Q1854 847 1855 853M1849 846Q1839 840 1826 836M1826 836Q1825 834 1824 837M1853 913Q1851 912 1850 914M1865 887Q1852 882 1840 877M1850 914Q1839 903 1831 897M1831 897Q1831 887 1832 879M1790 872Q1804 870 1821 869M1790 872Q1789 864 1787 851M1787 851Q1793 847 1796 846M1796 846Q1806 844 1818 846M1858 832Q1852 837 1849 846M1839 818Q1834 829 1826 836M1829 788Q1818 802 1808 815M1808 815Q1815 826 1824 837M1790 872Q1788 874 1787 879M1825 874Q1810 882 1796 894M1787 879Q1789 886 1796 894M1749 1223Q1749 1222 1748 1223M1749 1223Q1748 1211 1753 1195M1748 1192Q1752 1193 1753 1195M1748 1192Q1740 1200 1728 1209M1748 1223Q1736 1214 1728 1209M1842 1062Q1842 1064 1843 1065M1842 1062Q1829 1062 1815 1057M1812 1089Q1809 1080 1804 1067M1843 1065Q1839 1077 1833 1090M1815 1057Q1811 1064 1804 1067M1847 1237Q1851 1232 1853 1228M1842 1116Q1853 1113 1867 1112M1842 1116Q1842 1128 1847 1135M1847 1135Q1863 1135 1879 1136M1838 1111Q1840 1115 1842 1116M1838 1102Q1850 1097 1863 1094M1842 1143Q1847 1137 1847 1135M1842 1143Q1844 1146 1844 1151M1843 1065Q1849 1065 1854 1065M1842 1062Q1840 1045 1841 1033M1841 1033Q1859 1035 1879 1041M1414 951Q1428 946 1438 940M1413 923Q1420 928 1429 930M1438 940Q1434 937 1429 930M1424 966Q1419 957 1414 951M1445 965Q1442 952 1444 941M1444 941Q1443 940 1438 940M1645 1013Q1635 1014 1621 1012M1645 1013Q1646 1000 1644 987M1621 1012Q1619 1003 1615 996M1644 987Q1630 989 1621 992M1615 996Q1620 996 1621 992M1594 1022Q1606 1028 1617 1032M1594 1022Q1593 1015 1587 1012M1617 1032Q1620 1024 1621 1012M1599 994Q1609 994 1615 996M1599 994Q1596 1003 1590 1007M1587 1012Q1590 1010 1590 1007M1564 1033Q1567 1026 1568 1017M1564 1033Q1549 1036 1536 1043M1536 1043Q1532 1036 1533 1032M1533 1032Q1542 1019 1555 1006M1568 1017Q1562 1014 1555 1006M1497 969Q1504 979 1514 986M1497 969Q1506 963 1513 961M1514 986Q1522 986 1525 983M1513 961Q1521 970 1525 983M1432 1117Q1434 1120 1437 1127M1417 1147Q1419 1146 1424 1148M1424 1148Q1433 1139 1437 1127M1483 1236Q1482 1237 1481 1234M1481 1234Q1471 1236 1457 1237M1434 1244Q1444 1238 1452 1234M1418 1218Q1432 1218 1447 1217M1447 1217Q1448 1226 1452 1234M1452 1234Q1456 1235 1457 1237M1432 801Q1422 806 1415 806M1419 907Q1426 907 1433 904M1429 930Q1437 921 1442 916M1433 904Q1436 909 1442 916M1778 826Q1785 826 1791 827M1778 826Q1785 815 1790 803M1791 827Q1793 821 1800 813M1790 803Q1795 808 1800 813M1796 846Q1794 837 1791 827M1808 815Q1805 814 1800 813M1850 914Q1849 913 1850 915M1862 938Q1858 927 1850 915M1827 900Q1826 912 1821 921M1827 900Q1814 903 1799 904M1821 921Q1809 926 1800 927M1799 904Q1799 913 1795 922M1795 922Q1796 924 1800 927M1831 897Q1829 900 1827 900M1850 915Q1843 922 1837 930M1837 930Q1830 924 1821 921M1796 895Q1794 897 1796 894M1796 895Q1796 898 1799 904M1748 1223Q1729 1225 1714 1229M1728 1209Q1724 1209 1715 1207M1715 1207Q1713 1215 1714 1228M1714 1229Q1716 1227 1714 1228M1759 1193Q1763 1184 1768 1180M1759 1193Q1770 1200 1779 1205M1768 1180Q1783 1183 1796 1181M1788 1203Q1782 1206 1779 1205M1788 1203Q1794 1193 1796 1181M1796 1181Q1799 1179 1796 1181M1750 1224Q1761 1224 1771 1222M1750 1224Q1750 1225 1749 1223M1753 1195Q1758 1192 1759 1193M1771 1222Q1773 1213 1779 1205M1801 1217Q1794 1208 1788 1203M1782 1235Q1775 1228 1771 1222M1814 1189Q1807 1184 1796 1181M1799 1164Q1794 1160 1784 1157M1799 1164Q1801 1162 1808 1157M1808 1157Q1813 1149 1813 1145M1775 1135Q1791 1138 1812 1141M1775 1135Q1779 1145 1784 1157M1813 1145Q1811 1141 1812 1141M1765 1165Q1764 1173 1768 1180M1765 1165Q1773 1163 1784 1157M1796 1181Q1796 1175 1799 1164M1831 1172Q1822 1163 1808 1157M1842 1143Q1828 1142 1813 1145M1803 1115Q1795 1116 1790 1114M1811 1122Q1814 1131 1812 1141M1775 1133Q1784 1123 1790 1114M1775 1133Q1776 1132 1775 1135M1754 1139Q1739 1135 1724 1128M1754 1139Q1757 1135 1759 1132M1759 1132Q1756 1127 1757 1124M1724 1128Q1726 1118 1732 1111M1757 1124Q1746 1119 1732 1111M1775 1133Q1769 1135 1759 1132M1790 1114Q1781 1102 1776 1092M1757 1124Q1759 1114 1761 1106M1761 1106Q1767 1100 1773 1092M1773 1092Q1776 1092 1776 1092M1812 1090Q1792 1093 1777 1091M1804 1067Q1796 1067 1792 1067M1792 1067Q1783 1079 1777 1091M1777 1091Q1775 1092 1776 1092M1787 879Q1777 880 1763 881M1796 895Q1778 898 1764 900M1764 900Q1762 902 1763 899M1763 899Q1766 887 1763 881M1761 989Q1752 989 1749 991M1761 989Q1765 978 1764 963M1749 991Q1739 990 1732 985M1732 985Q1734 987 1732 985M1732 985Q1733 972 1739 956M1739 956Q1752 958 1764 963M1773 994Q1780 990 1783 988M1773 994Q1768 992 1761 989M1781 959Q1778 958 1773 957M1781 959Q1784 966 1786 971M1783 988Q1784 977 1786 971M1764 963Q1767 962 1773 957M1696 1013Q1697 1006 1699 998M1696 1013Q1686 1011 1673 1012M1699 998Q1689 990 1682 980M1673 1012Q1671 1003 1667 990M1667 990Q1672 984 1682 980M1732 985Q1729 1003 1722 1021M1732 985Q1729 984 1729 985M1722 1021Q1710 1019 1699 1016M1699 1016Q1699 1017 1696 1013M1729 985Q1716 986 1706 992M1706 992Q1700 998 1699 998M1648 982Q1649 981 1648 977M1648 982Q1659 986 1667 990M1688 964Q1685 972 1682 980M1688 964Q1673 964 1661 966M1648 977Q1652 970 1661 966M1841 1033Q1839 1027 1838 1025M1865 1016Q1849 1018 1838 1024M1838 1025Q1837 1026 1838 1024M1815 1057Q1815 1053 1812 1045M1838 1025Q1824 1036 1812 1045M1416 1215Q1418 1201 1423 1184M1423 1184Q1420 1184 1412 1181M1436 1167Q1433 1163 1434 1161M1436 1167Q1436 1176 1433 1181M1433 1181Q1428 1184 1423 1184M1424 1148Q1427 1154 1434 1161M1470 1105Q1470 1106 1470 1105M1497 1074Q1496 1072 1497 1073M1497 1074Q1495 1086 1491 1099M1470 1105Q1476 1103 1478 1103M1466 1079Q1472 1072 1480 1069M1491 1099Q1486 1101 1478 1103M1497 1073Q1489 1070 1480 1069M1440 993Q1444 1004 1450 1016M1450 986Q1455 998 1465 1011M1465 1011Q1455 1016 1450 1016M1424 1014Q1436 1015 1443 1021M1450 1016Q1448 1017 1443 1021M1430 1052Q1439 1049 1448 1044M1443 1021Q1443 1030 1448 1044M1455 1059Q1455 1054 1451 1045M1480 1069Q1480 1064 1479 1054M1479 1054Q1470 1049 1464 1042M1464 1042Q1457 1041 1451 1045M1448 1044Q1451 1042 1451 1045M1504 999Q1504 1007 1504 1015M1504 999Q1494 988 1487 977M1496 1020Q1486 1019 1478 1016M1496 1020Q1502 1020 1504 1015M1480 980Q1482 979 1487 977M1480 980Q1475 998 1476 1014M1476 1014Q1476 1015 1478 1016M1497 969Q1495 971 1493 970M1493 970Q1489 974 1487 977M1514 986Q1507 991 1504 999M1455 972Q1455 971 1457 972M1457 972Q1466 978 1480 980M1465 1011Q1472 1011 1476 1014M1464 1042Q1470 1028 1478 1016M1485 1138Q1480 1123 1470 1113M1485 1138Q1486 1138 1485 1138M1485 1138Q1474 1141 1466 1148M1470 1113Q1461 1122 1449 1132M1466 1148Q1458 1144 1454 1142M1449 1132Q1452 1135 1454 1142M1470 1105Q1472 1109 1470 1113M1507 1123Q1507 1125 1507 1123M1507 1123Q1494 1132 1485 1138M1478 1103Q1491 1113 1507 1123M1437 1127Q1441 1130 1449 1132M1436 1167Q1451 1164 1464 1160M1464 1160Q1464 1153 1466 1148M1434 1161Q1445 1149 1454 1142M1507 1123Q1516 1129 1521 1138M1521 1138Q1521 1144 1523 1152M1523 1152Q1510 1154 1500 1157M1485 1138Q1486 1144 1490 1146M1500 1157Q1495 1152 1490 1146M1464 1160Q1469 1167 1472 1175M1490 1146Q1480 1163 1472 1175M1518 1226Q1503 1232 1490 1243M1518 1226Q1519 1229 1522 1237M1479 802Q1476 810 1470 822M1461 790Q1453 796 1443 806M1470 822Q1467 826 1466 825M1466 825Q1455 822 1448 816M1448 816Q1444 812 1443 806M1432 801Q1438 804 1443 806M1623 879Q1630 878 1639 878M1623 879Q1621 866 1623 855M1623 855Q1635 861 1648 863M1639 878Q1643 869 1648 863M1681 862Q1678 866 1679 868M1681 862Q1671 850 1661 843M1649 862Q1657 853 1660 843M1649 862Q1658 874 1667 882M1667 882Q1673 875 1679 868M1661 843Q1659 842 1660 843M1726 801Q1721 805 1720 808M1732 800Q1744 811 1752 819M1720 808Q1717 816 1716 823M1716 823Q1722 828 1724 831M1724 831Q1739 825 1752 819M1458 849Q1454 864 1453 874M1458 849Q1446 845 1432 844M1428 854Q1432 848 1431 844M1428 854Q1434 866 1436 875M1453 874Q1444 874 1438 876M1431 844Q1429 844 1432 844M1436 875Q1439 877 1438 876M1470 842Q1462 847 1458 849M1470 842Q1467 835 1466 825M1448 816Q1441 828 1432 844M1396 865Q1414 859 1428 854M1411 829Q1420 836 1431 844M1412 882Q1424 877 1436 875M1433 904Q1434 903 1437 899M1437 899Q1437 889 1438 876M1470 842Q1476 848 1482 850M1482 850Q1486 856 1486 864M1453 874Q1462 877 1471 883M1486 864Q1476 875 1471 883M1750 1224Q1752 1238 1750 1251M1714 1229Q1713 1234 1715 1241M1748 1192Q1743 1186 1738 1182M1765 1165Q1758 1164 1754 1158M1754 1158Q1744 1172 1738 1182M1754 1139Q1751 1144 1750 1148M1754 1158Q1753 1153 1750 1148M1715 1207Q1714 1202 1712 1201M1738 1182Q1735 1181 1729 1181M1729 1181Q1725 1184 1718 1189M1712 1201Q1716 1197 1718 1189M1761 1106Q1749 1104 1734 1097M1732 1111Q1729 1106 1729 1099M1734 1097Q1731 1099 1729 1099M1773 1092Q1763 1085 1755 1076M1734 1097Q1745 1086 1755 1076M1724 1128Q1721 1129 1716 1134M1750 1148Q1739 1150 1723 1153M1716 1134Q1720 1145 1723 1153M1729 1181Q1726 1172 1720 1158M1723 1153Q1722 1157 1720 1158M1728 898Q1733 887 1736 880M1728 898Q1719 895 1711 897M1711 897Q1707 894 1702 891M1707 868Q1706 877 1702 888M1707 868Q1718 869 1728 866M1702 891Q1704 892 1702 888M1728 866Q1732 871 1736 880M1736 907Q1734 900 1728 898M1736 907Q1747 905 1763 899M1760 876Q1761 877 1763 881M1760 876Q1747 878 1736 880M1707 923Q1711 911 1711 897M1707 923Q1712 925 1712 929M1736 929Q1723 928 1712 929M1736 929Q1734 918 1736 907M1707 923Q1695 921 1683 921M1680 901Q1679 909 1683 921M1680 901Q1688 894 1702 891M1700 856Q1702 863 1707 868M1700 856Q1690 859 1681 862M1679 868Q1693 877 1702 888M1700 856Q1699 855 1700 853M1700 853Q1712 849 1724 841M1724 841Q1728 849 1735 852M1735 852Q1729 860 1728 866M1667 882Q1669 891 1667 895M1680 901Q1673 900 1667 895M1744 933Q1756 938 1769 944M1744 933Q1755 926 1770 916M1769 944Q1777 931 1781 922M1770 916Q1775 919 1781 922M1740 933Q1739 941 1737 952M1740 933Q1742 932 1744 933M1739 956Q1739 952 1737 952M1773 957Q1771 950 1769 944M1764 900Q1767 907 1770 916M1736 929Q1740 931 1740 933M1795 922Q1789 924 1781 922M1649 862Q1647 861 1648 863M1667 895Q1666 895 1663 897M1639 878Q1642 886 1643 891M1643 891Q1653 896 1663 897M1700 970Q1709 971 1714 972M1700 970Q1694 967 1688 963M1689 953Q1688 958 1688 963M1689 953Q1697 948 1703 948M1714 972Q1717 961 1717 954M1703 948Q1708 952 1717 954M1729 985Q1723 977 1714 972M1706 992Q1703 979 1700 970M1688 964Q1689 962 1688 963M1661 966Q1659 959 1661 947M1688 951Q1673 947 1661 947M1688 951Q1686 953 1689 953M1712 929Q1709 939 1703 948M1683 921Q1683 923 1681 926M1688 951Q1684 939 1681 926M1737 952Q1724 952 1717 954M1805 1010Q1810 1012 1811 1017M1805 1010Q1794 1015 1783 1017M1811 1017Q1807 1028 1806 1039M1783 1017Q1786 1024 1785 1034M1806 1039Q1799 1037 1790 1038M1790 1038Q1790 1034 1785 1034M1808 993Q1813 990 1816 985M1808 993Q1808 1000 1805 1010M1837 1021Q1822 1020 1811 1017M1837 1021Q1836 1016 1837 1009M1837 1009Q1826 997 1816 985M1773 994Q1775 1001 1777 1012M1783 988Q1796 989 1808 993M1777 1012Q1779 1016 1783 1017M1837 1021Q1838 1023 1838 1024M1812 1045Q1809 1043 1806 1039M1792 1067Q1793 1067 1789 1063M1789 1063Q1788 1051 1790 1038M1837 1009Q1842 1001 1852 991M1498 1039Q1498 1037 1498 1039M1498 1039Q1517 1043 1535 1046M1498 1039Q1502 1049 1507 1061M1507 1061Q1523 1058 1535 1059M1535 1046Q1537 1054 1535 1059M1479 1054Q1487 1046 1498 1039M1496 1020Q1496 1028 1498 1039M1536 1043Q1536 1045 1535 1046M1533 1032Q1528 1023 1518 1016M1518 1016Q1509 1017 1504 1015M1497 1073Q1503 1068 1507 1061M1599 994Q1593 986 1591 974M1590 1007Q1576 997 1564 987M1591 974Q1583 975 1576 971M1576 971Q1570 981 1564 987M1587 1012Q1580 1012 1568 1017M1555 1006Q1551 1004 1551 998M1564 987Q1557 991 1551 998M1518 1016Q1528 1006 1540 993M1551 998Q1546 998 1540 993M1525 983Q1531 983 1536 986M1540 993Q1537 992 1536 986M1517 1218Q1517 1224 1518 1226M1517 1218Q1510 1215 1505 1211M1481 1234Q1482 1228 1486 1220M1505 1211Q1497 1215 1486 1220M1523 1152Q1529 1157 1534 1161M1500 1157Q1495 1169 1495 1180M1528 1181Q1530 1172 1534 1165M1528 1181Q1516 1182 1505 1188M1505 1188Q1502 1184 1495 1180M1534 1161Q1533 1162 1534 1165M1517 1218Q1532 1211 1543 1205M1528 1181Q1536 1190 1543 1203M1505 1188Q1507 1199 1505 1211M1543 1205Q1545 1204 1543 1203M1534 1165Q1545 1171 1558 1178M1543 1203Q1550 1189 1558 1178M1543 1205Q1547 1210 1552 1211M1545 1242Q1549 1229 1552 1211M1582 1129Q1587 1123 1591 1117M1582 1129Q1596 1135 1611 1145M1614 1118Q1613 1117 1610 1112M1614 1118Q1615 1129 1615 1138M1615 1138Q1616 1143 1613 1144M1611 1145Q1614 1147 1613 1144M1591 1117Q1600 1114 1610 1112M1541 1118Q1547 1112 1556 1106M1541 1118Q1527 1114 1515 1106M1557 1102Q1554 1105 1556 1106M1557 1102Q1542 1093 1529 1084M1515 1106Q1513 1104 1515 1106M1515 1106Q1516 1099 1519 1091M1519 1091Q1524 1090 1529 1084M1507 1123Q1512 1115 1515 1106M1521 1138Q1531 1130 1540 1124M1540 1124Q1541 1121 1541 1118M1491 1099Q1502 1104 1515 1106M1497 1074Q1509 1080 1519 1091M1536 1062Q1532 1075 1529 1084M1536 1062Q1538 1059 1535 1059M1589 1041Q1592 1044 1598 1051M1589 1041Q1578 1043 1571 1042M1598 1051Q1591 1056 1589 1066M1571 1042Q1571 1053 1569 1068M1589 1066Q1583 1066 1577 1069M1569 1068Q1575 1070 1577 1069M1594 1022Q1591 1030 1589 1041M1617 1032Q1619 1033 1618 1033M1618 1033Q1615 1040 1613 1048M1613 1048Q1604 1049 1598 1051M1564 1033Q1568 1040 1571 1042M1609 1083Q1600 1077 1589 1066M1609 1083Q1616 1071 1624 1064M1613 1048Q1621 1055 1624 1064M1536 1062Q1549 1067 1566 1070M1566 1070Q1566 1067 1569 1068M1661 799Q1646 801 1635 803M1633 777Q1633 788 1635 803M1623 855Q1618 850 1616 847M1636 829Q1650 838 1660 843M1636 829Q1632 827 1626 828M1626 828Q1623 837 1616 847M1479 802Q1488 805 1497 808M1497 808Q1502 806 1503 799M1470 822Q1486 820 1501 823M1497 808Q1498 813 1501 823M1668 807Q1672 818 1675 827M1668 807Q1683 800 1696 797M1698 802Q1696 814 1697 825M1675 827Q1684 830 1691 830M1691 830Q1696 828 1697 825M1636 829Q1649 812 1661 800M1661 800Q1663 802 1668 807M1661 843Q1668 836 1675 827M1720 808Q1708 803 1698 802M1716 823Q1706 826 1697 825M1700 853Q1693 841 1691 830M1724 841Q1722 838 1724 831M1760 858Q1767 853 1775 849M1760 858Q1752 854 1748 850M1748 850Q1752 834 1752 819M1775 849Q1772 840 1771 827M1771 827Q1766 824 1758 817M1758 817Q1755 817 1752 819M1787 851Q1783 850 1775 849M1760 876Q1758 866 1760 858M1735 852Q1743 848 1748 850M1752 819Q1753 818 1752 819M1778 826Q1773 827 1771 827M1773 792Q1764 804 1758 817M1437 899Q1448 900 1462 900M1471 883Q1471 889 1472 891M1462 900Q1465 893 1472 891M1486 864Q1490 866 1492 866M1505 893Q1505 885 1505 877M1505 893Q1501 902 1494 908M1492 866Q1500 873 1505 877M1472 891Q1481 901 1494 908M1648 1035Q1650 1035 1650 1041M1648 1035Q1649 1027 1653 1023M1650 1041Q1658 1050 1671 1054M1653 1023Q1658 1018 1668 1017M1668 1017Q1673 1032 1680 1044M1680 1044Q1675 1048 1671 1054M1618 1033Q1631 1032 1648 1035M1624 1064Q1627 1065 1636 1065M1636 1065Q1642 1052 1650 1041M1645 1013Q1648 1016 1653 1023M1644 987Q1645 985 1648 982M1673 1012Q1671 1017 1668 1017M1699 1016Q1696 1029 1693 1040M1693 1040Q1685 1042 1680 1044M1722 1021Q1726 1024 1726 1025M1693 1040Q1700 1048 1704 1051M1704 1051Q1714 1039 1726 1025M1789 1063Q1776 1061 1761 1055M1785 1034Q1775 1042 1764 1046M1761 1055Q1760 1052 1764 1046M1777 1012Q1767 1020 1753 1024M1764 1046Q1758 1034 1753 1024M1749 991Q1749 1005 1749 1022M1726 1025Q1726 1026 1730 1027M1730 1027Q1739 1023 1749 1022M1749 1022Q1751 1022 1753 1024M1718 1189Q1711 1183 1700 1173M1700 1173Q1702 1170 1700 1167M1720 1158Q1713 1160 1707 1161M1700 1167Q1701 1163 1707 1161M1636 1065Q1641 1068 1645 1076M1671 1054Q1670 1059 1672 1067M1645 1076Q1659 1069 1672 1067M1705 1056Q1704 1053 1704 1051M1705 1056Q1693 1064 1675 1069M1675 1069Q1675 1067 1672 1067M1705 1056Q1712 1059 1716 1066M1716 1066Q1700 1077 1681 1083M1675 1069Q1677 1078 1681 1083M1716 1066Q1717 1066 1717 1067M1717 1067Q1716 1081 1718 1093M1691 1095Q1706 1092 1718 1093M1691 1095Q1688 1090 1682 1089M1681 1083Q1681 1084 1682 1089M1615 887Q1617 889 1616 888M1615 887Q1618 883 1623 879M1643 891Q1636 897 1626 901M1616 888Q1619 894 1626 901M1621 992Q1620 979 1620 966M1648 977Q1647 976 1645 972M1645 972Q1633 971 1620 966M1601 962Q1596 968 1591 974M1601 962Q1607 957 1611 956M1611 956Q1614 959 1620 966M1681 926Q1666 931 1652 932M1663 897Q1653 913 1645 924M1645 924Q1647 929 1652 932M1661 947Q1658 946 1653 942M1652 932Q1652 936 1653 942M1645 972Q1644 964 1642 956M1653 942Q1648 949 1642 956M1852 991Q1846 983 1843 979M1843 979Q1851 970 1862 963M1862 938Q1853 945 1846 948M1862 963Q1856 956 1846 948M1837 930Q1836 941 1838 947M1846 948Q1843 947 1838 947M1570 943Q1569 955 1568 962M1570 943Q1560 935 1552 929M1568 962Q1554 962 1543 962M1552 929Q1544 944 1537 954M1537 954Q1542 960 1543 962M1601 962Q1592 950 1581 937M1581 937Q1576 941 1570 943M1576 971Q1572 965 1568 962M1581 937Q1586 934 1586 931M1552 928Q1561 922 1573 914M1552 928Q1551 928 1552 929M1573 914Q1579 924 1586 931M1536 986Q1538 975 1543 962M1519 949Q1520 936 1524 927M1519 949Q1517 951 1519 950M1519 950Q1530 950 1537 954M1524 927Q1532 925 1544 920M1552 928Q1547 923 1544 920M1513 961Q1516 953 1519 950M1472 1176Q1479 1177 1486 1181M1472 1176Q1463 1183 1450 1193M1486 1181Q1483 1195 1476 1208M1476 1208Q1466 1207 1453 1202M1450 1193Q1451 1197 1453 1202M1472 1175Q1470 1175 1472 1176M1495 1180Q1493 1182 1486 1181M1433 1181Q1441 1187 1450 1193M1486 1220Q1482 1215 1476 1208M1447 1217Q1452 1208 1453 1202M1540 1124Q1545 1134 1551 1142M1574 1134Q1566 1120 1556 1106M1574 1134Q1573 1135 1572 1138M1551 1142Q1564 1139 1572 1138M1534 1161Q1539 1158 1543 1154M1551 1142Q1546 1147 1543 1154M1576 1216Q1580 1224 1581 1233M1576 1216Q1571 1215 1565 1210M1552 1211Q1559 1212 1565 1210M1581 1233Q1582 1234 1580 1236M1714 1228Q1700 1227 1681 1225M1681 1225Q1679 1233 1677 1236M1576 1216Q1583 1210 1591 1207M1581 1233Q1597 1231 1615 1231M1591 1207Q1602 1218 1615 1231M1588 1090Q1577 1091 1563 1090M1588 1090Q1589 1090 1589 1091M1589 1091Q1583 1097 1580 1104M1580 1104Q1569 1101 1561 1099M1561 1099Q1564 1097 1563 1090M1566 1070Q1564 1078 1563 1090M1577 1069Q1580 1079 1588 1090M1609 1083Q1607 1084 1609 1090M1609 1090Q1600 1089 1589 1091M1591 1117Q1584 1109 1580 1104M1610 1112Q1611 1107 1612 1097M1612 1097Q1612 1094 1609 1090M1582 1129Q1578 1132 1574 1134M1557 1102Q1560 1101 1561 1099M1616 789Q1616 795 1616 804M1635 803Q1631 805 1622 811M1616 804Q1617 808 1622 811M1626 828Q1623 829 1625 826M1622 811Q1625 818 1625 826M1604 855Q1591 856 1574 851M1604 855Q1606 850 1611 849M1611 849Q1599 840 1587 828M1574 851Q1580 842 1587 828M1615 887Q1605 882 1599 875M1599 875Q1600 864 1604 855M1616 847Q1615 846 1611 849M1585 821Q1606 825 1625 826M1585 821Q1585 825 1587 828M1492 866Q1503 855 1517 850M1510 875Q1508 878 1505 877M1510 875Q1519 864 1525 853M1517 850Q1523 852 1525 853M1482 850Q1492 841 1503 832M1517 850Q1510 839 1503 832M1501 823Q1501 823 1504 827M1503 832Q1506 832 1504 827M1599 875Q1593 878 1583 881M1566 856Q1566 855 1566 859M1566 856Q1570 852 1574 851M1566 859Q1575 868 1583 881M1616 888Q1604 897 1597 905M1597 905Q1589 899 1579 896M1583 881Q1584 886 1579 896M1526 894Q1526 885 1528 879M1526 894Q1527 899 1531 901M1542 905Q1550 899 1553 894M1542 905Q1535 903 1531 901M1553 894Q1549 889 1549 880M1549 880Q1540 875 1534 874M1534 874Q1533 877 1528 879M1505 893Q1515 892 1526 894M1510 875Q1519 876 1528 879M1510 916Q1522 909 1531 901M1510 916Q1500 915 1495 913M1495 913Q1495 908 1494 908M1544 920Q1543 912 1542 905M1573 914Q1575 907 1576 897M1576 897Q1562 896 1553 894M1524 927Q1515 923 1510 916M1566 859Q1557 868 1549 880M1579 896Q1577 896 1576 897M1566 856Q1555 846 1546 840M1546 840Q1538 846 1531 853M1531 853Q1533 863 1534 874M1531 853Q1526 854 1525 853M1457 926Q1457 925 1457 926M1457 926Q1459 928 1456 931M1457 926Q1472 922 1491 921M1456 931Q1464 939 1471 949M1471 949Q1478 950 1485 948M1485 948Q1491 940 1493 936M1493 936Q1491 926 1491 921M1442 916Q1450 919 1457 926M1462 900Q1460 911 1457 926M1444 941Q1450 936 1456 931M1495 913Q1495 919 1491 921M1457 972Q1464 960 1471 949M1493 970Q1491 957 1485 948M1519 949Q1508 940 1493 936M1727 1062Q1727 1045 1730 1028M1727 1062Q1740 1063 1753 1066M1730 1028Q1744 1044 1757 1059M1753 1066Q1753 1063 1757 1059M1717 1067Q1723 1063 1727 1062M1730 1027Q1728 1029 1730 1028M1729 1099Q1726 1098 1720 1095M1755 1076Q1755 1071 1753 1066M1718 1093Q1722 1092 1720 1095M1761 1055Q1760 1059 1757 1059M1691 1095Q1689 1102 1692 1111M1720 1095Q1714 1108 1703 1124M1692 1111Q1699 1120 1703 1124M1716 1134Q1712 1129 1703 1129M1707 1161Q1699 1150 1693 1137M1703 1129Q1698 1135 1693 1137M1703 1129Q1703 1126 1703 1124M1641 1092Q1646 1103 1649 1117M1641 1092Q1644 1090 1645 1086M1645 1086Q1657 1090 1673 1095M1649 1117Q1657 1111 1666 1108M1673 1095Q1670 1102 1666 1108M1614 1118Q1630 1119 1648 1118M1612 1097Q1625 1092 1641 1092M1648 1118Q1649 1117 1649 1117M1645 1076Q1643 1080 1645 1086M1682 1089Q1675 1090 1673 1095M1692 1111Q1686 1113 1677 1118M1677 1118Q1670 1112 1666 1108M1645 1134Q1644 1145 1644 1161M1645 1134Q1647 1128 1649 1124M1649 1124Q1665 1133 1678 1142M1644 1161Q1659 1156 1674 1155M1674 1155Q1678 1150 1678 1142M1678 1142Q1677 1139 1678 1142M1643 1161Q1631 1154 1613 1144M1643 1161Q1644 1162 1644 1161M1615 1138Q1628 1136 1645 1134M1648 1118Q1651 1122 1649 1124M1677 1118Q1679 1130 1678 1142M1700 1167Q1687 1160 1675 1155M1675 1155Q1675 1154 1674 1155M1693 1137Q1687 1137 1678 1142M1600 927Q1600 924 1603 920M1600 927Q1605 941 1613 951M1603 920Q1616 919 1627 915M1613 951Q1617 951 1621 948M1621 948Q1629 934 1637 924M1627 915Q1633 921 1637 924M1586 931Q1595 928 1600 927M1597 905Q1602 911 1603 920M1611 956Q1611 952 1613 951M1626 901Q1629 907 1627 915M1642 956Q1631 950 1621 948M1645 924Q1640 922 1637 924M1827 972Q1827 964 1831 953M1827 972Q1823 976 1818 978M1812 974Q1814 978 1818 978M1812 974Q1803 960 1796 949M1831 953Q1815 948 1802 939M1796 949Q1799 943 1802 939M1843 979Q1836 974 1827 972M1838 947Q1833 952 1831 953M1816 985Q1818 983 1818 978M1786 971Q1800 970 1812 974M1781 959Q1790 952 1796 949M1800 927Q1798 932 1802 939M1571 1166Q1577 1157 1578 1152M1571 1166Q1569 1171 1570 1176M1574 1181Q1572 1180 1570 1176M1574 1181Q1587 1185 1600 1185M1578 1152Q1592 1158 1602 1158M1602 1158Q1605 1169 1605 1175M1600 1185Q1603 1180 1605 1175M1543 1154Q1556 1160 1571 1166M1572 1138Q1576 1144 1578 1152M1558 1178Q1566 1174 1570 1176M1565 1210Q1570 1196 1574 1181M1591 1207Q1594 1202 1601 1194M1601 1194Q1601 1188 1600 1185M1611 1145Q1605 1151 1602 1158M1593 779Q1588 792 1580 804M1616 804Q1600 807 1583 810M1580 804Q1582 809 1583 810M1585 821Q1581 817 1582 813M1582 813Q1581 813 1583 810M1700 1173Q1694 1184 1685 1190M1675 1155Q1673 1164 1675 1178M1675 1178Q1680 1182 1685 1190M1712 1201Q1701 1199 1686 1200M1685 1190Q1685 1194 1686 1200M1681 1225Q1679 1219 1678 1210M1686 1200Q1682 1203 1678 1210M1668 1236Q1656 1231 1648 1228M1648 1228Q1658 1218 1668 1208M1678 1210Q1672 1207 1668 1208M1627 1212Q1629 1212 1628 1213M1627 1212Q1628 1192 1626 1176M1628 1213Q1639 1206 1650 1196M1650 1196Q1652 1189 1650 1186M1650 1186Q1644 1179 1641 1169M1641 1169Q1631 1171 1626 1176M1601 1194Q1614 1202 1627 1212M1605 1175Q1614 1176 1626 1176M1675 1178Q1664 1183 1650 1186M1668 1208Q1657 1202 1650 1196M1643 1161Q1641 1165 1641 1169M1503 799Q1512 806 1522 810M1504 827Q1514 823 1522 820M1522 810Q1521 814 1522 820M1546 840Q1544 836 1546 832M1522 820Q1534 826 1546 832M1582 813Q1563 822 1547 830M1546 832Q1545 831 1547 830M1580 804Q1572 799 1562 793M1547 830Q1544 813 1547 799M1522 810Q1528 799 1531 791M1640 1252Q1638 1241 1631 1230M1631 1230Q1629 1231 1627 1228M1627 1228Q1624 1228 1618 1232M1618 1232Q1611 1244 1608 1252M1648 1228Q1640 1230 1631 1230M1628 1213Q1625 1218 1627 1228M1615 1231Q1617 1233 1618 1232" fill="none" stroke="#5f645c" stroke-width="0.9" stroke-opacity="0.75"/>
<circle cx="1433.9" cy="816.2" r="9.0" fill="url(#ag)"/>
<circle cx="1448.4" cy="832.9" r="9.0" fill="url(#ag)"/>
<circle cx="1516.8" cy="829.1" r="9.0" fill="url(#ag)"/>
<circle cx="1498.5" cy="841.3" r="9.0" fill="url(#ag)"/>
<circle cx="1449.9" cy="857.2" r="9.0" fill="url(#ag)"/>
<circle cx="1458.3" cy="862.5" r="9.0" fill="url(#ag)"/>
<circle cx="1586.0" cy="835.9" r="9.0" fill="url(#ag)"/>
<circle cx="1611.1" cy="810.1" r="9.0" fill="url(#ag)"/>
<circle cx="1620.2" cy="816.2" r="9.0" fill="url(#ag)"/>
<circle cx="1625.5" cy="832.1" r="9.0" fill="url(#ag)"/>
<circle cx="1577.6" cy="859.5" r="9.0" fill="url(#ag)"/>
<circle cx="1585.2" cy="867.9" r="9.0" fill="url(#ag)"/>
<circle cx="1626.3" cy="869.4" r="9.0" fill="url(#ag)"/>
<circle cx="1618.7" cy="879.3" r="9.0" fill="url(#ag)"/>
<circle cx="1506.9" cy="880.8" r="9.0" fill="url(#ag)"/>
<circle cx="1574.6" cy="890.7" r="9.0" fill="url(#ag)"/>
<circle cx="1574.6" cy="902.1" r="9.0" fill="url(#ag)"/>
<circle cx="1529.7" cy="914.2" r="9.0" fill="url(#ag)"/>
<circle cx="1544.9" cy="918.8" r="9.0" fill="url(#ag)"/>
<circle cx="1546.4" cy="930.2" r="9.0" fill="url(#ag)"/>
<circle cx="1468.9" cy="921.8" r="9.0" fill="url(#ag)"/>
<circle cx="1601.2" cy="930.2" r="9.0" fill="url(#ag)"/>
<circle cx="1482.6" cy="952.2" r="9.0" fill="url(#ag)"/>
<circle cx="1495.5" cy="956.8" r="9.0" fill="url(#ag)"/>
<circle cx="1507.7" cy="956.1" r="9.0" fill="url(#ag)"/>
<circle cx="1534.3" cy="972.0" r="9.0" fill="url(#ag)"/>
<circle cx="1564.7" cy="977.3" r="9.0" fill="url(#ag)"/>
<circle cx="1628.5" cy="996.3" r="9.0" fill="url(#ag)"/>
<circle cx="1599.7" cy="1003.9" r="9.0" fill="url(#ag)"/>
<circle cx="1497.0" cy="1016.9" r="9.0" fill="url(#ag)"/>
<circle cx="1649.7" cy="813.9" r="9.0" fill="url(#ag)"/>
<circle cx="1677.1" cy="839.0" r="9.0" fill="url(#ag)"/>
<circle cx="1719.6" cy="820.7" r="9.0" fill="url(#ag)"/>
<circle cx="1724.9" cy="831.4" r="9.0" fill="url(#ag)"/>
<circle cx="1801.7" cy="811.6" r="9.0" fill="url(#ag)"/>
<circle cx="1807.8" cy="816.9" r="9.0" fill="url(#ag)"/>
<circle cx="1762.2" cy="848.9" r="9.0" fill="url(#ag)"/>
<circle cx="1812.4" cy="853.4" r="9.0" fill="url(#ag)"/>
<circle cx="1662.6" cy="889.9" r="9.0" fill="url(#ag)"/>
<circle cx="1668.7" cy="899.8" r="9.0" fill="url(#ag)"/>
<circle cx="1722.7" cy="890.7" r="9.0" fill="url(#ag)"/>
<circle cx="1731.8" cy="886.1" r="9.0" fill="url(#ag)"/>
<circle cx="1790.3" cy="889.1" r="9.0" fill="url(#ag)"/>
<circle cx="1698.3" cy="927.2" r="9.0" fill="url(#ag)"/>
<circle cx="1742.4" cy="923.4" r="9.0" fill="url(#ag)"/>
<circle cx="1794.1" cy="937.0" r="9.0" fill="url(#ag)"/>
<circle cx="1804.8" cy="942.4" r="9.0" fill="url(#ag)"/>
<circle cx="1813.1" cy="945.4" r="9.0" fill="url(#ag)"/>
<circle cx="1709.0" cy="973.5" r="9.0" fill="url(#ag)"/>
<circle cx="1719.6" cy="977.3" r="9.0" fill="url(#ag)"/>
<circle cx="1775.9" cy="974.3" r="9.0" fill="url(#ag)"/>
<circle cx="1779.7" cy="983.4" r="9.0" fill="url(#ag)"/>
<circle cx="1654.2" cy="984.9" r="9.0" fill="url(#ag)"/>
<circle cx="1699.9" cy="1007.0" r="9.0" fill="url(#ag)"/>
<circle cx="1707.5" cy="1012.3" r="9.0" fill="url(#ag)"/>
<circle cx="1648.2" cy="1016.1" r="9.0" fill="url(#ag)"/>
<circle cx="1478.8" cy="1029.6" r="9.0" fill="url(#ag)"/>
<circle cx="1487.9" cy="1034.2" r="9.0" fill="url(#ag)"/>
<circle cx="1539.6" cy="1060.1" r="9.0" fill="url(#ag)"/>
<circle cx="1595.1" cy="1060.8" r="9.0" fill="url(#ag)"/>
<circle cx="1636.1" cy="1040.7" r="9.0" fill="url(#ag)"/>
<circle cx="1494.0" cy="1104.1" r="9.0" fill="url(#ag)"/>
<circle cx="1576.9" cy="1101.1" r="9.0" fill="url(#ag)"/>
<circle cx="1575.3" cy="1110.2" r="9.0" fill="url(#ag)"/>
<circle cx="1578.4" cy="1117.8" r="9.0" fill="url(#ag)"/>
<circle cx="1589.0" cy="1119.4" r="9.0" fill="url(#ag)"/>
<circle cx="1597.4" cy="1103.4" r="9.0" fill="url(#ag)"/>
<circle cx="1608.0" cy="1097.3" r="9.0" fill="url(#ag)"/>
<circle cx="1590.5" cy="1130.0" r="9.0" fill="url(#ag)"/>
<circle cx="1600.4" cy="1137.6" r="9.0" fill="url(#ag)"/>
<circle cx="1630.1" cy="1090.5" r="9.0" fill="url(#ag)"/>
<circle cx="1568.5" cy="1169.5" r="9.0" fill="url(#ag)"/>
<circle cx="1455.2" cy="1177.9" r="9.0" fill="url(#ag)"/>
<circle cx="1469.7" cy="1182.5" r="9.0" fill="url(#ag)"/>
<circle cx="1539.6" cy="1201.5" r="9.0" fill="url(#ag)"/>
<circle cx="1557.8" cy="1215.1" r="9.0" fill="url(#ag)"/>
<circle cx="1561.6" cy="1225.8" r="9.0" fill="url(#ag)"/>
<circle cx="1605.0" cy="1207.5" r="9.0" fill="url(#ag)"/>
<circle cx="1598.9" cy="1215.1" r="9.0" fill="url(#ag)"/>
<circle cx="1632.4" cy="1206.0" r="9.0" fill="url(#ag)"/>
<circle cx="1645.1" cy="1031.2" r="9.0" fill="url(#ag)"/>
<circle cx="1695.3" cy="1054.0" r="9.0" fill="url(#ag)"/>
<circle cx="1698.3" cy="1060.8" r="9.0" fill="url(#ag)"/>
<circle cx="1754.6" cy="1057.0" r="9.0" fill="url(#ag)"/>
<circle cx="1726.5" cy="1093.5" r="9.0" fill="url(#ag)"/>
<circle cx="1684.7" cy="1100.3" r="9.0" fill="url(#ag)"/>
<circle cx="1788.1" cy="1104.1" r="9.0" fill="url(#ag)"/>
<circle cx="1839.7" cy="1096.5" r="9.0" fill="url(#ag)"/>
<circle cx="1842.8" cy="1090.5" r="9.0" fill="url(#ag)"/>
<circle cx="1645.1" cy="1111.8" r="9.0" fill="url(#ag)"/>
<circle cx="1651.2" cy="1114.8" r="9.0" fill="url(#ag)"/>
<circle cx="1664.1" cy="1132.3" r="9.0" fill="url(#ag)"/>
<circle cx="1699.9" cy="1152.8" r="9.0" fill="url(#ag)"/>
<circle cx="1702.9" cy="1168.0" r="9.0" fill="url(#ag)"/>
<circle cx="1763.7" cy="1152.8" r="9.0" fill="url(#ag)"/>
<circle cx="1791.9" cy="1152.0" r="9.0" fill="url(#ag)"/>
<circle cx="1785.8" cy="1162.7" r="9.0" fill="url(#ag)"/>
<circle cx="1723.4" cy="1201.5" r="9.0" fill="url(#ag)"/>
<circle cx="1678.6" cy="1215.9" r="9.0" fill="url(#ag)"/>
<circle cx="1833.7" cy="1196.9" r="9.0" fill="url(#ag)"/>
<circle cx="1753.8" cy="1213.6" r="9.0" fill="url(#ag)"/>
<circle cx="1757.6" cy="1222.7" r="9.0" fill="url(#ag)"/>
<circle cx="1789.6" cy="1212.1" r="9.0" fill="url(#ag)"/>
<circle cx="1798.7" cy="1221.2" r="9.0" fill="url(#ag)"/>
<circle cx="1807.8" cy="1221.2" r="9.0" fill="url(#ag)"/>
<circle cx="1645.1" cy="1225.8" r="9.0" fill="url(#ag)"/>
</g></g>
<rect x="1420.8" y="803.9" width="430.2" height="430.7" fill="none" stroke="#cfcfcf" stroke-width="1.6"/>
<rect x="1423.3" y="806.4" width="425.2" height="425.7" fill="none" stroke="#000" stroke-width="3.8"/>
<text x="1555.29" y="1298.60" font-size="38.20" textLength="20.73" lengthAdjust="spacingAndGlyphs" font-style="italic">T</text>
<text x="1575.50" y="1304.80" font-size="23.00" textLength="10.67" lengthAdjust="spacingAndGlyphs">s</text>
<text x="1592.09" y="1298.60" font-size="38.20" textLength="22.62" lengthAdjust="spacingAndGlyphs">=</text>
<text x="1622.18" y="1298.60" font-size="38.20" textLength="70.83" lengthAdjust="spacingAndGlyphs">2000</text>
<text x="1699.85" y="1298.60" font-size="38.20" textLength="27.61" lengthAdjust="spacingAndGlyphs">K</text>
</g>
<text x="448.7" y="788.7" font-size="48.3" textLength="52.2" lengthAdjust="spacingAndGlyphs">(<tspan font-weight="bold">a</tspan>)</text>
<text x="1403.1" y="789.7" font-size="48.3" textLength="58.4" lengthAdjust="spacingAndGlyphs">(<tspan font-weight="bold">b</tspan>)</text>
<text x="919.9" y="1375.4" font-size="48.3" textLength="50.9" lengthAdjust="spacingAndGlyphs">(<tspan font-weight="bold">c</tspan>)</text>
</svg></body></html>
